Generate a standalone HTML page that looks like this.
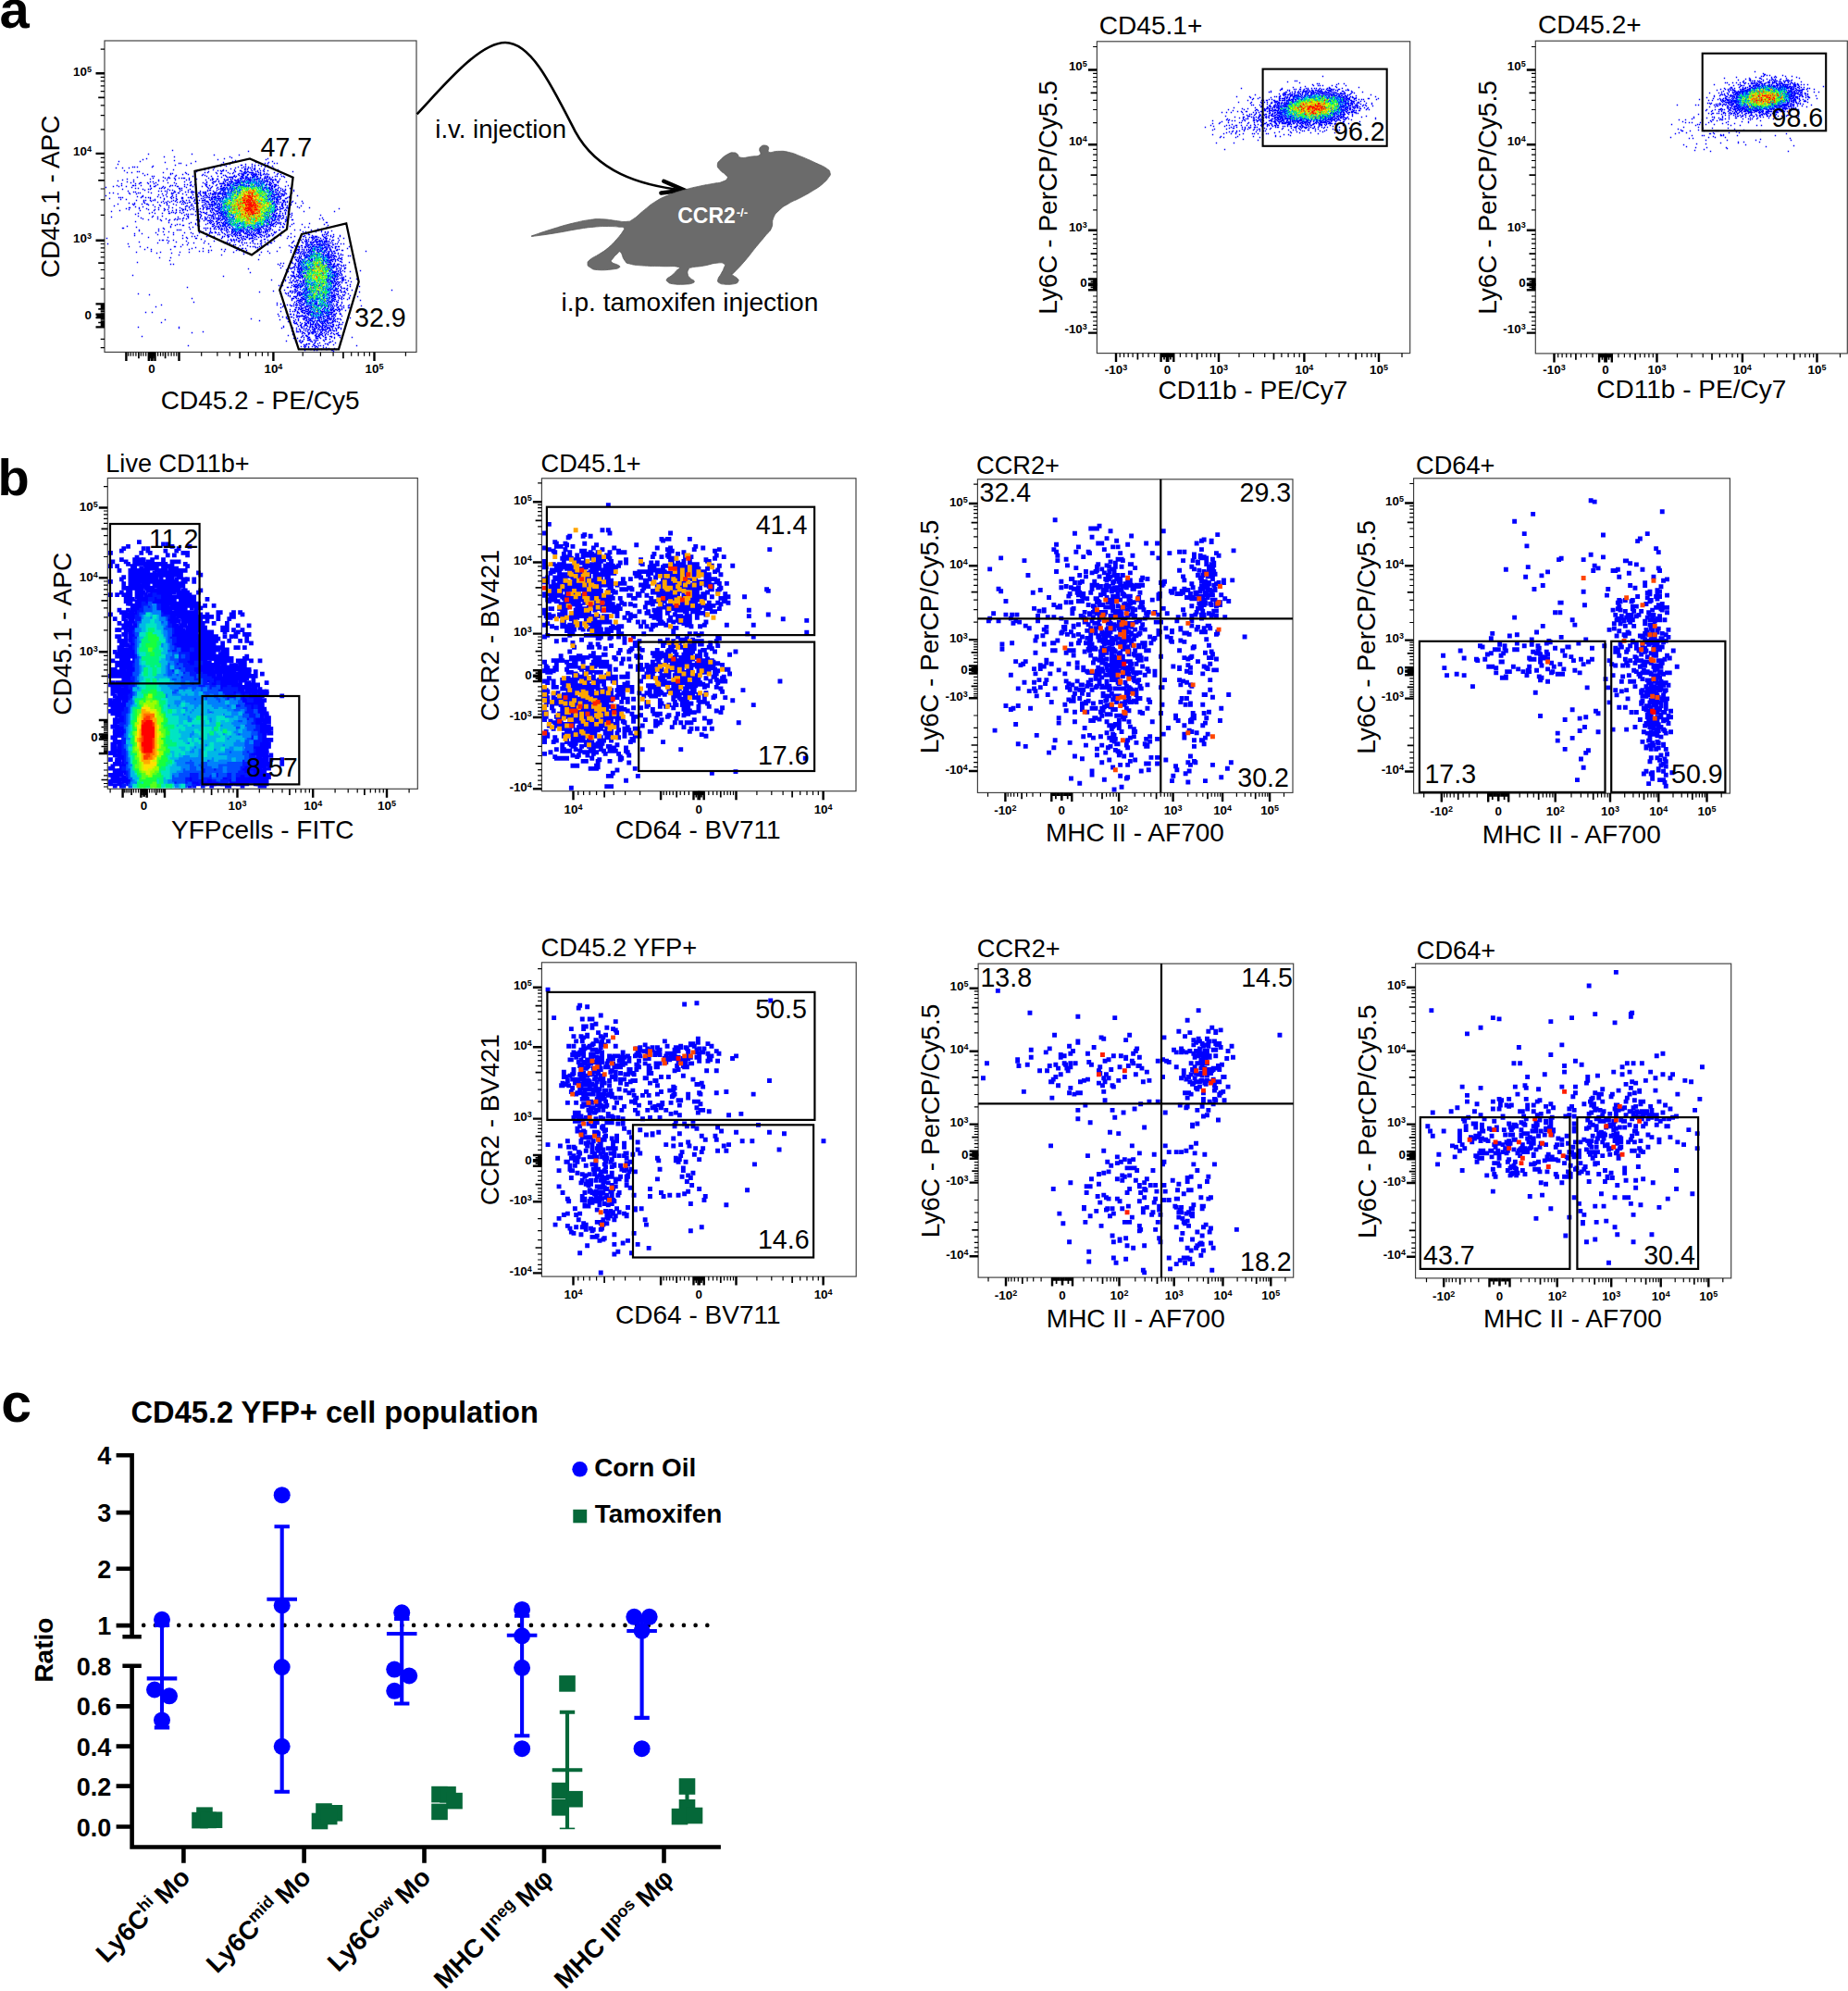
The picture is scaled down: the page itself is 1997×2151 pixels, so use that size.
<!DOCTYPE html>
<html lang="en"><head><meta charset="utf-8"><title>Figure</title>
<style>html,body{margin:0;padding:0;background:#fff;overflow:hidden}svg{display:block}text{font-family:"Liberation Sans",sans-serif}</style></head>
<body>
<svg width="1997" height="2151" viewBox="0 0 1997 2151" font-family="'Liberation Sans', sans-serif" shape-rendering="auto">
<text x="-0.5" y="30.4" font-size="58" font-weight="bold">a</text>
<rect x="113" y="44" width="337" height="336.4" fill="#fff" stroke="#3c3c3c" stroke-width="1.15"/>
<g transform="translate(113.5 44.5) scale(1)" fill="none" stroke-linecap="square" stroke-width="1.4">
<path d="M73 118h0m82 1h0m-108 3h0m47 0h0m24 1h0m27 0h0m-81 2h0m11 0h0m60 0h0m2 1h0m-92 1h0m84 0h0m47 0h0m-135 1h0m81 0h0m52 0h0m-99 1h0m66 0h0m-126 1h0m23 0h0m60 0h0m40 0h0m43 0h0m-116 1h0m63 0h0m35 0h0m14 0h0m-97 1h0m2 0h0m11 0h0m80 0h0m3 0h0m7 0h0m3 0h0m-172 1h0m112 0h0m2 0h0m7 0h0m17 0h0m7 0h0m10 0h0m-93 1h0m12 0h0m41 0h0m18 0h1m14 0h0m4 0h0m10 0h0m-124 1h0m73 0h0m6 0h0m21 0h0m7 0h0m3 0h0m7 0h0m12 0h0m-151 1h0m2 0h0m3 0h0m16 0h0m93 0h0m6 0h0m23 0h0m4 0h0m-165 1h0m7 0h0m7 0h0m92 0h0m23 0h0m7 0h0m9 0h0m5 0h0m20 0h0m-115 1h0m45 0h0m24 0h0m31 0h0m-93 1h0m34 0h0m9 0h0m11 0h0m12 0h0m11 0h0m11 0h0m10 0h0m15 0h0m-166 1h0m101 0h0m5 0h1m3 0h0m9 0h0m7 0h0m18 0h0m3 0h0m8 0h0m-141 1h0m2 0h0m62 0h0m13 0h0m29 0h0m22 0h0m40 0h0m-179 1h0m5 0h0m34 0h0m24 0h0m21 0h0m3 0h0m9 0h0m13 0h0m6 0h0m12 0h0m2 0h0m30 0h0m-142 1h0m30 0h0m2 0h0m15 0h0m33 0h0m4 0h1m9 0h0m10 0h0m4 0h0m14 0h0m12 0h0m12 0h0m-141 1h0m25 0h0m13 0h0m6 0h0m16 0h0m38 0h0m11 0h0m18 0h0m2 0h0m2 0h0m9 0h0m4 0h0m-147 1h0m34 0h0m28 0h0m3 0h0m20 0h0m12 0h0m22 0h0m7 0h0m-118 1h0m2 0h0m23 0h0m19 0h0m15 0h0m5 0h0m7 0h0m9 0h0m8 0h1m25 0h0m19 0h0m2 0h0m5 0h0m2 0h0m-158 1h0m28 0h0m6 0h0m57 0h0m52 0h0m3 0h0m13 0h0m-142 1h0m13 0h0m3 0h0m2 0h0m5 0h0m5 0h0m3 0h0m2 0h1m5 0h0m21 0h0m4 0h0m-92 1h0m25 0h0m27 0h0m15 0h0m8 0h0m17 0h1m4 0h1m11 0h0m51 0h0m5 0h0m-170 1h0m12 0h0m27 0h0m9 0h0m9 0h0m12 0h0m3 0h0m18 0h0m5 0h0m15 0h0m15 0h0m12 0h0m25 0h0m-167 1h0m44 0h0m5 0h0m57 0h0m3 0h0m21 0h0m44 0h0m-164 1h0m7 0h0m18 0h0m3 0h0m34 0h0m7 0h0m24 0h2m4 0h0m22 0h0m36 0h0m5 0h1m9 0h0m-168 1h0m10 0h1m7 0h0m9 0h0m13 0h0m7 0h0m17 0h0m14 0h0m4 0h0m6 0h0m12 0h0m13 0h0m-123 1h0m15 0h0m4 0h0m10 0h0m6 0h0m24 0h0m40 0h0m7 0h0m5 0h0m26 0h0m23 0h0m-121 1h0m29 0h0m3 0h0m4 0h0m4 0h1m12 0h0m73 0h0m2 0h0m-172 1h0m5 0h0m12 0h1m2 0h0m6 0h0m10 0h0m6 0h0m16 0h0m2 0h0m3 0h0m16 0h1m16 0h0m4 0h0m27 0h0m45 0h0m2 0h0m11 0h0m-189 1h0m6 0h0m8 0h0m26 0h0m4 0h1m9 0h0m7 0h0m8 0h1m7 0h0m9 0h0m10 0h0m11 0h0m9 0h0m70 0h0m-194 1h0m28 0h0m36 0h0m23 0h0m23 0h0m4 0h0m7 0h0m7 0h0m44 0h0m10 0h0m5 0h0m-155 1h0m3 0h0m14 0h0m9 0h0m2 0h0m3 0h0m16 0h1m2 0h0m31 0h0m12 0h0m2 0h0m2 0h0m60 0h0m10 0h0m-181 1h0m22 0h0m6 0h0m2 0h0m19 0h0m13 0h0m11 0h0m103 0h0m6 0h0m-158 1h0m27 0h0m3 0h0m10 0h0m7 0h0m21 0h0m2 0h0m8 0h0m59 0h0m24 0h0m-179 1h0m33 0h0m3 0h0m4 0h0m2 0h0m8 0h0m6 0h0m13 0h0m9 0h0m8 0h0m68 0h0m25 0h0m-173 1h0m2 0h0m14 0h0m28 0h1m11 0h0m3 0h0m3 0h0m2 0h0m3 0h0m5 0h0m3 0h0m-101 1h0m4 0h0m17 0h0m10 0h0m2 0h0m12 0h0m17 0h0m5 0h0m7 0h1m14 0h0m8 0h0m5 0h0m12 0h0m8 0h0m75 0h0m-188 1h0m13 0h0m7 0h0m28 0h0m10 0h1m11 0h0m19 0h0m5 0h0m8 0h0m8 0h0m72 0h0m-138 1h0m8 0h0m11 0h0m11 0h0m12 0h0m3 0h0m14 0h0m2 0h0m61 0h0m13 0h0m-192 1h0m40 0h0m22 0h0m10 0h0m40 0h0m95 0h0m-173 1h0m5 0h1m16 0h0m10 0h0m10 0h0m16 0h0m6 0h0m90 0h0m-174 1h0m2 0h0m2 0h0m20 0h0m5 0h0m3 0h0m2 0h0m11 0h0m11 0h0m3 0h0m9 0h1m6 0h0m2 0h1m3 0h0m12 0h0m2 0h0m7 0h0m80 0h0m2 0h0m2 0h0m-196 1h0m44 0h0m15 0h0m8 0h0m5 0h0m6 0h0m11 0h0m12 0h0m84 0h0m6 0h0m5 0h0m-184 1h0m6 0h0m31 0h0m10 0h0m14 0h0m-44 1h0m8 0h0m7 0h0m3 0h0m2 0h0m20 0h0m3 0h0m7 0h0m4 0h0m9 0h0m5 0h0m12 0h0m72 0h0m-136 1h0m18 0h0m4 0h0m10 0h0m3 0h0m11 0h0m14 0h0m73 0h0m20 0h0m10 0h0m-171 1h0m15 0h0m4 0h0m5 0h0m4 0h0m8 0h0m8 0h0m5 0h1m33 0h0m65 0h0m12 0h0m-176 1h0m6 0h0m11 0h0m21 0h0m3 0h0m20 0h0m2 0h0m9 0h0m3 0h0m105 0h0m8 0h0m-200 1h0m16 0h0m2 0h0m8 0h0m5 0h1m21 0h0m7 0h0m9 0h0m2 0h0m9 0h0m19 0h0m78 0h0m4 0h0m6 0h0m-170 1h0m16 0h0m5 0h0m7 0h0m8 0h0m10 0h0m16 0h0m17 0h0m91 0h0m-191 1h0m50 0h0m9 0h0m19 0h0m5 0h0m2 0h0m5 0h0m112 0h0m-179 1h0m8 0h0m13 0h0m33 0h0m12 0h1m6 0h0m3 0h0m80 0h0m19 0h0m-182 1h1m10 0h0m21 0h0m11 0h0m4 0h0m8 0h0m26 0h0m12 0h0m77 0h0m2 0h1m11 0h0m11 0h0m-198 1h0m14 0h0m8 0h0m19 0h0m19 0h0m4 0h0m7 0h0m9 0h0m3 0h0m4 0h0m3 0h0m2 0h1m70 0h0m12 0h0m55 0h0m-227 1h0m21 0h0m7 0h0m4 0h0m7 0h0m3 0h0m9 0h0m7 0h0m3 0h0m5 0h0m4 0h0m3 0h0m2 0h0m5 0h0m73 0h0m10 0h0m-173 1h0m22 0h0m15 0h0m11 0h0m9 0h0m4 0h0m4 0h0m3 0h0m5 0h0m-82 1h0m62 0h0m29 0h0m3 0h0m2 0h0m17 0h0m69 0h0m9 0h0m17 0h0m33 0h0m-197 1h0m21 0h0m2 0h0m3 0h0m4 0h0m4 0h0m21 0h1m3 0h0m7 0h0m81 0h0m-162 1h0m12 0h0m6 0h0m8 0h0m7 0h1m6 0h0m7 0h0m25 0h0m73 0h0m5 0h0m3 0h0m13 0h0m-169 1h0m55 0h0m2 0h0m3 0h0m2 0h0m7 0h1m7 0h0m90 0h0m-114 1h0m12 0h0m6 0h0m27 0h0m61 0h0m10 0h0m31 0h0m-197 1h0m16 0h0m10 0h0m27 0h1m35 0h0m2 0h0m66 0h0m-186 1h0m44 0h0m6 0h0m22 0h0m11 0h0m18 0h0m3 0h0m73 0h0m5 0h0m12 0h0m-162 1h0m46 0h0m5 0h0m10 0h0m9 0h0m4 0h0m4 0h0m72 0h0m3 0h1m42 0h0m-194 1h0m16 0h0m9 0h0m10 0h0m3 0h0m2 0h0m3 0h0m4 0h0m17 0h0m3 0h0m10 0h0m5 0h0m16 0h0m52 0h0m5 0h0m36 0h0m-185 1h0m13 0h0m10 0h0m5 0h0m3 0h0m21 0h0m3 0h0m93 0h0m2 0h0m5 0h1m33 0h0m-175 1h0m8 0h0m15 0h0m18 0h0m9 0h1m9 0h0m75 0h0m-163 1h0m152 0h0m10 0h0m-126 1h0m24 0h0m95 0h0m51 0h1m-149 1h0m7 0h0m13 0h0m10 0h0m62 0h0m4 0h0m2 0h0m4 0h0m11 0h0m17 0h0m-149 1h0m6 0h0m3 0h0m17 0h0m3 0h0m8 0h0m8 0h0m4 0h0m64 0h0m5 0h0m4 0h0m8 0h0m11 0h0m24 0h0m-161 1h0m8 0h1m15 0h0m25 0h0m116 0h0m-217 1h0m47 0h0m31 0h0m80 0h0m10 0h0m8 0h0m-166 1h0m37 0h0m20 0h0m4 0h0m24 0h0m3 0h1m66 0h0m3 0h0m24 0h0m4 0h0m20 0h0m-221 1h1m43 0h0m44 0h0m2 0h0m2 0h0m3 0h0m21 0h0m104 0h0m-181 1h0m6 0h0m28 0h0m26 0h0m2 0h0m45 0h0m65 0h0m4 0h0m-197 1h0m41 0h0m2 0h0m2 0h0m27 0h0m17 0h0m5 0h0m2 0h0m42 0h0m6 0h0m7 0h1m16 0h0m6 0h0m12 0h0m8 0h0m-194 1h0m21 0h0m45 0h0m11 0h0m24 0h0m7 0h0m89 0h0m11 0h0m-182 1h0m6 0h0m37 0h0m8 0h0m5 0h0m7 0h0m8 0h0m49 0h0m8 0h0m23 0h0m3 0h0m6 0h0m5 0h0m6 0h0m4 0h0m-183 1h0m19 0h0m12 0h0m7 0h0m9 0h0m13 0h1m3 0h1m3 0h0m4 0h0m56 0h1m7 0h0m50 0h0m-209 1h0m8 0h0m55 0h0m15 0h0m3 0h0m16 0h0m31 0h0m20 0h0m21 0h0m17 0h0m-161 1h0m7 0h0m10 0h0m48 0h0m2 0h0m6 0h0m3 0h0m6 0h0m15 0h0m13 0h0m10 0h0m5 0h0m38 0h1m14 0h0m4 0h0m8 0h0m-215 1h0m52 0h0m16 0h0m11 0h0m48 0h0m11 0h0m2 0h0m6 0h0m3 0h0m9 0h0m26 0h0m19 0h0m6 0h0m13 0h0m-160 1h0m3 0h0m13 0h0m8 0h0m9 0h0m11 0h0m12 0h0m14 0h0m4 0h0m9 0h0m21 0h0m7 0h0m9 0h1m13 0h1m7 0h0m8 0h0m3 0h0m7 0h0m-207 1h0m21 0h0m20 0h0m30 0h0m9 0h0m26 0h0m9 0h0m7 0h0m6 0h0m8 0h0m18 0h0m16 0h0m6 0h0m2 0h0m4 0h0m2 0h0m15 0h0m-244 1h0m82 0h0m5 0h0m9 0h1m27 0h0m19 0h0m5 0h0m6 0h0m2 0h1m38 0h0m42 0h0m13 0h0m6 0h0m-154 1h0m32 0h0m12 0h0m3 0h0m11 0h0m10 0h1m9 0h0m28 0h0m4 0h0m6 0h0m5 0h0m18 0h0m-184 1h0m3 0h1m4 0h0m7 0h0m50 0h0m13 0h0m23 0h0m16 0h0m33 0h0m3 0h0m6 0h0m28 0h1m6 0h0m-184 1h0m19 0h0m20 0h0m10 0h0m19 0h0m7 0h0m15 0h1m8 0h0m15 0h0m21 0h0m12 0h0m4 0h0m12 0h0m8 0h0m5 0h0m-208 1h0m40 0h0m55 0h0m8 0h0m29 0h0m4 0h0m30 0h0m10 0h0m5 0h0m12 0h0m22 0h0m-195 1h0m11 0h0m22 0h0m6 0h0m11 0h0m22 0h0m6 0h0m13 0h0m3 0h0m2 0h0m4 0h0m3 0h0m19 0h1m22 0h0m6 0h1m5 0h0m5 0h0m-216 1h0m22 0h0m87 0h0m22 0h0m28 0h0m3 0h0m3 0h1m6 0h0m74 0h0m2 0h0m4 0h0m3 0h0m-174 1h0m5 0h0m50 0h0m2 0h0m8 0h0m27 0h0m41 0h0m29 0h1m-108 1h0m7 0h0m8 0h0m15 0h0m30 0h0m6 0h0m2 0h0m5 0h1m-187 1h0m12 0h0m37 0h1m6 0h0m32 0h0m43 0h0m3 0h0m2 0h0m5 0h0m3 0h0m31 0h0m9 0h0m12 0h0m30 0h1m11 0h0m-218 1h0m52 0h0m42 0h0m4 0h0m19 0h0m2 0h0m24 0h0m13 0h1m36 0h0m10 0h0m-155 1h0m12 0h0m42 0h1m3 0h0m71 0h0m3 0h0m36 0h0m-219 1h0m7 0h0m21 0h0m20 0h0m35 0h0m4 0h0m13 0h0m22 0h0m43 0h0m43 0h0m2 0h0m-141 1h0m3 0h0m27 0h0m3 0h0m8 0h0m48 0h0m5 0h1m49 0h1m-207 1h0m52 0h0m4 0h0m23 0h0m35 0h1m11 0h0m10 0h0m96 0h0m-248 1h0m26 0h0m21 0h0m10 0h0m21 0h0m27 0h0m11 0h0m3 0h0m16 0h0m32 0h0m5 0h0m11 0h0m13 0h0m-174 1h0m16 0h0m106 0h0m31 0h0m40 0h0m3 0h0m-102 1h0m61 0h0m44 0h0m-175 1h0m46 0h0m41 0h0m52 0h0m22 0h0m3 0h0m11 0h0m2 0h0m-47 1h0m35 0h0m8 0h0m10 0h0m2 0h0m-59 1h0m44 0h0m-191 1h0m12 0h0m134 0h0m42 0h0m6 0h0m3 0h0m12 0h0m-48 1h0m6 0h0m26 0h0m3 0h0m-89 1h0m43 0h0m36 0h0m6 0h0m5 0h0m-186 1h0m132 0h0m5 0h0m45 0h0m-51 1h0m53 0h1m-220 1h0m167 0h0m54 0h0m8 0h0m-74 1h0m3 0h0m10 0h0m14 0h0m-146 1h0m3 0h0m113 0h0m18 0h0m36 0h0m10 0h0m2 0h0m-64 1h0m10 0h0m56 0h0m3 0h0m2 0h0m-68 1h0m60 0h0m4 0h0m2 0h0m-49 1h0m-19 1h0m10 0h0m2 0h1m2 0h0m7 0h0m38 0h0m3 0h0m7 0h0m-105 1h0m46 0h0m42 0h0m16 0h0m-63 1h0m80 1h0m-78 1h0m49 0h0m12 0h0m6 0h0m-108 1h0m98 1h0m-225 2h0m171 0h0m-73 1h0m74 0h0m2 0h0m56 0h0m-62 1h0m46 0h0m-43 1h0m4 0h0m60 0h0m-14 1h0m7 0h0m14 0h0m-92 1h0m15 0h0m0 1h0m19 0h0m42 0h1m6 0h0m-58 1h1m5 0h1m2 0h0m34 0h0m6 0h0m12 0h0m-75 1h0m8 0h0m2 0h1m54 0h0m4 0h1m-43 2h0m33 0h0m14 0h0m-77 1h0m4 0h0m17 0h0m2 0h0m2 0h0m49 0h0m-54 1h0m47 0h0m10 0h0m10 0h0m-186 1h0m108 0h1m8 0h0m49 0h0m-37 1h0m32 0h0m6 0h0m3 0h0m-48 1h0m50 0h0m-67 1h0m61 0h0m7 0h0m5 0h0m43 0h0m-128 1h0m19 0h0m2 0h0m13 0h0m31 0h0m-80 1h0m33 0h0m3 0h0m8 0h0m41 0h0m3 0h0m3 0h1m16 0h0m-85 1h0m5 0h0m3 0h0m4 0h0m58 0h0m-224 1h0m160 0h0m2 0h0m14 0h0m51 0h0m8 0h0m-223 1h0m163 0h0m46 0h0m2 0h0m-61 1h0m2 0h0m8 0h0m57 0h0m-65 1h0m6 0h0m31 0h0m15 0h0m21 0h0m-61 1h0m41 0h0m11 0h0m-170 1h0m109 0h1m19 0h0m32 0h0m9 0h0m-62 1h0m12 0h0m35 0h0m7 0h0m6 0h0m14 1h0m-180 2h0m109 0h0m46 0h0m5 0h0m-70 1h0m21 0h0m9 0h0m40 0h0m-66 1h0m14 0h0m43 0h0m3 0h1m-190 1h0m125 0h0m7 0h0m4 0h0m3 0h0m8 0h0m2 0h0m41 0h0m13 0h0m-71 1h1m7 0h1m5 0h0m13 0h0m11 0h0m27 0h0m5 0h0m14 0h0m-222 1h0m137 0h0m64 0h0m-66 1h0m19 0h0m3 0h0m46 0h0m5 0h1m-17 1h0m-47 1h0m12 0h0m40 0h1m-40 1h0m31 0h0m16 0h0m-70 1h0m10 0h0m3 0h0m2 0h0m3 0h0m-164 1h0m7 0h0m145 0h0m20 0h0m0 1h0m24 0h0m-53 1h0m13 0h0m19 0h0m30 0h0m5 0h1m-67 2h0m23 0h0m2 0h0m43 0h0m-64 1h0m4 0h0m3 0h0m2 0h1m16 0h0m7 0h0m52 0h0m-81 1h0m29 0h0m5 0h0m18 0h0m17 0h0m-107 1h0m39 0h0m17 0h0m4 0h0m24 0h1m9 0h0m2 0h0m-189 1h0m124 0h0m17 0h0m3 0h0m23 0h0m12 0h0m11 0h0m-88 1h0m37 0h0m5 0h0m12 0h0m-23 1h0m7 0h0m46 0h0m-190 1h0m143 0h0m7 0h0m22 0h0m20 0h0m4 0h0m-52 1h1m7 0h0m5 0h0m-6 1h0m41 0h0m3 0h0m-44 1h0m6 0h0m-25 1h0m19 0h0m3 0h0m18 0h0m-197 1h0m44 0h0m113 0h0m9 0h0m10 0h0m10 0h0m7 0h0m24 0h0m-173 1h0m111 0h0m12 0h0m4 0h0m11 0h0m13 0h0m21 0h0m3 0h0m-38 1h0m26 0h0m7 0h0m5 0h0m-48 1h0m25 0h0m12 0h0m6 0h0m-48 1h0m9 0h0m11 0h0m16 0h0m9 0h1m-142 1h0m101 0h2m2 0h0m2 0h0m17 0h0m11 0h0m-147 1h0m121 0h0m6 0h0m2 0h0m18 0h0m4 0h0m7 0h0m-49 1h1m16 0h0m5 0h0m7 0h0m7 0h0m8 0h0m4 0h0m-48 1h0m35 0h0m10 0h0m-50 1h0m16 0h0m14 0h0m4 0h0m6 0h0m14 0h2m-214 1h0m173 0h0m23 0h0m-4 1h0m6 0h0m7 0h0m3 0h0m6 0h0m13 0h0m-63 1h0m4 0h0m22 0h0m18 0h0m-33 1h0m23 0h0m18 0h0m-45 1h0m9 0h0m16 0h0m-40 1h0m10 0h1m6 0h1m8 0h0m15 0h0m9 0h0m-35 1h0m2 0h0m30 0h1m-37 1h0m20 0h0m15 0h0m7 0h0m5 0h0m-36 1h0m3 0h0m5 0h0m4 0h0m8 0h0m2 0h0m-25 1h0m2 0h0m24 0h0m6 0h0m-157 1h0m141 0h0m2 0h0m3 0h0m36 0h0m-60 1h0m3 0h0m5 0h0m4 0h0m4 0h0m25 0h0m-33 1h0m16 0h0m3 0h0m3 1h0m6 0h0m-26 1h1m7 0h0m4 0h0m5 0h1m10 0h0m-34 1h0m10 0h0m3 0h0m16 0h1m1 1h0" stroke="#0000ff"/>
<path d="M155 136h0m-3 1h0m3 0h0m4 0h0m-8 1h0m3 0h0m7 0h1m10 0h0m-20 1h0m9 0h0m-36 1h0m21 0h0m13 0h0m12 0h0m-45 1h0m22 0h0m3 0h1m13 0h0m-9 1h1m9 0h0m-28 1h0m9 0h0m12 0h0m9 0h0m4 0h0m-18 1h0m6 0h0m3 0h0m-33 1h0m15 0h0m9 0h0m-12 1h0m5 0h0m2 0h0m11 0h0m13 0h0m3 0h0m-44 1h0m2 0h1m6 0h0m7 0h0m4 0h0m5 0h0m4 0h0m7 0h0m5 0h0m2 0h1m-38 1h0m9 0h0m2 0h0m4 0h0m6 0h0m-30 1h0m7 0h0m2 0h0m6 0h0m10 0h0m7 0h0m19 0h0m-64 1h0m15 0h1m8 0h1m2 0h0m8 0h0m4 0h0m24 0h0m3 0h0m2 0h1m-9 1h0m5 0h0m-71 1h0m18 0h0m2 0h0m8 0h0m12 0h0m11 0h0m-18 1h1m10 0h1m24 0h0m3 0h0m5 0h0m-79 1h0m17 0h0m2 0h1m8 0h0m5 0h0m12 0h0m11 0h0m-55 1h0m12 0h0m11 0h0m7 0h0m36 0h0m-55 1h0m12 0h0m23 0h0m-45 1h0m16 0h0m58 0h0m-122 1h0m66 0h0m37 0h0m5 0h0m8 0h0m2 0h0m-68 1h0m9 0h0m4 0h0m16 0h0m37 0h0m3 0h0m6 0h0m-64 1h0m6 0h0m50 0h0m6 0h0m7 0h0m-78 1h0m12 0h0m7 0h0m4 0h0m49 0h1m3 0h0m5 0h0m-78 1h0m11 0h0m8 0h0m45 0h0m11 0h0m2 0h0m-98 1h0m12 0h1m9 0h0m11 0h0m7 0h0m42 0h0m10 0h1m-115 1h0m24 0h0m3 0h0m5 0h0m3 0h0m5 0h0m8 0h1m71 0h1m-86 1h0m3 0h0m2 0h0m8 0h1m67 0h2m-97 1h0m14 0h0m78 0h0m5 0h0m2 0h0m-90 1h0m3 0h0m2 0h0m18 0h0m52 0h0m9 0h0m3 0h0m2 0h0m-121 1h0m28 0h1m5 0h0m5 0h0m5 0h0m3 0h0m62 0h0m5 0h0m4 0h0m9 0h0m-87 1h1m2 0h0m15 0h0m54 0h0m5 0h0m-105 1h0m20 0h0m15 0h0m2 0h0m64 0h0m10 0h0m-98 1h0m11 0h0m5 0h0m2 0h1m69 0h0m2 0h0m-143 1h0m47 0h0m9 0h0m5 0h3m73 0h0m11 0h2m-152 1h0m21 0h0m13 0h0m33 0h0m2 0h0m5 0h0m77 0h1m3 0h0m-116 1h0m3 0h0m21 0h0m2 0h0m5 0h0m3 0h0m3 0h0m67 0h0m3 0h0m5 0h0m2 0h0m2 0h0m-100 1h0m21 0h1m4 0h0m59 0h0m10 0h0m-84 1h0m4 0h0m6 0h0m8 0h0m66 0h0m-86 1h0m2 0h0m8 0h1m2 0h0m72 0h0m4 0h0m4 0h0m-110 1h0m16 0h0m11 0h0m75 0h1m5 0h0m-106 1h0m20 0h0m12 0h0m69 0h0m-101 1h0m5 0h0m24 0h0m6 0h0m63 0h0m4 0h0m4 0h0m-7 1h2m-107 1h0m31 0h0m13 0h0m66 0h0m-81 1h0m2 0h0m3 0h0m66 0h0m9 0h0m2 0h0m-82 1h0m7 0h1m3 0h0m59 0h0m6 0h0m-86 1h0m11 0h0m8 0h0m72 0h0m-86 1h0m9 0h0m3 0h1m2 0h0m68 0h0m3 0h0m-78 1h0m2 0h0m7 0h0m2 0h0m47 0h0m20 0h0m-83 1h2m2 0h0m3 0h0m4 0h0m66 0h0m-85 1h0m13 0h0m59 0h0m9 0h0m3 0h0m2 0h0m-87 1h0m14 0h0m22 0h0m57 0h0m-93 1h0m12 0h0m-5 1h0m7 0h0m3 0h0m2 0h0m2 0h0m3 0h0m-13 1h0m69 0h0m5 0h0m-81 1h0m8 0h1m9 0h0m5 0h0m43 0h0m9 0h1m5 0h0m-86 1h0m12 0h0m3 0h0m3 0h0m9 0h0m51 0h0m-65 1h0m7 0h0m4 0h0m2 0h0m3 0h0m59 0h0m-76 1h0m4 0h0m9 0h0m55 0h0m-58 1h0m5 0h0m6 0h0m30 0h0m3 0h0m10 0h0m3 0h1m-64 1h0m9 0h0m17 0h0m30 0h0m2 0h0m3 0h0m-63 1h1m3 0h0m3 0h0m9 0h0m47 0h0m5 0h0m-53 1h0m3 0h0m20 0h0m22 0h0m2 0h0m15 0h0m-75 1h0m8 0h0m3 0h0m15 0h0m14 0h0m16 0h0m-60 1h0m9 0h0m3 0h1m12 0h1m34 0h0m4 0h1m-54 1h0m4 0h0m9 0h0m5 0h0m26 0h0m7 0h0m-45 1h0m19 0h0m4 0h1m12 0h0m8 0h0m3 0h0m-46 1h0m5 0h0m5 0h0m2 0h0m5 0h0m22 0h0m2 0h1m2 0h0m9 0h0m56 0h0m-128 1h0m19 0h0m5 0h0m30 0h0m4 0h0m2 0h0m65 0h0m-101 1h0m4 0h0m4 0h0m7 0h0m13 0h1m9 0h0m45 0h0m20 0h0m-105 1h0m26 0h0m7 0h1m5 0h0m63 0h0m-104 1h0m4 0h0m8 0h2m16 0h0m14 0h0m47 0h0m20 0h0m-115 1h0m4 0h1m7 0h0m8 0h0m3 0h0m20 0h0m3 0h0m50 0h0m-92 1h0m10 0h0m4 0h0m7 0h0m5 0h0m7 0h0m55 0h0m3 0h0m3 0h0m10 0h1m-94 1h0m4 0h0m9 0h0m3 0h0m66 0h0m7 0h0m5 0h0m2 0h0m-101 1h0m3 0h0m10 0h0m4 0h0m8 0h0m65 0h1m9 0h0m-106 1h0m3 0h0m3 0h1m2 0h0m4 0h0m3 0h0m20 0h0m-24 1h0m72 0h1m9 0h0m10 0h1m4 0h0m-97 1h0m3 0h0m75 0h0m2 0h0m4 0h0m8 0h0m-20 1h0m12 0h0m6 0h0m9 0h0m2 0h0m-28 1h0m20 0h0m4 0h0m-22 1h1m5 0h1m14 0h0m-4 1h0m5 0h1m-37 1h0m3 0h0m7 0h1m22 0h0m6 0h0m4 0h1m-40 1h0m3 0h0m3 0h1m13 0h0m3 0h0m10 0h0m3 0h0m3 1h0m-40 1h1m3 0h0m5 0h0m17 0h0m8 0h1m-35 1h0m6 0h0m35 0h1m-41 1h0m5 0h0m7 0h0m12 0h0m9 0h0m2 0h0m3 0h0m-41 1h0m2 0h0m3 0h0m3 0h0m4 0h0m4 0h0m6 0h0m13 0h0m3 0h0m-37 1h0m3 0h0m31 0h0m4 0h0m2 0h0m-42 1h0m7 0h0m13 0h0m19 0h0m7 0h0m-37 1h0m20 0h0m12 0h0m-31 1h0m13 0h0m12 0h0m5 0h2m-44 1h0m8 0h0m21 0h0m8 0h0m2 0h0m5 0h0m-40 1h0m3 0h0m20 0h0m9 0h0m-30 1h0m38 0h0m6 0h0m-48 1h1m37 0h0m3 0h0m-28 1h0m2 0h1m22 0h0m5 0h0m-38 1h0m4 0h0m8 0h0m26 0h0m-48 1h0m5 1h0m5 1h0m33 0h0m8 0h0m-46 1h0m4 0h0m-5 1h0m4 0h0m35 0h0m6 0h0m-46 1h0m8 0h0m-1 1h0m44 0h0m4 0h0m-47 1h0m43 0h0m-50 1h0m3 0h0m36 0h0m6 0h0m4 0h0m0 1h0m3 0h0m-55 1h0m2 0h0m4 0h0m3 0h0m41 0h0m3 0h0m-52 1h1m6 0h2m35 0h1m-44 1h0m10 0h1m37 0h0m-45 1h0m41 0h0m2 0h0m6 0h0m-53 1h1m37 0h0m7 0h0m8 0h0m-53 1h0m5 0h0m33 0h0m4 0h1m3 0h0m3 0h0m-47 1h0m4 0h0m2 0h0m45 0h0m2 0h0m-52 1h0m5 0h0m43 0h0m2 0h1m-9 1h0m2 0h0m7 0h0m-57 1h0m4 0h0m5 0h0m33 0h0m2 0h0m14 0h0m2 0h0m-57 1h0m4 0h1m3 0h0m33 0h0m-43 1h0m45 0h0m5 0h1m-44 1h0m45 0h0m-38 1h0m30 0h0m7 0h0m-48 1h0m2 0h0m9 0h0m7 0h0m32 0h0m-52 1h0m51 0h0m-49 1h0m2 0h1m38 0h0m3 0h0m-47 1h0m22 0h0m20 1h0m9 0h0m6 0h0m4 0h0m-57 1h1m15 0h0m17 0h0m6 0h0m5 0h0m-43 1h0m2 0h0m9 0h0m4 0h0m23 0h0m3 0h0m7 0h0m-54 1h0m5 0h0m2 0h0m52 0h0m-53 1h0m3 0h1m5 0h0m41 0h0m-48 1h0m6 0h0m31 0h0m7 1h0m-44 1h0m2 0h0m37 0h0m4 0h1m-42 1h0m19 0h0m16 0h0m3 0h0m6 0h0m4 0h0m-54 1h1m2 0h0m7 0h0m15 0h0m27 0h0m-50 1h0m37 0h0m13 0h0m-54 1h0m5 0h0m2 0h0m5 0h0m22 0h0m4 0h1m12 0h0m5 0h0m-41 1h0m17 0h0m-32 1h0m6 0h0m3 0h0m2 0h0m4 0h0m16 0h0m12 0h0m7 0h0m-45 1h0m3 0h0m2 0h0m30 0h0m6 0h0m-39 1h0m4 0h0m28 0h0m4 0h0m-38 2h0m-1 1h0m29 0h0m20 0h0m-51 1h0m44 0h0m2 0h0m4 0h0m-37 1h0m24 0h0m11 0h0m-46 1h1m3 0h0m11 0h0m26 0h0m5 0h0m-42 1h0m7 0h0m19 0h0m10 0h0m7 0h0m3 0h0m-51 1h1m3 0h0m9 0h0m28 0h0m3 0h1m4 0h0m2 0h0m-16 1h0m5 0h0m3 0h0m3 0h0m3 0h0m-42 1h0m5 0h0m18 0h1m6 0h0m6 0h0m5 0h0m-44 1h0m5 0h0m6 0h0m2 0h0m7 0h0m13 0h1m2 0h1m-38 1h0m2 0h0m5 0h0m24 0h0m11 0h0m4 0h0m-53 1h0m3 0h0m16 0h0m21 0h0m2 0h1m3 0h0m-43 1h0m3 0h0m6 0h0m15 0h0m12 0h0m8 0h0m-40 1h2m6 0h0m9 0h1m10 0h0m9 0h0m2 0h0m-40 1h1m2 0h0m5 0h0m13 0h0m10 0h0m7 0h0m-41 1h0m13 0h0m7 0h0m-9 1h1m5 0h0m20 0h0m10 0h0m-36 1h0m23 0h0m11 0h0m-10 1h0m2 0h0m5 0h0m-14 1h0m5 0h0m12 0h0m-42 1h0m34 0h0m2 0h0m3 0h0m-39 1h0m27 0h0m7 0h0m-33 1h0m16 0h0m7 0h0m16 0h0m7 0h0m-25 1h0m7 0h0m7 0h0m4 0h0m3 0h0m2 0h0m-43 1h0m13 0h0m2 0h0m4 0h0m3 0h0m4 0h0m11 0h1m-34 1h0m8 0h0m4 0h0m3 0h0m12 0h0m5 0h0m7 0h0m-39 1h0m2 0h0m20 0h0m6 0h0m2 0h0m3 0h0m3 0h0m-39 1h0m11 0h0m6 0h0m4 0h0m4 0h1m-25 1h0m4 0h0m4 0h1m10 0h0m5 0h0m2 0h0m2 0h0m7 0h0m-29 1h0m25 0h0m2 0h0m6 0h0m-31 1h0m7 0h0m2 0h0m11 0h0m-25 1h0m6 0h0m5 0h0m-12 1h0m3 0h0m19 0h0m9 0h0m6 0h0m-30 1h0m21 0h0m11 0h0m-35 1h0m18 0h0m-17 1h1m9 0h1m2 0h0m12 0h2m-33 1h0m3 0h0m5 0h1m18 0h0m-20 1h1m8 0h0m5 0h0m-12 1h1m17 0h0m4 0h0m-24 1h0m2 0h0m7 0h0m2 0h0m-20 1h0m13 0h0m5 0h0m-4 1h0m3 0h0m-15 1h0m20 0h0m-12 1h0m-2 1h0m7 0h0m-9 1h0m10 0h1m-10 1h0m12 0h0m-13 1h0m11 0h0m3 0h0m-3 2h0" stroke="#0000ff"/>
<path d="M154 139h0m4 0h0m-4 2h1m17 0h0m-14 1h2m8 0h0m-17 1h1m-3 1h0m9 0h0m3 0h1m4 0h0m2 0h0m3 0h0m-11 1h0m8 0h0m-7 1h1m13 0h0m-39 1h0m2 0h0m11 0h0m4 0h1m5 0h0m5 0h0m-14 1h0m2 0h0m3 0h0m18 0h0m5 0h0m-31 1h1m4 0h0m4 0h1m5 0h0m2 0h0m3 0h0m3 0h0m5 0h0m2 0h0m-44 1h0m24 0h1m4 0h0m13 0h0m-45 1h0m7 0h0m4 0h0m6 0h0m4 0h0m5 0h1m5 0h0m11 0h0m2 0h0m-41 1h2m13 0h0m20 0h0m6 0h1m2 0h0m-46 1h0m13 0h0m33 0h0m-52 1h0m7 0h0m2 0h0m4 0h0m4 0h0m-13 1h0m3 0h1m44 0h1m5 0h0m-58 1h0m3 0h1m3 0h0m9 0h0m7 0h1m6 0h0m13 0h0m9 0h1m5 0h0m-40 1h0m9 0h0m13 0h0m15 0h0m-33 1h0m26 0h0m-47 1h0m5 0h0m6 0h0m4 0h0m26 0h0m4 0h0m2 0h0m2 0h1m3 0h0m-53 1h0m3 0h0m2 0h0m43 0h0m6 0h0m-56 2h0m53 0h0m4 0h0m11 0h0m-73 1h0m8 0h0m2 0h0m3 0h0m10 0h0m33 0h0m5 0h0m-63 1h0m2 0h0m11 0h0m47 0h0m-61 1h1m2 0h0m7 0h0m2 0h1m5 0h0m8 0h0m44 0h1m-72 1h0m11 0h0m2 0h2m7 0h0m44 0h1m-73 1h0m21 0h0m44 0h0m8 0h0m-65 1h0m2 0h0m2 0h0m2 0h0m4 0h0m42 0h0m6 0h0m4 0h0m8 0h0m-70 1h1m7 0h0m-11 1h1m7 0h2m61 0h0m-59 1h0m51 0h0m-58 1h0m-3 1h1m3 0h0m5 0h1m48 0h0m10 0h0m2 0h0m-76 1h0m5 0h0m15 0h0m55 0h0m-77 1h0m74 0h0m-67 1h0m3 0h0m5 0h0m8 0h0m49 0h0m3 0h0m2 0h0m2 0h0m-74 1h0m7 0h0m5 0h0m5 0h0m61 0h0m-68 1h0m7 0h0m4 0h0m50 0h0m-71 1h0m2 0h0m70 0h0m-76 1h0m11 0h0m4 0h0m5 0h0m54 0h0m-73 1h1m5 0h0m5 0h0m-12 1h0m8 0h0m66 0h0m2 0h1m-66 1h0m60 0h0m2 0h1m-56 1h0m-4 1h0m3 0h0m56 0h0m-55 1h0m45 0h0m-52 1h0m6 0h0m5 0h0m51 0h0m-58 1h0m53 0h0m5 0h0m5 0h0m-73 1h1m7 0h0m50 0h0m8 0h0m3 0h0m3 0h0m-68 1h0m4 0h0m7 0h0m55 0h0m-64 1h0m2 0h0m2 0h0m3 0h0m7 0h0m44 0h0m8 0h0m-58 1h0m47 0h0m5 0h0m6 0h0m-78 1h0m13 0h0m4 0h0m4 0h0m4 0h2m48 0h0m2 0h0m-73 1h0m18 0h0m44 0h1m5 0h0m-60 1h0m57 0h0m-65 1h0m10 0h1m8 0h0m42 0h0m4 0h0m2 0h0m6 0h0m-64 1h0m6 0h0m2 0h1m15 0h0m21 0h0m13 0h0m-64 1h0m12 0h0m2 0h0m3 0h0m17 0h0m22 0h0m-43 1h1m12 0h0m38 0h1m-59 1h0m3 0h0m2 0h0m44 0h0m-36 1h0m3 0h0m17 0h0m6 0h0m4 0h0m4 0h0m-45 1h0m7 0h0m32 0h0m8 0h0m8 0h0m-47 1h0m5 0h1m4 0h0m4 0h0m16 0h0m2 0h0m8 0h0m5 0h0m-31 1h0m18 0h0m2 0h1m7 0h0m-37 1h0m3 0h1m5 0h0m12 0h0m8 0h0m7 0h0m-34 1h0m8 0h0m3 0h0m3 0h0m6 0h0m6 0h2m2 0h0m-19 1h0m4 0h0m7 0h0m7 0h0m-28 1h0m11 0h0m2 0h0m4 0h0m6 0h0m-23 1h0m2 0h0m5 0h0m8 0h1m4 0h0m2 0h0m-30 1h0m11 0h0m11 0h0m8 0h0m-8 1h0m6 0h0m67 0h0m12 0h0m-15 2h0m-7 1h0m11 0h0m8 0h0m-12 1h0m3 0h1m6 0h0m5 0h0m-6 1h2m-13 1h0m6 0h0m4 0h0m8 0h0m2 0h0m-20 1h0m2 0h1m12 0h0m-6 1h1m8 0h0m-16 1h0m6 0h2m2 0h1m2 0h0m-19 1h0m7 0h0m7 0h0m2 0h1m-11 1h0m2 0h0m2 0h0m3 0h0m10 0h0m-21 1h0m9 0h0m6 0h0m2 0h1m3 0h0m-6 1h0m5 0h0m3 0h0m-28 1h0m5 0h0m2 0h0m2 0h0m6 0h1m8 0h1m-22 1h0m4 0h0m12 0h0m5 0h0m5 0h0m-24 1h1m3 0h1m8 0h0m8 0h0m6 0h0m-27 1h0m16 0h0m3 0h0m-25 1h0m2 0h0m25 0h0m-26 1h0m8 0h0m4 0h0m3 0h0m2 0h0m10 0h0m-20 1h1m2 0h0m13 0h0m4 0h0m-30 1h0m24 0h0m2 0h0m2 0h0m9 0h0m-39 1h0m8 0h0m3 0h0m5 0h0m18 0h0m-34 1h0m6 0h0m21 0h0m6 0h0m2 0h0m-33 1h0m30 0h0m-28 1h0m9 0h0m14 0h0m2 0h0m7 0h0m3 0h0m-40 1h0m20 0h0m7 0h1m3 0h0m3 0h0m2 0h0m-37 1h1m3 0h0m10 0h0m17 0h0m2 0h0m-31 1h0m11 0h0m5 0h0m18 0h0m4 1h0m-39 1h0m15 0h0m2 0h0m14 0h0m7 0h1m-27 1h0m26 0h0m4 0h0m-41 1h0m3 0h1m3 0h1m30 0h1m-42 1h0m33 0h0m5 0h2m-32 1h1m20 0h0m5 0h0m6 0h0m-38 1h0m5 0h0m6 0h0m31 0h0m-39 1h1m-3 1h0m32 0h0m10 0h0m-42 1h0m33 0h0m6 0h1m-41 1h0m36 0h0m4 0h0m5 0h0m-44 1h0m7 0h0m24 0h0m3 0h0m4 0h0m-38 1h0m2 0h0m15 0h0m19 0h0m5 0h0m2 0h0m-2 1h0m3 0h0m-49 1h0m2 0h0m2 0h0m39 0h0m2 0h0m-36 1h0m35 0h0m-33 1h0m30 0h1m-8 1h0m3 0h0m10 0h0m4 0h0m-49 1h0m7 0h0m36 0h0m7 0h0m-9 1h0m-33 1h0m30 0h0m-28 1h1m24 0h0m8 0h0m-40 1h0m7 0h0m4 0h0m2 0h0m11 0h0m13 0h0m2 0h1m-43 1h0m6 0h0m29 0h0m-37 1h0m9 0h0m15 0h0m15 0h0m3 0h2m-44 1h0m7 0h1m3 0h0m36 0h0m-45 1h0m2 0h0m2 0h0m24 0h0m9 0h0m2 1h0m3 0h0m-8 1h0m10 0h0m-33 1h0m24 0h0m6 0h0m-25 1h0m8 0h0m10 0h0m9 0h2m-9 1h0m-38 1h0m5 0h0m2 0h0m7 0h0m2 0h0m6 0h0m19 0h0m2 0h0m-39 1h0m5 0h4m14 0h0m8 0h0m2 0h0m3 0h0m5 0h0m-37 1h0m35 0h0m-31 1h1m28 0h1m2 0h0m-4 1h1m2 0h0m-28 1h0m16 0h0m9 0h0m3 0h0m-33 1h0m13 0h0m2 0h1m16 0h0m-36 1h0m4 0h0m33 0h0m-39 1h0m18 0h0m19 0h1m-36 1h0m6 0h0m20 0h0m2 0h0m11 0h0m-32 1h0m5 0h0m5 0h0m24 0h0m-42 1h1m4 0h0m6 0h0m19 0h0m3 0h0m-31 1h0m2 0h0m6 0h0m7 0h0m11 0h0m-25 1h0m2 0h0m13 0h0m4 0h0m-21 1h0m7 0h0m5 0h0m7 0h0m7 0h0m2 0h0m7 0h0m-34 1h0m4 0h0m2 0h1m23 0h0m4 0h0m-32 1h0m2 0h0m22 0h0m13 0h0m-39 1h2m6 0h0m20 0h1m-30 1h0m12 0h0m2 0h0m10 0h0m5 0h0m4 0h0m-38 1h0m9 0h1m4 0h0m10 0h0m17 0h0m-34 1h0m8 0h1m18 0h0m7 0h0m-39 1h0m5 0h0m10 0h0m14 0h0m4 0h0m-16 1h1m12 0h0m7 0h0m-20 1h0m8 0h0m3 0h0m9 0h0m3 0h0m-26 1h0m3 0h0m-13 1h0m2 0h1m22 0h0m4 0h0m5 0h0m3 0h0m-32 1h0m2 0h0m14 0h0m3 0h0m4 0h0m-24 1h0m4 0h0m7 0h0m5 0h0m9 0h0m6 0h0m-38 1h0m13 0h0m2 0h0m3 0h0m9 0h0m8 0h1m2 0h0m-29 1h0m4 0h0m-5 1h0m5 0h1m4 0h0m2 0h3m6 0h0m2 0h0m8 0h0m-23 1h1m3 0h0m11 0h0m6 0h1m-31 1h0m3 0h1m2 0h0m7 0h0m16 0h0m-25 1h0m2 0h0m6 0h0m7 0h1m2 0h0m6 0h0m-28 1h1m5 0h1m2 0h0m3 0h0m7 0h0m11 0h0m-35 1h0m5 0h0m6 0h0m5 0h0m4 0h1m3 0h0m6 0h0m-22 1h0m8 0h0m11 0h1m6 0h0m-21 1h0m10 0h0m3 0h0m-8 1h0m13 0h0m-18 1h0m2 0h0m14 0h0m-15 1h0m2 0h0m6 0h0m3 0h0m7 0h0m-17 1h0m9 0h0m-11 1h0m9 0h0m-9 1h0m9 0h1m3 0h0m-16 1h0m3 0h0m4 1h0m3 0h0m2 0h1m-16 1h0m9 0h0m4 0h0m-1 1h0m-2 1h0m1 1h0m-3 2h0" stroke="#0000ff"/>
<path d="M150 142h0m11 1h0m-13 1h0m2 0h0m14 0h0m-15 1h1m9 0h0m4 0h0m-15 1h0m16 0h0m-27 1h0m23 0h0m-14 1h0m19 0h1m2 0h0m4 0h0m2 0h0m-19 1h0m10 0h0m14 0h0m-43 1h0m10 0h0m18 0h0m6 0h0m2 0h0m-30 1h0m3 0h0m4 0h0m18 0h0m7 0h0m-37 1h0m6 0h1m13 0h0m7 0h0m2 0h0m5 0h0m-34 1h0m5 0h0m4 0h0m10 0h1m5 0h0m6 0h0m4 0h0m-30 1h0m4 0h0m17 0h0m3 0h0m3 0h0m2 0h0m9 0h0m-42 1h0m8 0h0m4 0h0m9 0h0m15 0h0m3 0h0m-43 1h1m6 0h0m2 0h0m3 0h2m5 0h0m8 0h0m3 0h0m2 0h0m8 0h0m7 0h0m-45 1h0m2 0h0m14 0h0m3 0h0m5 0h0m8 0h0m2 0h0m10 0h0m3 0h0m-52 1h0m4 0h1m22 0h0m-23 1h0m2 0h0m16 0h0m17 0h0m-45 1h0m9 0h0m2 0h0m4 0h0m31 0h0m7 0h0m-51 1h2m16 0h0m3 0h0m23 0h0m5 0h0m8 0h0m-47 1h0m6 0h0m29 0h0m-48 1h0m17 0h0m32 0h0m9 0h0m2 0h1m-61 1h1m5 0h0m3 0h0m7 0h0m29 0h0m-44 1h0m3 0h0m53 0h0m4 0h1m-64 1h0m62 0h1m-63 1h0m13 0h0m42 0h0m3 0h0m-57 1h0m8 0h0m51 0h0m-62 1h0m8 0h0m3 0h0m52 0h0m4 0h0m-65 1h0m5 0h0m4 0h0m4 0h0m43 0h0m3 0h0m2 0h0m-65 1h0m5 0h0m58 0h0m5 0h0m3 0h0m-67 1h0m2 0h0m12 0h0m51 0h0m-63 1h0m6 1h0m5 0h0m48 0h0m-63 1h0m61 0h0m5 0h0m-71 1h0m7 0h0m-9 1h0m2 0h0m9 0h0m60 0h0m-71 2h0m8 0h1m4 0h1m10 0h0m47 0h1m-61 1h0m-1 1h1m10 0h0m-11 1h1m-1 1h0m4 1h0m5 0h0m43 0h0m3 0h0m5 0h0m-57 1h0m3 0h1m7 0h0m35 0h0m3 0h0m2 0h0m4 0h0m-56 1h1m3 0h2m54 0h0m-55 1h0m5 0h0m11 0h0m36 0h0m-56 1h0m10 0h0m10 0h0m36 0h0m2 0h0m-56 1h1m10 0h0m32 0h0m11 0h0m-55 1h0m4 0h0m4 0h0m3 0h0m38 0h1m5 0h0m-53 1h0m3 0h0m5 0h0m37 0h0m3 0h0m7 0h0m-53 1h0m9 0h0m40 0h0m4 0h0m-61 1h0m4 0h0m5 0h0m36 0h0m8 0h0m2 0h0m3 0h0m-46 1h0m-2 1h1m3 0h0m2 0h0m34 0h0m4 0h0m-47 1h0m6 0h0m40 0h0m8 0h0m-52 1h0m3 0h0m3 0h0m5 0h0m2 0h0m3 0h0m20 0h0m3 0h0m6 0h0m2 1h0m-46 1h0m29 0h0m4 0h0m6 0h0m-44 1h0m2 0h0m13 0h0m14 0h0m12 0h0m5 0h1m-32 1h0m6 0h0m7 0h0m14 0h0m-24 1h0m2 0h0m2 0h1m6 0h0m2 0h0m7 0h2m-24 1h0m6 0h0m4 0h0m4 0h1m7 0h0m2 0h0m-21 1h2m7 0h0m6 0h0m3 0h0m-18 1h1m13 0h0m2 0h0m-22 1h0m-3 1h0m3 0h0m2 0h0m2 0h1m6 0h0m4 0h0m2 0h0m6 0h0m2 0h0m-23 1h0m3 0h0m12 1h0m-17 1h0m15 0h0m2 0h0m74 5h0m-3 1h0m2 0h0m8 0h0m-13 1h0m12 0h1m-16 2h0m6 0h0m4 0h0m3 0h0m-17 1h0m4 0h0m6 0h0m10 0h0m-19 1h0m13 0h0m8 0h0m-22 1h0m6 0h0m4 0h0m-8 1h0m2 0h0m1 1h0m3 0h0m7 0h0m2 0h0m3 0h0m-13 1h1m2 0h0m-8 1h0m8 0h0m9 0h0m-25 1h0m10 0h0m7 0h0m2 0h0m5 0h0m-11 1h0m5 0h0m4 0h0m-14 1h0m2 0h0m2 0h0m6 0h0m6 0h0m-19 1h0m11 0h0m5 0h0m2 0h0m5 0h0m-25 1h0m8 0h0m5 0h0m7 0h0m3 0h0m-24 1h0m3 0h0m2 0h1m21 0h0m-25 1h0m2 0h0m4 0h0m11 0h2m-19 1h1m9 0h0m2 0h0m7 0h0m5 0h1m-19 1h1m-11 1h0m3 0h0m4 0h0m4 0h0m12 0h0m4 0h0m-29 1h0m3 0h0m10 0h0m3 0h0m4 0h0m3 0h0m7 0h0m-24 1h0m21 0h0m5 0h0m3 0h0m-34 1h1m3 0h0m19 0h0m7 0h1m-33 1h0m10 0h0m15 0h0m4 0h0m5 0h0m-30 1h0m22 0h0m6 0h1m2 0h0m-36 1h0m3 0h0m13 0h0m10 0h0m7 0h0m-18 1h0m6 0h0m11 0h0m5 0h1m-32 1h0m3 0h0m4 0h0m15 0h0m5 0h0m6 0h0m-40 1h1m4 0h0m25 0h0m5 0h0m-33 1h1m6 0h0m4 0h0m2 0h0m-13 1h0m5 0h0m5 0h0m19 0h0m2 0h0m-29 1h1m10 0h0m16 0h0m4 0h0m3 0h0m-37 1h0m4 0h0m6 0h1m7 0h0m21 0h0m-31 1h0m4 0h0m17 0h0m8 0h0m-11 1h0m16 0h0m-42 2h0m2 0h0m2 0h0m5 0h0m29 0h0m2 0h0m-37 1h2m28 0h0m-32 1h0m3 0h0m28 0h0m5 0h0m5 0h0m-38 1h0m6 0h0m25 0h0m4 0h0m-32 1h0m0 1h0m2 0h0m30 0h0m-33 1h0m2 0h0m14 0h0m9 0h1m4 0h0m-4 1h0m3 0h0m5 0h0m-35 1h1m9 0h0m21 0h1m-34 1h0m24 0h0m-27 1h0m16 0h1m6 0h0m17 0h0m-41 1h0m9 0h0m7 0h0m7 0h1m-21 1h0m8 0h0m8 0h0m9 0h0m11 0h0m-30 1h0m8 0h0m22 0h0m-39 1h0m7 0h0m2 0h0m14 0h0m-14 1h2m26 0h0m5 0h0m-37 1h0m3 0h0m25 0h0m8 0h0m-27 1h0m26 0h0m-32 1h0m2 0h0m3 0h0m4 0h0m20 0h0m-14 1h0m-23 1h0m2 0h0m3 0h0m23 0h0m5 0h0m-29 1h0m4 0h0m8 0h0m13 0h0m4 0h0m-30 1h0m5 0h0m4 0h0m4 0h0m11 0h1m6 0h0m2 0h0m-26 1h0m29 0h0m-34 1h0m9 0h0m10 0h0m10 0h0m7 0h0m-36 1h0m12 0h0m7 0h0m7 0h0m7 0h0m-34 1h0m4 0h0m13 0h0m8 0h0m8 0h0m-35 1h0m14 0h0m2 0h0m12 0h0m3 0h0m-25 1h0m8 0h1m2 0h0m2 0h0m15 0h0m2 0h0m-27 1h0m2 0h1m21 0h1m-26 1h0m4 0h0m5 0h2m12 0h0m-19 1h1m3 0h0m2 0h1m4 0h0m-19 1h0m17 0h0m6 0h0m5 0h0m2 0h1m-33 1h0m7 0h0m2 0h1m4 0h0m3 0h0m5 0h1m6 0h0m-18 1h0m11 0h0m4 0h0m6 0h0m-21 1h1m4 0h1m8 0h0m-15 1h0m22 0h0m-27 1h0m2 0h1m10 0h0m15 0h0m-31 1h0m12 0h0m7 0h0m4 0h0m-19 1h1m5 0h0m6 0h0m3 0h1m-13 1h0m3 0h1m9 0h1m4 0h0m5 0h0m-26 1h2m10 0h0m3 0h0m8 0h0m-19 1h0m5 0h0m4 0h0m4 0h0m-18 1h0m3 0h0m13 0h1m5 0h0m3 0h0m-19 1h0m8 0h0m2 0h0m7 0h0m2 0h0m-12 1h0m12 0h0m-11 1h0m2 0h1m9 0h0m-20 1h0m8 0h0m9 0h0m-20 1h0m14 0h0m5 0h0m4 0h0m4 0h0m-29 1h0m6 0h0m13 0h0m-18 1h1m14 0h1m3 0h0m-13 1h0m10 0h0m2 0h0m3 0h0m-23 1h0m8 0h0m5 0h0m-3 1h0m3 0h0m9 0h0m-22 1h0m22 0h0m5 1h0m-12 1h0m3 0h0m3 0h0m4 0h0m-16 1h0m2 0h0m12 0h0m-6 1h0m4 0h0m-12 1h0m-1 2h0m2 0h0m7 0h0m-7 1h0m2 1h0" stroke="#0000ff"/>
<path d="M152 142h0m0 4h1m4 2h0m6 1h0m-10 1h0m6 0h1m6 0h0m-13 1h1m7 0h0m7 0h2m-23 1h1m3 0h1m3 0h0m4 0h1m3 0h0m4 0h0m5 0h1m-34 1h0m10 0h1m14 0h0m7 0h0m-14 1h0m2 0h0m9 0h0m2 0h0m5 0h0m-31 1h0m3 0h2m2 0h0m11 0h0m2 0h0m2 0h0m3 0h0m-2 1h0m6 0h0m-34 1h0m11 0h1m8 0h0m3 0h0m2 0h0m-32 1h0m6 0h0m4 0h1m29 0h0m5 0h0m-37 1h0m26 0h0m-40 1h0m2 0h0m9 0h1m4 0h0m4 0h0m24 0h0m4 0h0m10 0h0m-54 1h0m4 0h0m5 0h1m6 0h0m24 0h0m2 0h0m-38 1h0m4 0h0m6 0h0m2 0h0m22 0h0m7 0h0m-36 1h0m6 0h0m41 0h0m-54 1h0m2 0h0m2 0h1m4 0h0m4 0h2m30 0h0m3 0h1m-55 1h0m56 0h0m-49 1h0m10 0h0m31 0h0m3 0h1m-45 1h0m-4 1h1m5 0h0m6 0h0m30 0h0m4 0h0m8 0h0m4 0h0m-52 1h0m7 0h0m44 0h0m-58 1h0m10 0h0m44 0h0m-63 1h0m6 0h0m7 0h0m42 0h3m3 0h0m3 0h0m-58 1h0m4 0h0m6 0h0m44 0h0m-49 1h0m12 0h0m32 0h0m5 0h1m-59 1h0m7 0h1m15 0h0m32 0h0m6 0h0m-55 1h2m8 0h0m-17 1h0m3 0h0m13 0h0m5 0h0m28 0h0m11 0h0m2 0h0m-48 1h0m45 0h0m4 0h0m-65 1h0m4 0h0m4 0h0m3 0h0m3 0h0m-4 1h2m3 0h0m3 0h0m42 0h0m-47 1h0m50 0h0m2 0h0m-56 1h0m49 0h0m2 0h0m-52 1h0m6 0h0m3 0h0m8 0h0m30 0h0m4 0h0m-52 1h0m4 0h1m2 0h0m2 0h1m42 0h0m-51 1h0m4 0h0m6 0h0m31 0h0m12 0h2m-50 1h0m2 0h0m43 0h0m-44 1h0m2 0h0m44 0h0m-44 1h0m3 0h0m4 0h0m33 0h0m6 0h0m-52 1h0m9 0h1m47 0h0m-55 1h0m3 0h0m8 0h0m29 0h0m2 0h0m6 0h0m-50 1h0m5 0h0m41 0h0m7 0h0m-50 1h0m7 0h0m20 0h0m17 0h0m5 0h0m-52 1h0m9 0h0m31 0h0m-35 1h0m5 0h0m32 0h0m3 0h1m-2 1h0m-37 1h0m14 0h0m-3 1h0m3 0h0m11 0h0m8 0h0m7 0h0m-41 1h0m7 0h0m13 0h0m11 0h1m-32 1h0m2 0h0m3 0h2m2 0h0m13 0h0m7 0h0m12 0h0m2 0h0m-49 1h0m6 0h0m2 0h0m9 0h0m20 0h0m-28 1h0m7 0h0m3 0h0m2 0h1m13 0h0m2 0h1m4 0h0m2 0h0m-25 1h0m3 0h0m12 0h0m5 0h0m-26 2h0m6 0h0m6 0h0m7 0h0m7 0h0m-27 1h1m4 0h0m7 0h0m2 0h0m6 0h0m-21 1h0m14 0h0m9 0h0m3 0h0m-10 1h1m77 11h0m2 0h0m1 3h0m-9 2h0m5 0h0m6 0h0m-11 1h0m4 0h0m2 1h0m0 1h0m-9 1h0m3 0h0m3 0h0m2 0h1m4 0h0m1 1h0m-1 1h0m-9 2h0m12 0h0m-22 1h0m2 0h0m12 0h0m8 0h0m-23 1h0m7 0h0m6 0h0m9 0h0m-17 1h0m7 0h0m10 0h0m-6 1h0m5 0h0m-22 1h0m5 0h0m6 0h0m8 0h1m-15 1h0m20 0h0m1 1h0m-28 1h0m4 0h0m6 0h0m2 0h0m-12 1h0m3 0h0m14 0h0m5 0h0m4 0h0m-31 1h0m2 0h0m2 0h0m3 0h0m9 0h0m9 0h0m2 0h0m-21 1h0m15 0h0m4 0h0m-19 1h0m16 0h0m5 0h0m7 0h0m-23 1h0m2 0h0m4 0h0m-9 1h0m0 1h2m3 0h0m3 0h1m16 0h0m4 0h0m-28 1h0m6 0h1m10 0h0m6 0h0m4 0h0m-36 1h0m9 0h1m26 0h0m-1 1h0m-20 1h0m6 0h0m16 0h0m-31 1h1m-5 1h0m22 0h0m17 0h0m-21 1h0m15 0h0m-28 1h0m3 0h0m3 0h0m13 0h1m6 0h1m3 0h0m-31 1h0m3 0h0m5 0h0m20 0h0m-26 1h0m19 0h0m9 0h0m-35 1h0m31 0h0m-22 1h1m20 0h0m7 0h0m-8 1h2m2 0h0m4 0h0m-26 1h0m25 0h0m-20 1h0m7 0h0m6 0h0m4 0h0m-24 1h0m7 0h0m3 0h0m11 0h0m7 0h0m-34 1h0m5 0h0m17 0h0m8 0h0m-23 1h0m20 0h0m-30 1h0m13 0h0m3 0h0m13 0h0m-8 1h0m6 0h0m2 0h0m2 0h0m-29 1h0m6 0h0m4 0h0m6 0h0m12 0h0m-20 1h0m5 0h1m7 0h0m3 0h0m3 0h0m3 0h0m-27 1h0m20 0h1m4 0h0m2 0h0m4 0h0m-31 1h0m9 0h1m3 0h0m2 0h0m6 0h0m7 0h0m-24 1h0m2 0h0m5 0h0m3 0h1m4 0h0m4 0h0m-24 1h0m5 0h1m11 0h0m8 0h0m5 0h0m-27 1h0m5 0h1m10 0h0m2 0h0m2 0h0m6 0h0m-18 1h0m5 0h0m-13 1h0m4 0h1m9 0h0m5 0h0m3 0h0m-20 1h0m4 0h0m2 0h0m-10 1h0m4 0h0m4 0h0m17 0h0m-24 1h3m5 0h1m2 0h0m2 0h0m8 0h0m-20 1h0m7 0h0m5 0h0m14 0h0m-20 1h1m4 0h0m2 0h0m3 0h0m9 0h0m4 0h0m-27 1h0m21 0h0m-22 1h0m10 0h0m15 0h0m-26 1h0m12 0h0m7 0h1m-13 1h0m12 0h0m9 0h0m-11 1h0m-16 1h0m23 0h0m2 0h0m-18 1h0m8 0h0m-7 1h0m-4 1h0m3 0h0m20 0h0m-18 1h0m3 0h0m8 0h0m-11 1h0m4 0h0m6 0h0m6 0h0m-21 1h0m7 0h0m2 0h0m10 0h0m-15 1h0m11 0h1m-11 1h0m4 0h0m-10 1h0m7 0h0m6 0h1m-6 1h1m12 0h0m-19 1h0m18 0h0m-9 2h0m-9 1h0m13 0h0m-11 1h0m12 0h0m-6 1h0m5 1h0m-12 1h0m9 0h0m3 0h0m-10 1h0m16 1h0m-5 2h0" stroke="#0044ff"/>
<path d="M162 147h0m4 2h0m-19 1h0m14 0h0m-6 1h0m11 0h0m-12 1h0m4 0h0m-18 1h0m7 0h0m5 0h1m7 0h1m2 0h0m3 0h0m4 0h0m-30 1h0m5 0h0m5 0h0m12 0h0m3 0h0m-29 1h0m7 0h0m24 0h0m3 0h0m-31 1h0m12 0h1m13 0h0m5 0h0m-23 1h0m7 0h0m3 0h0m4 0h0m-16 1h0m2 0h0m5 0h0m3 0h0m2 0h0m5 0h0m6 0h0m7 0h0m-42 1h0m3 0h0m3 0h0m6 0h0m13 0h0m17 0h0m-32 1h0m2 0h0m2 0h0m8 0h0m4 0h0m5 1h0m5 0h0m-36 1h0m8 0h0m4 0h0m4 0h0m9 0h0m19 0h0m-40 1h0m3 0h0m26 0h0m5 0h0m4 0h0m2 0h0m2 0h0m-44 1h0m31 0h1m5 0h0m2 0h0m-42 1h1m3 0h1m2 0h0m5 0h0m26 0h0m3 0h0m10 0h0m-48 1h0m9 0h0m19 0h0m5 0h0m-32 1h1m2 0h0m29 0h1m-29 1h0m33 0h0m-41 1h0m2 0h0m2 0h0m2 0h0m39 0h0m2 0h0m6 0h0m-53 1h1m3 0h0m3 0h0m2 0h0m32 0h0m3 0h0m3 0h0m-59 1h0m14 0h0m3 0h0m8 0h0m-18 1h0m4 0h1m44 0h1m3 0h0m-55 1h0m3 0h0m5 0h0m34 0h0m2 0h0m-32 1h0m2 0h0m2 0h0m36 0h0m3 0h0m-14 1h0m-36 1h0m-1 1h1m7 0h0m41 0h0m-45 1h0m6 0h0m39 0h0m2 0h0m3 0h1m-49 1h0m42 0h0m-48 1h0m5 0h1m2 0h0m28 0h0m12 0h0m3 0h0m-55 1h0m3 0h0m7 0h0m7 0h0m32 0h0m5 0h0m-54 1h0m3 0h0m10 0h0m28 0h0m16 0h1m-50 1h0m12 0h0m27 0h0m-39 1h0m-5 1h0m14 0h0m32 0h0m3 1h0m-41 1h0m3 0h0m5 0h0m28 0h1m3 0h0m-43 1h1m26 0h0m5 1h0m4 0h0m6 0h0m-2 1h0m7 0h0m-46 1h0m2 0h0m6 0h0m19 0h0m22 0h0m-49 1h0m4 0h0m23 0h0m13 0h1m2 0h0m6 0h0m-44 1h0m9 0h0m6 0h0m21 0h0m-38 1h0m5 0h0m15 0h0m14 0h0m-40 1h0m10 0h0m9 0h1m3 0h0m12 0h0m6 0h0m2 0h0m-41 1h0m14 0h0m16 0h2m7 0h0m-23 1h2m12 0h0m12 0h0m-28 1h0m2 0h0m4 0h0m6 0h0m5 0h0m7 0h0m-33 1h0m2 0h0m9 0h0m2 0h0m4 0h0m3 0h0m2 0h1m8 0h0m2 0h0m-30 1h0m13 0h1m3 0h1m2 0h0m3 1h0m2 0h0m-27 1h0m2 0h0m2 0h0m0 1h0m2 0h0m6 0h1m-10 1h0m2 0h0m17 0h0m61 16h0m11 2h0m-1 1h0m2 0h0m-9 1h0m4 0h0m-3 3h0m-4 1h0m0 2h0m2 0h0m4 1h0m2 0h0m4 1h0m-10 1h0m-5 1h1m9 1h1m7 0h0m-10 1h0m3 0h0m-12 1h0m8 0h0m13 0h0m-11 1h0m7 0h1m-17 1h0m4 0h0m15 0h0m3 0h0m-10 1h0m2 0h0m-21 1h0m10 0h1m9 0h0m-8 1h0m13 0h1m-17 1h0m4 0h0m6 0h0m8 0h0m4 0h0m-24 1h0m4 0h0m11 0h0m5 0h0m-12 1h0m6 0h0m6 0h0m5 0h1m-16 1h0m4 0h0m-16 1h0m19 0h0m2 0h0m-21 1h0m-5 1h0m3 0h0m8 0h0m2 0h0m-11 1h0m10 0h0m10 0h2m-24 1h0m30 0h0m-24 1h0m2 0h0m12 0h0m15 0h0m-24 1h0m17 0h0m10 0h0m-30 1h0m24 0h0m-25 1h0m7 0h0m16 0h0m-19 1h0m7 0h0m9 0h0m-17 1h1m14 0h0m6 0h0m-22 1h1m3 0h0m2 0h0m3 0h0m3 0h1m3 0h0m-17 1h0m16 0h0m-18 1h0m4 0h0m5 0h1m2 0h0m-10 1h0m3 0h0m2 0h0m2 0h0m6 0h0m2 0h1m2 0h0m-19 1h1m4 0h1m6 0h0m2 0h0m6 0h0m-28 1h0m5 0h0m7 0h0m4 0h0m2 0h0m14 0h1m-10 1h1m6 0h0m4 0h0m-28 1h0m3 0h0m24 0h0m-25 1h0m17 0h0m3 0h0m3 0h0m7 0h0m-26 1h1m6 0h0m7 0h0m3 0h0m5 0h0m-31 1h0m2 0h0m7 0h0m9 0h0m6 1h0m-11 1h1m12 0h0m-23 1h0m6 0h0m11 0h0m8 0h0m-17 1h0m9 0h0m4 0h0m-4 1h0m9 0h0m-29 1h0m6 0h0m3 0h0m9 0h0m8 0h0m-13 1h1m9 0h0m2 0h0m4 0h0m-22 1h0m5 0h0m-8 2h0m19 0h0m-17 1h2m3 0h0m2 0h0m4 0h0m9 0h0m-22 1h0m4 0h0m13 0h1m-14 1h0m12 0h1m-15 1h0m6 0h1m7 0h0m6 0h0m-8 1h1m5 0h0m-20 1h1m2 0h0m14 0h0m5 0h0m3 0h0m-21 1h2m2 0h0m10 0h0m3 0h1m-13 2h3m1 1h0m3 0h0m8 0h0m-19 1h0m2 0h0m8 0h0m-1 1h0m7 0h0m-11 1h0m13 1h0m-17 3h0m10 0h0m-5 1h0m-5 1h0m4 0h1m6 0h0m-6 1h0m0 1h0m1 1h0" stroke="#0092f5"/>
<path d="M160 149h0m-7 3h0m9 0h0m-4 1h0m-2 1h0m4 0h0m11 1h1m-35 1h0m12 1h0m9 0h0m5 0h0m12 0h0m-36 1h0m7 0h0m5 0h0m2 0h0m6 0h0m7 0h0m5 0h0m-8 1h0m-5 1h0m10 0h1m7 0h0m-33 1h0m9 0h0m14 0h0m11 0h0m5 0h0m-18 1h0m9 0h0m-31 1h0m9 0h0m16 0h0m13 0h0m-36 1h0m12 0h0m6 0h0m14 0h0m-35 1h0m16 0h0m7 0h0m7 0h0m-37 1h0m5 0h0m3 0h0m7 0h0m21 0h0m3 0h0m3 0h0m3 0h0m-36 1h0m29 0h0m-30 1h0m2 0h0m24 0h0m-31 1h0m11 0h0m23 0h1m-42 1h0m4 0h0m6 0h0m5 0h0m22 0h0m5 0h0m-41 1h0m4 0h0m3 0h0m23 0h0m4 0h0m-28 1h0m3 0h0m28 0h0m-39 1h0m2 0h1m7 0h0m2 0h0m27 0h0m2 0h0m2 0h0m4 0h1m-50 1h0m39 0h1m4 0h0m-39 1h0m7 0h0m5 0h0m28 0h0m6 0h0m-50 1h0m7 0h0m10 0h0m25 0h0m13 0h0m-55 1h0m44 0h0m-2 1h0m-39 1h0m3 0h0m38 0h0m2 0h0m-47 1h0m6 0h0m3 0h0m4 0h0m35 0h1m6 0h0m-53 1h0m3 0h0m7 0h0m4 0h0m37 0h0m2 0h0m-45 1h0m10 0h0m25 0h0m8 0h1m-50 1h0m7 0h0m5 0h0m36 0h1m2 0h0m-40 1h0m3 0h0m31 0h0m-31 1h0m5 0h0m19 0h0m9 0h1m-46 1h0m8 0h0m3 0h0m25 0h0m5 0h0m-45 1h0m13 0h0m19 0h0m-22 1h0m2 0h0m14 0h0m2 0h0m13 0h0m-36 1h0m14 0h0m-8 1h0m32 0h0m3 0h0m-36 1h0m5 0h0m15 0h0m8 0h0m5 0h0m-37 1h1m6 0h0m4 0h0m14 0h0m2 0h0m8 0h1m-30 1h0m2 0h0m3 0h0m4 0h0m8 0h0m4 0h0m-28 1h0m10 0h0m2 0h0m21 0h1m2 0h0m8 0h0m-40 1h0m4 0h0m3 0h0m8 0h0m5 0h2m5 0h0m2 0h0m3 0h0m-35 1h0m4 0h0m4 0h0m5 0h0m2 0h0m5 0h0m3 0h0m9 0h0m2 0h0m-25 1h0m3 0h0m13 0h0m4 0h0m-26 1h0m4 0h0m2 0h0m4 0h0m4 0h0m5 0h1m8 0h1m9 0h0m-35 1h0m9 0h0m2 0h0m2 0h0m14 0h0m-26 1h0m6 0h0m5 0h0m9 0h0m-20 1h0m2 0h0m2 0h0m6 0h0m8 0h0m3 0h0m-18 1h0m2 0h0m9 0h0m1 1h0m-15 2h0m84 18h0m-1 2h0m10 2h0m-9 2h1m3 0h0m-5 1h0m6 0h0m0 1h0m-5 1h1m4 0h1m3 0h0m-7 1h0m2 0h0m2 0h0m6 0h0m-15 1h1m2 0h0m9 0h0m3 1h0m2 0h0m-25 1h0m11 0h0m7 0h0m5 0h0m-22 1h0m12 0h0m5 0h0m-20 1h0m7 0h1m10 0h0m-13 1h0m7 0h0m3 0h0m-13 1h0m3 0h1m2 0h0m-4 1h0m3 0h0m11 0h0m-18 1h0m5 0h0m2 0h0m2 0h0m4 0h0m2 0h0m4 0h0m8 0h0m-24 1h0m-2 1h0m6 0h0m9 0h0m4 0h0m-19 1h0m9 0h1m-8 1h0m12 0h0m9 0h0m-21 1h0m5 0h0m6 0h0m13 0h0m2 0h0m-22 1h0m2 0h0m-1 1h0m15 0h0m8 0h0m-26 1h0m7 0h0m4 0h0m10 0h0m3 0h0m2 0h0m-24 1h0m3 0h1m3 0h0m4 0h0m6 0h0m2 0h1m-17 1h0m16 0h0m4 0h0m-22 1h0m6 0h0m2 0h0m8 0h0m8 0h0m-28 1h0m9 0h0m4 0h0m2 0h0m6 0h0m-16 1h1m8 0h1m11 0h0m-18 1h0m6 0h0m4 0h0m-11 1h0m7 0h0m13 0h0m-25 1h1m3 0h0m3 0h0m3 0h0m3 0h0m-9 1h0m4 0h0m-6 1h0m7 1h0m-6 1h0m5 0h1m10 0h0m2 0h1m-22 1h0m14 0h0m0 1h0m4 0h0m3 0h0m-17 1h0m20 0h0m-14 1h0m9 0h0m3 0h0m-14 1h0m5 0h0m-5 1h0m6 0h1m-15 1h1m7 0h0m8 0h0m-2 1h0m2 0h2m5 0h0m-16 1h0m15 0h0m0 1h0m-20 1h0m3 0h0m9 0h0m-18 1h0m4 0h0m8 0h0m3 1h0m2 0h0m-15 1h0m7 0h0m6 0h0m2 0h2m4 0h0m-10 1h0m12 0h1m-19 1h0m5 0h0m6 0h0m2 0h0m3 0h0m-12 1h0m6 0h0m-4 1h0m-8 1h0m11 0h1m-8 1h0m8 0h0m3 0h0m-3 2h0m6 1h0m-11 1h1m7 1h0m5 0h0m-11 2h0m2 0h0m-7 1h0m14 0h0m-13 1h0m14 0h0m3 0h0m-15 1h0m4 0h1m0 1h0m-8 1h0m16 1h0m-14 1h0m4 0h0m2 0h0m-5 1h0" stroke="#00e1d5"/>
<path d="M158 154h0m0 1h0m0 1h0m2 0h0m-14 1h0m23 0h0m-29 1h0m4 0h0m6 0h0m10 0h0m4 0h0m3 0h0m-23 1h0m3 0h0m8 0h0m4 0h1m2 0h0m3 0h0m-17 1h1m2 0h0m2 0h0m8 0h0m2 0h0m3 0h0m-13 1h1m13 0h1m7 0h0m-10 1h0m2 0h0m2 0h2m-27 1h0m2 0h0m3 0h0m13 0h3m3 0h1m-31 2h0m13 0h0m27 0h1m-39 1h0m6 0h0m2 0h0m19 0h0m2 0h0m6 0h0m-37 1h0m6 0h0m22 0h0m7 0h1m-35 1h0m8 0h0m20 0h0m11 0h0m-35 1h0m10 0h0m21 0h1m-38 1h0m5 0h0m32 0h0m-41 1h0m8 0h0m-11 1h0m8 0h0m4 0h0m21 0h0m2 0h1m7 0h0m-39 1h0m4 0h0m9 0h0m24 0h0m2 0h0m-26 1h0m26 0h0m6 0h0m-44 1h1m33 0h0m4 0h0m-44 1h0m5 0h0m14 0h0m24 0h0m5 0h0m-42 1h0m15 0h0m19 0h0m6 0h0m2 0h0m3 0h0m-39 1h0m9 0h0m29 0h0m3 0h0m-50 1h0m39 0h0m4 0h0m5 0h0m2 0h0m-54 1h0m11 0h0m6 0h0m13 0h0m12 0h2m-39 1h0m4 0h1m34 0h0m3 0h0m2 0h0m6 0h0m-50 1h0m7 0h0m34 0h0m-46 1h0m9 0h0m2 0h1m28 0h0m6 0h0m2 0h0m-30 1h0m3 0h0m16 0h0m4 0h1m4 0h0m8 0h0m-48 1h0m2 0h0m34 0h1m9 0h0m-45 1h0m2 0h0m2 0h0m3 0h1m3 0h0m26 0h0m-39 1h0m44 0h0m-18 1h0m2 0h0m5 0h0m2 0h0m5 0h0m3 0h0m-44 1h0m13 0h1m4 0h0m3 0h0m8 0h0m18 0h0m-45 1h0m15 0h0m8 0h1m3 0h0m4 0h0m-17 1h0m3 0h0m2 0h0m15 0h0m5 0h0m3 0h0m-32 1h1m5 0h0m6 0h0m2 0h0m8 0h0m6 0h0m-35 1h0m5 0h0m7 0h0m11 0h1m5 0h1m4 0h0m-32 1h0m2 0h0m4 0h0m16 0h0m-25 1h0m7 0h1m3 0h0m21 0h1m-29 1h0m19 0h0m2 0h0m10 0h0m-35 1h0m3 0h1m30 0h0m-33 1h0m14 0h0m10 0h0m-22 1h0m20 0h0m-8 1h0m9 0h0m-15 1h0m6 0h0m9 1h0m65 24h1m6 3h0m1 1h0m-6 1h0m-4 1h0m2 0h0m-3 2h0m8 0h0m2 0h0m-1 1h0m-2 1h0m3 0h0m0 1h0m-3 1h0m-7 1h0m12 0h0m5 0h0m-15 1h0m3 0h0m5 0h0m-11 1h0m4 0h0m3 0h1m0 1h0m4 0h0m-6 1h0m7 0h1m-9 1h0m4 1h0m2 0h0m3 0h0m5 0h0m-13 1h0m4 0h0m7 0h0m-16 1h1m2 0h0m7 0h1m2 0h0m-19 1h0m8 0h0m2 0h0m4 0h0m5 0h1m2 0h0m-12 1h0m3 0h0m10 0h0m-20 1h1m7 0h0m-2 1h1m3 0h0m3 0h0m2 0h0m-4 1h0m3 0h0m3 0h0m-21 1h0m23 0h1m-23 1h0m5 0h0m19 0h0m7 0h0m-32 1h0m5 0h1m3 0h0m10 0h1m2 0h1m-18 1h0m2 0h0m11 0h0m7 0h0m-14 1h0m4 0h0m2 0h0m3 0h0m-18 1h0m19 0h0m-10 1h0m2 0h0m2 0h0m5 0h0m4 0h0m-22 1h0m3 0h0m14 0h0m2 0h2m-8 1h0m14 0h0m-14 1h0m7 0h0m7 0h0m-16 1h0m6 0h0m5 0h0m-20 1h0m3 0h0m3 0h0m3 0h0m-2 1h0m3 0h1m3 0h1m-8 1h1m1 1h0m7 0h0m3 0h0m-10 1h0m-5 1h0m3 0h0m13 0h0m-15 1h1m14 0h0m-17 1h0m7 0h0m6 0h0m2 0h0m3 0h0m-11 1h0m10 0h0m-10 1h0m10 0h0m-14 1h1m4 0h0m-9 1h0m17 0h0m-11 1h0m8 0h0m-5 1h1m4 2h0m-16 2h0m14 0h0m2 2h0m-10 1h0m6 0h0m6 0h0m-3 1h0m4 1h0m-11 2h0m3 0h0m3 0h0m-1 1h0m1 4h0m-10 2h0" stroke="#00f965"/>
<path d="M148 153h0m-3 4h0m3 0h0m1 1h0m5 0h0m-6 1h0m2 0h1m5 0h0m5 0h0m8 0h0m-28 1h0m13 0h0m6 0h0m4 0h0m-2 1h0m-22 1h0m12 0h0m2 0h0m2 0h0m20 0h0m-38 1h0m12 0h0m22 0h0m-7 1h0m3 0h0m2 0h0m3 0h0m-33 1h0m6 0h0m3 0h0m5 0h0m7 0h2m3 0h2m-13 1h1m6 0h0m9 0h0m-25 1h0m21 0h0m-30 1h0m6 0h0m17 0h0m5 0h0m-18 1h0m19 0h1m3 0h0m-24 1h1m13 0h0m-20 1h0m7 0h1m16 0h0m6 0h0m2 0h1m-34 1h0m6 0h0m27 0h0m3 0h0m-31 1h0m2 0h0m2 0h0m2 0h0m2 0h0m7 0h0m7 0h0m15 0h0m-49 1h0m4 0h0m4 0h0m8 0h0m13 0h0m3 0h0m8 0h0m6 0h0m-48 1h0m3 0h0m9 0h0m3 0h0m10 0h0m13 0h0m6 0h1m-44 1h0m2 0h0m5 0h2m7 0h0m20 0h0m8 0h0m3 0h0m-42 1h0m4 0h0m5 0h0m4 0h0m22 0h0m-43 1h0m14 0h1m3 0h0m28 0h0m-36 1h3m2 0h0m6 0h0m24 0h0m6 0h0m-37 1h0m37 0h0m-38 1h0m5 0h0m5 0h0m18 0h1m-36 1h0m10 0h0m16 0h0m8 0h1m-28 1h1m9 1h0m22 0h0m4 0h0m-34 1h0m-3 1h0m5 0h0m2 0h0m4 0h0m2 0h0m18 0h0m5 0h0m-29 1h0m20 0h0m3 0h0m-27 1h1m10 0h0m8 0h0m7 0h0m3 0h0m2 0h0m-30 1h0m33 0h0m-32 1h1m9 0h0m7 0h0m5 0h2m-26 1h0m3 0h0m4 0h0m6 0h0m-5 1h1m11 0h0m2 0h0m-21 1h1m11 0h0m3 0h0m6 0h0m4 0h0m-26 1h0m5 0h0m7 0h0m5 0h0m-12 1h0m8 0h1m-6 1h3m8 0h0m-10 1h0m10 0h0m7 0h0m7 0h0m-7 1h1m-14 1h0m-8 2h0m13 1h0m67 33h0m0 1h0m3 0h0m-11 1h0m10 0h0m5 0h0m-20 2h0m14 0h0m3 0h0m-4 1h0m-1 1h0m8 0h0m-16 2h0m9 0h0m4 0h0m5 0h0m-7 1h0m5 0h0m-15 1h0m8 0h0m9 0h0m-15 1h0m4 0h0m11 1h0m-18 1h0m2 0h0m11 0h0m9 0h0m-27 1h0m8 0h0m11 0h1m4 0h0m2 0h0m-17 1h0m3 0h0m2 0h0m2 0h0m7 0h0m-18 1h0m2 0h0m4 1h0m9 0h0m-14 1h0m4 0h0m2 0h0m2 0h0m2 0h0m4 0h0m-15 1h0m3 0h0m9 0h0m2 0h0m2 0h0m4 0h0m-9 1h0m-12 1h0m14 0h0m11 0h0m-15 1h0m6 0h0m4 0h0m-7 1h0m4 0h0m-11 1h0m8 0h0m5 0h0m-18 1h0m2 1h0m11 0h0m-6 1h0m9 1h0m-5 1h0m-8 1h0m6 0h0m7 0h0m5 0h0m-10 1h0m3 0h0m-12 1h1m-2 1h0m2 0h0m10 2h0m6 1h0m-6 1h0m4 0h0m2 1h0m-10 1h0m5 0h0m2 0h0m-2 1h0m-13 1h0m2 0h0m3 0h0m-2 1h0m-2 1h0m16 2h0m1 1h0m2 5h0m-11 4h0" stroke="#45ff26"/>
<path d="M160 155h0m-8 4h0m2 0h0m-2 1h0m7 1h0m2 0h0m-19 1h0m6 0h0m3 0h0m2 0h0m7 0h0m6 0h0m-19 1h0m12 0h0m11 0h0m-21 1h0m4 0h0m10 0h0m-18 1h0m15 0h0m9 0h0m3 0h0m2 0h0m-33 1h0m6 0h0m6 0h0m7 0h0m5 0h0m7 0h0m-31 1h1m5 0h0m23 0h1m-26 1h0m5 0h0m8 0h0m3 0h0m3 0h0m-20 1h0m2 0h0m18 0h0m4 0h1m-14 1h0m11 0h0m3 0h1m5 0h0m-32 1h1m9 0h0m6 0h0m3 0h0m4 0h0m5 0h0m-27 1h0m2 0h0m24 0h1m-31 1h0m5 0h0m4 0h0m16 0h0m-31 1h0m25 0h0m4 0h0m5 0h0m6 0h1m-34 1h0m5 0h0m14 0h0m3 0h0m7 0h0m-33 1h0m28 0h0m6 0h0m-39 1h0m6 0h0m3 0h0m6 0h1m18 0h2m-32 1h0m13 0h0m12 0h0m5 0h1m4 0h0m2 0h0m4 0h0m-35 1h0m22 0h0m4 0h1m-28 1h0m6 0h1m5 0h0m-6 1h0m19 0h0m2 0h0m3 0h0m2 0h0m-32 1h1m8 0h0m4 0h0m16 0h0m5 0h0m3 0h0m-42 1h0m10 0h0m18 0h0m6 0h1m2 0h0m2 0h0m3 0h0m-44 1h0m3 0h0m3 0h1m2 0h0m5 0h0m-10 1h1m7 0h0m3 0h0m13 0h0m3 0h1m-17 1h0m8 0h0m7 0h0m2 0h0m2 0h0m-25 1h0m9 0h0m2 0h0m4 0h0m11 0h0m-34 1h0m7 0h0m5 0h0m3 0h0m14 0h0m3 0h0m-20 1h0m5 0h0m2 0h0m5 0h0m5 0h0m-20 1h0m6 0h1m3 0h0m6 0h0m3 0h0m3 0h0m5 0h0m-26 1h0m2 0h0m8 0h0m7 0h0m3 0h1m3 0h1m-27 1h0m4 0h0m2 0h0m20 0h0m-6 1h0m9 0h0m-23 1h0m3 0h0m13 0h1m3 0h0m-17 1h0m9 0h0m-19 1h0m14 1h0m2 0h0m3 0h0m-8 2h0m76 30h0m-1 3h0m5 3h0m-8 3h0m2 0h0m0 1h0m6 0h0m-14 2h0m14 0h0m-6 1h0m7 0h0m5 0h0m-6 1h0m3 0h0m2 0h0m-17 1h0m15 0h0m-7 1h0m5 0h0m0 1h0m2 0h0m6 0h0m-13 1h0m2 0h0m-2 1h0m11 0h0m-8 1h0m5 0h0m-6 1h1m-10 1h0m16 0h0m-17 1h1m6 0h0m3 0h0m0 1h0m2 0h0m-9 1h0m5 0h0m8 0h0m-19 1h0m21 0h0m-15 1h0m2 0h1m7 0h0m2 0h0m-15 1h0m4 0h0m3 1h0m1 1h0m3 1h0m3 0h0m-1 1h0m3 0h0m2 0h0m-8 2h0m-2 4h0m5 0h0m-9 1h0m5 0h0m7 0h0m-8 1h0m2 0h0m3 0h0m-10 2h0m4 0h0m8 0h0m-10 2h0m0 2h0m0 2h0m0 1h0m8 0h0m-9 9h0" stroke="#a3fd00"/>
<path d="M163 158h0m-6 1h0m0 1h0m5 0h0m-13 1h1m8 0h0m5 0h0m-13 1h0m7 0h0m2 0h0m4 0h0m-8 1h0m-13 1h0m6 0h0m3 0h0m3 0h0m7 0h0m3 0h0m-16 1h0m4 0h1m2 0h0m-5 1h0m4 0h0m4 0h0m-18 1h0m8 0h1m9 0h0m4 0h0m-16 1h0m6 0h2m9 0h0m3 0h0m8 0h0m-35 1h0m6 0h0m5 0h0m4 0h0m5 0h1m3 0h0m2 0h0m-21 1h0m17 0h0m3 0h1m3 0h0m-29 1h0m10 0h0m19 0h1m-35 1h0m14 0h0m4 0h0m6 0h0m-23 1h0m16 0h0m12 0h0m-25 1h0m4 0h1m2 0h0m4 0h0m20 0h0m-35 1h0m6 0h0m10 0h0m4 0h0m10 0h0m13 0h0m-34 1h0m7 0h1m22 0h0m3 0h0m3 0h0m-40 1h0m3 0h0m9 0h0m13 0h1m8 0h1m2 0h0m-31 1h0m2 0h0m4 0h1m2 0h0m15 0h0m7 0h0m-31 1h0m2 0h0m4 0h0m9 0h0m16 0h0m-38 1h0m13 0h0m16 0h0m6 0h1m-11 1h0m2 0h0m2 0h0m-21 1h0m7 0h0m18 0h0m-27 1h0m5 0h2m5 0h0m4 0h0m2 0h0m-27 1h0m4 0h0m13 0h0m10 0h0m6 0h0m4 0h0m-24 1h0m3 0h0m6 0h0m-19 1h0m12 0h0m4 0h0m6 0h0m10 0h0m-25 1h0m5 0h1m2 0h0m9 0h1m2 0h1m2 0h0m-23 1h0m4 0h0m7 0h0m2 0h0m7 0h0m-16 1h0m8 0h0m11 0h0m-25 1h0m9 0h0m7 0h0m11 0h0m-29 1h0m8 0h0m3 0h0m5 0h0m7 0h0m3 1h0m-20 1h0m4 0h0m13 0h0m-17 1h0m9 0h0m3 0h0m-4 1h0m8 0h0m-7 1h0m3 1h0m71 42h0m-4 1h0m4 0h0m-5 4h0m3 0h0m2 2h0m-5 2h0m2 0h1m5 0h0m-5 1h0m-2 3h0m-9 1h0m19 1h0m-11 1h0m8 0h0m4 1h0m-10 1h0m2 0h0m0 3h0m8 3h0m-1 1h0m-5 4h0m-4 5h0m11 6h0m-9 13h0" stroke="#f4ed00"/>
<path d="M156 161h1m4 1h1m-10 1h0m6 0h0m2 0h0m-10 1h0m8 0h0m2 0h0m-10 1h0m8 0h0m7 0h0m-13 1h0m12 0h0m2 0h0m-21 1h0m5 0h1m2 0h0m6 0h0m2 0h0m2 0h0m2 0h0m-14 2h1m10 0h0m-14 1h0m2 0h0m4 0h0m2 0h1m6 0h0m-21 1h0m10 0h0m5 0h0m3 0h0m7 0h0m-26 1h0m2 0h0m4 0h0m8 0h0m6 0h0m-7 1h0m2 0h0m-4 1h0m5 0h0m8 0h0m-22 1h0m5 0h0m11 0h0m-17 1h0m7 0h0m10 0h0m5 0h0m2 0h0m-23 1h0m3 0h0m8 0h0m16 0h0m-32 1h0m25 0h0m5 0h0m4 0h0m-24 1h0m2 0h0m2 0h2m3 0h0m4 0h0m4 0h1m4 0h0m-24 1h0m3 0h0m10 0h0m5 0h0m2 0h0m2 0h1m-33 1h0m8 0h0m5 0h1m10 0h1m-16 1h0m3 0h1m3 0h0m15 0h0m-20 1h1m17 0h1m-22 1h0m3 0h0m3 0h0m5 0h1m4 0h0m3 0h0m-23 1h1m14 0h0m6 0h0m-13 1h0m8 0h0m2 0h0m9 0h0m-11 1h0m-8 1h0m3 0h2m10 0h0m-20 1h0m12 0h0m3 0h0m2 0h0m2 0h0m-21 1h0m6 0h1m16 0h0m-4 1h0m-6 1h0m3 0h0m-4 1h0m2 0h0m-2 1h1m8 0h0m2 0h0m-2 1h0m-5 1h0m-4 1h0m2 0h0m77 41h0m-3 2h0m3 6h0m-6 1h0m5 1h0m3 0h0m1 1h0m-10 4h0m7 0h0m-4 3h1m-5 10h0m8 0h0" stroke="#ffa600"/>
<path d="M155 162h0m-2 1h0m3 0h1m4 0h0m-4 1h0m-1 1h0m-5 1h0m1 1h0m3 0h0m5 0h0m4 0h0m-8 1h1m-2 1h0m-6 1h0m2 0h2m-7 1h0m4 0h1m3 0h0m2 0h0m7 0h0m-14 1h0m11 0h0m2 0h0m7 0h0m-26 1h0m17 0h2m2 0h0m-18 1h0m16 0h0m-15 1h0m4 0h1m4 0h0m9 0h0m2 0h0m9 0h0m-32 1h0m2 0h0m7 0h0m7 0h1m2 0h0m5 0h0m-24 1h0m9 0h0m6 0h0m-19 1h0m4 0h0m4 0h0m7 0h1m6 0h0m2 0h0m-9 1h0m8 0h0m4 0h0m-23 1h0m6 0h0m6 0h0m4 0h2m-22 1h0m14 0h0m4 0h1m3 0h0m2 0h0m-25 1h0m18 0h0m2 0h0m2 0h0m4 0h0m-13 1h0m9 0h0m2 0h0m4 0h0m-14 1h1m3 0h1m8 0h0m-14 1h0m2 0h0m2 0h0m3 0h0m5 0h0m3 0h0m-12 1h0m7 0h0m-14 1h1m2 2h0m15 0h1m-14 1h0m1 1h0m9 0h0m-8 1h0m9 0h0m-7 1h0m6 1h0m66 49h0m2 1h0m-7 3h0m12 4h0m-8 3h0m1 1h0" stroke="#ff5300"/>
<path d="M160 161h0m-5 3h0m4 0h0m0 1h0m0 1h0m-5 1h0m2 0h1m-6 1h0m4 0h0m4 0h0m3 0h0m-13 1h0m7 0h2m0 1h1m-4 1h0m3 0h0m-8 1h1m2 0h1m2 0h1m2 0h0m-6 1h0m2 0h0m2 0h0m-7 1h1m2 0h3m2 0h0m2 0h0m-11 1h0m8 0h1m3 0h1m-10 1h0m2 0h4m-6 1h0m3 0h3m2 0h3m-10 1h0m4 0h3m5 0h0m-19 1h0m10 0h0m2 0h1m3 0h0m-10 1h0m2 0h1m2 0h0m6 0h0m-18 1h0m7 0h1m2 0h2m-6 1h0m4 0h1m2 0h0m4 0h2m-11 1h2m2 0h2m0 1h0m2 0h0m-3 1h0m2 0h0m-8 1h0m7 0h0m2 0h0m2 0h0m2 0h0m-10 1h0m2 0h0m2 0h1m-4 2h0" stroke="#ff0000"/>
</g>
<polygon points="210.5,184.8 270,171.5 316.6,191.6 310,247.6 272,275.4 215,249.5" fill="none" stroke="#000" stroke-width="2.3" stroke-linejoin="miter"/>
<polygon points="326,253 374.2,241.3 387.7,304.4 366,377.4 322.8,377.4 302.2,313.3" fill="none" stroke="#000" stroke-width="2.3" stroke-linejoin="miter"/>
<path d="M164.1 380.4v8.5" stroke="#000" stroke-width="2.6" fill="none"/>
<path d="M164.2 380.4v3.6M164.4 380.4v3.6M164 380.4v3.6" stroke="#000" stroke-width="1.3" fill="none"/>
<path d="M164.3 380.4v6.8M165.8 380.4v6.8M178.6 380.4v6.8M259.2 380.4v6.8M370.9 380.4v6.8M163.9 380.4v6.8M162.4 380.4v6.8M149.9 380.4v6.8" stroke="#000" stroke-width="1.7" fill="none"/>
<path d="M164.5 380.4v9.5M167.5 380.4v9.5M193.5 380.4v9.5M295.4 380.4v9.5M404.5 380.4v9.5M163.8 380.4v9.5M160.8 380.4v9.5M136.4 380.4v9.5" stroke="#000" stroke-width="2.4" fill="none"/>
<path d="M164.8 380.4v4.3M165.2 380.4v4.3M165.5 380.4v4.3M166.2 380.4v4.3M166.5 380.4v4.3M166.9 380.4v4.3M167.2 380.4v4.3M170.6 380.4v4.3M173.5 380.4v4.3M176.1 380.4v4.3M181.9 380.4v4.3M185.1 380.4v4.3M188 380.4v4.3M190.8 380.4v4.3M217.7 380.4v4.3M234.9 380.4v4.3M248.3 380.4v4.3M268.4 380.4v4.3M276.4 380.4v4.3M283.4 380.4v4.3M289.7 380.4v4.3M327.2 380.4v4.3M346.4 380.4v4.3M360.1 380.4v4.3M379.7 380.4v4.3M387.2 380.4v4.3M393.6 380.4v4.3M399.4 380.4v4.3M438.4 380.4v4.3M163.4 380.4v4.3M163.1 380.4v4.3M162.7 380.4v4.3M162.1 380.4v4.3M161.7 380.4v4.3M161.4 380.4v4.3M161.1 380.4v4.3M157.7 380.4v4.3M154.9 380.4v4.3M152.3 380.4v4.3M146.9 380.4v4.3M144 380.4v4.3M141.3 380.4v4.3M138.8 380.4v4.3" stroke="#000" stroke-width="1.2" fill="none"/>
<text x="164.1" y="402.8" font-size="13.4" font-weight="bold" text-anchor="middle">0</text>
<text x="295.4" y="402.8" font-size="13.4" font-weight="bold" text-anchor="middle">10<tspan font-size="9" dy="-4">4</tspan></text>
<text x="404.5" y="402.8" font-size="13.4" font-weight="bold" text-anchor="middle">10<tspan font-size="9" dy="-4">5</tspan></text>
<path d="M113 341.3h-3.6M113 341.1h-3.6M113 340.9h-3.6M113 340.8h-3.6M113 340.4h-3.6M113 340.2h-3.6M113 340h-3.6M113 339.9h-3.6M113 341.7h-3.6M113 341.8h-3.6M113 342h-3.6M113 342.2h-3.6M113 342.5h-3.6M113 342.7h-3.6M113 342.8h-3.6M113 343h-3.6" stroke="#000" stroke-width="1.3" fill="none"/>
<path d="M113 340.6h-6.8M113 333.8h-6.8M113 284.1h-6.8M113 194.8h-6.8M113 105.4h-6.8M113 342.3h-6.8M113 348.5h-6.8" stroke="#000" stroke-width="1.7" fill="none"/>
<path d="M113 339.7h-9.5M113 328.4h-9.5M113 259.7h-9.5M113 165.9h-9.5M113 79.3h-9.5M113 343.1h-9.5M113 353.4h-9.5" stroke="#000" stroke-width="2.4" fill="none"/>
<path d="M113 338.1h-4.3M113 336.5h-4.3M113 335.1h-4.3M113 332.6h-4.3M113 331.5h-4.3M113 330.4h-4.3M113 329.4h-4.3M113 312.1h-4.3M113 300.5h-4.3M113 291.5h-4.3M113 277.9h-4.3M113 272.5h-4.3M113 267.8h-4.3M113 263.5h-4.3M113 232.3h-4.3M113 215.9h-4.3M113 204h-4.3M113 187.2h-4.3M113 180.8h-4.3M113 175.2h-4.3M113 170.3h-4.3M113 139.9h-4.3M113 124.7h-4.3M113 113.8h-4.3M113 98.6h-4.3M113 92.8h-4.3M113 87.7h-4.3M113 83.3h-4.3M113 53.1h-4.3M113 344.6h-4.3M113 346h-4.3M113 347.3h-4.3M113 349.6h-4.3M113 350.6h-4.3M113 351.6h-4.3M113 352.5h-4.3M113 366.4h-4.3M113 375.6h-4.3" stroke="#000" stroke-width="1.2" fill="none"/>
<path d="M113 341.5h-8.5" stroke="#000" stroke-width="2.6" fill="none"/>
<text x="99" y="345.3" font-size="13.4" font-weight="bold" text-anchor="end">0</text>
<text x="99" y="261.9" font-size="13.4" font-weight="bold" text-anchor="end">10<tspan font-size="9" dy="-4">3</tspan></text>
<text x="99" y="168.1" font-size="13.4" font-weight="bold" text-anchor="end">10<tspan font-size="9" dy="-4">4</tspan></text>
<text x="99" y="81.5" font-size="13.4" font-weight="bold" text-anchor="end">10<tspan font-size="9" dy="-4">5</tspan></text>
<text x="281.5" y="168.6" font-size="28.6">47.7</text>
<text x="383.1" y="353.1" font-size="28.6">32.9</text>
<text x="281.1" y="442.2" font-size="28" text-anchor="middle">CD45.2 - PE/Cy5</text>
<text x="63.6" y="212.4" font-size="28" text-anchor="middle" transform="rotate(-90 63.6 212.4)">CD45.1 - APC</text>
<path d="M450.6 123.3C480 92 518 46 546 46C574 46 596 92 621.8 142.4C645 185 690 200 738 205.4" fill="none" stroke="#000" stroke-width="2.6"/>
<path d="M717.3 195.8L739.6 205.4L714.4 208.4" fill="none" stroke="#000" stroke-width="4.5" stroke-linecap="round" stroke-linejoin="miter"/>
<text x="470.3" y="148.5" font-size="27.5">i.v. injection</text>
<text x="606.4" y="336" font-size="28.1">i.p. tamoxifen injection</text>
<path d="M576.6 254.4C576.7 254.2 571.2 256 577.1 254C583.1 251.9 587.9 250.1 599 246.8C610 243.4 608.1 243.8 618.4 241.3C628.8 238.8 629.1 238.6 637.9 237.4C646.8 236.2 644.3 236.6 651.6 236.8C658.8 237.1 658.4 237.7 665.2 238.4C672 239.1 671.7 239.9 676.9 239.4C682.1 238.8 679.5 239.8 684.7 236.4C689.9 233.1 690.1 231.6 696.4 226.7C702.6 221.8 701.3 222.1 708.1 217.9C714.8 213.8 713.4 214.5 721.7 211.1C730 207.7 730.4 207.9 739.2 205.3C748.1 202.7 746.5 203.2 754.8 201.4C763.1 199.5 763.6 199.7 770.4 198.4C777.2 197.1 776 198.1 780.1 196.5C784.3 194.9 784.9 194.7 786 192.6C787 190.5 786.1 191 784 188.7C782 186.4 780.5 186.7 778.2 183.8C775.9 181 775 181.1 775.3 178C775.5 174.9 776.1 175.3 779.2 172.1C782.3 169 783.3 168.2 787 166.3C790.6 164.4 790.2 164.9 792.8 164.9C795.4 164.9 794.6 164.9 796.7 166.3C798.8 167.7 796.7 169.4 800.6 170.2C804.5 171 805.9 170 811.3 169.2C816.8 168.4 818.6 169.4 821.1 167.3C823.5 165.2 820.1 163.9 820.7 161.4C821.2 158.9 821.3 159.1 823 157.9C824.7 156.8 824.9 156.8 826.9 157.1C828.9 157.5 829.3 157.2 830.4 159.1C831.6 161 828.5 163.2 831.2 164.4C833.9 165.5 834.9 163.4 840.5 163.4C846.1 163.4 845.5 162.8 852.2 164.4C859 165.9 858.1 166.1 865.9 169.2C873.7 172.3 874.2 172.7 881.4 176C888.7 179.4 889 179 893.1 181.9C897.3 184.7 896.4 184.2 897 186.8C897.7 189.4 897.6 188.5 895.5 191.6C893.4 194.7 893.5 194.8 889.2 198.4C885 202.1 885.7 201.4 879.5 205.3C873.3 209.2 873.1 209.2 865.9 213.1C858.6 217 858.5 216.2 852.2 219.9C846 223.5 846.9 222.5 842.5 226.7C838.1 230.9 838 230.3 835.7 235.5C833.3 240.7 836.1 241 833.7 246.2C831.4 251.4 831.3 249.5 826.9 254.9C822.5 260.4 822.9 259.6 817.2 266.6C811.4 273.6 811.7 274 805.5 281.2C799.2 288.5 797.7 289.9 793.8 293.9C789.9 297.9 790.1 294.4 790.9 296.2C791.6 298.1 794.9 298.6 796.7 300.7C798.5 302.8 798.5 302.5 797.7 304C796.9 305.6 797.4 305.7 793.8 306.6C790.1 307.4 788.5 307.4 784 307.2C779.6 306.9 779.4 307 777.2 305.6C775 304.1 775.3 304.3 775.9 301.7C776.4 299.1 777.5 299 779.2 295.9C780.8 292.7 781.2 292.9 782.1 290C783 287.2 784.6 286.7 782.5 285.1C780.4 283.6 780.1 283.6 774.3 284.2C768.5 284.7 767.9 285.8 760.7 287.1C753.4 288.4 751.4 288 747 289C742.6 290.1 745.1 289.2 744.1 291C743.1 292.8 742.6 293.3 743.1 295.9C743.6 298.5 744.2 298.8 746.1 300.7C747.9 302.7 749.4 301.9 749.9 303.3C750.5 304.7 750.9 304.9 748 306C745.1 307 744.7 306.9 739.2 307.2C733.8 307.4 732.2 307.4 727.5 306.8C722.9 306.1 723.5 306.1 721.7 304.6C719.9 303.2 719.7 303.1 720.7 301.3C721.8 299.5 723 300 725.6 297.8C728.2 295.6 728.5 295.4 730.5 292.9C732.4 290.4 736.9 289.9 733 288.5C729.1 287 725.6 288 715.9 287.7C706.1 287.3 705.7 287.8 696.4 287.1C687 286.4 686.5 286.7 680.8 285.1C675.1 283.6 677.6 284.6 674.9 281.2C672.2 277.9 672.8 274.3 670.7 272.5C668.5 270.7 669 272.6 666.8 274.4C664.5 276.2 663.8 277 662.3 279.3C660.7 281.6 659.4 281.3 660.9 283.2C662.5 285.1 665.9 284.9 668.1 286.5C670.3 288.1 670.9 287.8 669.1 289C667.3 290.2 667.5 290.3 661.3 291C655.1 291.7 652 292.1 645.7 291.6C639.5 291 640.8 290.8 637.9 289C635.1 287.3 635 287.5 635 285.1C635 282.8 634.6 283.1 637.9 280.3C641.3 277.4 642.5 277.8 647.7 274.4C652.9 271 652.5 271.8 657.4 267.6C662.3 263.4 662 263.5 666.2 258.8C670.3 254.2 670.9 253.4 673 250.1C675.1 246.7 675 247.5 674 246.2C672.9 244.9 673.5 245.6 669.1 245.2C664.7 244.8 664.7 244.6 657.4 244.6C650.1 244.6 650.7 244.4 641.8 245.2C633 246 635.7 245.7 624.3 247.5C612.9 249.4 611.5 250 599 252C586.4 254 583.1 254.4 577.1 255.1C571.2 255.9 576.7 255 576.6 254.7C576.4 254.5 576.4 254.6 576.6 254.4Z" fill="#6b6b6b" stroke="#5a5a5a" stroke-width="0.8"/>
<text x="732.2" y="241.3" font-size="23" font-weight="bold" fill="#fff">CCR2<tspan font-size="13.3" dy="-7.8" dx="0.8">-/-</tspan></text>
<rect x="1185.4" y="44.8" width="338.3" height="336.8" fill="#fff" stroke="#3c3c3c" stroke-width="1.15"/>
<g transform="translate(1185.5 45.5) scale(1)" fill="none" stroke-linecap="square" stroke-width="1.4">
<path d="M244 37h0m-30 5h0m2 0h0m-10 1h0m13 1h0m19 1h0m2 0h0m21 0h0m6 0h0m-34 1h0m26 0h0m-25 1h0m5 0h0m2 0h0m3 0h0m10 0h0m15 0h0m-44 1h0m33 0h0m-46 1h0m8 0h0m31 0h0m8 0h0m24 0h0m-127 1h0m44 0h0m26 0h0m2 0h0m4 0h0m9 0h0m11 0h0m13 0h0m-66 1h1m13 0h0m2 0h0m4 0h1m4 0h0m16 0h0m8 0h0m8 0h0m5 0h1m9 0h0m-73 1h0m8 0h0m2 0h0m19 0h0m2 0h0m3 0h1m3 0h0m13 0h0m9 0h0m2 0h0m9 0h0m2 0h1m-84 1h0m20 0h0m10 0h0m6 0h0m3 0h0m7 0h0m6 0h0m11 0h0m14 0h1m9 0h0m-89 1h0m2 0h0m16 0h1m6 0h0m3 0h0m8 0h0m4 0h0m3 0h0m11 0h0m8 0h0m5 0h0m14 0h0m9 0h0m11 0h0m-84 1h0m6 0h0m10 0h0m16 0h0m20 0h0m2 0h0m2 0h0m9 0h0m7 0h0m3 0h0m-81 1h0m6 0h1m4 0h0m3 0h0m11 0h0m12 0h0m12 0h0m7 0h0m12 0h0m2 0h0m7 0h0m-103 1h0m35 0h0m3 0h1m4 0h0m2 0h0m31 0h0m8 0h0m18 0h0m23 0h0m-98 1h0m4 0h0m19 0h0m22 0h0m13 0h0m8 0h0m5 0h0m11 0h0m-129 1h0m14 0h0m27 0h0m2 0h0m3 0h1m6 0h0m8 0h0m5 0h0m40 0h0m4 0h0m15 0h0m25 0h0m-135 1h0m10 0h0m12 0h0m9 0h0m34 0h0m22 0h0m14 0h0m13 0h0m-111 1h0m5 0h0m23 0h1m4 0h1m5 0h0m10 0h0m31 0h0m10 0h0m20 0h1m13 0h1m10 0h0m-136 1h0m18 0h0m3 0h0m22 0h0m38 0h0m5 0h0m7 0h0m5 0h0m4 0h0m2 0h0m6 0h0m5 0h0m3 0h0m2 0h0m14 0h0m-139 1h0m15 0h0m2 0h0m3 0h1m7 0h1m8 0h2m9 0h0m53 0h0m7 0h0m4 0h0m-83 1h0m75 0h1m17 0h0m4 0h0m-136 1h0m14 0h0m10 0h0m4 0h0m3 0h0m27 0h1m52 0h0m13 0h0m5 0h1m-117 1h0m12 0h0m10 0h1m10 0h0m8 0h0m54 0h0m15 0h0m5 0h0m10 0h0m6 0h0m-118 1h0m5 0h0m9 0h0m70 0h0m2 0h0m3 0h0m13 0h0m4 0h0m12 0h0m-130 1h0m2 0h0m7 0h0m11 0h0m76 0h0m5 0h0m13 0h0m7 0h0m2 0h0m-112 1h0m8 0h0m14 0h0m60 0h0m6 0h0m16 0h0m5 0h0m4 0h0m7 0h0m-121 1h1m6 0h0m3 0h0m4 0h1m13 0h0m59 0h0m2 0h0m10 0h0m5 0h0m3 0h0m-136 1h0m23 0h0m13 0h0m8 0h0m4 0h0m70 0h0m8 0h0m7 0h0m8 0h0m4 0h0m-136 1h0m6 0h0m18 0h0m2 0h0m70 0h0m21 0h0m10 0h1m7 0h0m-150 1h0m17 0h0m13 0h1m6 0h0m2 0h1m8 0h0m13 0h0m67 0h0m4 0h0m17 0h0m3 0h0m-147 1h0m24 0h0m3 0h0m7 0h0m8 0h0m6 0h0m11 0h0m65 0h0m7 0h0m2 0h0m3 0h1m-132 1h0m4 0h0m5 0h1m15 0h1m82 0h0m9 0h0m7 0h0m-141 1h0m5 0h0m5 0h0m12 0h0m12 0h0m3 0h0m3 0h0m4 0h0m14 0h0m4 0h0m2 0h0m4 0h0m70 0h0m3 0h0m3 0h1m-108 1h0m15 0h0m5 0h0m3 0h0m85 0h0m2 0h0m-124 1h0m7 0h0m2 0h0m4 0h0m5 0h0m4 0h0m2 0h0m7 0h0m83 0h0m4 0h0m-114 1h0m8 0h0m7 0h0m4 0h0m7 0h1m3 0h0m74 0h0m10 0h0m-137 1h0m24 0h2m10 0h1m7 0h0m3 0h0m18 0h0m3 0h0m55 0h0m14 0h0m15 0h0m-142 1h0m9 0h1m8 0h0m2 0h0m3 0h0m3 0h0m3 0h0m4 0h1m9 0h0m29 0h0m43 0h0m2 0h0m5 0h0m15 0h0m-132 1h0m4 0h0m5 0h0m7 0h0m5 0h0m5 0h0m6 0h0m78 0h0m4 0h2m31 0h0m-160 1h0m17 0h0m3 0h0m2 0h0m6 0h0m20 0h0m3 0h0m6 0h0m2 0h0m69 0h0m3 0h0m29 0h0m-161 1h0m3 0h0m16 0h0m11 0h0m2 0h0m3 0h0m51 0h0m9 0h0m20 0h0m7 0h0m13 0h0m-150 1h0m17 0h0m4 0h0m3 0h0m8 0h0m3 0h0m9 0h1m3 0h1m3 0h0m3 0h0m6 0h3m6 0h0m28 0h0m11 0h0m23 0h0m-122 1h0m38 0h0m18 0h1m4 0h0m15 0h0m3 0h0m12 0h0m11 0h0m29 0h0m18 0h0m-151 1h0m9 0h0m12 0h0m2 0h0m8 0h0m6 0h0m8 0h1m4 0h0m17 0h0m3 0h1m24 0h0m11 0h0m9 0h0m18 0h0m-141 1h0m7 0h0m31 0h0m18 0h1m5 0h1m15 0h0m6 0h0m4 0h0m3 0h0m11 0h0m3 0h0m7 0h0m14 0h0m2 0h1m3 0h1m14 0h0m6 0h0m-132 1h0m24 0h0m4 0h0m4 0h0m2 0h0m4 0h1m4 0h0m5 0h0m22 0h0m9 0h0m17 0h0m4 0h0m11 0h0m-134 1h0m17 0h0m3 0h0m7 0h1m5 0h0m6 0h0m4 0h0m5 0h0m6 0h0m2 0h0m5 0h0m2 0h0m3 0h0m3 0h1m2 0h1m10 0h0m11 0h0m15 0h0m8 0h0m2 0h0m5 0h0m5 0h0m14 0h0m-140 1h0m12 0h0m10 0h0m30 0h0m6 0h0m6 0h0m3 0h0m8 0h0m2 0h0m3 0h0m3 0h1m5 0h1m4 0h0m3 0h0m12 0h0m5 0h0m15 0h0m-138 1h0m28 0h0m6 0h0m6 0h0m3 0h0m4 0h0m2 0h0m4 0h1m2 0h0m20 0h0m2 0h1m18 0h0m8 0h0m5 0h0m8 0h0m4 0h0m4 0h0m3 0h0m3 0h0m13 0h0m-119 1h0m4 0h1m12 0h0m5 0h0m16 0h0m7 0h0m13 0h0m9 0h0m5 0h0m3 0h0m3 0h0m5 0h0m7 0h1m11 0h0m28 0h0m-146 1h0m13 0h0m17 0h0m3 0h0m3 0h0m7 0h0m5 0h1m7 0h0m4 0h0m13 0h0m19 0h0m17 0h0m3 0h0m16 0h0m-130 1h0m34 0h0m10 0h0m4 0h0m34 0h0m5 0h0m3 0h0m5 0h0m8 0h1m19 0h0m9 0h0m3 0h0m2 0h0m7 0h0m-122 1h0m4 0h0m3 0h0m5 0h0m17 0h0m4 0h0m2 0h0m40 0h0m2 0h0m12 0h0m5 0h0m5 0h0m-103 1h0m3 0h0m5 0h0m21 0h0m25 0h0m12 0h0m7 0h0m28 0h0m-104 1h0m10 0h0m42 0h0m18 0h0m9 0h0m12 0h0m26 0h0m-120 1h0m8 0h0m5 0h0m8 0h0m10 0h0m2 0h0m4 0h0m9 0h0m2 0h0m54 0h0m-114 1h0m29 0h0m25 0h0m23 0h0m5 0h0m-14 1h0m16 0h0m-75 1h0m18 0h0m17 0h0m24 0h0m5 0h0m-65 1h0m4 0h0m13 0h0m26 0h0m-18 2h0m16 1h0m-45 3h0m19 0h0m-10 7h0" stroke="#0000ff"/>
<path d="M235 50h0m2 0h0m12 0h0m2 0h0m-23 1h0m15 0h0m2 0h0m8 0h1m-31 1h0m14 0h0m2 0h0m3 0h0m8 0h3m2 0h0m-41 1h0m6 0h0m3 0h0m3 0h0m4 0h0m3 0h0m5 0h1m3 0h1m4 0h0m6 0h0m7 0h0m-43 1h0m6 0h0m2 0h0m3 0h0m3 0h2m17 0h0m5 0h0m2 0h0m-55 1h0m12 0h0m4 0h0m4 0h0m4 0h0m15 0h0m4 0h0m2 0h0m2 0h1m8 0h0m5 0h1m-63 1h0m12 0h0m7 0h0m40 0h1m3 0h0m2 0h0m2 0h0m-67 1h3m3 0h0m13 0h0m25 0h0m5 0h0m4 0h0m5 0h0m3 0h0m9 0h0m-62 1h1m4 0h0m11 0h0m6 0h1m36 0h0m3 0h0m-65 1h0m21 0h0m3 0h0m44 0h0m-71 1h0m2 0h1m27 0h0m31 0h2m4 0h0m3 0h0m3 0h1m-77 1h1m4 0h0m58 0h0m8 0h0m2 0h0m5 0h0m-81 1h0m10 0h1m55 0h0m6 0h0m4 0h0m-76 1h1m10 0h0m59 0h0m13 0h0m-85 1h0m20 0h0m48 0h0m6 0h0m7 0h0m-87 1h0m4 0h0m3 0h1m6 0h0m56 0h0m9 0h0m-73 1h2m9 0h0m65 0h0m4 0h0m3 0h0m5 0h0m-86 1h0m7 0h0m6 0h0m51 0h0m10 0h1m-80 1h0m12 0h0m65 0h0m7 0h0m3 0h1m-93 1h0m4 0h0m5 0h2m5 0h0m2 0h0m60 0h0m2 0h0m7 0h0m6 0h1m-93 1h0m7 0h0m75 0h0m7 0h0m2 0h0m-94 1h0m5 0h0m4 0h0m13 0h0m70 0h0m2 0h0m3 0h0m-98 1h0m2 0h1m17 0h0m69 0h0m5 0h0m-92 1h0m16 0h0m63 0h1m7 0h0m3 0h0m-94 1h0m4 0h2m3 0h0m9 0h0m77 0h0m-93 1h0m6 0h0m5 0h0m19 0h0m50 0h0m2 0h0m9 0h0m2 0h0m-90 1h0m5 0h0m3 0h0m3 0h0m65 0h0m9 0h0m3 0h0m3 0h0m-92 1h0m4 0h0m8 0h0m5 0h0m13 0h0m-33 1h0m7 0h0m10 0h0m3 0h0m56 0h0m9 0h0m-92 1h0m10 0h0m10 0h0m5 0h0m25 0h0m26 0h0m11 0h0m-74 1h2m7 0h0m4 0h0m42 0h0m12 0h1m9 0h0m-81 1h0m8 0h0m41 0h0m12 0h0m3 0h0m5 0h1m5 0h0m7 0h0m-93 1h0m9 0h0m9 0h1m2 0h0m6 0h0m4 0h0m-28 1h0m2 0h0m11 0h0m6 0h0m5 0h0m45 0h0m4 0h0m2 0h0m2 0h0m3 0h0m4 0h0m-85 1h0m2 0h0m10 0h0m5 0h1m2 0h0m5 0h0m12 0h0m3 0h0m12 0h0m19 0h0m3 0h1m6 0h0m3 0h1m6 0h1m-76 1h0m8 0h0m9 0h0m9 0h0m23 0h0m7 0h0m5 0h1m5 0h0m4 0h0m-86 1h0m12 0h0m4 0h0m4 0h1m7 0h0m2 0h0m5 0h0m4 0h0m2 0h0m4 0h0m3 0h0m2 0h0m11 0h0m11 0h2m2 0h0m5 0h0m9 0h0m-75 1h0m5 0h0m4 0h0m5 0h0m3 0h0m3 0h0m2 0h0m6 0h0m5 0h0m5 0h0m13 0h4m4 0h1m-59 1h1m3 0h0m3 0h2m5 0h0m5 0h0m8 0h0m5 0h0m9 0h1m6 0h0m11 0h0m-45 1h1m2 0h0m11 0h0m6 0h1m2 0h0m3 0h1m9 0h0m5 0h0m-27 1h1m6 0h0m3 0h0m12 0h0m-24 1h0m3 0h0m7 0h0m-16 1h0m2 0h0m5 0h0m4 0h2m5 0h0m-6 1h0m4 0h0" stroke="#0000ff"/>
<path d="M225 53h0m27 0h0m-18 1h0m12 0h0m-29 1h0m11 0h0m4 0h0m2 0h0m3 0h0m2 0h0m5 0h0m4 0h0m3 0h0m-26 1h0m2 0h0m4 0h0m2 0h0m6 0h0m5 0h0m8 0h0m4 0h0m7 0h0m-52 1h0m7 0h0m4 0h0m26 0h0m3 0h0m2 0h0m3 0h0m-45 1h0m2 0h0m31 0h0m9 0h0m9 0h0m3 0h0m-56 1h0m4 0h1m4 0h1m6 0h0m14 0h0m9 0h0m3 0h0m11 0h0m4 0h0m3 0h1m-62 1h0m4 0h1m8 0h0m2 0h0m7 0h0m-18 1h0m4 0h1m23 0h1m29 0h0m2 0h0m-69 1h0m7 0h0m5 0h0m6 0h0m38 0h0m8 0h0m-64 1h0m2 0h2m5 0h0m3 0h0m45 0h0m6 0h0m3 0h0m5 0h0m-81 1h1m20 0h0m3 0h0m23 0h0m10 0h0m2 0h0m20 0h0m3 0h0m2 0h1m-86 1h0m2 0h0m6 0h0m61 0h0m14 0h0m-75 1h0m2 0h0m9 0h0m57 0h1m3 0h0m2 0h0m-79 1h0m4 0h0m7 0h1m2 0h0m60 0h0m7 0h0m-81 1h1m18 0h0m58 0h0m2 0h0m-81 1h0m8 0h0m71 0h1m-69 1h0m2 0h0m57 0h0m15 0h0m-83 1h0m2 0h0m3 0h0m69 0h2m-82 1h0m11 0h0m7 0h1m53 0h1m2 0h0m4 0h1m-77 1h1m5 0h1m55 0h0m5 0h0m8 0h0m2 0h0m-76 1h1m2 0h0m7 0h0m50 0h0m3 0h0m12 0h0m-82 1h0m15 0h0m2 0h0m56 0h0m11 0h0m-74 1h0m60 0h0m2 0h0m3 0h0m5 0h0m4 0h0m-74 1h1m2 0h0m6 0h0m47 0h0m15 0h0m4 0h0m-77 1h0m4 0h1m7 0h0m3 0h0m47 0h1m6 0h0m3 0h1m-74 1h0m2 0h0m2 0h0m6 0h0m4 0h0m5 0h0m32 0h0m6 0h0m11 0h0m6 0h0m-70 1h0m2 0h0m6 0h0m4 0h0m55 0h0m-70 1h1m4 0h0m4 0h0m10 0h0m6 0h0m18 0h0m19 0h0m7 0h0m2 0h0m-69 1h0m3 0h0m4 0h0m6 0h0m27 0h0m14 0h0m7 0h1m5 0h0m-68 1h0m8 0h0m2 0h1m15 0h0m2 0h1m4 0h0m4 0h0m4 0h0m23 0h0m7 0h0m-69 1h0m3 0h0m2 0h0m4 0h0m14 0h0m7 0h0m18 0h0m4 0h0m4 0h0m3 0h0m-55 1h0m4 0h1m5 0h1m2 0h0m3 0h0m2 0h1m11 0h0m13 0h0m3 0h0m-48 1h0m3 0h0m7 0h0m8 0h0m17 0h0m9 0h0m2 0h2m-54 1h0m12 0h0m2 0h0m11 0h0m3 0h0m3 0h0m5 0h0m7 0h1m-33 1h0m4 0h0m11 0h0m4 0h0m17 0h0m8 0h0m2 0h0m-44 1h0m35 0h0m-15 1h0" stroke="#0000ff"/>
<path d="M241 53h0m-5 1h0m6 0h0m2 0h0m-6 1h0m4 0h1m-15 1h0m4 0h0m11 0h0m-17 1h0m6 0h0m8 0h0m9 0h0m-34 1h1m2 0h0m6 0h0m4 0h2m5 0h0m5 0h0m11 0h0m3 0h0m3 0h1m3 0h0m-45 1h0m4 0h0m14 0h0m2 0h0m2 0h0m5 0h1m6 0h0m5 0h0m8 0h0m4 0h0m-38 1h0m7 0h0m7 0h0m6 0h0m2 0h0m18 0h0m-25 1h0m6 0h0m2 0h0m5 0h0m9 0h0m2 0h0m-56 1h0m2 0h0m43 0h0m-48 1h0m12 0h0m30 0h1m-47 1h0m6 0h1m41 0h0m7 0h0m4 0h0m-59 1h0m2 0h0m55 0h1m3 0h0m-62 1h1m65 0h0m-68 1h1m2 0h0m3 0h0m51 0h0m16 0h0m-73 1h0m59 0h0m5 0h0m-74 1h0m2 0h0m5 0h0m3 0h0m2 0h0m60 0h0m4 0h0m-72 1h0m6 0h1m56 0h0m3 0h0m3 0h0m6 0h0m-72 1h0m63 0h0m6 0h0m5 0h0m-77 1h1m5 0h0m69 0h0m-75 1h0m5 0h0m3 0h0m56 0h1m2 0h1m-72 1h0m7 0h0m2 0h0m4 0h0m6 0h0m13 0h0m41 0h1m-62 1h0m4 0h0m-8 1h0m7 0h0m46 0h0m11 0h0m3 0h0m-63 1h0m9 0h0m40 0h0m2 0h1m2 0h0m5 0h0m-17 1h0m3 0h0m6 0h0m9 0h0m-53 1h0m7 0h0m31 0h0m8 0h0m-57 1h0m10 0h0m16 0h0m15 0h0m6 0h0m3 0h0m2 0h0m7 0h2m-65 1h1m3 0h0m9 0h1m2 0h0m24 0h0m3 0h0m2 0h1m2 0h0m3 0h0m5 0h0m-54 1h0m2 0h0m4 0h0m2 0h2m3 0h0m2 0h0m5 0h0m6 0h0m7 0h0m10 0h0m2 0h0m4 0h0m6 0h1m7 0h0m-57 1h0m4 0h1m4 0h0m7 0h0m2 0h0m4 0h0m11 0h0m4 0h0m3 0h1m2 0h0m6 0h0m2 0h0m-57 1h0m11 0h0m2 0h0m8 0h0m2 0h0m8 0h0m3 0h0m5 0h1m3 0h0m11 0h0m-53 1h0m14 0h0m3 0h0m5 0h0m6 0h1m2 0h0m8 0h0m2 0h0m2 0h0m-19 1h1m7 0h0m10 0h1m-34 1h0m9 0h0m5 0h0m4 0h0m15 0h1m-20 1h0m18 1h0" stroke="#0000ff"/>
<path d="M237 56h0m3 0h0m15 0h0m-38 1h0m8 0h0m3 0h0m3 0h0m4 0h2m4 0h0m16 0h0m-40 1h0m25 0h0m4 0h1m12 0h0m-37 1h0m2 0h0m11 0h0m25 0h0m-45 1h2m7 0h0m8 0h0m9 0h0m13 0h0m4 0h2m2 0h1m-50 1h0m9 0h0m2 0h0m10 0h1m18 0h1m6 0h0m-43 1h1m2 0h0m2 0h0m3 0h0m16 0h0m23 0h1m-41 1h0m12 0h1m18 0h1m7 0h0m-57 1h1m3 0h0m18 0h0m3 0h0m35 0h0m-53 1h0m3 0h1m32 0h1m15 0h0m4 0h0m2 0h0m-17 1h1m7 0h0m4 0h0m-60 2h0m9 0h0m-1 1h0m49 0h0m-65 1h1m8 0h0m53 0h0m7 0h0m2 0h0m-22 1h1m2 0h0m3 0h0m10 0h1m-47 1h0m35 0h0m5 1h0m-59 1h0m4 0h0m5 0h0m9 0h0m41 0h0m4 0h0m3 0h0m3 0h0m-70 1h1m4 0h0m3 0h0m7 0h0m34 0h0m8 0h0m11 0h0m-64 1h1m52 0h0m6 0h0m-50 1h0m47 0h0m2 0h0m-49 1h0m4 0h0m15 0h0m3 0h0m5 0h0m23 0h0m5 0h0m-66 1h0m5 0h0m10 0h1m17 0h0m8 0h1m14 0h0m-49 1h0m2 0h0m27 0h0m10 0h1m-48 1h0m3 0h0m19 0h0m13 0h0m10 0h0m5 0h0m5 0h0m-38 1h1m4 0h0m13 0h0m2 0h0m7 0h0m9 0h1m7 0h0m-52 1h0m3 0h1m5 0h1m8 0h0m14 0h0m3 0h0m6 0h0m-33 1h0m29 0h0m-42 1h0m13 0h0m7 0h0m15 0h0m6 0h0m-35 1h0m20 0h0" stroke="#0044ff"/>
<path d="M227 58h0m23 0h0m-19 1h2m13 0h0m-32 1h0m4 0h0m7 0h0m9 0h1m4 0h0m7 0h2m9 0h0m4 0h0m-42 1h0m7 0h0m5 0h0m11 0h0m6 0h0m13 0h0m-37 1h0m2 0h0m3 0h0m6 0h2m23 0h0m2 0h0m-43 1h0m9 0h0m14 0h0m3 0h0m5 0h0m9 0h0m3 0h0m-44 1h0m7 0h0m2 0h0m21 0h0m8 0h0m5 0h1m9 0h0m-56 1h0m28 0h0m4 0h0m-39 1h1m4 0h0m28 0h0m22 0h0m4 0h0m-5 1h0m2 0h0m-64 1h0m9 0h1m55 0h0m-55 1h1m5 0h1m6 0h0m34 0h0m13 0h0m-59 1h0m16 0h0m26 0h0m4 0h0m-59 1h0m4 0h0m11 0h0m48 0h0m-1 1h0m-49 1h0m-7 1h0m9 0h0m6 0h0m29 0h0m2 0h0m13 0h0m-57 1h0m3 0h0m41 0h0m7 0h0m4 0h1m-57 1h1m2 0h0m4 0h0m5 0h0m7 0h0m11 0h0m27 0h0m-61 1h0m5 0h0m17 0h1m6 0h0m15 0h0m2 0h0m7 0h0m7 0h0m-59 1h0m2 0h0m12 0h0m6 0h0m2 0h0m20 0h0m4 0h0m13 0h0m-51 1h0m7 0h0m20 0h0m8 0h0m6 0h0m5 0h0m-45 1h0m5 0h0m4 0h0m8 0h1m2 0h0m3 0h0m2 0h0m15 0h0m-44 1h0m4 0h0m4 0h0m3 0h0m4 0h0m3 0h0m5 0h0m20 0h1m-34 1h0m4 0h1m3 0h1m2 0h1m16 0h0m3 0h0m-36 1h0m3 0h0m16 0h0m7 0h0m-26 1h0m11 0h0m11 0h0m12 0h0m-22 1h0m11 0h0m4 0h0" stroke="#0092f5"/>
<path d="M238 57h0m-5 1h1m4 0h0m3 0h0m-13 1h0m9 0h0m3 0h0m5 0h0m2 0h0m-21 1h2m10 0h0m-11 1h0m5 0h0m7 0h0m7 0h0m5 0h0m4 0h0m-36 1h0m4 0h0m4 0h0m12 0h1m11 0h1m3 0h0m3 0h0m-19 1h0m2 0h0m2 0h0m10 0h0m-33 1h0m10 0h0m15 0h0m2 0h0m10 0h0m-43 1h0m6 0h0m24 0h0m9 0h1m6 0h0m-50 1h0m4 0h1m10 0h0m3 0h0m25 0h0m3 0h0m-42 1h0m7 0h0m30 0h0m2 0h0m4 0h0m-50 1h0m11 0h0m32 0h0m4 0h0m-35 1h0m3 0h0m10 0h0m12 0h0m12 0h0m-39 1h1m40 0h0m-55 1h0m40 0h0m6 0h0m7 0h2m2 0h0m-59 1h0m4 0h1m40 0h0m5 0h0m4 0h0m2 0h0m-57 1h0m6 0h0m13 0h0m34 0h0m5 0h0m-26 1h0m27 0h0m3 0h0m-52 1h1m4 0h0m3 0h0m31 0h0m7 0h0m-46 1h0m4 0h0m2 0h0m2 0h0m21 0h0m4 0h0m6 0h0m-41 1h1m16 0h0m4 0h0m13 0h0m-35 1h0m4 0h0m2 0h0m2 0h0m3 0h1m2 0h0m2 0h0m4 0h0m11 0h0m5 0h0m8 0h0m3 0h0m-48 1h0m18 0h0m9 0h0m10 0h0m3 0h2m-35 1h2m2 0h0m2 0h0m2 0h0m4 0h0m7 0h0m11 0h0m10 0h0m-47 1h0m18 0h0m2 0h0m5 0h0m7 0h0m-11 1h0m5 0h0m7 0h0m-21 1h0m9 0h0m2 0h0m5 0h1m5 0h0m3 0h0m-13 1h0" stroke="#00e1d5"/>
<path d="M236 58h0m1 2h0m3 0h0m12 0h0m3 0h1m-31 1h0m5 0h0m35 0h0m-35 1h0m2 0h0m6 0h0m5 0h1m2 0h0m7 0h0m3 0h0m-33 1h0m2 0h0m4 0h0m4 0h0m2 0h0m5 0h0m7 0h1m9 0h0m8 0h0m-49 1h0m3 0h0m2 0h1m2 0h0m25 0h0m10 0h0m-41 1h0m4 0h0m4 0h0m5 0h0m21 0h0m4 0h0m2 0h0m-40 1h2m27 0h0m2 0h0m3 0h0m7 0h1m-47 1h0m2 0h1m2 0h0m23 0h0m3 0h0m10 0h1m-47 1h0m3 0h0m8 0h1m6 0h0m9 0h0m8 0h0m10 0h0m3 0h0m3 0h1m-53 1h0m38 0h1m4 0h1m7 0h0m3 0h0m-52 1h1m38 0h0m7 0h0m6 0h0m-56 1h0m3 0h0m3 0h0m7 0h0m2 0h0m-11 1h0m2 0h1m9 0h0m38 0h0m-52 1h0m2 0h1m16 0h0m19 0h0m5 0h0m-38 1h0m2 0h0m6 0h0m35 0h0m3 0h0m-51 1h0m17 0h0m15 0h0m4 0h0m10 0h0m-40 1h0m2 0h0m4 0h0m6 0h0m3 0h0m12 0h0m15 0h0m-44 1h0m4 0h0m12 0h0m11 0h0m12 0h0m-42 1h0m9 0h0m3 0h0m13 0h0m3 0h0m6 0h0m11 0h0m-40 1h0m6 0h0m6 0h0m6 0h0m8 0h0m-17 1h1m16 0h1m2 0h0m6 0h1m-9 1h0m-30 1h0m34 0h0m-30 1h0m19 0h0" stroke="#00f965"/>
<path d="M245 58h0m-4 1h1m14 0h0m-12 1h0m-11 1h0m3 0h0m7 0h0m2 0h0m-17 1h0m6 0h0m14 0h0m-30 1h0m2 0h0m6 0h1m3 0h0m4 0h0m4 0h0m6 0h0m5 0h0m9 0h0m-35 1h0m6 0h0m7 0h1m2 0h0m4 0h1m10 0h1m3 0h0m-49 1h1m9 0h0m6 0h0m3 0h0m5 0h1m12 0h0m2 0h0m7 0h0m2 0h0m-41 1h1m13 0h0m5 0h0m2 0h0m11 0h0m3 0h0m-40 1h0m15 0h0m21 0h0m5 0h0m4 0h0m-44 1h0m4 0h0m41 0h0m-49 1h1m4 0h0m5 0h0m7 0h0m27 0h0m7 0h0m-47 1h1m2 0h0m5 0h0m27 0h0m2 0h2m-42 1h0m10 0h0m12 0h0m6 0h0m7 0h0m8 0h0m2 0h1m-56 1h0m14 0h0m2 0h0m20 0h0m13 0h0m8 0h0m2 0h0m-43 1h0m29 0h0m18 0h0m-44 1h0m8 0h0m4 0h0m8 0h0m13 0h1m-39 1h0m3 0h0m3 0h0m19 0h0m4 0h0m2 0h1m6 0h0m4 0h0m-46 1h0m13 0h0m8 0h0m4 0h0m8 0h0m3 0h0m-27 1h0m3 0h1m21 0h0m5 0h0m-14 1h0m6 0h0m5 0h0m2 0h0m-27 1h3m4 0h0m3 0h0m4 0h0m20 0h0m-30 1h0m-7 1h0m6 0h0m4 0h0m5 0h0m3 0h0m10 0h0m-31 1h0m9 0h0m14 0h1" stroke="#45ff26"/>
<path d="M245 60h0m-8 1h0m-4 1h0m9 0h0m-11 1h1m22 0h0m-21 1h0m2 0h0m6 0h1m-21 1h0m3 0h0m3 0h0m8 0h0m2 0h0m5 0h0m-19 1h0m4 0h0m11 0h0m6 0h0m-25 1h0m3 0h0m9 0h0m7 0h0m11 0h0m-36 1h0m4 0h0m4 0h0m9 0h2m2 0h0m3 0h1m9 0h2m2 0h1m3 0h0m-43 1h0m3 0h0m6 0h0m3 0h0m2 0h0m3 0h0m4 0h0m2 0h0m19 0h0m-46 1h0m37 0h0m9 0h0m-44 1h0m2 0h0m11 0h0m2 0h0m2 0h0m-13 1h0m2 0h0m2 0h0m4 0h0m3 0h0m24 0h0m-33 1h0m4 0h0m3 0h1m7 0h0m3 0h0m4 0h0m3 0h0m8 0h0m6 0h0m-40 1h0m2 0h0m4 0h0m26 0h0m-20 1h0m3 0h0m10 0h0m12 0h0m-32 1h0m6 0h0m11 0h0m11 0h0m-8 1h1m3 0h0m2 0h0m3 0h0m-21 1h0m22 0h0m-22 1h0m8 0h0m2 0h0m-20 1h0m12 0h0m3 0h0m-4 1h0m11 1h0" stroke="#a3fd00"/>
<path d="M231 62h0m19 0h0m-24 2h0m8 0h0m12 0h0m-17 1h0m7 0h0m2 0h2m-16 1h0m5 0h0m2 0h3m2 0h0m7 0h0m2 0h0m5 0h0m-22 1h2m5 0h0m2 0h0m5 0h0m6 0h0m2 0h0m8 0h0m2 0h0m-35 1h0m2 0h2m11 0h0m5 0h1m2 1h1m6 0h0m-33 1h2m12 0h1m4 0h0m15 0h0m-40 1h0m23 0h1m5 0h0m6 0h0m-41 1h0m10 0h0m6 0h0m6 0h0m-19 1h0m4 0h0m8 0h0m4 0h0m19 0h0m3 0h1m-43 1h0m13 0h0m3 0h0m2 0h2m10 0h0m5 0h2m3 0h0m-32 1h0m5 0h0m4 0h0m9 0h2m4 0h0m6 0h0m-26 1h0m2 0h0m4 0h0m2 0h0m9 0h0m8 0h0m-34 1h0m5 0h0m2 0h0m9 0h0m4 0h0m7 0h0m-27 1h0m27 0h0m-10 1h0m1 3h0m4 0h0" stroke="#f4ed00"/>
<path d="M247 62h0m-15 2h0m-9 1h0m22 0h0m-24 1h1m20 0h0m-22 1h0m5 0h0m2 0h0m5 0h2m9 0h0m3 0h0m-24 1h1m10 0h0m6 0h0m3 0h0m2 0h0m-16 1h0m6 0h0m6 0h0m2 0h1m-29 1h0m12 0h0m2 0h0m7 0h0m4 0h0m-25 1h1m6 0h0m11 0h0m4 0h0m5 0h0m5 0h0m13 0h0m-35 1h0m3 0h0m3 0h1m3 0h0m5 0h0m2 0h1m2 0h0m6 0h0m4 0h0m-42 1h0m2 0h0m8 0h0m5 0h0m5 0h1m9 0h0m4 0h1m-16 1h0m2 0h0m4 0h0m3 0h0m2 0h0m-22 1h0m3 0h0m5 0h0m20 0h0m-17 1h0m5 0h0m8 0h0m3 0h0m-27 1h0m6 0h0m9 0h0m2 0h0m-11 1h0m4 0h1m4 0h0m6 0h0m-25 1h0m22 1h0" stroke="#ffa600"/>
<path d="M238 64h0m-8 1h0m2 0h0m-6 1h0m13 0h0m7 0h0m-10 1h0m4 0h0m5 0h0m-21 1h0m17 0h0m-14 1h0m3 0h0m-11 1h0m6 0h0m6 0h0m9 0h0m2 0h0m-20 1h0m2 0h0m4 0h2m8 0h0m0 1h0m9 0h0m-29 1h0m12 0h0m5 0h1m7 0h0m-20 1h0m11 0h0m7 0h0m2 0h0m-22 1h0m4 0h0m7 0h0m2 0h0m-2 1h0m-1 1h0m2 0h0" stroke="#ff5300"/>
<path d="M246 63h0m-6 3h0m-17 1h0m16 0h0m-3 1h0m-16 1h0m11 0h0m5 0h3m2 0h0m-20 1h0m8 0h1m2 0h2m4 0h0m5 0h1m2 0h0m-29 1h0m16 0h2m7 0h0m-19 1h0m5 0h1m4 0h0m3 0h1m3 0h0m3 0h0m2 0h0m-24 1h0m7 0h0m9 0h0m2 0h1m-5 1h0m-6 1h0m4 0h0m0 1h0m8 0h0m-7 1h0m2 0h0m-11 1h0" stroke="#ff0000"/>
</g>
<rect x="1364.6" y="74.6" width="134.1" height="83.2" fill="none" stroke="#000" stroke-width="2.1"/>
<path d="M1261.7 381.6v3.6M1261.8 381.6v3.6M1261.9 381.6v3.6M1262.1 381.6v3.6M1262.2 381.6v3.6M1261.5 381.6v3.6M1261.4 381.6v3.6M1261.3 381.6v3.6M1261.1 381.6v3.6M1261 381.6v3.6" stroke="#000" stroke-width="1.3" fill="none"/>
<path d="M1262 381.6v6.8M1265 381.6v6.8M1293.6 381.6v6.8M1376.5 381.6v6.8M1465.2 381.6v6.8M1261.2 381.6v6.8M1258 381.6v6.8M1229.4 381.6v6.8" stroke="#000" stroke-width="1.7" fill="none"/>
<path d="M1262.3 381.6v9.5M1268.3 381.6v9.5M1317 381.6v9.5M1409.4 381.6v9.5M1490 381.6v9.5M1260.9 381.6v9.5M1254.6 381.6v9.5M1206 381.6v9.5" stroke="#000" stroke-width="2.4" fill="none"/>
<path d="M1263 381.6v4.3M1263.7 381.6v4.3M1264.4 381.6v4.3M1265.7 381.6v4.3M1266.4 381.6v4.3M1267 381.6v4.3M1267.7 381.6v4.3M1275.4 381.6v4.3M1281.9 381.6v4.3M1287.9 381.6v4.3M1298.8 381.6v4.3M1303.8 381.6v4.3M1308.4 381.6v4.3M1312.8 381.6v4.3M1339 381.6v4.3M1354.6 381.6v4.3M1366.7 381.6v4.3M1384.9 381.6v4.3M1392.1 381.6v4.3M1398.5 381.6v4.3M1404.2 381.6v4.3M1432.9 381.6v4.3M1447.1 381.6v4.3M1457.2 381.6v4.3M1471.7 381.6v4.3M1477.2 381.6v4.3M1482 381.6v4.3M1486.2 381.6v4.3M1515 381.6v4.3M1260.1 381.6v4.3M1259.4 381.6v4.3M1258.7 381.6v4.3M1257.3 381.6v4.3M1256.6 381.6v4.3M1255.9 381.6v4.3M1255.3 381.6v4.3M1247.5 381.6v4.3M1241 381.6v4.3M1235 381.6v4.3M1224.1 381.6v4.3M1219.2 381.6v4.3M1214.6 381.6v4.3M1210.2 381.6v4.3" stroke="#000" stroke-width="1.2" fill="none"/>
<path d="M1261.6 381.6v8.5" stroke="#000" stroke-width="2.6" fill="none"/>
<text x="1206" y="404" font-size="13.4" font-weight="bold" text-anchor="middle">-10<tspan font-size="9" dy="-4">3</tspan></text>
<text x="1261.6" y="404" font-size="13.4" font-weight="bold" text-anchor="middle">0</text>
<text x="1317" y="404" font-size="13.4" font-weight="bold" text-anchor="middle">10<tspan font-size="9" dy="-4">3</tspan></text>
<text x="1409.4" y="404" font-size="13.4" font-weight="bold" text-anchor="middle">10<tspan font-size="9" dy="-4">4</tspan></text>
<text x="1490" y="404" font-size="13.4" font-weight="bold" text-anchor="middle">10<tspan font-size="9" dy="-4">5</tspan></text>
<path d="M1185.4 307.3h-3.6M1185.4 307.2h-3.6M1185.4 307h-3.6M1185.4 306.9h-3.6M1185.4 307.5h-3.6M1185.4 307.6h-3.6M1185.4 307.8h-3.6M1185.4 307.9h-3.6" stroke="#000" stroke-width="1.3" fill="none"/>
<path d="M1185.4 307.1h-6.8M1185.4 304.4h-6.8M1185.4 274.2h-6.8M1185.4 189.1h-6.8M1185.4 100.4h-6.8M1185.4 307.7h-6.8M1185.4 310.4h-6.8M1185.4 337.3h-6.8" stroke="#000" stroke-width="1.7" fill="none"/>
<path d="M1185.4 306.8h-9.5M1185.4 301.5h-9.5M1185.4 248.8h-9.5M1185.4 156.2h-9.5M1185.4 75.5h-9.5M1185.4 308h-9.5M1185.4 313.3h-9.5M1185.4 359.6h-9.5" stroke="#000" stroke-width="2.4" fill="none"/>
<path d="M1185.4 306.2h-4.3M1185.4 305.6h-4.3M1185.4 305h-4.3M1185.4 303.8h-4.3M1185.4 303.2h-4.3M1185.4 302.6h-4.3M1185.4 302.1h-4.3M1185.4 293.8h-4.3M1185.4 286.8h-4.3M1185.4 280.2h-4.3M1185.4 268.5h-4.3M1185.4 263.1h-4.3M1185.4 258.1h-4.3M1185.4 253.3h-4.3M1185.4 226.8h-4.3M1185.4 211.1h-4.3M1185.4 199h-4.3M1185.4 180.8h-4.3M1185.4 173.5h-4.3M1185.4 167.1h-4.3M1185.4 161.4h-4.3M1185.4 132.7h-4.3M1185.4 118.5h-4.3M1185.4 108.3h-4.3M1185.4 93.9h-4.3M1185.4 88.3h-4.3M1185.4 83.5h-4.3M1185.4 79.3h-4.3M1185.4 50.5h-4.3M1185.4 308.6h-4.3M1185.4 309.2h-4.3M1185.4 309.8h-4.3M1185.4 311h-4.3M1185.4 311.6h-4.3M1185.4 312.2h-4.3M1185.4 312.7h-4.3M1185.4 320h-4.3M1185.4 326.2h-4.3M1185.4 332h-4.3M1185.4 342.3h-4.3M1185.4 347h-4.3M1185.4 351.4h-4.3M1185.4 355.6h-4.3" stroke="#000" stroke-width="1.2" fill="none"/>
<path d="M1185.4 307.4h-8.5" stroke="#000" stroke-width="2.6" fill="none"/>
<text x="1174.8" y="360.4" font-size="13.4" font-weight="bold" text-anchor="end">-10<tspan font-size="9" dy="-4">3</tspan></text>
<text x="1174.8" y="309.8" font-size="13.4" font-weight="bold" text-anchor="end">0</text>
<text x="1174.8" y="249.6" font-size="13.4" font-weight="bold" text-anchor="end">10<tspan font-size="9" dy="-4">3</tspan></text>
<text x="1174.8" y="157" font-size="13.4" font-weight="bold" text-anchor="end">10<tspan font-size="9" dy="-4">4</tspan></text>
<text x="1174.8" y="76.3" font-size="13.4" font-weight="bold" text-anchor="end">10<tspan font-size="9" dy="-4">5</tspan></text>
<text x="1187.7" y="36.8" font-size="28.1">CD45.1+</text>
<text x="1441" y="152.4" font-size="28.6">96.2</text>
<text x="1353.9" y="430.6" font-size="28" text-anchor="middle">CD11b - PE/Cy7</text>
<text x="1142.3" y="213.5" font-size="28" text-anchor="middle" transform="rotate(-90 1142.3 213.5)">Ly6C - PerCP/Cy5.5</text>
<rect x="1659.3" y="44.2" width="337" height="337.7" fill="#fff" stroke="#3c3c3c" stroke-width="1.15"/>
<g transform="translate(1659.5 44.5) scale(1)" fill="none" stroke-linecap="square" stroke-width="1.4">
<path d="M237 33h0m9 2h0m1 1h1m-1 1h0m3 0h0m3 0h0m14 0h0m-23 1h0m2 0h0m13 0h0m11 0h0m7 0h0m-60 1h0m21 0h0m17 0h0m3 0h0m2 0h0m22 0h0m-78 1h0m27 0h0m11 0h1m12 0h0m16 0h0m14 0h0m-58 1h0m5 0h0m12 0h0m6 0h0m9 0h0m6 0h0m-46 1h0m12 0h1m14 0h0m7 0h0m4 0h0m7 0h0m7 0h2m4 0h0m-52 1h0m7 0h0m2 0h0m3 0h0m3 0h0m2 0h0m4 0h0m7 0h0m7 0h1m7 0h0m2 0h0m2 0h0m2 0h0m2 0h0m-52 1h0m19 0h1m8 0h0m7 0h0m4 0h1m9 0h0m14 0h0m-82 1h0m2 0h0m6 0h0m4 0h0m4 0h0m4 0h0m2 0h0m6 0h1m2 0h1m2 0h0m4 0h0m13 0h0m4 0h0m6 0h0m3 0h0m7 0h1m3 0h0m-54 1h0m4 0h0m4 0h1m5 0h0m8 0h0m12 0h0m3 0h0m12 0h0m3 0h0m5 0h0m-90 1h0m16 0h0m10 0h0m2 0h0m41 0h0m9 0h1m8 0h1m3 0h0m3 0h0m3 0h0m4 0h0m-80 1h0m8 0h1m2 0h0m6 0h1m48 0h0m-59 1h0m10 0h0m20 0h0m5 0h0m25 0h0m4 0h0m26 0h0m-100 1h1m8 0h0m4 0h0m3 0h0m15 0h0m16 0h0m21 0h0m4 0h1m3 0h0m3 0h0m-86 1h0m6 0h0m2 0h0m3 0h0m9 0h0m2 0h0m9 0h0m4 0h0m7 0h0m25 0h0m5 0h0m9 0h0m9 0h0m2 0h0m-96 1h0m5 0h0m3 0h0m2 0h0m13 0h1m58 0h0m6 0h2m3 0h0m8 0h0m-105 1h0m12 0h0m5 0h0m2 0h0m47 0h0m7 0h0m2 0h0m14 0h1m2 0h0m-85 1h0m6 0h0m6 0h0m6 0h0m6 0h0m48 0h0m13 0h0m6 0h0m-93 1h0m8 0h0m4 0h0m16 0h0m51 0h0m21 0h0m5 0h0m-118 1h0m10 0h0m9 0h0m11 0h0m2 0h0m4 0h0m59 0h0m8 0h0m-90 1h0m3 0h0m4 0h0m20 0h0m63 0h1m2 0h0m-94 1h0m2 0h0m2 0h0m4 0h0m3 0h0m68 0h0m6 0h0m2 0h1m6 0h0m-101 1h0m6 0h0m6 0h0m81 0h0m2 0h0m4 0h0m11 0h0m-110 1h0m14 0h0m78 0h0m3 0h1m5 0h1m-110 1h0m98 0h0m9 0h0m3 0h1m-104 1h0m7 0h0m105 0h0m-127 1h0m20 0h0m3 0h0m2 0h0m79 0h0m4 0h0m4 0h0m5 0h0m-107 1h0m4 0h0m9 0h0m2 0h1m2 0h0m9 0h0m53 0h0m19 0h0m5 0h0m-90 1h0m3 0h0m8 0h0m52 0h0m5 0h0m7 0h0m9 0h0m5 0h2m-90 1h0m4 0h1m8 0h0m42 0h0m16 0h0m5 0h0m3 0h1m12 0h0m-108 1h0m2 0h0m2 0h0m9 0h0m14 0h0m3 0h0m66 0h0m2 0h0m2 0h0m-97 1h0m6 0h0m2 0h0m2 0h1m6 0h0m7 0h0m54 0h1m15 0h0m3 0h0m3 0h0m-136 1h0m20 0h0m3 0h0m17 0h0m2 0h0m4 0h0m3 0h0m58 0h0m2 0h0m2 0h0m12 0h0m3 0h0m19 0h0m-102 1h1m5 0h0m5 0h0m18 0h0m34 0h1m13 0h0m2 0h0m3 0h1m4 0h0m5 0h0m-100 1h0m6 0h0m14 0h0m4 0h0m21 0h0m3 0h0m3 0h0m37 0h0m17 0h0m-78 1h0m22 0h1m15 0h0m3 0h0m13 0h0m10 0h0m2 0h0m-81 1h1m14 0h1m9 0h0m32 0h0m12 0h3m2 0h0m4 0h0m-93 1h0m9 0h0m4 0h2m2 0h0m2 0h0m5 0h1m4 0h2m8 0h0m3 0h0m5 0h0m5 0h0m5 0h0m25 0h0m3 0h0m5 0h1m3 0h0m5 0h0m-100 1h0m7 0h0m10 0h0m8 0h0m2 0h0m26 0h0m4 0h0m5 0h0m13 0h0m9 0h0m-78 1h0m8 0h0m3 0h0m12 0h0m13 0h1m12 0h0m7 0h0m19 0h1m3 0h0m3 0h0m3 0h0m-72 1h1m11 0h0m8 0h0m11 0h0m7 0h2m2 0h0m16 0h1m12 0h0m-87 1h0m4 0h1m4 0h0m2 0h0m5 0h0m2 0h0m4 0h0m2 0h1m3 0h0m4 0h0m4 0h0m5 0h0m14 0h0m4 0h0m2 0h0m4 0h0m5 0h0m-81 1h0m14 0h0m11 0h0m10 0h0m5 0h0m10 0h0m12 0h0m9 0h0m2 0h0m5 0h0m3 0h0m3 0h0m-55 1h0m4 0h0m5 0h0m7 0h0m3 0h0m3 0h0m5 0h2m5 0h0m3 0h1m2 0h0m5 0h0m4 0h0m5 0h0m13 0h1m-71 1h0m14 0h0m2 0h1m4 0h1m7 0h0m5 0h0m3 0h0m3 0h0m8 0h1m2 0h0m9 0h0m4 0h0m2 0h0m3 0h0m13 0h0m-113 1h0m20 0h0m2 0h0m9 0h0m7 0h0m13 0h0m5 0h0m8 0h0m8 0h0m3 0h0m-75 1h0m14 0h0m8 0h0m5 0h0m4 0h0m14 0h1m15 0h0m8 0h0m12 0h0m-83 1h0m31 0h0m5 0h0m4 0h0m15 0h0m6 0h0m4 0h0m5 0h0m18 0h0m-102 1h0m7 0h0m18 0h0m11 0h1m7 0h0m2 0h1m30 0h0m-43 1h0m7 0h0m47 0h0m-84 1h0m31 0h0m18 0h0m15 0h0m7 0h0m-68 1h0m4 0h0m3 0h0m9 0h0m9 0h0m19 0h0m24 0h0m-28 1h0m13 0h0m-68 1h0m28 0h0m2 0h0m7 0h0m9 0h0m15 0h0m-35 1h0m38 0h0m10 0h0m18 0h0m5 0h0m-84 2h0m16 0h0m5 1h0m10 0h0m17 0h0m-54 1h0m61 0h0m-58 1h0m19 0h0m49 0h0m-67 1h1m8 0h0m15 0h0m13 0h0m2 0h0m46 0h0m-26 1h0m-62 1h0m8 0h0m29 0h0m17 0h0m11 0h0m-69 1h0m37 0h1m4 0h0m78 0h0m-71 1h0m3 0h0m-34 1h0m11 0h0m2 0h0m18 0h1m2 0h0m15 0h0m41 0h0m-67 1h0m-46 1h0m41 0h0m7 0h0m11 0h0m-39 1h0m4 0h0m105 0h0m-32 1h0m-59 1h0m23 0h0m31 0h0m38 0h0m-57 2h0m6 0h0m17 0h0m-42 1h0m19 0h0m-45 1h0m10 0h0m-24 1h0m67 0h0m52 1h0m-116 1h0m86 0h0m-76 1h0m12 0h0m21 0h0m1 1h0m-25 1h0m-10 1h0m17 1h0m84 0h0" stroke="#0000ff"/>
<path d="M256 41h0m-1 1h0m4 0h0m-23 1h0m22 0h0m-17 1h0m10 0h0m5 0h0m2 0h0m7 0h0m4 0h0m-27 1h0m7 0h0m2 0h0m6 0h1m15 0h0m-40 1h0m4 0h0m8 0h0m16 0h0m3 0h0m16 0h0m-42 1h1m3 0h0m5 0h0m6 0h0m8 0h0m3 0h0m3 0h1m7 0h0m4 0h0m4 0h0m-48 1h1m2 0h0m29 0h1m2 0h0m2 0h0m7 0h0m5 0h0m-52 1h0m3 0h0m6 0h0m7 0h0m13 0h0m3 0h0m4 0h0m3 0h1m2 0h0m2 0h0m2 0h0m2 0h0m-51 1h0m4 0h1m6 0h0m4 0h0m13 0h0m9 0h0m4 0h0m4 0h0m3 0h0m-46 1h1m6 0h0m19 0h0m20 0h0m4 0h0m-68 1h0m8 0h0m4 0h0m37 0h0m7 0h0m8 0h2m-68 1h0m3 0h0m8 0h0m4 0h1m9 0h0m41 0h0m4 0h0m2 0h1m3 0h0m-71 1h0m43 0h0m9 0h0m9 0h0m2 0h1m2 0h0m3 0h0m-68 1h0m2 0h0m7 0h0m10 0h0m36 0h0m3 0h0m9 0h0m2 0h1m-74 1h1m2 0h0m5 0h0m51 0h0m6 0h0m3 0h1m5 0h1m-71 1h0m10 0h0m38 0h0m15 0h1m3 0h0m2 0h0m-72 1h0m2 0h0m3 0h0m56 0h2m3 0h0m-70 1h2m8 0h0m57 0h2m-73 1h0m7 0h1m4 0h0m11 0h0m41 0h0m6 0h1m2 0h0m2 0h2m-78 1h0m4 0h0m4 0h0m55 0h0m6 0h0m4 0h1m2 0h1m-79 1h0m2 0h1m6 0h0m15 0h0m48 0h0m2 0h0m6 0h0m2 0h0m-78 1h1m66 0h0m6 0h0m-73 1h0m2 0h0m61 0h0m6 0h0m2 0h3m-78 1h0m69 0h0m5 0h0m2 0h0m2 0h0m-76 1h0m3 0h2m7 0h0m46 0h0m-55 1h0m11 0h0m34 0h0m19 0h0m4 0h0m-73 1h1m5 0h0m8 0h1m9 0h0m29 0h0m6 0h0m9 0h0m2 0h0m4 0h0m2 0h0m-74 1h0m5 0h0m9 0h1m49 0h0m2 0h1m6 0h0m-70 1h0m7 0h1m12 0h0m3 0h0m38 0h2m5 0h0m-62 1h0m4 0h0m3 0h0m5 0h0m23 0h0m17 0h0m7 0h1m-67 1h1m2 0h1m7 0h0m26 0h0m5 0h0m18 0h0m3 0h0m7 0h0m-69 1h0m3 0h0m10 0h2m17 0h0m8 0h0m10 0h0m3 0h0m6 0h1m8 0h0m-57 1h0m4 0h0m8 0h0m8 0h0m16 0h0m4 0h0m4 0h0m-47 1h0m4 0h0m6 0h0m12 0h0m7 0h0m16 0h0m3 0h1m-57 1h0m9 0h0m4 0h1m3 0h0m6 0h0m6 0h0m5 0h0m7 0h6m2 0h0m3 0h1m-51 1h0m10 0h0m10 0h0m2 0h0m4 0h0m15 0h0m6 0h1m2 0h0m-46 1h0m4 0h0m9 0h0m6 0h0m17 0h0m6 0h0m-38 1h0m15 0h0m11 0h1" stroke="#0000ff"/>
<path d="M252 45h1m-14 1h0m5 0h0m3 0h0m9 0h0m9 0h2m-26 1h0m4 0h0m10 0h0m14 0h1m3 0h0m-36 1h0m2 0h1m10 0h0m3 0h0m2 0h0m2 0h0m3 0h2m19 0h0m-45 1h0m10 0h0m6 0h0m2 0h0m3 0h1m11 0h1m5 0h0m-29 1h0m18 0h0m3 0h0m2 0h0m2 0h0m5 0h0m-49 1h0m7 0h0m3 0h0m4 0h0m22 0h0m4 0h0m2 0h0m3 0h0m3 0h0m4 0h0m-33 1h0m14 0h0m5 0h0m-41 1h0m4 0h0m30 0h0m15 0h0m2 0h0m-56 1h0m3 0h1m2 0h0m3 0h0m3 0h0m32 0h0m13 0h0m-61 1h0m3 0h0m2 0h1m3 0h0m10 0h0m24 0h0m15 0h0m4 0h0m2 0h0m-62 1h0m11 0h0m46 0h0m3 0h0m3 0h0m-64 1h0m3 0h0m5 0h0m2 0h0m43 0h0m4 0h0m6 0h0m4 0h0m-68 1h0m9 0h0m-11 1h0m61 0h0m2 0h0m4 0h0m-69 1h0m4 0h0m9 0h0m2 0h0m49 0h0m-60 1h0m2 0h0m4 0h0m7 0h0m47 0h0m-61 1h0m62 0h0m2 0h0m2 0h0m-74 1h0m4 0h0m3 0h0m58 0h0m5 0h0m-68 1h0m4 0h0m4 0h0m5 0h0m6 0h0m38 0h0m3 0h0m6 0h0m-65 1h0m2 0h0m2 0h1m2 0h2m36 0h0m11 0h0m-53 1h0m13 0h0m49 0h0m5 0h0m-70 1h0m2 0h0m3 0h0m12 0h0m30 0h0m17 0h0m-61 1h0m21 0h0m26 0h0m10 0h0m3 0h0m3 0h0m-64 1h2m4 0h0m49 0h0m2 0h0m2 0h0m-58 1h0m8 0h0m42 0h0m2 0h0m2 0h0m2 0h0m-53 1h2m5 0h0m2 0h0m5 0h0m12 0h0m20 0h0m3 0h1m-41 1h0m8 0h0m32 0h0m4 0h0m3 0h0m-58 1h0m5 0h1m5 0h0m4 0h0m2 0h0m7 0h0m2 0h0m3 0h0m4 0h0m7 0h0m-33 1h1m7 0h1m11 0h0m4 0h0m5 0h0m5 0h0m3 0h0m-39 1h0m4 0h1m4 0h0m3 0h0m2 0h0m4 0h0m15 0h0m7 0h0m2 0h0m3 0h0m-47 1h0m17 0h0m5 0h0m7 0h0m-28 1h0m14 0h0m2 0h0m16 0h1m-20 1h0m20 1h0" stroke="#0000ff"/>
<path d="M241 48h0m4 0h0m3 0h0m4 0h0m6 0h0m6 0h1m-27 1h0m2 0h0m2 0h0m3 0h0m14 0h0m7 0h0m-29 1h0m12 0h0m4 0h0m8 0h0m4 0h0m7 0h1m-37 1h0m11 0h0m7 0h0m6 0h0m4 0h1m8 0h0m-44 1h3m4 0h0m12 0h0m3 0h1m4 0h0m7 0h0m3 0h0m4 0h0m6 0h0m-47 1h0m2 0h1m2 0h0m5 0h0m13 0h0m5 0h0m6 0h0m3 0h0m-42 1h0m5 0h0m4 0h0m19 0h0m22 0h0m-51 1h0m2 0h0m3 0h0m4 0h0m8 0h0m29 0h0m5 0h0m2 0h0m-53 1h0m44 0h0m3 0h0m3 0h0m-55 1h0m3 0h0m2 0h0m53 0h1m-59 1h0m2 0h0m52 0h0m2 0h0m-57 1h0m44 0h0m7 0h0m-51 1h0m5 0h0m19 0h0m30 0h1m2 0h0m-56 1h0m2 0h0m2 0h0m41 0h0m2 0h0m5 0h0m3 0h0m-56 1h0m5 0h0m-4 1h0m9 0h0m42 0h0m10 0h0m-68 1h0m4 0h0m2 0h0m2 0h0m10 0h1m41 0h0m-56 1h0m4 0h0m55 0h0m-63 1h0m5 0h0m3 0h1m34 0h0m12 0h0m2 0h0m4 0h0m-47 1h0m7 0h0m31 0h0m-49 1h0m6 0h0m9 0h0m41 0h0m-52 1h0m4 0h0m4 0h0m3 0h0m4 0h0m23 0h2m3 0h0m2 0h0m4 0h0m-50 1h0m2 0h0m15 0h0m6 0h0m3 0h0m11 0h0m4 0h0m7 0h0m-45 1h0m8 0h0m2 0h0m5 0h0m2 0h0m6 0h1m7 0h0m5 0h0m2 0h2m3 0h0m6 0h0m-50 1h1m3 0h0m2 0h0m2 0h0m2 0h1m5 0h0m4 0h0m3 0h0m20 0h0m-45 1h0m9 0h0m5 0h1m2 0h0m9 0h0m4 0h0m3 0h0m4 0h2m-30 1h0m9 0h0m6 0h0m2 0h0m8 0h1m-24 1h1m6 0h0m4 0h1m12 0h0m-23 1h1m2 0h0m12 0h0" stroke="#0000ff"/>
<path d="M252 47h0m-8 1h0m2 0h1m4 0h0m-8 1h0m10 0h0m12 0h0m2 0h0m-29 1h0m10 0h0m3 0h0m4 0h0m4 0h0m4 0h0m-21 1h2m11 0h0m7 0h0m-20 1h0m8 0h0m8 0h0m9 0h1m-38 1h0m7 0h0m16 0h0m12 0h0m11 0h0m-50 1h0m4 0h0m2 0h0m4 0h0m19 0h1m13 0h0m2 0h0m-49 1h0m5 0h0m12 0h0m5 0h0m3 0h0m17 0h0m-37 1h0m5 0h0m-3 1h1m37 0h0m4 0h1m3 0h0m-48 1h0m2 0h2m11 0h0m29 0h0m2 0h0m-55 1h0m6 0h0m9 0h0m4 0h0m28 0h0m6 0h0m2 0h0m2 0h0m-56 1h0m11 0h0m4 0h0m30 0h0m-45 1h0m10 0h0m17 0h0m-30 1h0m44 0h0m9 0h0m2 0h0m3 0h0m-57 1h0m-4 1h0m5 0h0m2 0h0m4 0h1m15 0h0m16 0h0m16 0h0m-51 1h0m6 0h0m28 0h0m-37 1h0m3 0h0m3 0h0m5 0h0m38 0h0m3 0h0m-53 1h0m4 0h0m31 0h0m3 0h0m7 0h0m2 0h1m-39 1h0m22 0h0m4 0h0m3 0h0m-31 1h1m30 0h0m-34 1h0m6 0h0m2 0h1m3 0h0m2 0h0m4 0h0m3 0h0m9 0h2m14 0h0m-48 1h0m21 0h0m13 0h1m-33 1h0m26 0h0m10 0h0m3 0h1m2 0h0m-25 1h0m11 0h0m-19 1h0m3 0h1m11 0h0m5 0h0m-17 1h0m10 0h0" stroke="#0044ff"/>
<path d="M255 49h0m-14 1h0m6 0h0m21 0h0m-19 1h1m6 0h0m-21 1h0m2 0h0m12 0h0m4 0h0m6 0h0m2 0h0m3 0h0m-29 1h0m7 0h1m2 0h1m4 0h1m13 0h0m-26 1h1m3 0h0m11 0h0m4 0h1m2 0h0m4 0h0m2 0h0m-31 1h0m10 0h0m9 0h0m11 0h0m-40 1h0m4 0h0m2 0h0m2 0h0m8 0h0m23 0h0m5 0h0m6 0h0m-50 1h0m38 0h0m7 0h0m4 0h0m-49 1h0m3 0h0m31 0h0m7 0h0m4 0h0m-49 1h0m2 0h0m2 0h2m29 0h0m8 0h0m2 0h0m3 0h1m-49 1h0m6 0h0m35 0h0m11 0h0m-47 1h0m4 0h0m32 0h0m2 0h0m5 0h0m-48 1h0m4 0h0m48 0h0m-50 1h0m5 0h0m-6 1h0m9 0h1m34 0h0m-40 1h0m4 0h0m33 0h0m3 0h0m-44 1h1m7 0h0m7 0h0m7 0h0m18 0h0m7 0h0m-39 1h1m4 0h0m13 0h0m9 0h0m4 0h0m5 0h0m-45 1h0m2 0h0m2 0h0m6 0h0m3 0h0m13 0h0m16 0h2m-44 1h0m7 0h0m-5 1h0m15 0h0m10 0h0m8 0h0m5 0h0m-27 1h0m13 0h1m4 0h0m5 0h0m-12 1h0m3 0h0m2 0h0m2 0h0m3 0h0m-19 1h0m8 0h0" stroke="#0092f5"/>
<path d="M247 49h0m-4 1h0m7 0h0m-5 1h0m6 0h0m7 0h0m8 0h0m4 0h0m-31 1h0m18 0h0m-24 1h0m11 0h0m4 0h1m12 0h0m6 0h1m2 0h0m-33 1h0m13 0h0m12 0h0m8 0h0m-27 1h0m18 0h0m2 0h0m-37 1h0m19 0h0m13 0h0m5 0h0m5 0h0m-34 1h0m6 0h0m9 0h0m11 0h0m4 0h0m-43 1h0m5 0h0m7 0h0m32 0h0m2 0h1m-38 1h0m38 1h0m-45 1h0m4 0h0m13 0h0m16 0h0m11 0h0m4 0h0m-48 1h0m6 0h0m7 0h0m19 0h0m13 0h0m2 0h0m2 0h0m-53 1h0m22 0h0m18 0h0m4 0h1m2 0h0m7 0h0m-47 1h0m2 0h0m0 1h0m3 0h0m3 0h0m3 0h0m19 0h0m11 0h0m3 0h0m3 0h0m-46 1h0m16 0h0m5 0h0m13 0h0m-41 1h0m2 0h1m5 0h0m6 0h0m2 0h0m2 0h0m22 0h0m-36 1h0m8 0h0m22 0h0m7 0h0m-34 1h0m5 0h0m13 0h0m4 0h0m2 0h0m2 0h0m-16 1h0m4 0h0m8 0h0m6 0h0m2 0h0m-11 1h0m-15 1h0m2 0h0m7 0h0m11 0h0m-22 1h0m12 0h0m4 0h0" stroke="#00e1d5"/>
<path d="M250 49h0m6 1h0m-16 1h0m8 0h0m4 0h0m-18 1h0m9 0h0m11 1h1m5 0h0m-26 1h0m10 0h1m4 0h0m16 0h0m2 0h0m-30 1h0m4 0h0m15 0h1m3 0h0m2 0h0m4 0h0m-31 1h0m13 0h0m6 0h1m5 0h1m4 0h0m-34 1h0m16 0h1m4 0h0m10 0h0m6 0h0m-46 1h0m18 0h0m3 0h0m11 0h0m3 0h0m12 0h0m-47 1h0m6 0h1m5 0h0m26 0h0m12 0h0m-52 1h0m3 0h0m5 0h0m29 0h0m6 0h0m2 0h0m4 0h0m-37 1h1m9 0h0m19 0h0m-37 1h0m4 0h0m4 0h0m13 0h0m4 0h0m2 0h1m9 0h1m-42 1h1m4 0h1m16 0h0m-19 1h0m11 0h1m10 0h0m12 0h0m4 0h0m-38 1h0m2 0h0m15 0h0m7 0h0m3 0h1m6 0h1m4 0h0m-34 1h0m5 0h0m31 0h0m-20 1h0m6 0h1m3 0h0m4 0h1m-24 1h0m3 0h0m19 0h1m-35 1h0m12 0h1m2 0h0m2 0h0m3 0h1m1 1h0m0 1h0m5 0h0m-16 1h0m9 0h0m-12 3h0" stroke="#00f965"/>
<path d="M253 51h0m-15 2h0m21 0h0m-19 1h0m3 0h0m4 0h1m3 0h0m-20 1h0m18 0h0m2 0h1m3 0h0m4 0h0m11 0h1m-35 1h2m2 0h0m2 0h0m7 0h1m7 0h0m-25 1h0m3 0h0m6 0h0m2 0h0m12 0h0m-23 1h0m4 0h0m3 0h0m13 0h0m8 0h1m2 0h1m-28 1h0m7 0h0m14 0h0m-32 1h0m7 0h1m15 0h0m7 0h0m5 0h0m-36 1h0m21 0h0m-15 1h0m8 0h0m25 0h1m-34 1h0m6 0h0m3 0h0m7 0h0m8 0h0m4 0h0m2 0h0m2 0h0m5 0h0m-30 1h0m11 0h1m5 0h0m6 0h0m3 0h1m5 0h0m-40 1h0m6 0h0m9 0h0m8 0h0m8 0h1m7 0h0m-42 1h0m6 0h0m3 0h0m5 0h1m14 0h0m5 0h0m-13 1h0m-11 1h0m3 0h0m10 0h0m-12 1h0m2 0h0m7 0h0m6 0h0m2 0h0m-18 1h0m8 0h0m2 0h0m4 0h0m-12 1h0" stroke="#45ff26"/>
<path d="M245 52h0m2 0h0m-7 1h0m7 0h0m9 0h0m-21 1h0m19 0h0m7 0h0m-28 1h0m1 1h0m5 0h0m7 0h1m5 0h0m10 0h0m-29 1h0m6 0h0m7 0h0m11 0h1m-20 1h0m3 0h0m3 0h1m5 0h0m-11 1h0m24 0h0m4 0h0m-32 1h1m3 0h1m9 0h0m5 0h0m7 0h0m-27 1h0m4 0h0m20 0h0m2 0h0m-19 1h0m6 0h1m2 0h0m9 0h0m7 0h1m-38 1h0m9 0h0m5 0h0m6 0h0m2 0h0m4 0h0m6 0h0m7 0h0m-25 1h0m12 0h0m7 0h0m-38 1h0m8 0h0m7 0h0m3 0h0m-11 1h0m7 0h0m-14 1h0m9 0h0m4 0h0m3 0h2m3 0h0m-15 1h0m7 0h0m3 0h0m3 0h0m3 0h0m4 0h0m3 0h0m7 0h0m-26 1h0m7 0h0m6 0h1m-1 1h0" stroke="#a3fd00"/>
<path d="M244 52h0m9 3h0m-10 1h0m8 0h0m8 0h0m-23 1h0m8 0h0m6 0h1m8 0h0m-24 1h0m11 0h2m7 0h0m-24 1h1m6 0h0m6 0h0m9 0h0m2 0h0m-18 1h0m6 0h0m2 0h2m4 0h2m6 0h0m-24 1h0m12 0h1m11 0h0m-33 1h0m5 0h0m3 0h0m6 0h0m6 0h0m7 0h0m-29 1h0m8 0h1m17 0h0m15 0h0m-19 1h1m3 0h0m2 0h1m6 0h0m-18 1h0m12 0h0m-19 1h0m12 0h1m2 0h1m-21 1h0m14 0h0m6 0h0m-7 1h0m9 0h0m-21 1h0m12 0h0m8 0h0m-19 2h0" stroke="#f4ed00"/>
<path d="M254 52h1m-17 3h0m10 0h0m2 0h0m-6 1h0m9 0h0m3 0h0m-19 1h1m15 0h1m12 0h0m-32 1h0m3 0h0m16 0h0m5 0h0m4 0h0m-22 1h0m2 0h0m8 0h0m9 0h0m-28 1h0m7 0h0m18 0h0m2 0h0m8 0h1m-36 1h0m5 0h0m7 0h0m6 0h0m2 0h0m3 0h1m-22 1h0m10 0h1m12 0h1m-22 1h0m5 0h0m7 0h0m10 0h0m-24 1h0m3 0h0m-3 1h0m15 0h0m11 0h0m-17 1h0m3 0h0m7 0h0m7 0h0m-13 1h0m-5 1h0m3 0h1m-13 3h0" stroke="#ffa600"/>
<path d="M241 54h0m5 0h0m-4 1h0m4 0h0m-4 2h0m3 0h0m11 0h0m-7 1h0m2 0h0m5 0h0m-10 1h0m3 0h0m2 0h1m6 0h0m-16 1h0m-3 1h0m27 0h0m-31 1h0m2 0h0m2 0h0m3 0h0m12 0h0m11 0h0m-31 1h0m3 0h0m8 0h0m7 0h0m-14 1h0m3 0h1m9 0h0m-15 1h0m2 0h0m5 0h0m6 0h0m-13 1h0m3 0h0m14 0h0m3 0h0m2 0h0m-19 1h0" stroke="#ff5300"/>
<path d="M261 57h0m-26 2h0m6 0h0m4 0h0m2 0h1m6 0h0m8 0h0m-12 1h0m-6 1h0m6 0h0m2 0h1m4 0h0m1 1h0m-14 1h0m4 0h0m5 0h0m3 0h0m-17 1h0m5 0h0m14 0h0m-12 1h0m5 1h0" stroke="#ff0000"/>
</g>
<rect x="1839.7" y="57.7" width="133.5" height="83.6" fill="none" stroke="#000" stroke-width="2.1"/>
<path d="M1735.2 381.9v3.6M1735.3 381.9v3.6M1735.4 381.9v3.6M1735.6 381.9v3.6M1735.7 381.9v3.6M1735 381.9v3.6M1734.9 381.9v3.6M1734.8 381.9v3.6M1734.6 381.9v3.6M1734.5 381.9v3.6" stroke="#000" stroke-width="1.3" fill="none"/>
<path d="M1735.5 381.9v6.8M1738.5 381.9v6.8M1767.1 381.9v6.8M1850 381.9v6.8M1938.7 381.9v6.8M1734.7 381.9v6.8M1731.5 381.9v6.8M1702.9 381.9v6.8" stroke="#000" stroke-width="1.7" fill="none"/>
<path d="M1735.8 381.9v9.5M1741.8 381.9v9.5M1790.5 381.9v9.5M1882.9 381.9v9.5M1963.5 381.9v9.5M1734.4 381.9v9.5M1728.1 381.9v9.5M1679.5 381.9v9.5" stroke="#000" stroke-width="2.4" fill="none"/>
<path d="M1736.5 381.9v4.3M1737.2 381.9v4.3M1737.9 381.9v4.3M1739.2 381.9v4.3M1739.9 381.9v4.3M1740.5 381.9v4.3M1741.2 381.9v4.3M1748.9 381.9v4.3M1755.4 381.9v4.3M1761.4 381.9v4.3M1772.3 381.9v4.3M1777.3 381.9v4.3M1781.9 381.9v4.3M1786.3 381.9v4.3M1812.5 381.9v4.3M1828.1 381.9v4.3M1840.2 381.9v4.3M1858.4 381.9v4.3M1865.6 381.9v4.3M1872 381.9v4.3M1877.7 381.9v4.3M1906.4 381.9v4.3M1920.6 381.9v4.3M1930.7 381.9v4.3M1945.2 381.9v4.3M1950.7 381.9v4.3M1955.5 381.9v4.3M1959.7 381.9v4.3M1988.5 381.9v4.3M1733.6 381.9v4.3M1732.9 381.9v4.3M1732.2 381.9v4.3M1730.8 381.9v4.3M1730.1 381.9v4.3M1729.4 381.9v4.3M1728.8 381.9v4.3M1721 381.9v4.3M1714.5 381.9v4.3M1708.5 381.9v4.3M1697.6 381.9v4.3M1692.7 381.9v4.3M1688.1 381.9v4.3M1683.7 381.9v4.3" stroke="#000" stroke-width="1.2" fill="none"/>
<path d="M1735.1 381.9v8.5" stroke="#000" stroke-width="2.6" fill="none"/>
<text x="1679.5" y="404.3" font-size="13.4" font-weight="bold" text-anchor="middle">-10<tspan font-size="9" dy="-4">3</tspan></text>
<text x="1735.1" y="404.3" font-size="13.4" font-weight="bold" text-anchor="middle">0</text>
<text x="1790.5" y="404.3" font-size="13.4" font-weight="bold" text-anchor="middle">10<tspan font-size="9" dy="-4">3</tspan></text>
<text x="1882.9" y="404.3" font-size="13.4" font-weight="bold" text-anchor="middle">10<tspan font-size="9" dy="-4">4</tspan></text>
<text x="1963.5" y="404.3" font-size="13.4" font-weight="bold" text-anchor="middle">10<tspan font-size="9" dy="-4">5</tspan></text>
<path d="M1659.3 307.3h-3.6M1659.3 307.2h-3.6M1659.3 307h-3.6M1659.3 306.9h-3.6M1659.3 307.5h-3.6M1659.3 307.6h-3.6M1659.3 307.8h-3.6M1659.3 307.9h-3.6" stroke="#000" stroke-width="1.3" fill="none"/>
<path d="M1659.3 307.1h-6.8M1659.3 304.4h-6.8M1659.3 274.2h-6.8M1659.3 189.1h-6.8M1659.3 100.4h-6.8M1659.3 307.7h-6.8M1659.3 310.4h-6.8M1659.3 337.3h-6.8" stroke="#000" stroke-width="1.7" fill="none"/>
<path d="M1659.3 306.8h-9.5M1659.3 301.5h-9.5M1659.3 248.8h-9.5M1659.3 156.2h-9.5M1659.3 75.5h-9.5M1659.3 308h-9.5M1659.3 313.3h-9.5M1659.3 359.6h-9.5" stroke="#000" stroke-width="2.4" fill="none"/>
<path d="M1659.3 306.2h-4.3M1659.3 305.6h-4.3M1659.3 305h-4.3M1659.3 303.8h-4.3M1659.3 303.2h-4.3M1659.3 302.6h-4.3M1659.3 302.1h-4.3M1659.3 293.8h-4.3M1659.3 286.8h-4.3M1659.3 280.2h-4.3M1659.3 268.5h-4.3M1659.3 263.1h-4.3M1659.3 258.1h-4.3M1659.3 253.3h-4.3M1659.3 226.8h-4.3M1659.3 211.1h-4.3M1659.3 199h-4.3M1659.3 180.8h-4.3M1659.3 173.5h-4.3M1659.3 167.1h-4.3M1659.3 161.4h-4.3M1659.3 132.7h-4.3M1659.3 118.5h-4.3M1659.3 108.3h-4.3M1659.3 93.9h-4.3M1659.3 88.3h-4.3M1659.3 83.5h-4.3M1659.3 79.3h-4.3M1659.3 50.5h-4.3M1659.3 308.6h-4.3M1659.3 309.2h-4.3M1659.3 309.8h-4.3M1659.3 311h-4.3M1659.3 311.6h-4.3M1659.3 312.2h-4.3M1659.3 312.7h-4.3M1659.3 320h-4.3M1659.3 326.2h-4.3M1659.3 332h-4.3M1659.3 342.3h-4.3M1659.3 347h-4.3M1659.3 351.4h-4.3M1659.3 355.6h-4.3" stroke="#000" stroke-width="1.2" fill="none"/>
<path d="M1659.3 307.4h-8.5" stroke="#000" stroke-width="2.6" fill="none"/>
<text x="1648.7" y="360.4" font-size="13.4" font-weight="bold" text-anchor="end">-10<tspan font-size="9" dy="-4">3</tspan></text>
<text x="1648.7" y="309.8" font-size="13.4" font-weight="bold" text-anchor="end">0</text>
<text x="1648.7" y="249.6" font-size="13.4" font-weight="bold" text-anchor="end">10<tspan font-size="9" dy="-4">3</tspan></text>
<text x="1648.7" y="157" font-size="13.4" font-weight="bold" text-anchor="end">10<tspan font-size="9" dy="-4">4</tspan></text>
<text x="1648.7" y="76.3" font-size="13.4" font-weight="bold" text-anchor="end">10<tspan font-size="9" dy="-4">5</tspan></text>
<text x="1662" y="35.8" font-size="28.1">CD45.2+</text>
<text x="1914.6" y="137.1" font-size="28.6">98.6</text>
<text x="1827.8" y="430" font-size="28" text-anchor="middle">CD11b - PE/Cy7</text>
<text x="1616.8" y="213.5" font-size="28" text-anchor="middle" transform="rotate(-90 1616.8 213.5)">Ly6C - PerCP/Cy5.5</text>
<text x="-2.5" y="535" font-size="56" font-weight="bold">b</text>
<rect x="116.3" y="516.5" width="335" height="335.8" fill="#fff" stroke="#3c3c3c" stroke-width="1.15"/>
<g transform="translate(119.5 521.4) scale(2.375)" fill="none" stroke-linecap="square" stroke-width="2">
<path d="M26 28h0m2 1h0m8 0h0m-30 1h0m11 0h0m14 0h0m-26 1h0m12 0h0m8 0h0m5 0h0m-30 1h0m14 0h0m4 0h0m15 0h0m2 0h0m-9 1h0m9 0h0m-23 1h0m9 0h0m-16 1h0m8 0h1m10 0h0m-23 1h0m6 0h0m6 0h0m4 0h1m6 0h0m4 0h0m2 0h1m-23 1h0m3 0h0m2 0h1m2 0h1m3 0h0m2 0h0m3 0h0m-25 1h0m3 0h0m7 0h0m6 0h0m2 0h3m3 0h2m2 0h0m7 0h0m-25 1h1m5 0h0m2 0h1m2 0h0m6 0h0m2 0h1m-26 1h0m5 0h0m3 0h2m3 0h0m5 0h0m2 0h0m3 0h0m2 0h0m2 0h1m2 0h0m-23 1h1m4 0h1m7 0h1m2 0h0m4 0h0m9 0h0m-31 1h0m3 0h2m2 0h1m2 0h1m2 0h1m2 0h2m2 0h0m2 0h1m9 0h0m-35 1h0m3 0h0m2 0h0m2 0h0m2 0h4m2 0h0m10 0h1m-27 1h0m5 0h0m2 0h4m2 0h3m5 0h2m5 0h1m4 0h0m-38 1h0m9 0h0m2 0h1m2 0h0m2 0h0m2 0h0m2 0h0m2 0h1m2 0h0m2 0h1m2 0h0m4 0h0m4 0h0m-32 1h0m3 0h4m4 0h0m4 0h1m2 0h1m4 0h0m2 0h1m-22 1h0m2 0h0m9 0h0m4 0h2m2 0h0m4 0h0m-27 1h0m2 0h0m2 0h0m2 0h0m2 0h0m8 0h0m2 0h1m2 0h0m4 0h0m-23 1h0m4 0h2m11 0h0m2 0h0m2 0h0m5 0h0m7 0h0m-32 1h0m3 0h0m12 0h1m6 0h2m2 0h0m5 0h0m-40 1h0m3 0h0m3 0h0m2 0h0m4 0h0m13 0h2m4 0h1m4 0h0m-29 1h0m2 0h0m3 0h0m12 0h0m4 0h3m3 0h0m2 0h2m-30 1h1m17 0h3m4 0h0m3 0h1m7 0h0m-37 1h2m19 0h1m3 0h6m-30 1h0m18 0h0m3 0h2m3 0h2m4 0h0m-29 1h0m17 0h1m2 0h1m4 0h0m2 0h1m4 0h0m-13 1h2m2 0h0m7 0h0m-37 1h0m4 0h0m3 0h0m19 0h0m2 0h0m2 0h0m5 0h0m-34 1h2m22 0h0m2 0h1m2 0h2m2 0h0m11 0h1m6 0h0m3 0h0m-59 1h0m30 0h2m3 0h3m3 0h0m8 0h0m6 0h0m5 0h0m-54 1h0m25 0h0m2 0h0m2 0h3m2 0h1m2 0h1m2 0h0m10 0h0m-50 1h0m28 0h0m2 0h2m2 0h0m9 0h0m5 0h0m-47 1h0m26 0h2m2 0h4m3 0h0m-40 1h0m3 0h1m25 0h0m5 0h1m3 0h0m5 0h0m6 0h0m-47 1h0m30 0h3m2 0h0m12 0h0m5 0h0m5 0h0m-57 1h1m29 0h0m2 0h0m4 0h1m8 0h0m-47 1h0m4 0h0m29 0h2m2 0h2m8 0h0m2 0h0m7 0h0m-53 1h0m31 0h0m4 0h0m2 0h2m6 0h0m6 0h0m-51 1h0m30 0h0m4 0h4m12 0h0m4 0h0m2 0h0m-60 1h1m3 0h0m31 0h0m8 0h0m2 0h0m7 0h0m2 0h0m-53 1h0m38 0h0m2 0h0m3 0h0m2 0h0m13 0h0m-58 1h0m2 0h1m35 0h4m2 0h0m6 0h0m5 0h0m3 0h0m-57 1h2m35 0h3m2 0h0m4 0h0m13 0h0m-59 1h0m2 0h0m35 0h0m9 0h0m-9 1h0m3 0h4m8 0h1m3 0h0m-56 1h0m43 0h0m3 0h2m-51 1h0m5 0h1m37 0h2m-44 1h1m2 0h1m38 0h0m5 0h1m2 0h0m-50 1h0m2 0h2m39 0h2m14 0h0m-57 1h0m45 0h5m6 0h1m-61 1h0m5 0h1m41 0h0m3 0h4m3 0h0m2 0h0m4 0h0m4 0h0m-65 1h0m2 0h0m43 0h0m2 0h1m10 0h0m-58 1h1m2 0h2m43 0h1m7 0h0m2 0h0m-54 1h0m41 0h0m4 0h0m3 0h2m2 0h1m-59 1h1m4 0h0m48 0h0m2 0h2m-57 1h1m2 0h2m53 0h0m2 0h0m2 0h0m3 0h0m-62 1h2m49 0h1m3 0h3m7 0h0m-69 1h2m2 0h3m51 0h0m2 0h1m2 0h0m2 0h1m-60 1h0m52 0h0m-52 1h1m52 0h0m6 0h0m-62 1h0m2 0h2m64 0h0m-71 1h0m2 0h2m60 0h1m2 0h0m-66 1h3m56 0h0m5 0h0m-64 1h0m2 0h2m60 0h0m3 0h0m-66 1h0m2 0h1m63 0h2m-69 1h0m3 0h0m64 0h0m2 0h1m-67 1h0m65 0h0m9 0h0m-75 1h2m-5 1h0m3 0h1m-2 1h2m-4 1h0m2 0h0m2 0h0m-1 1h0m-2 1h0m2 0h0m-3 1h1m2 0h0m-2 1h2m0 1h0m-1 2h0m0 1h0m0 2h0m0 3h0m0 1h0m-1 1h0m1 1h0m-1 2h0m0 2h1m-1 1h1m-2 1h0m2 1h1m-3 2h0m78 0h0m-75 1h0m-1 1h2m74 0h0m-77 1h0m69 0h0m-70 1h0m2 1h1m0 1h0m-3 1h2m67 0h0m3 0h0m-70 1h1m67 0h2m-71 1h0m2 0h1m2 0h0m-6 1h1m2 0h1m65 0h0m2 0h0m-4 1h0m3 0h1m-3 1h0m2 0h0" stroke="#0000ff"/>
<path d="M13 27h0m11 1h0m-16 1h0m7 1h0m14 3h0m-14 2h0m4 0h0m-5 1h0m20 1h0m-20 2h0m7 1h0m4 0h0m5 0h0m-17 1h0m7 0h0m-2 1h0m6 0h0m-1 1h0m3 0h0m4 1h0m5 0h0m-25 1h0m5 0h0m6 0h0m-5 1h0m4 0h0m-6 1h0m10 0h0m-8 1h0m3 0h0m1 1h0m6 0h0m7 0h0m-28 1h0m9 0h0m8 0h1m3 0h0m-13 1h0m12 1h0m7 0h0m-22 1h0m3 0h0m11 0h1m-13 1h1m13 0h0m-17 1h0m3 0h0m-2 1h0m16 0h0m21 0h0m-18 1h0m8 0h0m-27 1h0m23 0h0m-24 1h1m17 0h0m3 0h0m9 0h0m-32 1h0m3 0h0m29 0h0m5 0h0m-37 1h0m2 0h0m2 0h0m-9 1h0m8 0h0m20 0h0m3 0h0m2 0h0m-26 1h1m24 1h0m-27 1h0m2 0h0m24 0h0m-24 1h0m26 0h0m-32 1h0m6 0h0m26 0h1m4 0h0m16 0h0m-22 1h1m2 0h0m2 0h0m4 0h0m-37 1h0m32 0h1m-4 1h0m2 0h0m2 0h1m12 0h0m-20 1h0m2 0h0m4 0h1m2 0h0m-4 1h1m3 0h0m0 1h0m-4 1h0m4 0h0m2 0h0m3 0h0m-42 1h0m35 0h0m4 0h0m-37 1h2m36 0h0m5 0h0m-45 1h0m38 0h1m-2 1h0m3 0h0m2 0h0m-6 1h0m2 0h0m3 0h0m-39 1h0m37 0h0m3 0h0m-41 1h0m3 0h0m42 0h0m-42 1h1m40 0h0m-2 1h0m8 0h0m2 0h0m-8 1h0m4 0h0m-48 1h0m3 0h0m37 0h0m5 0h2m3 0h0m6 0h0m2 0h0m-9 1h0m2 0h0m-49 1h0m45 0h0m6 0h0m-50 1h0m49 0h0m-1 1h1m4 0h1m-54 1h0m46 1h0m5 0h0m-52 1h0m49 0h0m6 0h1m3 1h0m-60 1h0m54 0h0m4 0h0m2 0h0m-3 1h0m4 0h0m4 0h0m-5 1h0m-64 1h0m3 0h0m58 1h0m5 0h0m0 1h0m2 0h0m-3 1h0m2 0h0m-2 1h0m2 0h0m0 1h0m-1 1h0m2 0h0m1 2h0m-2 2h0m3 0h0m-69 1h1m-1 1h0m-1 4h0m1 2h0m-1 1h0m0 2h1m69 1h0m-70 1h0m70 0h0m-1 3h0m-2 1h0m-66 2h0m70 0h0m-3 1h0m2 1h0m-67 1h0m63 0h0m-2 1h2m4 0h0m-68 1h0m61 0h0m3 0h0m2 0h0m-68 1h0m65 0h0m2 0h1m-2 1h0m3 0h0m-65 1h0m60 1h0m-3 1h2m3 0h0m2 0h0m-70 1h0m4 0h1m61 0h0m-64 1h0" stroke="#0000ff"/>
<path d="M11 35h0m6 12h0m0 1h0m6 0h0m-5 1h1m2 0h2m-8 1h0m4 0h0m10 0h0m-15 1h0m5 0h0m2 0h2m-10 1h1m7 1h1m-8 1h1m9 0h0m-10 1h0m8 0h0m-11 2h0m2 0h0m14 1h0m-15 1h0m-1 1h0m14 0h0m4 0h0m0 1h0m0 2h2m-2 1h0m3 1h0m-22 1h0m18 0h1m1 1h1m2 0h0m-3 1h3m3 0h0m-27 1h0m22 0h0m3 0h2m-5 1h0m3 0h0m-25 1h0m27 0h0m4 0h0m-6 1h0m6 0h0m-7 1h0m5 0h0m-30 1h0m25 0h1m6 0h0m-35 1h0m4 0h0m29 0h0m3 0h0m-32 1h0m30 0h1m2 0h1m-33 1h0m-2 1h1m34 0h0m-34 1h1m27 0h0m-29 1h0m39 0h0m-3 2h1m14 0h0m-50 1h0m34 0h1m4 0h0m-39 1h0m32 0h0m2 0h1m6 0h0m-2 1h0m-40 1h1m39 0h0m2 0h0m2 0h0m-44 1h0m36 0h0m2 0h0m3 0h0m4 0h0m-3 1h0m5 0h1m-49 1h0m2 0h0m41 0h0m3 0h0m2 0h0m-45 1h0m45 0h0m6 0h0m-60 1h0m7 0h0m40 0h0m2 0h0m12 0h1m-58 1h0m3 0h0m-1 1h1m48 0h2m3 0h2m-56 1h1m50 0h0m4 1h0m2 0h1m-60 1h0m55 0h0m5 0h0m-5 1h0m6 0h1m-61 1h0m-4 1h0m4 0h0m60 0h1m-4 1h0m5 0h0m-63 1h1m0 1h0m61 0h0m-62 1h0m61 0h0m-60 1h0m64 0h0m-2 1h2m-66 1h0m67 0h0m-2 2h2m-70 3h0m3 0h0m66 0h0m2 0h0m-69 1h1m0 1h0m64 0h0m4 0h0m-69 1h1m68 0h1m-68 1h0m64 2h0m2 0h0m2 0h0m-2 1h0m-67 1h1m65 0h0m-66 1h0m65 1h1m-67 1h0m67 0h0m-65 2h0m63 0h0m5 0h0m-69 1h0m66 0h1m0 1h0m-67 1h0m65 0h0m-3 1h0m2 0h0m2 0h1m-65 1h0m-1 1h0m65 0h0m-64 1h0m61 0h0m-63 1h1m-1 1h1m59 0h1m-3 1h0m7 0h0m-62 1h1m44 0h0m12 0h0m-58 1h1m39 0h0m15 0h1m5 0h0m-10 1h0m2 0h3m-2 1h0" stroke="#0000ff"/>
<path d="M18 48h0m-1 1h0m3 1h0m-4 1h0m0 1h1m4 0h0m-7 1h0m2 1h1m8 0h0m-4 1h0m3 0h0m-11 1h0m3 0h0m8 0h1m-1 1h1m2 0h0m-2 1h1m1 2h0m0 2h1m-17 2h0m17 0h0m-17 1h0m17 0h0m2 0h0m-19 1h0m20 0h0m-21 1h0m19 0h0m-20 1h0m1 1h0m19 0h0m4 0h0m-23 1h1m17 0h0m5 0h0m3 0h0m-26 1h0m21 0h0m6 0h0m-28 1h1m20 0h0m2 0h0m3 0h0m-4 1h0m4 0h0m2 0h0m-1 1h0m2 0h0m-28 1h0m20 0h1m2 0h1m-23 1h0m22 0h0m5 0h0m3 0h0m-32 1h0m23 0h0m5 0h3m-29 1h0m26 0h0m2 0h1m-29 1h0m25 0h0m2 0h1m-3 1h0m2 0h1m2 0h1m3 0h0m-34 1h0m26 0h0m2 0h4m-32 1h0m25 0h0m7 0h0m-7 1h1m4 0h1m4 0h0m-36 1h0m31 1h0m2 0h0m3 0h0m-36 1h0m36 0h1m4 0h0m-8 1h0m-34 1h0m36 0h0m2 0h0m5 0h1m-42 1h0m35 0h0m5 0h1m2 0h0m-6 1h0m2 0h1m3 0h0m2 0h1m-11 1h0m6 0h0m4 0h1m-6 1h2m5 0h1m0 1h0m-50 1h0m50 0h0m-52 1h0m44 0h0m2 0h0m-47 1h1m52 0h0m4 1h0m2 0h0m-58 1h1m56 0h0m1 1h0m-58 1h0m57 0h0m-57 1h0m55 0h0m4 0h0m-60 2h0m63 0h0m-64 1h0m62 0h1m-2 1h0m-61 1h1m63 0h0m-64 1h1m62 0h0m-63 1h1m56 0h0m6 0h0m2 1h2m-69 2h0m65 0h0m-63 1h0m64 0h2m2 0h0m-3 1h1m-4 1h3m-66 1h0m2 0h0m61 0h0m2 0h0m0 1h1m0 1h0m2 0h0m-68 1h0m3 0h0m62 0h1m-1 2h0m2 0h0m-67 1h1m66 0h0m-67 1h0m67 0h0m-67 1h1m64 0h1m-5 1h0m-59 2h0m61 0h3m-64 1h0m61 0h1m-60 1h0m57 0h0m1 1h1m2 0h0m-8 1h0m3 0h0m-4 1h1m5 1h0m-23 1h0m11 0h0m7 0h0m-24 1h0m18 0h0m2 0h0m2 0h0m6 0h0m2 0h1m-11 1h0m5 0h1m-55 1h0m24 0h0m6 0h0m19 0h3m-52 1h0m36 0h0m4 0h0m4 0h0m3 0h0m3 0h0m-5 1h1" stroke="#0000ff"/>
<path d="M18 51h0m0 1h2m-5 1h2m3 0h0m3 0h0m-5 1h1m2 0h1m-2 1h0m3 0h0m2 0h0m-11 1h0m0 1h0m4 0h0m3 0h0m2 0h0m-10 1h0m9 0h2m-10 1h1m2 0h0m6 0h0m2 0h0m-13 1h1m11 0h0m2 0h0m-13 1h0m10 0h1m2 1h0m0 1h1m0 1h0m-15 1h0m18 1h0m-19 1h0m15 0h0m-14 1h0m14 0h0m3 0h0m-1 1h0m2 0h0m2 0h0m-20 1h0m17 0h1m2 0h0m-5 1h0m3 0h0m-2 1h0m3 0h0m2 0h0m-23 1h0m20 0h0m4 0h0m-24 1h1m18 0h1m2 0h0m0 1h0m3 0h1m-8 1h0m4 0h0m2 0h0m2 0h0m-25 1h0m19 0h0m3 0h3m5 0h0m-31 1h0m21 0h0m5 0h0m-4 1h0m2 0h1m-24 1h0m19 0h1m2 0h0m4 0h0m3 0h0m-5 1h1m2 0h0m-28 1h0m17 0h0m3 0h0m2 0h0m5 0h1m2 0h0m-2 1h0m2 0h0m5 0h0m-34 1h0m21 0h0m3 0h1m2 0h2m2 0h0m3 0h0m-36 1h1m22 0h0m4 0h2m2 0h0m2 0h0m-31 1h1m27 0h6m-35 1h0m23 0h0m6 0h0m3 0h0m-32 1h0m20 0h0m6 0h3m7 0h0m3 0h0m-15 1h0m4 0h0m6 0h0m3 0h0m-38 1h0m30 0h0m4 0h0m2 0h0m4 0h0m3 0h0m-42 1h0m43 0h0m2 0h0m-46 1h0m2 0h0m23 0h0m3 0h0m9 0h1m2 0h1m5 0h0m-45 1h0m30 0h0m11 0h2m-3 1h1m2 0h0m2 0h0m-46 1h0m45 0h1m4 0h1m-52 1h1m37 0h0m3 0h0m7 0h1m5 0h1m-16 1h0m2 0h0m12 0h0m-52 1h0m47 0h0m4 0h0m-53 1h0m45 0h1m7 0h2m-54 1h0m50 0h0m4 0h0m3 0h1m-3 1h2m-58 1h0m54 0h0m3 0h1m2 1h0m-59 1h0m56 0h0m5 0h0m-62 1h0m55 0h0m2 0h1m-2 1h0m3 1h1m-4 1h0m3 0h0m-61 1h2m59 0h2m-62 1h0m59 0h0m2 0h0m2 0h1m-65 1h1m57 0h0m1 1h1m-59 1h0m-1 1h0m2 0h0m57 1h0m2 0h0m-1 1h0m3 0h0m-62 1h0m58 0h0m3 0h0m-62 1h0m60 0h3m-61 1h0m56 0h0m5 0h1m-64 1h0m60 0h1m2 0h0m-2 1h0m-60 1h0m60 0h3m-62 1h0m47 0h0m11 0h3m-62 1h0m58 0h0m3 0h0m-62 1h1m58 0h0m4 0h0m-61 1h0m42 0h0m16 0h1m-12 1h0m2 0h0m-50 1h0m54 0h1m3 0h0m-57 1h0m54 0h0m2 0h0m2 0h0m-20 1h0m10 0h0m5 0h0m2 0h0m-55 1h0m30 0h0m8 0h0m2 0h1m14 0h0m2 0h0m2 0h0m-59 1h0m31 0h0m5 0h0m3 0h0m7 0h0m4 0h0m2 0h0m2 0h0m2 0h0m-17 1h0m4 0h1m4 0h0m2 0h0m2 0h1m-52 1h0m28 0h0m3 0h0m3 0h0m7 0h0m3 0h1m7 0h1m-52 1h0m28 0h0m3 0h1m4 0h1m4 0h1m2 0h2m4 0h0m-50 1h0m20 0h0m7 0h1m5 0h2m4 0h1m6 0h1m-21 1h0m2 0h0m2 0h1m3 0h0m3 0h1m3 0h0m-45 1h0m31 0h0m10 0h0" stroke="#0000ff"/>
<path d="M20 51h0m2 1h0m-4 1h1m-4 2h0m2 1h0m5 0h0m-7 1h0m2 0h0m5 0h0m-8 1h1m6 0h0m-8 1h0m3 1h0m7 0h0m-11 1h0m2 0h0m3 0h0m8 0h1m-13 1h1m-2 1h2m10 0h0m-10 1h0m10 0h0m2 0h0m-13 1h0m12 0h2m0 1h0m1 1h0m-17 1h0m16 0h1m-1 2h0m-16 1h1m14 0h0m2 0h1m-18 1h0m15 0h0m3 0h0m-1 1h0m-1 1h0m-16 1h0m16 0h0m2 0h0m0 1h0m8 0h0m-11 1h3m3 1h0m2 0h1m-23 1h0m17 0h0m2 0h0m-19 1h0m15 0h0m5 0h0m3 0h0m-7 1h1m2 0h3m-5 1h0m4 0h0m6 0h0m2 0h0m-30 1h0m19 0h1m2 0h2m4 0h0m-13 1h0m5 0h0m2 0h1m3 0h0m-9 1h1m5 0h1m-6 1h0m4 0h4m-25 1h1m13 0h0m3 0h1m6 0h0m2 0h0m3 0h0m-30 1h0m15 0h0m6 0h0m9 0h2m-33 1h0m2 0h0m20 0h1m3 0h0m3 0h0m2 0h0m2 0h0m2 0h0m-34 1h0m16 0h0m3 0h0m3 0h0m3 0h0m4 0h0m2 0h0m4 0h0m-33 1h0m16 0h0m4 0h1m4 0h0m2 0h0m2 0h1m6 0h0m-39 1h0m17 0h0m5 0h0m3 0h0m3 0h2m3 0h2m-36 1h0m2 0h0m22 0h0m2 0h1m5 0h2m2 0h3m6 0h0m-17 1h0m7 0h1m4 0h0m3 0h0m2 0h0m2 0h1m-47 1h0m31 0h1m3 0h0m2 0h0m2 0h1m2 0h0m-42 1h0m22 0h0m2 0h0m10 0h1m2 0h0m4 0h0m2 0h0m2 0h0m3 0h0m-49 1h0m2 0h0m24 0h0m13 0h0m4 0h0m3 0h2m2 0h0m3 0h0m-18 1h0m6 0h0m3 0h0m2 0h0m2 0h0m2 0h0m-50 1h0m24 0h0m6 0h0m10 0h1m7 0h2m4 0h1m-25 1h0m13 0h0m3 0h0m-21 1h0m4 0h0m3 0h0m16 0h2m-51 1h0m34 0h0m13 0h0m2 0h1m4 0h1m3 0h0m-59 1h2m51 0h0m2 0h1m-19 1h0m15 0h0m2 0h2m2 0h0m-59 1h0m2 0h0m53 0h0m2 0h0m-56 1h0m50 0h0m7 0h2m-4 1h0m2 0h1m-58 1h0m51 0h0m7 0h0m-6 1h0m5 0h1m-60 1h0m2 0h1m50 0h0m2 0h0m3 0h0m-55 1h0m42 0h0m6 0h0m10 0h1m-60 1h0m0 1h0m51 0h0m3 0h0m4 0h0m2 0h0m-3 1h0m1 1h0m3 0h0m-62 1h0m58 0h0m3 0h0m-60 1h0m55 0h1m2 0h1m2 0h0m-62 1h0m55 0h0m2 0h0m-57 1h0m55 0h0m4 0h0m2 0h0m-61 1h0m53 0h0m5 0h0m-58 1h1m56 0h0m-56 1h1m30 0h0m23 0h2m2 0h0m-59 1h0m50 0h0m3 0h1m2 0h0m-55 1h0m26 0h0m21 0h0m3 0h0m4 0h0m2 0h0m-56 1h0m32 0h1m13 0h0m4 0h0m4 0h0m2 0h0m2 0h0m-5 1h1m2 0h1m-57 1h1m39 0h0m2 0h0m6 0h0m2 0h3m2 0h0m3 0h1m-34 1h0m2 0h0m3 0h0m7 0h0m8 0h0m6 0h0m4 0h0m-22 1h2m9 0h0m2 0h0m3 0h0m2 0h0m2 0h0m4 0h0m-58 1h0m27 0h0m5 0h0m3 0h2m3 0h4m3 0h1m-46 1h1m22 0h0m9 0h0m2 0h1m7 0h0m3 0h0m2 0h1m2 0h1m-26 1h1m2 0h1m2 0h1m8 0h1m2 0h0m3 0h0m4 0h0m2 0h0m4 0h0m-56 1h1m20 0h0m2 0h1m4 0h4m8 0h1m9 0h0m4 0h0m-33 1h0m3 0h0m2 0h1m3 0h0m2 0h0m3 0h1m2 0h0m2 0h0m6 0h0m-22 1h0m2 0h1m3 0h1m4 0h0m4 0h0m-19 1h0m2 0h1m3 0h0m7 0h0m9 0h1m2 0h0m-44 1h0m21 0h0m4 0h0m17 0h0m-45 1h0m32 0h0m4 0h0" stroke="#0017ff"/>
<path d="M18 55h0m-2 2h0m3 0h0m-3 1h3m-3 1h0m3 0h0m-5 1h0m5 0h0m-4 2h0m6 0h0m4 0h0m-2 1h0m-10 1h0m4 0h0m6 0h0m-10 2h0m11 0h1m-1 1h0m3 0h0m-14 1h1m-2 1h1m13 0h1m-14 1h0m12 0h1m-14 2h0m13 0h0m2 0h0m-15 1h0m14 0h1m-15 1h0m16 1h0m-16 1h0m15 0h0m4 0h0m-19 1h0m12 0h0m5 1h1m-17 1h0m13 0h2m5 0h0m-20 1h0m15 0h0m-16 1h1m14 0h0m3 0h0m-18 1h0m14 0h0m-14 1h1m13 0h0m2 0h1m3 0h0m-20 1h1m14 0h0m2 0h1m-18 1h1m13 0h1m6 0h0m-20 1h0m13 0h1m-16 1h0m14 0h0m2 0h1m3 0h0m4 0h0m-23 1h1m9 0h0m2 0h0m3 0h1m6 0h1m5 0h0m-26 1h0m14 0h0m2 0h0m7 0h0m-25 1h1m12 0h0m3 0h1m3 0h0m2 0h1m2 0h0m4 0h0m-29 1h0m14 0h0m10 0h0m3 0h0m2 0h0m-29 1h0m13 0h0m3 0h0m5 0h0m3 0h0m-24 1h0m12 0h0m4 0h1m2 0h1m2 0h0m3 0h2m5 0h0m5 0h0m-37 1h0m17 0h0m2 0h0m2 0h2m3 0h1m2 0h0m6 0h1m-37 1h0m17 0h2m3 0h0m4 0h1m5 0h1m2 0h0m2 0h0m-37 1h0m14 0h0m3 0h0m11 0h0m3 0h1m5 0h0m-18 1h0m2 0h1m5 0h0m3 0h0m2 0h2m6 0h0m7 0h0m-46 1h0m22 0h0m4 0h1m4 0h0m3 0h3m2 0h1m-42 1h0m17 0h0m2 0h0m3 0h0m3 0h1m2 0h0m2 0h0m3 0h0m3 0h0m2 0h0m8 0h0m-47 1h1m32 0h0m2 0h0m2 0h0m3 0h2m5 0h0m3 0h0m-51 1h2m19 0h1m14 0h0m4 0h1m2 0h0m2 0h1m2 0h0m4 0h0m-51 1h0m27 0h0m3 0h0m5 0h0m2 0h2m2 0h0m2 0h0m2 0h0m-25 1h0m18 0h0m10 0h0m2 0h0m2 0h0m-52 1h1m35 0h1m3 0h0m5 0h3m9 0h0m-57 1h0m17 0h0m8 0h0m7 0h0m17 0h0m2 0h0m-52 1h0m25 0h0m19 0h0m6 0h4m5 0h0m-59 1h0m44 0h1m7 0h0m-52 1h0m30 0h0m6 0h2m8 0h0m2 0h1m2 0h1m4 0h0m-56 1h0m46 0h0m4 0h0m2 0h0m2 0h1m-56 2h0m31 0h0m15 0h0m4 0h2m3 0h0m2 0h1m-19 1h0m11 0h2m3 0h1m-29 1h0m4 0h0m24 0h2m-11 1h0m3 0h0m2 0h1m6 0h1m-59 1h0m48 0h0m3 0h2m2 0h0m-54 1h0m24 0h0m4 0h0m26 0h1m-23 1h0m2 0h0m19 0h0m-19 1h0m13 0h0m3 0h1m3 0h0m-23 1h0m10 0h0m3 0h0m4 0h2m2 0h0m2 0h0m2 0h0m-57 1h0m31 0h1m3 0h1m15 0h0m5 0h0m-9 1h0m4 0h0m4 0h0m2 0h0m-31 1h1m6 0h0m2 0h0m2 0h0m4 0h0m2 0h0m4 0h1m5 0h0m4 0h0m-56 1h0m28 0h0m2 0h1m2 0h0m5 0h0m6 0h0m6 0h0m3 0h0m-53 1h0m28 0h0m2 0h0m2 0h2m3 0h0m5 0h0m2 0h0m6 0h0m4 0h0m-54 1h0m24 0h0m2 0h1m7 0h2m7 0h0m3 0h0m2 0h0m3 0h0m-51 1h0m28 0h0m3 0h0m2 0h0m3 0h1m2 0h0m3 0h1m7 0h0m4 0h0m-27 1h4m2 0h5m-16 1h1m2 0h0m2 0h1m2 0h0m2 0h3m3 0h0m3 0h2m2 0h0m2 0h2m2 0h0m-51 1h0m26 0h0m2 0h3m4 0h0m2 0h1m3 0h1m2 0h0m2 0h1m2 0h0m-49 1h1m23 0h0m2 0h0m5 0h0m5 0h0m7 0h0m5 0h2m-30 1h0m5 0h3m2 0h1m2 0h0m3 0h0m2 0h0m3 0h0m2 0h0m3 0h0m3 0h0m-48 1h0m22 0h1m3 0h0m9 0h1m2 0h0m3 0h0m2 0h0m4 0h0m-28 1h0m5 0h0m2 0h0m6 0h1m2 0h0m8 0h0m-43 1h1m18 0h0m2 0h1m10 0h0m6 0h0m3 0h0m6 0h0m-46 1h0m18 0h3m2 0h0m16 0h0m7 0h0m-46 1h1m15 0h1m6 0h0m-21 1h0m19 0h1m4 0h0m-27 1h0m25 0h0" stroke="#004cff"/>
<path d="M20 56h0m0 2h0m1 1h1m-2 1h2m-7 1h0m3 0h1m3 0h0m-4 1h0m4 0h2m-8 1h0m4 0h0m2 0h0m-6 1h0m9 0h0m-10 1h0m8 0h1m-10 1h1m-3 1h2m9 0h0m1 1h1m-1 1h1m-1 1h0m-11 1h0m12 0h0m-12 1h1m-1 1h0m11 0h1m-12 1h0m10 0h1m2 0h0m-13 1h0m10 0h3m-2 1h0m-11 2h0m11 0h3m-13 1h0m2 0h0m9 0h0m-11 1h0m9 0h3m-11 1h0m11 0h0m-3 1h0m5 0h0m-14 1h0m11 0h0m-11 1h2m7 0h0m2 0h0m-11 1h0m7 0h0m2 0h1m-8 1h0m9 0h0m6 0h0m-17 1h0m10 0h0m8 0h0m-11 1h0m4 0h0m4 0h0m-16 1h0m10 0h1m3 0h0m4 0h0m-16 1h0m16 0h0m-17 1h0m4 0h0m7 0h0m2 0h0m3 0h0m5 0h0m-13 1h0m7 0h2m-17 1h0m9 0h0m3 0h1m3 0h0m-17 1h0m12 0h0m2 0h1m8 0h0m4 0h0m3 0h0m-31 1h0m14 0h0m8 0h0m5 0h1m-28 1h0m14 0h1m4 0h0m4 0h0m3 0h0m2 0h0m10 0h0m-38 1h0m13 0h1m2 0h1m2 0h0m3 0h0m2 0h1m2 0h1m2 0h0m4 0h0m4 0h0m-24 1h0m3 0h0m3 0h1m2 0h0m2 0h0m3 0h2m3 0h0m13 0h0m-47 1h0m19 0h1m3 0h0m3 0h0m4 0h1m5 0h0m4 0h0m4 0h0m-44 1h0m15 0h0m2 0h3m3 0h4m2 0h1m4 0h0m3 0h0m6 0h0m3 0h0m-46 1h0m15 0h1m4 0h1m4 0h1m2 0h1m2 0h0m3 0h0m2 0h0m3 0h0m2 0h0m3 0h0m-45 1h0m16 0h1m3 0h1m2 0h2m5 0h0m9 0h0m2 0h0m-24 1h0m6 0h2m2 0h2m2 0h1m2 0h1m3 0h1m3 0h3m-27 1h0m2 0h0m4 0h2m2 0h0m2 0h0m2 0h0m5 0h0m4 0h0m2 0h0m7 0h0m-29 1h2m3 0h1m3 0h0m2 0h2m3 0h2m3 0h0m3 0h2m-48 1h0m18 0h0m2 0h0m2 0h0m3 0h2m2 0h0m3 0h1m11 0h3m-47 1h0m24 0h0m2 0h2m8 0h1m4 0h0m4 0h2m2 0h1m-50 1h0m19 0h0m3 0h0m3 0h3m3 0h0m2 0h1m4 0h0m4 0h1m9 0h0m-52 1h0m22 0h0m2 0h0m2 0h2m5 0h0m3 0h1m7 0h0m2 0h2m4 0h0m-52 1h0m20 0h0m2 0h0m4 0h0m3 0h0m2 0h1m5 0h1m4 0h1m3 0h2m2 0h0m-28 1h0m2 0h0m3 0h1m4 0h0m2 0h0m5 0h1m2 0h0m-43 1h2m21 0h0m4 0h1m2 0h0m12 0h0m3 0h0m7 0h1m-53 1h0m24 0h0m5 0h0m7 0h0m2 0h1m3 0h0m4 0h0m2 0h1m3 0h0m-52 1h1m21 0h0m3 0h0m3 0h2m2 0h0m11 0h1m5 0h0m3 0h3m-55 1h0m22 0h0m3 0h0m3 0h2m2 0h0m8 0h0m4 0h0m2 0h0m3 0h0m4 0h0m2 0h0m-54 1h0m22 0h0m2 0h0m4 0h0m3 0h2m5 0h1m2 0h0m3 0h0m2 0h1m4 0h1m5 0h0m-58 1h1m20 0h0m6 0h0m2 0h1m3 0h0m4 0h0m8 0h1m3 0h2m-31 1h0m3 0h0m2 0h0m2 0h2m3 0h0m6 0h0m3 0h2m2 0h0m3 0h1m3 0h0m4 0h0m-56 1h0m24 0h0m2 0h2m7 0h2m3 0h0m3 0h0m2 0h0m6 0h0m-51 1h0m24 0h0m14 0h0m2 0h0m2 0h0m5 0h2m3 0h0m-52 1h0m24 0h0m2 0h0m3 0h5m5 0h1m2 0h0m2 0h1m2 0h1m4 0h0m-51 1h0m21 0h0m6 0h0m5 0h0m5 0h1m5 0h1m3 0h1m2 0h0m-25 1h0m3 0h0m3 0h0m2 0h0m8 0h1m2 0h0m4 0h0m-28 1h0m5 0h1m9 0h0m3 0h0m2 0h0m2 0h0m2 0h0m2 0h1m3 0h0m-50 1h0m22 0h0m2 0h0m4 0h1m3 0h0m5 0h3m9 0h0m2 0h0m-31 1h6m3 0h0m2 0h0m2 0h0m4 0h0m7 0h1m3 0h0m2 0h0m-50 1h0m20 0h4m7 0h0m8 0h0m2 0h2m-43 1h1m29 0h0m6 0h0m2 0h1m-39 1h1m19 0h4m2 0h0m12 0h1m-20 1h0m7 0h0m5 0h0m12 0h0m-22 1h0m2 0h0m20 0h0m-42 1h0m18 0h2m0 1h0m17 0h0m-35 1h0m12 0h1m-14 1h0m16 0h0m-15 1h0m13 0h0m-15 1h0m16 0h0m2 0h0m2 1h1" stroke="#0081fc"/>
<path d="M18 60h0m-2 1h0m5 0h0m-5 1h1m3 0h0m-5 1h0m2 0h1m3 0h0m-6 1h0m3 0h4m-8 1h0m2 0h0m2 0h0m3 0h1m-6 1h0m5 0h2m-8 1h1m5 0h1m-7 1h2m6 0h0m-8 1h0m7 0h1m-9 1h1m6 0h0m-7 1h1m7 0h0m2 0h0m-7 2h0m8 1h0m-11 1h1m-2 1h0m12 0h0m-12 1h0m2 0h0m6 0h0m2 0h0m2 0h0m-10 1h0m8 0h0m7 1h0m-10 1h0m-6 1h0m8 0h2m-10 1h0m8 0h0m2 0h1m-10 1h2m3 0h0m3 0h1m-3 1h0m3 0h0m4 0h0m-13 1h0m7 0h0m-7 1h0m5 0h0m3 0h1m6 0h0m-13 1h0m4 0h2m-9 1h2m3 0h1m3 0h0m-8 1h0m5 0h2m3 0h0m-11 1h0m2 0h0m2 0h1m2 0h1m-6 1h0m4 0h0m2 0h0m2 0h0m4 0h0m-15 1h0m2 0h1m7 0h1m-9 1h0m6 0h1m3 0h0m-14 1h0m3 0h0m7 0h0m2 0h1m2 0h0m-13 1h1m8 0h3m2 0h0m5 0h0m3 0h1m-22 1h0m8 0h0m2 0h0m9 0h0m3 0h1m4 0h0m-26 1h0m6 0h0m6 0h0m-16 1h0m13 0h0m4 0h0m2 0h1m-8 1h0m3 0h0m2 0h0m-5 1h0m4 0h0m6 0h0m10 0h0m10 0h0m-41 1h0m13 0h0m3 0h0m7 0h0m-24 1h0m13 0h0m4 0h1m3 0h0m5 0h0m4 0h0m2 0h0m2 0h0m11 0h0m-46 1h0m14 0h0m2 0h0m2 0h0m2 0h2m4 0h0m4 0h0m6 0h0m4 0h0m-25 1h1m5 0h1m7 0h0m2 0h0m2 0h0m5 0h0m2 0h0m2 0h0m-42 1h0m18 0h1m6 0h0m3 0h0m12 0h0m3 0h1m5 0h0m-34 1h0m3 0h0m2 0h0m2 0h0m5 0h0m2 0h1m3 0h7m-21 1h0m2 0h1m2 0h0m4 0h1m3 0h0m2 0h0m3 0h1m9 0h0m-47 1h0m14 0h0m3 0h0m2 0h0m3 0h1m8 0h0m7 0h2m5 0h0m-23 1h0m9 0h0m2 0h0m4 0h1m2 0h2m-24 1h0m2 0h0m2 0h2m5 0h0m3 0h3m3 0h0m5 0h1m-45 1h0m21 0h0m4 0h1m4 0h1m2 0h0m2 0h3m5 0h0m2 0h1m5 0h0m-28 1h0m2 0h0m3 0h0m2 0h2m6 0h0m4 0h1m2 0h2m-47 1h0m2 0h0m20 0h0m2 0h0m2 0h1m4 0h3m5 0h0m5 0h0m2 0h0m4 0h0m-28 1h1m2 0h1m9 0h1m2 0h2m6 0h0m-45 1h0m18 0h0m4 0h0m2 0h1m4 0h0m2 0h0m2 0h4m2 0h1m3 0h0m3 0h0m-46 1h0m18 0h0m6 0h1m3 0h1m5 0h2m3 0h0m3 0h0m5 0h2m-48 1h0m19 0h4m9 0h1m2 0h2m4 0h0m3 0h1m4 0h0m-52 1h1m25 0h0m4 0h1m4 0h2m2 0h1m4 0h0m2 0h0m-45 1h1m28 0h0m2 0h2m5 0h0m3 0h0m4 0h1m-46 1h1m17 0h0m2 0h2m2 0h1m2 0h1m3 0h1m4 0h0m2 0h0m2 0h0m4 0h0m-24 1h0m2 0h0m2 0h0m3 0h0m7 0h0m2 0h0m4 0h0m8 0h0m2 0h0m-32 1h2m3 0h0m3 0h0m4 0h0m4 0h0m2 0h0m4 0h0m2 0h0m-42 1h0m18 0h2m2 0h1m3 0h0m10 0h0m2 0h1m-39 1h0m19 0h0m3 0h1m5 0h0m2 0h0m7 0h0m2 0h0m-38 1h0m17 0h3m15 0h0m5 0h0m2 0h0m-25 1h1m15 0h0m5 0h0m8 0h0m-28 2h1m-3 1h2m-18 1h0m15 0h0m2 0h0m2 0h2m-21 1h1m14 0h0m2 0h0m2 0h0m-18 1h0m13 0h1m2 0h0m-17 1h2m12 0h0m-13 1h0m2 0h0m14 0h0m-15 1h1m8 0h1m2 0h1m-4 1h0m1 1h0m2 0h1m7 1h0" stroke="#00b8e7"/>
<path d="M17 60h0m3 1h0m-1 2h0m-2 2h0m2 0h1m-3 1h3m-3 1h0m3 0h0m-1 1h3m-8 1h0m2 0h0m3 0h2m-5 1h1m2 0h0m3 0h1m-4 1h0m4 0h0m-2 1h3m-9 1h0m-1 1h0m2 0h0m2 0h0m3 0h1m-6 1h0m2 0h0m4 0h0m-7 1h0m5 0h0m2 0h1m-9 1h0m2 0h0m2 0h0m-4 1h0m2 0h0m2 0h0m2 0h0m-5 1h0m2 0h1m3 0h3m-8 1h0m6 0h0m-6 1h2m2 0h0m-5 1h1m2 0h2m-2 1h0m3 0h0m-4 1h3m2 0h0m-5 1h2m-2 1h2m2 0h1m-7 1h0m3 0h1m-2 1h1m-2 1h3m4 1h1m2 0h0m-11 1h0m2 0h0m2 0h0m2 0h0m-7 1h0m4 0h0m3 0h0m-5 1h3m-4 1h1m2 0h0m2 0h0m2 0h0m-5 1h0m4 0h0m-8 1h0m2 0h0m4 0h0m-6 1h1m8 0h0m-9 1h2m8 0h0m-1 1h0m2 0h1m-13 1h0m13 0h0m-2 1h1m9 0h0m-8 1h0m-13 1h1m12 0h0m-14 1h0m13 0h0m5 0h0m4 0h0m-8 1h0m2 0h0m-17 1h1m15 0h0m-16 1h0m15 0h3m2 0h0m13 0h0m6 0h0m2 0h0m-40 1h0m15 0h0m4 0h0m9 0h0m14 0h0m-27 1h4m4 0h0m4 0h2m4 0h0m5 0h0m-39 1h0m15 0h2m9 0h0m-26 1h0m17 0h0m2 0h0m3 0h0m-5 1h3m3 0h0m9 0h3m4 0h0m-39 1h0m15 0h5m9 0h0m6 0h0m4 0h0m-22 1h2m12 0h2m7 0h0m4 0h0m-45 1h0m17 0h1m2 0h0m2 0h0m11 0h0m-17 1h0m2 0h0m2 0h1m13 0h0m8 0h0m-26 1h3m8 0h0m3 0h0m10 0h2m-22 1h1m2 0h0m9 0h0m-11 1h1m2 0h0m4 0h0m9 0h0m-20 1h0m2 0h0m7 0h0m-26 1h1m16 0h2m2 0h0m5 0h0m9 0h0m2 0h0m5 0h0m-41 1h0m15 0h0m6 0h0m-1 1h0m3 0h0m10 0h0m-33 1h1m15 0h1m3 0h0m13 0h0m-18 1h1m-16 1h1m15 0h0m-16 1h0m16 0h0m2 0h0m-5 1h0m3 0h1m-16 1h0m14 0h0m1 1h0m-4 1h2m2 0h0m-14 1h0m11 0h0m3 0h0m-3 1h0m2 0h0m-5 1h1m5 0h0m-9 1h0m-4 1h2m7 0h0m-8 1h2m5 0h0m2 0h0m-12 1h0m12 0h1m4 0h0m5 0h0" stroke="#00e5c3"/>
<path d="M18 67h1m-1 1h0m-1 1h0m-1 2h1m3 0h0m-5 1h4m-3 1h0m2 0h0m2 0h2m-7 1h0m4 0h0m-2 1h0m3 0h1m-7 1h0m2 0h1m2 0h0m2 0h0m-4 1h0m2 0h1m2 0h0m-5 1h0m4 0h1m-3 1h1m-5 1h0m2 0h2m2 0h0m-2 1h0m2 0h0m-4 1h0m4 0h0m-2 1h0m3 0h0m-6 2h0m4 0h0m-4 2h0m4 0h0m-3 3h0m3 0h0m-3 2h0m2 0h1m0 1h0m-3 1h0m2 0h0m-4 1h1m2 0h0m-2 1h1m4 0h0m2 0h0m-3 1h0m3 0h1m-8 1h0m4 0h2m-10 1h2m7 0h0m-8 1h0m9 0h0m2 0h0m-11 1h0m9 0h0m-9 1h1m9 0h0m-12 1h0m3 0h0m7 0h0m2 0h0m0 1h0m4 0h0m-16 1h0m12 0h1m-12 1h0m-1 1h0m13 0h0m16 0h0m-28 1h0m-2 1h0m15 0h0m-1 1h0m25 0h0m-38 1h0m13 0h2m2 0h0m-4 1h0m2 0h0m22 0h0m-36 1h0m40 0h0m-42 1h0m13 0h2m21 0h0m-21 1h0m-2 1h0m3 0h0m-16 1h0m13 0h0m-13 1h0m14 0h3m-16 1h0m14 0h4m-5 1h0m-14 3h1m13 0h2m-1 1h0m-14 1h0m13 0h0m-1 1h1m-2 1h0m2 0h1m2 0h0m-16 1h1m10 0h0m3 0h0m-2 1h1m-13 1h0m11 0h2m-12 1h0m8 0h0m-6 1h0m2 0h0m5 0h1m-9 1h1m7 0h0m-7 1h0m4 0h0m4 0h1m0 1h0m-5 1h2m3 0h0m-10 1h0m0 1h0m3 0h2m8 0h1" stroke="#00f577"/>
<path d="M18 69h0m2 1h0m-2 1h0m3 0h0m-1 1h0m-1 1h0m-2 1h0m3 0h0m-1 1h0m0 3h0m0 17h1m-2 1h0m2 0h0m-4 1h1m2 0h0m-1 1h0m-3 1h2m2 0h1m-5 1h1m3 0h0m-5 1h0m6 0h1m-1 1h0m2 0h0m-10 2h0m10 0h0m-10 1h0m10 1h0m2 0h0m-12 1h0m10 1h0m3 0h0m-14 1h1m11 0h1m-13 1h0m11 0h1m-12 2h1m13 0h0m1 2h0m-14 1h0m-1 1h0m13 0h0m0 1h0m-13 1h0m13 1h0m-13 1h0m14 0h0m-3 1h1m2 0h0m-1 1h0m2 0h0m-14 1h0m0 1h0m11 0h1m-1 1h0m-11 1h0m10 0h0m3 0h0m-14 1h1m11 0h0m-10 1h0m8 0h0m3 0h0m-11 1h0m7 0h2m-10 1h1m0 1h0m0 1h0m2 0h0m4 1h1m2 0h0m-6 1h1m2 0h0m-5 1h2m2 0h2m-4 1h1m0 1h2m-5 1h1m6 0h1" stroke="#18ff3b"/>
<path d="M18 76h0m-1 22h0m1 1h0m-4 1h0m4 0h0m3 0h0m-6 1h0m2 0h1m-3 1h0m6 0h0m-5 1h0m4 0h0m2 0h0m-9 1h1m7 0h0m-8 1h1m8 0h0m-9 1h0m10 0h0m0 1h0m-2 2h0m-9 2h0m11 0h0m-1 1h1m-1 1h2m-13 1h0m13 1h0m-12 3h0m10 0h0m-10 1h0m11 0h0m-11 1h0m11 0h0m-12 1h0m13 0h0m-13 1h2m8 0h2m-1 1h0m-1 1h0m-9 1h2m7 0h1m-9 1h0m8 0h0m-8 1h1m7 0h0m-9 2h0m2 0h0m6 1h0m-6 1h0m2 0h0m5 0h0m-3 1h2m-5 1h2m-2 1h0m5 3h0m-1 1h1" stroke="#59ff1c"/>
<path d="M18 97h0m-1 3h0m3 0h0m-4 1h0m3 0h0m-2 1h2m-1 1h1m-3 1h0m5 1h0m0 1h0m-8 1h1m7 0h1m-1 1h0m2 0h0m-10 1h0m9 0h0m-10 1h1m8 0h0m1 1h0m-10 3h0m10 1h1m-1 1h0m-1 1h1m1 1h0m-1 1h0m0 1h0m-10 1h1m8 0h0m-8 2h0m7 0h0m3 0h0m-10 1h0m9 0h0m-2 3h0m-6 1h0m1 1h1m-2 1h0m5 0h0m2 0h0m-6 1h0m2 0h2m-1 2h0" stroke="#9afe00"/>
<path d="M16 102h0m1 2h3m-4 1h0m4 0h0m-6 1h0m6 0h0m0 1h0m-7 1h0m1 1h0m0 2h0m6 1h1m-8 1h0m8 0h0m0 1h1m-10 2h0m9 0h0m-9 1h0m9 1h0m0 1h0m-8 1h0m1 3h0m0 1h0m0 2h0m5 0h1m-5 1h0m4 0h0m-4 1h0m4 0h0m0 1h0m-4 1h0m2 0h1m-1 2h0" stroke="#d2f400"/>
<path d="M15 103h0m2 0h0m-2 2h0m3 0h1m-1 1h0m1 1h0m-5 1h0m6 1h0m-6 1h0m-1 1h0m8 0h0m-8 1h1m-1 2h0m7 0h0m-7 1h0m8 0h0m-8 1h0m7 1h0m-7 1h0m0 1h0m1 1h0m7 0h0m-1 1h0m-6 1h0m7 1h0m-6 2h0m5 0h0m-2 1h0m0 1h0m-2 1h2m2 0h0m-3 1h1m-2 1h0" stroke="#ffe100"/>
<path d="M15 104h0m2 1h0m-2 1h0m0 1h0m3 0h0m-3 1h0m4 0h1m-1 1h0m1 1h0m-1 1h1m-6 2h0m6 0h0m-6 1h0m0 1h0m6 0h0m-6 1h0m6 0h0m-7 1h0m1 1h0m6 0h0m-6 1h0m6 0h0m0 1h0m-6 1h0m6 1h0m-5 1h0m0 1h0m4 0h1m-3 1h0m2 0h0m-4 1h2m-1 1h1" stroke="#ffaa00"/>
<path d="M16 106h1m2 0h0m-3 1h0m2 1h0m-4 9h0m1 4h0m4 0h0m0 1h0m-3 1h3m-3 1h0m2 0h0m0 1h0" stroke="#ff7200"/>
<path d="M17 107h0m-1 1h1m-2 1h1m-1 1h0m3 0h1m-3 1h0m-1 1h0m4 2h0m-4 1h0m0 1h0m4 0h0m-4 1h0m3 0h1m-4 1h0m4 0h0m0 1h0m-4 1h0m4 0h0m-3 1h0m-1 1h0m2 2h0m-1 1h0" stroke="#ff3900"/>
<path d="M17 109h1m-2 1h1m-2 1h0m2 0h1m-2 1h3m-4 1h4m-4 1h3m-2 1h3m-3 1h2m-2 1h1m-1 1h2m-3 1h3m-2 1h2m-1 1h1m-2 1h2" stroke="#ff0000"/>
</g>
<rect x="119" y="566" width="96.6" height="172.4" fill="none" stroke="#000" stroke-width="2.2"/>
<rect x="218.6" y="752" width="104.7" height="95.4" fill="none" stroke="#000" stroke-width="2.2"/>
<path d="M155.9 852.3v3.6M156.2 852.3v3.6M156.6 852.3v3.6M156.9 852.3v3.6M157.5 852.3v3.6M157.8 852.3v3.6M158.1 852.3v3.6M158.4 852.3v3.6M155.3 852.3v3.6M154.9 852.3v3.6M154.6 852.3v3.6M154.3 852.3v3.6M153.7 852.3v3.6M153.4 852.3v3.6M153 852.3v3.6M152.7 852.3v3.6" stroke="#000" stroke-width="1.3" fill="none"/>
<path d="M157.2 852.3v6.8M168.7 852.3v6.8M228.6 852.3v6.8M313 852.3v6.8M393.9 852.3v6.8M154 852.3v6.8M142.1 852.3v6.8" stroke="#000" stroke-width="1.7" fill="none"/>
<path d="M158.7 852.3v9.5M178 852.3v9.5M256.5 852.3v9.5M338.2 852.3v9.5M418 852.3v9.5M152.4 852.3v9.5M132.6 852.3v9.5" stroke="#000" stroke-width="2.4" fill="none"/>
<path d="M161.5 852.3v4.3M164.1 852.3v4.3M166.5 852.3v4.3M170.8 852.3v4.3M172.7 852.3v4.3M174.6 852.3v4.3M176.3 852.3v4.3M196.7 852.3v4.3M209.9 852.3v4.3M220.2 852.3v4.3M235.7 852.3v4.3M241.8 852.3v4.3M247.3 852.3v4.3M252.1 852.3v4.3M280.3 852.3v4.3M294.7 852.3v4.3M305 852.3v4.3M319.6 852.3v4.3M325.2 852.3v4.3M330.1 852.3v4.3M334.4 852.3v4.3M362.1 852.3v4.3M376.2 852.3v4.3M386.2 852.3v4.3M400.3 852.3v4.3M405.6 852.3v4.3M410.2 852.3v4.3M414.3 852.3v4.3M442.1 852.3v4.3M149.6 852.3v4.3M146.9 852.3v4.3M144.4 852.3v4.3M140 852.3v4.3M138 852.3v4.3M136.1 852.3v4.3M134.3 852.3v4.3M119.1 852.3v4.3" stroke="#000" stroke-width="1.2" fill="none"/>
<path d="M155.6 852.3v8.5" stroke="#000" stroke-width="2.6" fill="none"/>
<text x="155.6" y="875" font-size="13.4" font-weight="bold" text-anchor="middle">0</text>
<text x="256.5" y="875" font-size="13.4" font-weight="bold" text-anchor="middle">10<tspan font-size="9" dy="-4">3</tspan></text>
<text x="338.2" y="875" font-size="13.4" font-weight="bold" text-anchor="middle">10<tspan font-size="9" dy="-4">4</tspan></text>
<text x="418" y="875" font-size="13.4" font-weight="bold" text-anchor="middle">10<tspan font-size="9" dy="-4">5</tspan></text>
<path d="M116.3 795.7h-3.6M116.3 795.5h-3.6M116.3 795.2h-3.6M116.3 795h-3.6M116.3 794.5h-3.6M116.3 794.2h-3.6M116.3 794h-3.6M116.3 793.8h-3.6M116.3 796.3h-3.6M116.3 796.5h-3.6M116.3 796.8h-3.6M116.3 797h-3.6M116.3 797.5h-3.6M116.3 797.8h-3.6M116.3 798h-3.6M116.3 798.2h-3.6" stroke="#000" stroke-width="1.3" fill="none"/>
<path d="M116.3 794.7h-6.8M116.3 785.5h-6.8M116.3 730.5h-6.8M116.3 648.9h-6.8M116.3 571.3h-6.8M116.3 797.3h-6.8M116.3 806.5h-6.8M116.3 842.5h-6.8" stroke="#000" stroke-width="1.7" fill="none"/>
<path d="M116.3 793.5h-9.5M116.3 778h-9.5M116.3 704.3h-9.5M116.3 624.2h-9.5M116.3 548.5h-9.5M116.3 798.5h-9.5M116.3 814h-9.5" stroke="#000" stroke-width="2.4" fill="none"/>
<path d="M116.3 791.3h-4.3M116.3 789.2h-4.3M116.3 787.3h-4.3M116.3 783.8h-4.3M116.3 782.2h-4.3M116.3 780.7h-4.3M116.3 779.3h-4.3M116.3 760.5h-4.3M116.3 748h-4.3M116.3 738.4h-4.3M116.3 723.8h-4.3M116.3 718.1h-4.3M116.3 713h-4.3M116.3 708.4h-4.3M116.3 680.9h-4.3M116.3 666.9h-4.3M116.3 656.8h-4.3M116.3 642.4h-4.3M116.3 636.9h-4.3M116.3 632.2h-4.3M116.3 628h-4.3M116.3 601.5h-4.3M116.3 588.2h-4.3M116.3 578.7h-4.3M116.3 565.3h-4.3M116.3 560.3h-4.3M116.3 555.9h-4.3M116.3 552h-4.3M116.3 525.6h-4.3M116.3 800.7h-4.3M116.3 802.8h-4.3M116.3 804.7h-4.3M116.3 808.2h-4.3M116.3 809.8h-4.3M116.3 811.3h-4.3M116.3 812.7h-4.3M116.3 824.5h-4.3M116.3 832h-4.3M116.3 837.8h-4.3M116.3 846.5h-4.3M116.3 850h-4.3" stroke="#000" stroke-width="1.2" fill="none"/>
<path d="M116.3 796h-8.5" stroke="#000" stroke-width="2.6" fill="none"/>
<text x="105.7" y="801.2" font-size="13.4" font-weight="bold" text-anchor="end">0</text>
<text x="105.7" y="707.9" font-size="13.4" font-weight="bold" text-anchor="end">10<tspan font-size="9" dy="-4">3</tspan></text>
<text x="105.7" y="627.8" font-size="13.4" font-weight="bold" text-anchor="end">10<tspan font-size="9" dy="-4">4</tspan></text>
<text x="105.7" y="552.1" font-size="13.4" font-weight="bold" text-anchor="end">10<tspan font-size="9" dy="-4">5</tspan></text>
<text x="114.3" y="510" font-size="27.1">Live CD11b+</text>
<text x="160.9" y="591.8" font-size="28.6">11.2</text>
<text x="266.1" y="839.3" font-size="28.6">8.57</text>
<text x="283.8" y="905.5" font-size="28" text-anchor="middle">YFPcells - FITC</text>
<text x="77.1" y="684.8" font-size="28" text-anchor="middle" transform="rotate(-90 77.1 684.8)">CD45.1 - APC</text>
<rect x="585.4" y="516.8" width="339.6" height="337.9" fill="#fff" stroke="#3c3c3c" stroke-width="1.15"/>
<path d="M654.9 545.6h4.9M590.9 566.4h4.9M648.5 572.8h4.9M654.9 572.8h4.9M586.1 576h4.9M656.5 576h4.9M722.1 576h4.9M629.3 577.6h4.9M613.3 579.2h4.9M627.7 579.2h4.9M635.7 579.2h4.9M611.7 580.8h4.9M712.5 582.4h4.9M718.9 582.4h4.9M720.5 582.4h4.9M742.9 582.4h4.9M714.1 584h4.9M597.3 585.6h4.9M598.9 587.2h4.9M608.5 587.2h4.9M629.3 587.2h4.9M610.1 588.8h4.9M642.1 588.8h4.9M685.3 588.8h4.9M598.9 590.4h4.9M603.7 590.4h4.9M616.5 590.4h4.9M749.3 590.4h4.9M586.1 592h4.9M638.9 592h4.9M661.3 592h4.9M707.8 592h4.9M722.1 592h4.9M757.3 592h4.9M590.9 593.6h4.9M608.5 593.6h4.9M648.5 593.6h4.9M718.9 593.6h4.9M747.8 593.6h4.9M774.9 593.6h4.9M829.3 593.6h4.9M595.7 595.2h4.9M626.1 595.2h4.9M629.3 595.2h4.9M666.1 595.2h4.9M723.8 595.2h4.9M770.1 595.2h4.9M597.3 596.8h4.9M613.3 596.8h4.9M635.7 596.8h4.9M643.7 596.8h4.9M656.5 596.8h4.9M666.1 596.8h4.9M669.3 596.8h4.9M670.9 596.8h4.9M672.5 596.8h4.9M736.5 596.8h4.9M606.9 598.4h4.9M632.5 598.4h4.9M637.3 598.4h4.9M645.3 598.4h4.9M704.5 598.4h4.9M720.5 598.4h4.9M730.1 598.4h4.9M613.3 600h4.9M621.3 600h4.9M627.7 600h4.9M632.5 600h4.9M634.1 600h4.9M637.3 600h4.9M640.5 600h4.9M653.3 600h4.9M718.9 600h4.9M771.8 600h4.9M611.7 601.6h4.9M627.7 601.6h4.9M654.9 601.6h4.9M702.9 601.6h4.9M712.5 601.6h4.9M720.5 601.6h4.9M738.1 601.6h4.9M744.5 601.6h4.9M779.8 601.6h4.9M605.3 603.2h4.9M610.1 603.2h4.9M614.9 603.2h4.9M621.3 603.2h4.9M637.3 603.2h4.9M643.7 603.2h4.9M648.5 603.2h4.9M656.5 603.2h4.9M722.1 603.2h4.9M725.3 603.2h4.9M770.1 603.2h4.9M619.7 604.8h4.9M622.9 604.8h4.9M648.5 604.8h4.9M650.1 604.8h4.9M674.1 604.8h4.9M690.1 604.8h4.9M722.1 604.8h4.9M742.9 604.8h4.9M760.5 604.8h4.9M586.1 606.4h4.9M630.9 606.4h4.9M646.9 606.4h4.9M658.1 606.4h4.9M723.8 606.4h4.9M736.5 606.4h4.9M762.1 606.4h4.9M763.8 606.4h4.9M586.1 608h4.9M606.9 608h4.9M621.3 608h4.9M622.9 608h4.9M627.7 608h4.9M642.1 608h4.9M667.8 608h4.9M674.1 608h4.9M690.1 608h4.9M701.3 608h4.9M707.8 608h4.9M730.1 608h4.9M742.9 608h4.9M595.7 609.6h4.9M602.1 609.6h4.9M619.7 609.6h4.9M632.5 609.6h4.9M637.3 609.6h4.9M640.5 609.6h4.9M645.3 609.6h4.9M654.9 609.6h4.9M691.8 609.6h4.9M707.8 609.6h4.9M730.1 609.6h4.9M734.9 609.6h4.9M736.5 609.6h4.9M746.1 609.6h4.9M750.9 609.6h4.9M598.9 611.2h4.9M602.1 611.2h4.9M603.7 611.2h4.9M610.1 611.2h4.9M614.9 611.2h4.9M629.3 611.2h4.9M632.5 611.2h4.9M634.1 611.2h4.9M638.9 611.2h4.9M643.7 611.2h4.9M651.7 611.2h4.9M658.1 611.2h4.9M659.8 611.2h4.9M666.1 611.2h4.9M701.3 611.2h4.9M702.9 611.2h4.9M715.8 611.2h4.9M718.9 611.2h4.9M726.9 611.2h4.9M728.5 611.2h4.9M730.1 611.2h4.9M734.9 611.2h4.9M749.3 611.2h4.9M750.9 611.2h4.9M766.9 611.2h4.9M774.9 611.2h4.9M789.3 611.2h4.9M586.1 612.8h4.9M587.7 612.8h4.9M605.3 612.8h4.9M608.5 612.8h4.9M630.9 612.8h4.9M637.3 612.8h4.9M643.7 612.8h4.9M653.3 612.8h4.9M656.5 612.8h4.9M662.9 612.8h4.9M699.8 612.8h4.9M704.5 612.8h4.9M714.1 612.8h4.9M730.1 612.8h4.9M736.5 612.8h4.9M738.1 612.8h4.9M739.8 612.8h4.9M750.9 612.8h4.9M598.9 614.4h4.9M602.1 614.4h4.9M603.7 614.4h4.9M610.1 614.4h4.9M614.9 614.4h4.9M616.5 614.4h4.9M621.3 614.4h4.9M626.1 614.4h4.9M629.3 614.4h4.9M643.7 614.4h4.9M645.3 614.4h4.9M651.7 614.4h4.9M653.3 614.4h4.9M659.8 614.4h4.9M704.5 614.4h4.9M738.1 614.4h4.9M744.5 614.4h4.9M746.1 614.4h4.9M750.9 614.4h4.9M752.5 614.4h4.9M762.1 614.4h4.9M594.1 616h4.9M595.7 616h4.9M597.3 616h4.9M602.1 616h4.9M616.5 616h4.9M618.1 616h4.9M619.7 616h4.9M622.9 616h4.9M624.5 616h4.9M637.3 616h4.9M640.5 616h4.9M648.5 616h4.9M656.5 616h4.9M699.8 616h4.9M701.3 616h4.9M706.1 616h4.9M709.3 616h4.9M712.5 616h4.9M731.8 616h4.9M739.8 616h4.9M744.5 616h4.9M749.3 616h4.9M752.5 616h4.9M773.3 616h4.9M595.7 617.6h4.9M613.3 617.6h4.9M618.1 617.6h4.9M619.7 617.6h4.9M627.7 617.6h4.9M635.7 617.6h4.9M640.5 617.6h4.9M642.1 617.6h4.9M688.5 617.6h4.9M693.3 617.6h4.9M694.9 617.6h4.9M715.8 617.6h4.9M728.5 617.6h4.9M731.8 617.6h4.9M744.5 617.6h4.9M754.1 617.6h4.9M758.9 617.6h4.9M770.1 617.6h4.9M592.5 619.2h4.9M602.1 619.2h4.9M616.5 619.2h4.9M618.1 619.2h4.9M619.7 619.2h4.9M622.9 619.2h4.9M624.5 619.2h4.9M630.9 619.2h4.9M640.5 619.2h4.9M648.5 619.2h4.9M653.3 619.2h4.9M658.1 619.2h4.9M661.3 619.2h4.9M683.8 619.2h4.9M685.3 619.2h4.9M701.3 619.2h4.9M717.3 619.2h4.9M718.9 619.2h4.9M720.5 619.2h4.9M723.8 619.2h4.9M726.9 619.2h4.9M728.5 619.2h4.9M738.1 619.2h4.9M741.3 619.2h4.9M744.5 619.2h4.9M749.3 619.2h4.9M606.9 620.8h4.9M608.5 620.8h4.9M618.1 620.8h4.9M627.7 620.8h4.9M634.1 620.8h4.9M643.7 620.8h4.9M650.1 620.8h4.9M654.9 620.8h4.9M688.5 620.8h4.9M698.1 620.8h4.9M707.8 620.8h4.9M710.9 620.8h4.9M715.8 620.8h4.9M718.9 620.8h4.9M720.5 620.8h4.9M731.8 620.8h4.9M739.8 620.8h4.9M757.3 620.8h4.9M763.8 620.8h4.9M776.5 620.8h4.9M603.7 622.4h4.9M606.9 622.4h4.9M611.7 622.4h4.9M621.3 622.4h4.9M624.5 622.4h4.9M630.9 622.4h4.9M640.5 622.4h4.9M642.1 622.4h4.9M653.3 622.4h4.9M654.9 622.4h4.9M685.3 622.4h4.9M686.9 622.4h4.9M714.1 622.4h4.9M722.1 622.4h4.9M723.8 622.4h4.9M728.5 622.4h4.9M731.8 622.4h4.9M733.3 622.4h4.9M747.8 622.4h4.9M760.5 622.4h4.9M589.3 624h4.9M597.3 624h4.9M598.9 624h4.9M603.7 624h4.9M605.3 624h4.9M616.5 624h4.9M619.7 624h4.9M621.3 624h4.9M626.1 624h4.9M627.7 624h4.9M634.1 624h4.9M646.9 624h4.9M690.1 624h4.9M706.1 624h4.9M725.3 624h4.9M730.1 624h4.9M731.8 624h4.9M739.8 624h4.9M746.1 624h4.9M763.8 624h4.9M586.1 625.6h4.9M597.3 625.6h4.9M605.3 625.6h4.9M606.9 625.6h4.9M608.5 625.6h4.9M618.1 625.6h4.9M622.9 625.6h4.9M629.3 625.6h4.9M653.3 625.6h4.9M654.9 625.6h4.9M670.9 625.6h4.9M678.9 625.6h4.9M699.8 625.6h4.9M715.8 625.6h4.9M723.8 625.6h4.9M726.9 625.6h4.9M731.8 625.6h4.9M733.3 625.6h4.9M736.5 625.6h4.9M744.5 625.6h4.9M749.3 625.6h4.9M768.5 625.6h4.9M770.1 625.6h4.9M605.3 627.2h4.9M606.9 627.2h4.9M618.1 627.2h4.9M632.5 627.2h4.9M635.7 627.2h4.9M637.3 627.2h4.9M638.9 627.2h4.9M643.7 627.2h4.9M646.9 627.2h4.9M658.1 627.2h4.9M694.9 627.2h4.9M714.1 627.2h4.9M715.8 627.2h4.9M720.5 627.2h4.9M722.1 627.2h4.9M725.3 627.2h4.9M730.1 627.2h4.9M736.5 627.2h4.9M747.8 627.2h4.9M760.5 627.2h4.9M773.3 627.2h4.9M586.1 628.8h4.9M589.3 628.8h4.9M595.7 628.8h4.9M602.1 628.8h4.9M606.9 628.8h4.9M610.1 628.8h4.9M619.7 628.8h4.9M626.1 628.8h4.9M629.3 628.8h4.9M630.9 628.8h4.9M635.7 628.8h4.9M637.3 628.8h4.9M642.1 628.8h4.9M648.5 628.8h4.9M653.3 628.8h4.9M696.5 628.8h4.9M718.9 628.8h4.9M730.1 628.8h4.9M731.8 628.8h4.9M736.5 628.8h4.9M754.1 628.8h4.9M758.9 628.8h4.9M762.1 628.8h4.9M763.8 628.8h4.9M771.8 628.8h4.9M608.5 630.4h4.9M611.7 630.4h4.9M616.5 630.4h4.9M622.9 630.4h4.9M632.5 630.4h4.9M634.1 630.4h4.9M635.7 630.4h4.9M643.7 630.4h4.9M648.5 630.4h4.9M659.8 630.4h4.9M667.8 630.4h4.9M672.5 630.4h4.9M694.9 630.4h4.9M712.5 630.4h4.9M714.1 630.4h4.9M715.8 630.4h4.9M733.3 630.4h4.9M739.8 630.4h4.9M747.8 630.4h4.9M749.3 630.4h4.9M752.5 630.4h4.9M754.1 630.4h4.9M758.9 630.4h4.9M774.9 630.4h4.9M782.9 630.4h4.9M597.3 632h4.9M611.7 632h4.9M616.5 632h4.9M619.7 632h4.9M621.3 632h4.9M622.9 632h4.9M626.1 632h4.9M627.7 632h4.9M643.7 632h4.9M645.3 632h4.9M648.5 632h4.9M651.7 632h4.9M654.9 632h4.9M658.1 632h4.9M664.5 632h4.9M690.1 632h4.9M709.3 632h4.9M712.5 632h4.9M714.1 632h4.9M715.8 632h4.9M717.3 632h4.9M720.5 632h4.9M723.8 632h4.9M726.9 632h4.9M728.5 632h4.9M730.1 632h4.9M741.3 632h4.9M742.9 632h4.9M746.1 632h4.9M750.9 632h4.9M760.5 632h4.9M762.1 632h4.9M766.9 632h4.9M592.5 633.6h4.9M600.5 633.6h4.9M602.1 633.6h4.9M610.1 633.6h4.9M611.7 633.6h4.9M632.5 633.6h4.9M634.1 633.6h4.9M635.7 633.6h4.9M656.5 633.6h4.9M696.5 633.6h4.9M698.1 633.6h4.9M707.8 633.6h4.9M717.3 633.6h4.9M723.8 633.6h4.9M725.3 633.6h4.9M741.3 633.6h4.9M744.5 633.6h4.9M749.3 633.6h4.9M752.5 633.6h4.9M763.8 633.6h4.9M598.9 635.2h4.9M619.7 635.2h4.9M626.1 635.2h4.9M627.7 635.2h4.9M632.5 635.2h4.9M634.1 635.2h4.9M643.7 635.2h4.9M677.3 635.2h4.9M678.9 635.2h4.9M693.3 635.2h4.9M707.8 635.2h4.9M710.9 635.2h4.9M712.5 635.2h4.9M715.8 635.2h4.9M723.8 635.2h4.9M731.8 635.2h4.9M734.9 635.2h4.9M736.5 635.2h4.9M739.8 635.2h4.9M741.3 635.2h4.9M742.9 635.2h4.9M744.5 635.2h4.9M749.3 635.2h4.9M750.9 635.2h4.9M754.1 635.2h4.9M776.5 635.2h4.9M592.5 636.8h4.9M594.1 636.8h4.9M602.1 636.8h4.9M608.5 636.8h4.9M614.9 636.8h4.9M619.7 636.8h4.9M624.5 636.8h4.9M626.1 636.8h4.9M630.9 636.8h4.9M635.7 636.8h4.9M642.1 636.8h4.9M645.3 636.8h4.9M658.1 636.8h4.9M669.3 636.8h4.9M674.1 636.8h4.9M680.5 636.8h4.9M710.9 636.8h4.9M714.1 636.8h4.9M717.3 636.8h4.9M722.1 636.8h4.9M725.3 636.8h4.9M730.1 636.8h4.9M736.5 636.8h4.9M744.5 636.8h4.9M750.9 636.8h4.9M765.3 636.8h4.9M766.9 636.8h4.9M774.9 636.8h4.9M826.1 636.8h4.9M595.7 638.4h4.9M603.7 638.4h4.9M610.1 638.4h4.9M622.9 638.4h4.9M637.3 638.4h4.9M645.3 638.4h4.9M646.9 638.4h4.9M654.9 638.4h4.9M659.8 638.4h4.9M691.8 638.4h4.9M702.9 638.4h4.9M709.3 638.4h4.9M720.5 638.4h4.9M726.9 638.4h4.9M728.5 638.4h4.9M730.1 638.4h4.9M731.8 638.4h4.9M734.9 638.4h4.9M744.5 638.4h4.9M747.8 638.4h4.9M750.9 638.4h4.9M773.3 638.4h4.9M827.8 638.4h4.9M600.5 640h4.9M603.7 640h4.9M611.7 640h4.9M618.1 640h4.9M619.7 640h4.9M621.3 640h4.9M629.3 640h4.9M634.1 640h4.9M637.3 640h4.9M642.1 640h4.9M646.9 640h4.9M661.3 640h4.9M662.9 640h4.9M702.9 640h4.9M706.1 640h4.9M709.3 640h4.9M715.8 640h4.9M720.5 640h4.9M730.1 640h4.9M746.1 640h4.9M750.9 640h4.9M762.1 640h4.9M773.3 640h4.9M586.1 641.6h4.9M587.7 641.6h4.9M592.5 641.6h4.9M595.7 641.6h4.9M597.3 641.6h4.9M610.1 641.6h4.9M613.3 641.6h4.9M616.5 641.6h4.9M618.1 641.6h4.9M630.9 641.6h4.9M634.1 641.6h4.9M635.7 641.6h4.9M637.3 641.6h4.9M642.1 641.6h4.9M645.3 641.6h4.9M686.9 641.6h4.9M710.9 641.6h4.9M712.5 641.6h4.9M715.8 641.6h4.9M720.5 641.6h4.9M722.1 641.6h4.9M723.8 641.6h4.9M726.9 641.6h4.9M728.5 641.6h4.9M730.1 641.6h4.9M736.5 641.6h4.9M746.1 641.6h4.9M747.8 641.6h4.9M749.3 641.6h4.9M757.3 641.6h4.9M781.3 641.6h4.9M586.1 643.2h4.9M592.5 643.2h4.9M597.3 643.2h4.9M602.1 643.2h4.9M611.7 643.2h4.9M618.1 643.2h4.9M619.7 643.2h4.9M624.5 643.2h4.9M635.7 643.2h4.9M637.3 643.2h4.9M638.9 643.2h4.9M640.5 643.2h4.9M643.7 643.2h4.9M654.9 643.2h4.9M677.3 643.2h4.9M678.9 643.2h4.9M688.5 643.2h4.9M696.5 643.2h4.9M709.3 643.2h4.9M725.3 643.2h4.9M746.1 643.2h4.9M750.9 643.2h4.9M758.9 643.2h4.9M597.3 644.8h4.9M605.3 644.8h4.9M606.9 644.8h4.9M616.5 644.8h4.9M626.1 644.8h4.9M627.7 644.8h4.9M634.1 644.8h4.9M642.1 644.8h4.9M650.1 644.8h4.9M658.1 644.8h4.9M715.8 644.8h4.9M718.9 644.8h4.9M723.8 644.8h4.9M728.5 644.8h4.9M730.1 644.8h4.9M741.3 644.8h4.9M742.9 644.8h4.9M746.1 644.8h4.9M750.9 644.8h4.9M752.5 644.8h4.9M755.8 644.8h4.9M766.9 644.8h4.9M784.5 644.8h4.9M802.1 644.8h4.9M595.7 646.4h4.9M606.9 646.4h4.9M611.7 646.4h4.9M630.9 646.4h4.9M638.9 646.4h4.9M646.9 646.4h4.9M653.3 646.4h4.9M659.8 646.4h4.9M667.8 646.4h4.9M682.1 646.4h4.9M683.8 646.4h4.9M701.3 646.4h4.9M710.9 646.4h4.9M718.9 646.4h4.9M720.5 646.4h4.9M725.3 646.4h4.9M726.9 646.4h4.9M728.5 646.4h4.9M734.9 646.4h4.9M758.9 646.4h4.9M776.5 646.4h4.9M781.3 646.4h4.9M589.3 648h4.9M590.9 648h4.9M595.7 648h4.9M611.7 648h4.9M621.3 648h4.9M624.5 648h4.9M629.3 648h4.9M634.1 648h4.9M643.7 648h4.9M648.5 648h4.9M650.1 648h4.9M654.9 648h4.9M712.5 648h4.9M714.1 648h4.9M722.1 648h4.9M723.8 648h4.9M725.3 648h4.9M738.1 648h4.9M750.9 648h4.9M752.5 648h4.9M590.9 649.6h4.9M598.9 649.6h4.9M600.5 649.6h4.9M608.5 649.6h4.9M616.5 649.6h4.9M618.1 649.6h4.9M619.7 649.6h4.9M621.3 649.6h4.9M622.9 649.6h4.9M632.5 649.6h4.9M635.7 649.6h4.9M637.3 649.6h4.9M640.5 649.6h4.9M645.3 649.6h4.9M653.3 649.6h4.9M656.5 649.6h4.9M702.9 649.6h4.9M707.8 649.6h4.9M710.9 649.6h4.9M712.5 649.6h4.9M715.8 649.6h4.9M725.3 649.6h4.9M728.5 649.6h4.9M736.5 649.6h4.9M741.3 649.6h4.9M744.5 649.6h4.9M746.1 649.6h4.9M779.8 649.6h4.9M614.9 651.2h4.9M616.5 651.2h4.9M629.3 651.2h4.9M669.3 651.2h4.9M696.5 651.2h4.9M698.1 651.2h4.9M702.9 651.2h4.9M712.5 651.2h4.9M763.8 651.2h4.9M773.3 651.2h4.9M784.5 651.2h4.9M603.7 652.8h4.9M606.9 652.8h4.9M611.7 652.8h4.9M618.1 652.8h4.9M621.3 652.8h4.9M638.9 652.8h4.9M640.5 652.8h4.9M643.7 652.8h4.9M656.5 652.8h4.9M659.8 652.8h4.9M672.5 652.8h4.9M678.9 652.8h4.9M702.9 652.8h4.9M712.5 652.8h4.9M722.1 652.8h4.9M726.9 652.8h4.9M731.8 652.8h4.9M733.3 652.8h4.9M736.5 652.8h4.9M741.3 652.8h4.9M742.9 652.8h4.9M746.1 652.8h4.9M749.3 652.8h4.9M776.5 652.8h4.9M603.7 654.4h4.9M606.9 654.4h4.9M608.5 654.4h4.9M624.5 654.4h4.9M637.3 654.4h4.9M646.9 654.4h4.9M648.5 654.4h4.9M651.7 654.4h4.9M654.9 654.4h4.9M656.5 654.4h4.9M666.1 654.4h4.9M683.8 654.4h4.9M718.9 654.4h4.9M723.8 654.4h4.9M726.9 654.4h4.9M747.8 654.4h4.9M754.1 654.4h4.9M755.8 654.4h4.9M757.3 654.4h4.9M758.9 654.4h4.9M768.5 654.4h4.9M605.3 656h4.9M610.1 656h4.9M621.3 656h4.9M634.1 656h4.9M640.5 656h4.9M642.1 656h4.9M650.1 656h4.9M658.1 656h4.9M661.3 656h4.9M694.9 656h4.9M712.5 656h4.9M714.1 656h4.9M722.1 656h4.9M730.1 656h4.9M733.3 656h4.9M734.9 656h4.9M736.5 656h4.9M741.3 656h4.9M746.1 656h4.9M754.1 656h4.9M763.8 656h4.9M592.5 657.6h4.9M594.1 657.6h4.9M602.1 657.6h4.9M626.1 657.6h4.9M627.7 657.6h4.9M630.9 657.6h4.9M640.5 657.6h4.9M643.7 657.6h4.9M651.7 657.6h4.9M666.1 657.6h4.9M667.8 657.6h4.9M709.3 657.6h4.9M710.9 657.6h4.9M725.3 657.6h4.9M726.9 657.6h4.9M744.5 657.6h4.9M747.8 657.6h4.9M752.5 657.6h4.9M760.5 657.6h4.9M765.3 657.6h4.9M774.9 657.6h4.9M586.1 659.2h4.9M619.7 659.2h4.9M621.3 659.2h4.9M624.5 659.2h4.9M629.3 659.2h4.9M640.5 659.2h4.9M648.5 659.2h4.9M651.7 659.2h4.9M656.5 659.2h4.9M661.3 659.2h4.9M664.5 659.2h4.9M704.5 659.2h4.9M710.9 659.2h4.9M718.9 659.2h4.9M720.5 659.2h4.9M728.5 659.2h4.9M733.3 659.2h4.9M749.3 659.2h4.9M806.9 659.2h4.9M586.1 660.8h4.9M606.9 660.8h4.9M608.5 660.8h4.9M622.9 660.8h4.9M624.5 660.8h4.9M634.1 660.8h4.9M661.3 660.8h4.9M662.9 660.8h4.9M688.5 660.8h4.9M698.1 660.8h4.9M718.9 660.8h4.9M738.1 660.8h4.9M739.8 660.8h4.9M746.1 660.8h4.9M766.9 660.8h4.9M770.1 660.8h4.9M586.1 662.4h4.9M605.3 662.4h4.9M618.1 662.4h4.9M619.7 662.4h4.9M621.3 662.4h4.9M629.3 662.4h4.9M675.8 662.4h4.9M696.5 662.4h4.9M706.1 662.4h4.9M707.8 662.4h4.9M709.3 662.4h4.9M710.9 662.4h4.9M718.9 662.4h4.9M739.8 662.4h4.9M750.9 662.4h4.9M755.8 662.4h4.9M757.3 662.4h4.9M589.3 664h4.9M590.9 664h4.9M602.1 664h4.9M614.9 664h4.9M619.7 664h4.9M622.9 664h4.9M626.1 664h4.9M629.3 664h4.9M634.1 664h4.9M664.5 664h4.9M678.9 664h4.9M709.3 664h4.9M726.9 664h4.9M760.5 664h4.9M827.8 664h4.9M587.7 665.6h4.9M590.9 665.6h4.9M595.7 665.6h4.9M602.1 665.6h4.9M603.7 665.6h4.9M608.5 665.6h4.9M626.1 665.6h4.9M630.9 665.6h4.9M637.3 665.6h4.9M643.7 665.6h4.9M650.1 665.6h4.9M654.9 665.6h4.9M664.5 665.6h4.9M683.8 665.6h4.9M701.3 665.6h4.9M702.9 665.6h4.9M730.1 665.6h4.9M733.3 665.6h4.9M742.9 665.6h4.9M806.9 665.6h4.9M589.3 667.2h4.9M592.5 667.2h4.9M608.5 667.2h4.9M621.3 667.2h4.9M634.1 667.2h4.9M635.7 667.2h4.9M640.5 667.2h4.9M672.5 667.2h4.9M678.9 667.2h4.9M704.5 667.2h4.9M710.9 667.2h4.9M722.1 667.2h4.9M730.1 667.2h4.9M738.1 667.2h4.9M741.3 667.2h4.9M750.9 667.2h4.9M614.9 668.8h4.9M616.5 668.8h4.9M638.9 668.8h4.9M648.5 668.8h4.9M650.1 668.8h4.9M709.3 668.8h4.9M843.8 668.8h4.9M606.9 670.4h4.9M630.9 670.4h4.9M635.7 670.4h4.9M638.9 670.4h4.9M653.3 670.4h4.9M677.3 670.4h4.9M710.9 670.4h4.9M720.5 670.4h4.9M730.1 670.4h4.9M738.1 670.4h4.9M742.9 670.4h4.9M869.3 670.4h4.9M605.3 672h4.9M618.1 672h4.9M630.9 672h4.9M634.1 672h4.9M637.3 672h4.9M642.1 672h4.9M645.3 672h4.9M650.1 672h4.9M651.7 672h4.9M656.5 672h4.9M686.9 672h4.9M693.3 672h4.9M712.5 672h4.9M725.3 672h4.9M731.8 672h4.9M734.9 672h4.9M736.5 672h4.9M760.5 672h4.9M589.3 673.6h4.9M606.9 673.6h4.9M619.7 673.6h4.9M624.5 673.6h4.9M630.9 673.6h4.9M634.1 673.6h4.9M638.9 673.6h4.9M710.9 673.6h4.9M714.1 673.6h4.9M736.5 673.6h4.9M742.9 673.6h4.9M586.1 675.2h4.9M613.3 675.2h4.9M618.1 675.2h4.9M630.9 675.2h4.9M702.9 675.2h4.9M706.1 675.2h4.9M717.3 675.2h4.9M739.8 675.2h4.9M758.9 675.2h4.9M782.9 675.2h4.9M811.8 675.2h4.9M594.1 676.8h4.9M605.3 676.8h4.9M608.5 676.8h4.9M624.5 676.8h4.9M642.1 676.8h4.9M645.3 676.8h4.9M659.8 676.8h4.9M666.1 676.8h4.9M669.3 676.8h4.9M690.1 676.8h4.9M696.5 676.8h4.9M702.9 676.8h4.9M744.5 676.8h4.9M754.1 676.8h4.9M598.9 678.4h4.9M611.7 678.4h4.9M624.5 678.4h4.9M637.3 678.4h4.9M642.1 678.4h4.9M658.1 678.4h4.9M662.9 678.4h4.9M725.3 678.4h4.9M728.5 678.4h4.9M610.1 680h4.9M613.3 680h4.9M618.1 680h4.9M627.7 680h4.9M634.1 680h4.9M640.5 680h4.9M646.9 680h4.9M653.3 680h4.9M666.1 680h4.9M701.3 680h4.9M610.1 681.6h4.9M611.7 681.6h4.9M642.1 681.6h4.9M658.1 681.6h4.9M725.3 681.6h4.9M646.9 683.2h4.9M653.3 683.2h4.9M654.9 683.2h4.9M666.1 683.2h4.9M725.3 683.2h4.9M869.3 683.2h4.9M616.5 684.8h4.9M638.9 684.8h4.9M643.7 684.8h4.9M651.7 684.8h4.9M669.3 684.8h4.9M693.3 684.8h4.9M742.9 684.8h4.9M749.3 684.8h4.9M755.8 684.8h4.9M805.3 684.8h4.9M589.3 686.4h4.9M613.3 686.4h4.9M630.9 686.4h4.9M635.7 686.4h4.9M638.9 686.4h4.9M752.5 686.4h4.9M586.1 688h4.9M643.7 688h4.9M646.9 688h4.9M658.1 688h4.9M666.1 688h4.9M682.1 688h4.9M730.1 688h4.9M773.3 688h4.9M811.8 688h4.9M643.7 689.6h4.9M645.3 689.6h4.9M656.5 689.6h4.9M672.5 689.6h4.9M739.8 689.6h4.9M774.9 689.6h4.9M606.9 691.2h4.9M608.5 691.2h4.9M626.1 691.2h4.9M718.9 691.2h4.9M733.3 691.2h4.9M738.1 691.2h4.9M746.1 691.2h4.9M598.9 692.8h4.9M688.5 692.8h4.9M710.9 692.8h4.9M725.3 692.8h4.9M734.9 692.8h4.9M750.9 692.8h4.9M755.8 692.8h4.9M771.8 692.8h4.9M616.5 694.4h4.9M672.5 694.4h4.9M683.8 694.4h4.9M715.8 694.4h4.9M742.9 694.4h4.9M747.8 694.4h4.9M765.3 694.4h4.9M635.7 696h4.9M643.7 696h4.9M714.1 696h4.9M722.1 696h4.9M747.8 696h4.9M754.1 696h4.9M755.8 696h4.9M765.3 696h4.9M658.1 697.6h4.9M683.8 697.6h4.9M685.3 697.6h4.9M714.1 697.6h4.9M723.8 697.6h4.9M725.3 697.6h4.9M726.9 697.6h4.9M731.8 697.6h4.9M773.3 697.6h4.9M618.1 699.2h4.9M634.1 699.2h4.9M637.3 699.2h4.9M645.3 699.2h4.9M722.1 699.2h4.9M733.3 699.2h4.9M738.1 699.2h4.9M741.3 699.2h4.9M744.5 699.2h4.9M763.8 699.2h4.9M765.3 699.2h4.9M651.7 700.8h4.9M680.5 700.8h4.9M688.5 700.8h4.9M738.1 700.8h4.9M747.8 700.8h4.9M766.9 700.8h4.9M667.8 702.4h4.9M678.9 702.4h4.9M691.8 702.4h4.9M707.8 702.4h4.9M720.5 702.4h4.9M722.1 702.4h4.9M723.8 702.4h4.9M739.8 702.4h4.9M757.3 702.4h4.9M758.9 702.4h4.9M613.3 704h4.9M677.3 704h4.9M707.8 704h4.9M718.9 704h4.9M726.9 704h4.9M738.1 704h4.9M741.3 704h4.9M744.5 704h4.9M746.1 704h4.9M754.1 704h4.9M770.1 704h4.9M792.5 704h4.9M638.9 705.6h4.9M666.1 705.6h4.9M702.9 705.6h4.9M707.8 705.6h4.9M712.5 705.6h4.9M738.1 705.6h4.9M650.1 707.2h4.9M651.7 707.2h4.9M706.1 707.2h4.9M717.3 707.2h4.9M720.5 707.2h4.9M728.5 707.2h4.9M736.5 707.2h4.9M744.5 707.2h4.9M760.5 707.2h4.9M786.1 707.2h4.9M603.7 708.8h4.9M622.9 708.8h4.9M624.5 708.8h4.9M635.7 708.8h4.9M685.3 708.8h4.9M688.5 708.8h4.9M704.5 708.8h4.9M712.5 708.8h4.9M738.1 708.8h4.9M741.3 708.8h4.9M750.9 708.8h4.9M754.1 708.8h4.9M614.9 710.4h4.9M619.7 710.4h4.9M626.1 710.4h4.9M629.3 710.4h4.9M632.5 710.4h4.9M640.5 710.4h4.9M642.1 710.4h4.9M645.3 710.4h4.9M661.3 710.4h4.9M686.9 710.4h4.9M690.1 710.4h4.9M710.9 710.4h4.9M717.3 710.4h4.9M718.9 710.4h4.9M725.3 710.4h4.9M726.9 710.4h4.9M733.3 710.4h4.9M741.3 710.4h4.9M744.5 710.4h4.9M749.3 710.4h4.9M614.9 712h4.9M618.1 712h4.9M621.3 712h4.9M622.9 712h4.9M645.3 712h4.9M662.9 712h4.9M670.9 712h4.9M677.3 712h4.9M707.8 712h4.9M717.3 712h4.9M720.5 712h4.9M741.3 712h4.9M746.1 712h4.9M762.1 712h4.9M595.7 713.6h4.9M600.5 713.6h4.9M605.3 713.6h4.9M618.1 713.6h4.9M642.1 713.6h4.9M720.5 713.6h4.9M725.3 713.6h4.9M726.9 713.6h4.9M728.5 713.6h4.9M731.8 713.6h4.9M736.5 713.6h4.9M741.3 713.6h4.9M742.9 713.6h4.9M754.1 713.6h4.9M758.9 713.6h4.9M760.5 713.6h4.9M766.9 713.6h4.9M586.1 715.2h4.9M610.1 715.2h4.9M627.7 715.2h4.9M638.9 715.2h4.9M650.1 715.2h4.9M653.3 715.2h4.9M702.9 715.2h4.9M709.3 715.2h4.9M726.9 715.2h4.9M731.8 715.2h4.9M739.8 715.2h4.9M755.8 715.2h4.9M768.5 715.2h4.9M598.9 716.8h4.9M619.7 716.8h4.9M638.9 716.8h4.9M642.1 716.8h4.9M645.3 716.8h4.9M646.9 716.8h4.9M669.3 716.8h4.9M717.3 716.8h4.9M723.8 716.8h4.9M728.5 716.8h4.9M741.3 716.8h4.9M750.9 716.8h4.9M754.1 716.8h4.9M760.5 716.8h4.9M763.8 716.8h4.9M765.3 716.8h4.9M773.3 716.8h4.9M598.9 718.4h4.9M611.7 718.4h4.9M616.5 718.4h4.9M637.3 718.4h4.9M643.7 718.4h4.9M646.9 718.4h4.9M690.1 718.4h4.9M696.5 718.4h4.9M704.5 718.4h4.9M706.1 718.4h4.9M710.9 718.4h4.9M726.9 718.4h4.9M734.9 718.4h4.9M738.1 718.4h4.9M746.1 718.4h4.9M778.1 718.4h4.9M587.7 720h4.9M613.3 720h4.9M616.5 720h4.9M619.7 720h4.9M637.3 720h4.9M640.5 720h4.9M646.9 720h4.9M651.7 720h4.9M653.3 720h4.9M656.5 720h4.9M678.9 720h4.9M686.9 720h4.9M696.5 720h4.9M699.8 720h4.9M720.5 720h4.9M725.3 720h4.9M726.9 720h4.9M730.1 720h4.9M733.3 720h4.9M744.5 720h4.9M750.9 720h4.9M757.3 720h4.9M760.5 720h4.9M765.3 720h4.9M766.9 720h4.9M768.5 720h4.9M589.3 721.6h4.9M597.3 721.6h4.9M624.5 721.6h4.9M627.7 721.6h4.9M632.5 721.6h4.9M635.7 721.6h4.9M730.1 721.6h4.9M741.3 721.6h4.9M752.5 721.6h4.9M757.3 721.6h4.9M760.5 721.6h4.9M766.9 721.6h4.9M768.5 721.6h4.9M597.3 723.2h4.9M598.9 723.2h4.9M610.1 723.2h4.9M626.1 723.2h4.9M632.5 723.2h4.9M656.5 723.2h4.9M662.9 723.2h4.9M686.9 723.2h4.9M691.8 723.2h4.9M698.1 723.2h4.9M702.9 723.2h4.9M712.5 723.2h4.9M723.8 723.2h4.9M728.5 723.2h4.9M734.9 723.2h4.9M741.3 723.2h4.9M742.9 723.2h4.9M744.5 723.2h4.9M752.5 723.2h4.9M770.1 723.2h4.9M782.9 723.2h4.9M784.5 723.2h4.9M586.1 724.8h4.9M590.9 724.8h4.9M595.7 724.8h4.9M635.7 724.8h4.9M637.3 724.8h4.9M656.5 724.8h4.9M704.5 724.8h4.9M710.9 724.8h4.9M720.5 724.8h4.9M728.5 724.8h4.9M730.1 724.8h4.9M741.3 724.8h4.9M742.9 724.8h4.9M762.1 724.8h4.9M773.3 724.8h4.9M589.3 726.4h4.9M592.5 726.4h4.9M611.7 726.4h4.9M614.9 726.4h4.9M635.7 726.4h4.9M642.1 726.4h4.9M645.3 726.4h4.9M646.9 726.4h4.9M656.5 726.4h4.9M698.1 726.4h4.9M702.9 726.4h4.9M717.3 726.4h4.9M718.9 726.4h4.9M720.5 726.4h4.9M728.5 726.4h4.9M731.8 726.4h4.9M738.1 726.4h4.9M757.3 726.4h4.9M760.5 726.4h4.9M763.8 726.4h4.9M770.1 726.4h4.9M619.7 728h4.9M629.3 728h4.9M675.8 728h4.9M696.5 728h4.9M720.5 728h4.9M730.1 728h4.9M731.8 728h4.9M733.3 728h4.9M738.1 728h4.9M752.5 728h4.9M771.8 728h4.9M786.1 728h4.9M618.1 729.6h4.9M621.3 729.6h4.9M630.9 729.6h4.9M653.3 729.6h4.9M702.9 729.6h4.9M712.5 729.6h4.9M715.8 729.6h4.9M717.3 729.6h4.9M718.9 729.6h4.9M726.9 729.6h4.9M731.8 729.6h4.9M734.9 729.6h4.9M738.1 729.6h4.9M741.3 729.6h4.9M749.3 729.6h4.9M750.9 729.6h4.9M626.1 731.2h4.9M629.3 731.2h4.9M630.9 731.2h4.9M638.9 731.2h4.9M656.5 731.2h4.9M658.1 731.2h4.9M662.9 731.2h4.9M669.3 731.2h4.9M670.9 731.2h4.9M672.5 731.2h4.9M675.8 731.2h4.9M693.3 731.2h4.9M702.9 731.2h4.9M714.1 731.2h4.9M720.5 731.2h4.9M733.3 731.2h4.9M739.8 731.2h4.9M741.3 731.2h4.9M746.1 731.2h4.9M749.3 731.2h4.9M768.5 731.2h4.9M770.1 731.2h4.9M779.8 731.2h4.9M590.9 732.8h4.9M611.7 732.8h4.9M619.7 732.8h4.9M621.3 732.8h4.9M627.7 732.8h4.9M632.5 732.8h4.9M637.3 732.8h4.9M646.9 732.8h4.9M650.1 732.8h4.9M654.9 732.8h4.9M662.9 732.8h4.9M709.3 732.8h4.9M726.9 732.8h4.9M731.8 732.8h4.9M738.1 732.8h4.9M744.5 732.8h4.9M747.8 732.8h4.9M749.3 732.8h4.9M760.5 732.8h4.9M778.1 732.8h4.9M605.3 734.4h4.9M610.1 734.4h4.9M613.3 734.4h4.9M614.9 734.4h4.9M634.1 734.4h4.9M645.3 734.4h4.9M728.5 734.4h4.9M736.5 734.4h4.9M739.8 734.4h4.9M747.8 734.4h4.9M750.9 734.4h4.9M752.5 734.4h4.9M771.8 734.4h4.9M779.8 734.4h4.9M586.1 736h4.9M595.7 736h4.9M610.1 736h4.9M616.5 736h4.9M619.7 736h4.9M627.7 736h4.9M630.9 736h4.9M640.5 736h4.9M646.9 736h4.9M650.1 736h4.9M659.8 736h4.9M690.1 736h4.9M710.9 736h4.9M714.1 736h4.9M715.8 736h4.9M726.9 736h4.9M734.9 736h4.9M741.3 736h4.9M747.8 736h4.9M749.3 736h4.9M765.3 736h4.9M774.9 736h4.9M776.5 736h4.9M781.3 736h4.9M840.5 736h4.9M589.3 737.6h4.9M605.3 737.6h4.9M613.3 737.6h4.9M626.1 737.6h4.9M640.5 737.6h4.9M662.9 737.6h4.9M675.8 737.6h4.9M718.9 737.6h4.9M723.8 737.6h4.9M736.5 737.6h4.9M738.1 737.6h4.9M750.9 737.6h4.9M752.5 737.6h4.9M754.1 737.6h4.9M773.3 737.6h4.9M595.7 739.2h4.9M610.1 739.2h4.9M627.7 739.2h4.9M630.9 739.2h4.9M632.5 739.2h4.9M643.7 739.2h4.9M650.1 739.2h4.9M672.5 739.2h4.9M675.8 739.2h4.9M712.5 739.2h4.9M714.1 739.2h4.9M717.3 739.2h4.9M725.3 739.2h4.9M726.9 739.2h4.9M730.1 739.2h4.9M733.3 739.2h4.9M739.8 739.2h4.9M741.3 739.2h4.9M746.1 739.2h4.9M754.1 739.2h4.9M757.3 739.2h4.9M606.9 740.8h4.9M616.5 740.8h4.9M619.7 740.8h4.9M624.5 740.8h4.9M626.1 740.8h4.9M634.1 740.8h4.9M640.5 740.8h4.9M698.1 740.8h4.9M701.3 740.8h4.9M704.5 740.8h4.9M718.9 740.8h4.9M728.5 740.8h4.9M733.3 740.8h4.9M742.9 740.8h4.9M744.5 740.8h4.9M749.3 740.8h4.9M762.1 740.8h4.9M595.7 742.4h4.9M598.9 742.4h4.9M619.7 742.4h4.9M621.3 742.4h4.9M637.3 742.4h4.9M638.9 742.4h4.9M642.1 742.4h4.9M666.1 742.4h4.9M670.9 742.4h4.9M678.9 742.4h4.9M680.5 742.4h4.9M701.3 742.4h4.9M706.1 742.4h4.9M709.3 742.4h4.9M725.3 742.4h4.9M739.8 742.4h4.9M741.3 742.4h4.9M747.8 742.4h4.9M758.9 742.4h4.9M771.8 742.4h4.9M605.3 744h4.9M606.9 744h4.9M618.1 744h4.9M622.9 744h4.9M624.5 744h4.9M630.9 744h4.9M634.1 744h4.9M637.3 744h4.9M643.7 744h4.9M651.7 744h4.9M670.9 744h4.9M674.1 744h4.9M725.3 744h4.9M728.5 744h4.9M730.1 744h4.9M731.8 744h4.9M738.1 744h4.9M739.8 744h4.9M746.1 744h4.9M776.5 744h4.9M586.1 745.6h4.9M587.7 745.6h4.9M611.7 745.6h4.9M614.9 745.6h4.9M626.1 745.6h4.9M629.3 745.6h4.9M632.5 745.6h4.9M645.3 745.6h4.9M648.5 745.6h4.9M656.5 745.6h4.9M658.1 745.6h4.9M664.5 745.6h4.9M680.5 745.6h4.9M699.8 745.6h4.9M706.1 745.6h4.9M720.5 745.6h4.9M722.1 745.6h4.9M800.5 745.6h4.9M586.1 747.2h4.9M589.3 747.2h4.9M622.9 747.2h4.9M626.1 747.2h4.9M632.5 747.2h4.9M637.3 747.2h4.9M643.7 747.2h4.9M645.3 747.2h4.9M650.1 747.2h4.9M669.3 747.2h4.9M680.5 747.2h4.9M707.8 747.2h4.9M710.9 747.2h4.9M720.5 747.2h4.9M726.9 747.2h4.9M738.1 747.2h4.9M747.8 747.2h4.9M778.1 747.2h4.9M586.1 748.8h4.9M600.5 748.8h4.9M611.7 748.8h4.9M616.5 748.8h4.9M618.1 748.8h4.9M619.7 748.8h4.9M632.5 748.8h4.9M634.1 748.8h4.9M638.9 748.8h4.9M651.7 748.8h4.9M656.5 748.8h4.9M658.1 748.8h4.9M669.3 748.8h4.9M670.9 748.8h4.9M688.5 748.8h4.9M696.5 748.8h4.9M706.1 748.8h4.9M710.9 748.8h4.9M712.5 748.8h4.9M730.1 748.8h4.9M736.5 748.8h4.9M739.8 748.8h4.9M742.9 748.8h4.9M746.1 748.8h4.9M760.5 748.8h4.9M595.7 750.4h4.9M606.9 750.4h4.9M608.5 750.4h4.9M616.5 750.4h4.9M619.7 750.4h4.9M637.3 750.4h4.9M642.1 750.4h4.9M645.3 750.4h4.9M646.9 750.4h4.9M648.5 750.4h4.9M650.1 750.4h4.9M653.3 750.4h4.9M666.1 750.4h4.9M699.8 750.4h4.9M707.8 750.4h4.9M709.3 750.4h4.9M715.8 750.4h4.9M728.5 750.4h4.9M731.8 750.4h4.9M744.5 750.4h4.9M752.5 750.4h4.9M586.1 752h4.9M587.7 752h4.9M611.7 752h4.9M618.1 752h4.9M619.7 752h4.9M626.1 752h4.9M629.3 752h4.9M632.5 752h4.9M634.1 752h4.9M642.1 752h4.9M650.1 752h4.9M651.7 752h4.9M656.5 752h4.9M664.5 752h4.9M693.3 752h4.9M701.3 752h4.9M706.1 752h4.9M725.3 752h4.9M730.1 752h4.9M731.8 752h4.9M752.5 752h4.9M758.9 752h4.9M770.1 752h4.9M589.3 753.6h4.9M595.7 753.6h4.9M602.1 753.6h4.9M605.3 753.6h4.9M611.7 753.6h4.9M619.7 753.6h4.9M630.9 753.6h4.9M640.5 753.6h4.9M643.7 753.6h4.9M646.9 753.6h4.9M654.9 753.6h4.9M661.3 753.6h4.9M662.9 753.6h4.9M664.5 753.6h4.9M670.9 753.6h4.9M731.8 753.6h4.9M738.1 753.6h4.9M739.8 753.6h4.9M741.3 753.6h4.9M747.8 753.6h4.9M749.3 753.6h4.9M750.9 753.6h4.9M768.5 753.6h4.9M781.3 753.6h4.9M600.5 755.2h4.9M602.1 755.2h4.9M605.3 755.2h4.9M606.9 755.2h4.9M616.5 755.2h4.9M624.5 755.2h4.9M629.3 755.2h4.9M642.1 755.2h4.9M645.3 755.2h4.9M648.5 755.2h4.9M650.1 755.2h4.9M653.3 755.2h4.9M656.5 755.2h4.9M658.1 755.2h4.9M675.8 755.2h4.9M682.1 755.2h4.9M725.3 755.2h4.9M733.3 755.2h4.9M739.8 755.2h4.9M752.5 755.2h4.9M758.9 755.2h4.9M598.9 756.8h4.9M605.3 756.8h4.9M616.5 756.8h4.9M626.1 756.8h4.9M630.9 756.8h4.9M632.5 756.8h4.9M637.3 756.8h4.9M650.1 756.8h4.9M651.7 756.8h4.9M653.3 756.8h4.9M658.1 756.8h4.9M710.9 756.8h4.9M739.8 756.8h4.9M752.5 756.8h4.9M789.3 756.8h4.9M589.3 758.4h4.9M592.5 758.4h4.9M600.5 758.4h4.9M602.1 758.4h4.9M608.5 758.4h4.9M611.7 758.4h4.9M616.5 758.4h4.9M619.7 758.4h4.9M624.5 758.4h4.9M638.9 758.4h4.9M640.5 758.4h4.9M645.3 758.4h4.9M669.3 758.4h4.9M675.8 758.4h4.9M696.5 758.4h4.9M710.9 758.4h4.9M726.9 758.4h4.9M738.1 758.4h4.9M739.8 758.4h4.9M754.1 758.4h4.9M757.3 758.4h4.9M594.1 760h4.9M598.9 760h4.9M618.1 760h4.9M627.7 760h4.9M629.3 760h4.9M635.7 760h4.9M637.3 760h4.9M638.9 760h4.9M645.3 760h4.9M646.9 760h4.9M650.1 760h4.9M651.7 760h4.9M712.5 760h4.9M726.9 760h4.9M734.9 760h4.9M739.8 760h4.9M744.5 760h4.9M762.1 760h4.9M587.7 761.6h4.9M603.7 761.6h4.9M606.9 761.6h4.9M610.1 761.6h4.9M613.3 761.6h4.9M614.9 761.6h4.9M621.3 761.6h4.9M630.9 761.6h4.9M632.5 761.6h4.9M638.9 761.6h4.9M642.1 761.6h4.9M648.5 761.6h4.9M651.7 761.6h4.9M653.3 761.6h4.9M698.1 761.6h4.9M720.5 761.6h4.9M728.5 761.6h4.9M734.9 761.6h4.9M739.8 761.6h4.9M811.8 761.6h4.9M611.7 763.2h4.9M618.1 763.2h4.9M629.3 763.2h4.9M632.5 763.2h4.9M643.7 763.2h4.9M648.5 763.2h4.9M658.1 763.2h4.9M664.5 763.2h4.9M696.5 763.2h4.9M710.9 763.2h4.9M717.3 763.2h4.9M741.3 763.2h4.9M752.5 763.2h4.9M763.8 763.2h4.9M594.1 764.8h4.9M605.3 764.8h4.9M610.1 764.8h4.9M613.3 764.8h4.9M624.5 764.8h4.9M629.3 764.8h4.9M632.5 764.8h4.9M635.7 764.8h4.9M637.3 764.8h4.9M638.9 764.8h4.9M653.3 764.8h4.9M667.8 764.8h4.9M669.3 764.8h4.9M682.1 764.8h4.9M690.1 764.8h4.9M725.3 764.8h4.9M739.8 764.8h4.9M778.1 764.8h4.9M608.5 766.4h4.9M616.5 766.4h4.9M619.7 766.4h4.9M621.3 766.4h4.9M626.1 766.4h4.9M627.7 766.4h4.9M629.3 766.4h4.9M630.9 766.4h4.9M638.9 766.4h4.9M648.5 766.4h4.9M651.7 766.4h4.9M653.3 766.4h4.9M661.3 766.4h4.9M664.5 766.4h4.9M669.3 766.4h4.9M670.9 766.4h4.9M672.5 766.4h4.9M702.9 766.4h4.9M736.5 766.4h4.9M738.1 766.4h4.9M595.7 768h4.9M605.3 768h4.9M611.7 768h4.9M613.3 768h4.9M616.5 768h4.9M624.5 768h4.9M629.3 768h4.9M630.9 768h4.9M640.5 768h4.9M643.7 768h4.9M648.5 768h4.9M650.1 768h4.9M659.8 768h4.9M675.8 768h4.9M702.9 768h4.9M742.9 768h4.9M752.5 768h4.9M771.8 768h4.9M586.1 769.6h4.9M587.7 769.6h4.9M605.3 769.6h4.9M608.5 769.6h4.9M616.5 769.6h4.9M622.9 769.6h4.9M630.9 769.6h4.9M634.1 769.6h4.9M654.9 769.6h4.9M658.1 769.6h4.9M666.1 769.6h4.9M738.1 769.6h4.9M742.9 769.6h4.9M747.8 769.6h4.9M776.5 769.6h4.9M602.1 771.2h4.9M603.7 771.2h4.9M606.9 771.2h4.9M634.1 771.2h4.9M635.7 771.2h4.9M637.3 771.2h4.9M642.1 771.2h4.9M645.3 771.2h4.9M656.5 771.2h4.9M662.9 771.2h4.9M680.5 771.2h4.9M704.5 771.2h4.9M709.3 771.2h4.9M710.9 771.2h4.9M730.1 771.2h4.9M741.3 771.2h4.9M586.1 772.8h4.9M605.3 772.8h4.9M626.1 772.8h4.9M629.3 772.8h4.9M630.9 772.8h4.9M635.7 772.8h4.9M637.3 772.8h4.9M640.5 772.8h4.9M650.1 772.8h4.9M654.9 772.8h4.9M656.5 772.8h4.9M669.3 772.8h4.9M690.1 772.8h4.9M707.8 772.8h4.9M720.5 772.8h4.9M736.5 772.8h4.9M586.1 774.4h4.9M587.7 774.4h4.9M598.9 774.4h4.9M606.9 774.4h4.9M611.7 774.4h4.9M614.9 774.4h4.9M618.1 774.4h4.9M621.3 774.4h4.9M626.1 774.4h4.9M638.9 774.4h4.9M640.5 774.4h4.9M650.1 774.4h4.9M654.9 774.4h4.9M661.3 774.4h4.9M666.1 774.4h4.9M669.3 774.4h4.9M685.3 774.4h4.9M718.9 774.4h4.9M602.1 776h4.9M614.9 776h4.9M618.1 776h4.9M621.3 776h4.9M622.9 776h4.9M640.5 776h4.9M642.1 776h4.9M643.7 776h4.9M645.3 776h4.9M658.1 776h4.9M666.1 776h4.9M682.1 776h4.9M728.5 776h4.9M758.9 776h4.9M586.1 777.6h4.9M603.7 777.6h4.9M616.5 777.6h4.9M622.9 777.6h4.9M626.1 777.6h4.9M627.7 777.6h4.9M632.5 777.6h4.9M638.9 777.6h4.9M642.1 777.6h4.9M646.9 777.6h4.9M654.9 777.6h4.9M658.1 777.6h4.9M694.9 777.6h4.9M712.5 777.6h4.9M747.8 777.6h4.9M592.5 779.2h4.9M600.5 779.2h4.9M613.3 779.2h4.9M614.9 779.2h4.9M619.7 779.2h4.9M626.1 779.2h4.9M629.3 779.2h4.9M634.1 779.2h4.9M635.7 779.2h4.9M643.7 779.2h4.9M648.5 779.2h4.9M650.1 779.2h4.9M664.5 779.2h4.9M670.9 779.2h4.9M682.1 779.2h4.9M706.1 779.2h4.9M763.8 779.2h4.9M765.3 779.2h4.9M597.3 780.8h4.9M603.7 780.8h4.9M613.3 780.8h4.9M614.9 780.8h4.9M624.5 780.8h4.9M632.5 780.8h4.9M634.1 780.8h4.9M635.7 780.8h4.9M640.5 780.8h4.9M643.7 780.8h4.9M650.1 780.8h4.9M672.5 780.8h4.9M710.9 780.8h4.9M726.9 780.8h4.9M733.3 780.8h4.9M739.8 780.8h4.9M744.5 780.8h4.9M763.8 780.8h4.9M795.8 780.8h4.9M605.3 782.4h4.9M610.1 782.4h4.9M616.5 782.4h4.9M624.5 782.4h4.9M626.1 782.4h4.9M627.7 782.4h4.9M629.3 782.4h4.9M637.3 782.4h4.9M643.7 782.4h4.9M645.3 782.4h4.9M646.9 782.4h4.9M651.7 782.4h4.9M654.9 782.4h4.9M658.1 782.4h4.9M659.8 782.4h4.9M662.9 782.4h4.9M707.8 782.4h4.9M590.9 784h4.9M598.9 784h4.9M605.3 784h4.9M616.5 784h4.9M624.5 784h4.9M626.1 784h4.9M630.9 784h4.9M632.5 784h4.9M634.1 784h4.9M642.1 784h4.9M643.7 784h4.9M651.7 784h4.9M664.5 784h4.9M691.8 784h4.9M706.1 784h4.9M603.7 785.6h4.9M606.9 785.6h4.9M610.1 785.6h4.9M622.9 785.6h4.9M627.7 785.6h4.9M634.1 785.6h4.9M638.9 785.6h4.9M653.3 785.6h4.9M675.8 785.6h4.9M723.8 785.6h4.9M736.5 785.6h4.9M595.7 787.2h4.9M606.9 787.2h4.9M608.5 787.2h4.9M610.1 787.2h4.9M622.9 787.2h4.9M624.5 787.2h4.9M630.9 787.2h4.9M634.1 787.2h4.9M645.3 787.2h4.9M646.9 787.2h4.9M672.5 787.2h4.9M683.8 787.2h4.9M686.9 787.2h4.9M744.5 787.2h4.9M750.9 787.2h4.9M758.9 787.2h4.9M766.9 787.2h4.9M610.1 788.8h4.9M613.3 788.8h4.9M619.7 788.8h4.9M622.9 788.8h4.9M627.7 788.8h4.9M634.1 788.8h4.9M635.7 788.8h4.9M640.5 788.8h4.9M643.7 788.8h4.9M658.1 788.8h4.9M666.1 788.8h4.9M677.3 788.8h4.9M587.7 790.4h4.9M611.7 790.4h4.9M619.7 790.4h4.9M621.3 790.4h4.9M624.5 790.4h4.9M627.7 790.4h4.9M630.9 790.4h4.9M632.5 790.4h4.9M635.7 790.4h4.9M640.5 790.4h4.9M651.7 790.4h4.9M672.5 790.4h4.9M699.8 790.4h4.9M701.3 790.4h4.9M742.9 790.4h4.9M614.9 792h4.9M616.5 792h4.9M622.9 792h4.9M624.5 792h4.9M630.9 792h4.9M635.7 792h4.9M637.3 792h4.9M651.7 792h4.9M653.3 792h4.9M664.5 792h4.9M678.9 792h4.9M686.9 792h4.9M688.5 792h4.9M589.3 793.6h4.9M606.9 793.6h4.9M611.7 793.6h4.9M621.3 793.6h4.9M632.5 793.6h4.9M658.1 793.6h4.9M755.8 793.6h4.9M589.3 795.2h4.9M606.9 795.2h4.9M626.1 795.2h4.9M630.9 795.2h4.9M635.7 795.2h4.9M640.5 795.2h4.9M653.3 795.2h4.9M654.9 795.2h4.9M672.5 795.2h4.9M683.8 795.2h4.9M688.5 795.2h4.9M760.5 795.2h4.9M586.1 796.8h4.9M597.3 796.8h4.9M610.1 796.8h4.9M616.5 796.8h4.9M618.1 796.8h4.9M621.3 796.8h4.9M646.9 796.8h4.9M654.9 796.8h4.9M666.1 796.8h4.9M586.1 798.4h4.9M621.3 798.4h4.9M624.5 798.4h4.9M634.1 798.4h4.9M680.5 798.4h4.9M598.9 800h4.9M624.5 800h4.9M626.1 800h4.9M627.7 800h4.9M645.3 800h4.9M646.9 800h4.9M650.1 800h4.9M658.1 800h4.9M682.1 800h4.9M586.1 801.6h4.9M595.7 801.6h4.9M610.1 801.6h4.9M616.5 801.6h4.9M630.9 801.6h4.9M637.3 801.6h4.9M648.5 801.6h4.9M678.9 801.6h4.9M714.1 801.6h4.9M613.3 803.2h4.9M616.5 803.2h4.9M619.7 803.2h4.9M630.9 803.2h4.9M634.1 803.2h4.9M637.3 803.2h4.9M643.7 803.2h4.9M648.5 803.2h4.9M605.3 804.8h4.9M614.9 804.8h4.9M630.9 804.8h4.9M632.5 804.8h4.9M637.3 804.8h4.9M640.5 804.8h4.9M645.3 804.8h4.9M664.5 804.8h4.9M616.5 806.4h4.9M618.1 806.4h4.9M626.1 806.4h4.9M634.1 806.4h4.9M643.7 806.4h4.9M645.3 806.4h4.9M646.9 806.4h4.9M654.9 806.4h4.9M656.5 806.4h4.9M637.3 808h4.9M638.9 808h4.9M661.3 808h4.9M674.1 808h4.9M598.9 809.6h4.9M605.3 809.6h4.9M606.9 809.6h4.9M619.7 809.6h4.9M635.7 809.6h4.9M646.9 809.6h4.9M656.5 809.6h4.9M691.8 809.6h4.9M733.3 809.6h4.9M605.3 811.2h4.9M608.5 811.2h4.9M610.1 811.2h4.9M613.3 811.2h4.9M624.5 811.2h4.9M637.3 811.2h4.9M650.1 811.2h4.9M656.5 811.2h4.9M658.1 811.2h4.9M662.9 811.2h4.9M674.1 811.2h4.9M592.5 812.8h4.9M629.3 812.8h4.9M630.9 812.8h4.9M642.1 812.8h4.9M675.8 812.8h4.9M586.1 814.4h4.9M632.5 814.4h4.9M638.9 814.4h4.9M651.7 814.4h4.9M666.1 814.4h4.9M616.5 816h4.9M622.9 816h4.9M632.5 816h4.9M677.3 816h4.9M597.3 817.6h4.9M621.3 817.6h4.9M667.8 817.6h4.9M598.9 819.2h4.9M603.7 819.2h4.9M606.9 819.2h4.9M610.1 819.2h4.9M637.3 819.2h4.9M669.3 819.2h4.9M867.8 819.2h4.9M645.3 820.8h4.9M667.8 820.8h4.9M627.7 822.4h4.9M630.9 822.4h4.9M643.7 822.4h4.9M656.5 822.4h4.9M677.3 824h4.9M643.7 825.6h4.9M616.5 827.2h4.9M621.3 827.2h4.9M642.1 827.2h4.9M642.1 828.8h4.9M643.7 828.8h4.9M635.7 830.4h4.9M640.5 830.4h4.9M642.1 830.4h4.9M683.8 830.4h4.9M664.5 832h4.9M792.5 833.6h4.9M659.8 835.2h4.9M766.9 835.2h4.9M654.9 838.4h4.9M658.1 838.4h4.9M686.9 838.4h4.9M674.1 843.2h4.9M653.3 849.6h4.9M658.1 849.6h4.9M614.9 851.2h4.9" stroke="#0000ff" stroke-width="4.9" fill="none"/>
<path d="M619.7 572.8h4.9M645.3 596.8h4.9M739.8 600h4.9M741.3 600h4.9M597.3 601.6h4.9M650.1 601.6h4.9M728.5 603.2h4.9M614.9 604.8h4.9M638.9 604.8h4.9M632.5 606.4h4.9M690.1 606.4h4.9M618.1 608h4.9M592.5 609.6h4.9M722.1 609.6h4.9M763.8 609.6h4.9M621.3 611.2h4.9M619.7 612.8h4.9M742.9 612.8h4.9M766.9 612.8h4.9M621.3 616h4.9M734.9 616h4.9M742.9 616h4.9M629.3 617.6h4.9M662.9 617.6h4.9M726.9 617.6h4.9M752.5 617.6h4.9M613.3 619.2h4.9M614.9 620.8h4.9M632.5 620.8h4.9M734.9 620.8h4.9M742.9 620.8h4.9M755.8 620.8h4.9M619.7 622.4h4.9M627.7 622.4h4.9M710.9 622.4h4.9M717.3 622.4h4.9M718.9 622.4h4.9M742.9 622.4h4.9M752.5 622.4h4.9M734.9 624h4.9M645.3 625.6h4.9M725.3 625.6h4.9M734.9 625.6h4.9M747.8 625.6h4.9M586.1 627.2h4.9M608.5 627.2h4.9M622.9 627.2h4.9M627.7 627.2h4.9M634.1 627.2h4.9M726.9 627.2h4.9M613.3 628.8h4.9M650.1 628.8h4.9M704.5 628.8h4.9M715.8 628.8h4.9M741.3 628.8h4.9M613.3 630.4h4.9M662.9 630.4h4.9M702.9 630.4h4.9M731.8 630.4h4.9M755.8 630.4h4.9M629.3 632h4.9M635.7 632h4.9M637.3 632h4.9M738.1 632h4.9M747.8 632h4.9M605.3 633.6h4.9M640.5 633.6h4.9M642.1 633.6h4.9M709.3 633.6h4.9M715.8 633.6h4.9M730.1 633.6h4.9M717.3 635.2h4.9M718.9 635.2h4.9M722.1 635.2h4.9M634.1 636.8h4.9M707.8 636.8h4.9M718.9 636.8h4.9M731.8 636.8h4.9M590.9 638.4h4.9M602.1 638.4h4.9M618.1 638.4h4.9M736.5 638.4h4.9M653.3 640h4.9M654.9 640h4.9M726.9 640h4.9M739.8 640h4.9M742.9 640h4.9M614.9 641.6h4.9M621.3 641.6h4.9M622.9 641.6h4.9M773.3 641.6h4.9M650.1 643.2h4.9M742.9 643.2h4.9M619.7 644.8h4.9M629.3 644.8h4.9M632.5 646.4h4.9M642.1 646.4h4.9M731.8 646.4h4.9M738.1 646.4h4.9M741.3 646.4h4.9M630.9 648h4.9M709.3 648h4.9M728.5 648h4.9M643.7 649.6h4.9M722.1 649.6h4.9M730.1 649.6h4.9M755.8 649.6h4.9M632.5 651.2h4.9M637.3 651.2h4.9M726.9 651.2h4.9M730.1 651.2h4.9M739.8 651.2h4.9M757.3 651.2h4.9M710.9 652.8h4.9M611.7 654.4h4.9M746.1 654.4h4.9M602.1 656h4.9M643.7 656h4.9M635.7 657.6h4.9M650.1 657.6h4.9M720.5 657.6h4.9M630.9 659.2h4.9M632.5 659.2h4.9M614.9 662.4h4.9M642.1 664h4.9M762.1 664h4.9M658.1 665.6h4.9M610.1 667.2h4.9M648.5 667.2h4.9M768.5 667.2h4.9M598.9 668.8h4.9M605.3 668.8h4.9M635.7 668.8h4.9M605.3 670.4h4.9M634.1 670.4h4.9M733.3 670.4h4.9M619.7 672h4.9M662.9 672h4.9M621.3 673.6h4.9M629.3 673.6h4.9M621.3 675.2h4.9M630.9 676.8h4.9M722.1 676.8h4.9M637.3 681.6h4.9M742.9 692.8h4.9M720.5 694.4h4.9M728.5 694.4h4.9M616.5 697.6h4.9M738.1 697.6h4.9M730.1 699.2h4.9M722.1 708.8h4.9M746.1 710.4h4.9M765.3 715.2h4.9M715.8 718.4h4.9M627.7 720h4.9M710.9 720h4.9M718.9 720h4.9M739.8 720h4.9M637.3 721.6h4.9M723.8 721.6h4.9M707.8 723.2h4.9M731.8 723.2h4.9M778.1 723.2h4.9M717.3 724.8h4.9M731.8 724.8h4.9M755.8 724.8h4.9M746.1 726.4h4.9M630.9 728h4.9M654.9 728h4.9M736.5 728h4.9M746.1 728h4.9M763.8 728h4.9M619.7 729.6h4.9M754.1 729.6h4.9M646.9 731.2h4.9M650.1 731.2h4.9M698.1 731.2h4.9M606.9 732.8h4.9M634.1 732.8h4.9M706.1 732.8h4.9M728.5 732.8h4.9M730.1 732.8h4.9M725.3 734.4h4.9M742.9 734.4h4.9M626.1 736h4.9M629.3 737.6h4.9M638.9 737.6h4.9M661.3 737.6h4.9M707.8 737.6h4.9M709.3 739.2h4.9M611.7 740.8h4.9M586.1 742.4h4.9M718.9 742.4h4.9M733.3 742.4h4.9M656.5 744h4.9M690.1 744h4.9M613.3 745.6h4.9M675.8 745.6h4.9M627.7 747.2h4.9M648.5 747.2h4.9M595.7 748.8h4.9M621.3 748.8h4.9M627.7 748.8h4.9M630.9 748.8h4.9M642.1 748.8h4.9M654.9 748.8h4.9M722.1 748.8h4.9M754.1 748.8h4.9M586.1 750.4h4.9M626.1 750.4h4.9M760.5 750.4h4.9M602.1 752h4.9M627.7 752h4.9M632.5 753.6h4.9M742.9 753.6h4.9M635.7 755.2h4.9M691.8 755.2h4.9M586.1 756.8h4.9M618.1 756.8h4.9M638.9 756.8h4.9M640.5 756.8h4.9M594.1 758.4h4.9M603.7 758.4h4.9M698.1 758.4h4.9M608.5 760h4.9M614.9 760h4.9M624.5 760h4.9M616.5 761.6h4.9M645.3 761.6h4.9M586.1 763.2h4.9M630.9 763.2h4.9M638.9 763.2h4.9M640.5 763.2h4.9M645.3 763.2h4.9M661.3 763.2h4.9M718.9 763.2h4.9M586.1 764.8h4.9M622.9 764.8h4.9M642.1 764.8h4.9M610.1 766.4h4.9M642.1 766.4h4.9M645.3 766.4h4.9M650.1 766.4h4.9M610.1 769.6h4.9M611.7 769.6h4.9M645.3 769.6h4.9M587.7 771.2h4.9M626.1 771.2h4.9M653.3 771.2h4.9M661.3 771.2h4.9M669.3 771.2h4.9M600.5 772.8h4.9M619.7 772.8h4.9M642.1 772.8h4.9M646.9 772.8h4.9M643.7 774.4h4.9M670.9 774.4h4.9M606.9 776h4.9M626.1 776h4.9M634.1 776h4.9M635.7 776h4.9M613.3 777.6h4.9M614.9 777.6h4.9M637.3 777.6h4.9M627.7 779.2h4.9M646.9 779.2h4.9M590.9 782.4h4.9M630.9 782.4h4.9M642.1 782.4h4.9M653.3 782.4h4.9M610.1 784h4.9M658.1 784h4.9M594.1 785.6h4.9M661.3 785.6h4.9M602.1 787.2h4.9M656.5 787.2h4.9M626.1 790.4h4.9M627.7 792h4.9M685.3 792h4.9M619.7 793.6h4.9M610.1 795.2h4.9M611.7 795.2h4.9M632.5 795.2h4.9M645.3 795.2h4.9M608.5 796.8h4.9M637.3 796.8h4.9M659.8 796.8h4.9M662.9 796.8h4.9M608.5 798.4h4.9M634.1 804.8h4.9" stroke="#ffa500" stroke-width="4.9" fill="none"/>
<path d="M741.3 603.2h4.9M722.1 614.4h4.9M726.9 614.4h4.9M626.1 616h4.9M741.3 620.8h4.9M626.1 625.6h4.9M738.1 625.6h4.9M765.3 633.6h4.9M586.1 635.2h4.9M611.7 641.6h4.9M629.3 641.6h4.9M741.3 641.6h4.9M714.1 646.4h4.9M610.1 648h4.9M734.9 648h4.9M648.5 651.2h4.9M635.7 652.8h4.9M728.5 654.4h4.9M613.3 656h4.9M650.1 659.2h4.9M678.9 691.2h4.9M725.3 712h4.9M752.5 713.6h4.9M730.1 736h4.9M608.5 753.6h4.9M659.8 755.2h4.9M643.7 758.4h4.9M640.5 760h4.9M624.5 763.2h4.9M659.8 763.2h4.9M614.9 768h4.9M619.7 768h4.9M661.3 769.6h4.9M632.5 771.2h4.9M602.1 779.2h4.9M654.9 780.8h4.9M614.9 784h4.9M586.1 792h4.9M635.7 796.8h4.9" stroke="#ff2200" stroke-width="4.9" fill="none"/>
<rect x="590.9" y="547.7" width="289.2" height="138.4" fill="none" stroke="#000" stroke-width="2.2"/>
<rect x="690.2" y="693.6" width="189.9" height="139.4" fill="none" stroke="#000" stroke-width="2.2"/>
<path d="M755.3 854.7v3.6M755.4 854.7v3.6M755.6 854.7v3.6M755.7 854.7v3.6M755.1 854.7v3.6M755 854.7v3.6M754.8 854.7v3.6M754.7 854.7v3.6" stroke="#000" stroke-width="1.3" fill="none"/>
<path d="M755.5 854.7v6.8M758 854.7v6.8M778.8 854.7v6.8M856.1 854.7v6.8M754.9 854.7v6.8M752.3 854.7v6.8M731.2 854.7v6.8M653.1 854.7v6.8" stroke="#000" stroke-width="1.7" fill="none"/>
<path d="M755.8 854.7v9.5M760.7 854.7v9.5M795.5 854.7v9.5M889.6 854.7v9.5M754.6 854.7v9.5M749.5 854.7v9.5M714.1 854.7v9.5M619.5 854.7v9.5" stroke="#000" stroke-width="2.4" fill="none"/>
<path d="M756.4 854.7v4.3M756.9 854.7v4.3M757.5 854.7v4.3M758.6 854.7v4.3M759.1 854.7v4.3M759.7 854.7v4.3M760.2 854.7v4.3M765.8 854.7v4.3M770.5 854.7v4.3M774.8 854.7v4.3M782.5 854.7v4.3M786.1 854.7v4.3M789.4 854.7v4.3M792.5 854.7v4.3M817.9 854.7v4.3M833.8 854.7v4.3M846.1 854.7v4.3M864.7 854.7v4.3M872 854.7v4.3M878.5 854.7v4.3M884.3 854.7v4.3M754 854.7v4.3M753.4 854.7v4.3M752.9 854.7v4.3M751.7 854.7v4.3M751.2 854.7v4.3M750.6 854.7v4.3M750.1 854.7v4.3M744.4 854.7v4.3M739.6 854.7v4.3M735.2 854.7v4.3M727.3 854.7v4.3M723.7 854.7v4.3M720.3 854.7v4.3M717.1 854.7v4.3M691.6 854.7v4.3M675.6 854.7v4.3M663.3 854.7v4.3M644.6 854.7v4.3M637.2 854.7v4.3M630.6 854.7v4.3M624.8 854.7v4.3" stroke="#000" stroke-width="1.2" fill="none"/>
<path d="M755.2 854.7v8.5" stroke="#000" stroke-width="2.6" fill="none"/>
<text x="619.5" y="878.7" font-size="13.4" font-weight="bold" text-anchor="middle">10<tspan font-size="9" dy="-4">4</tspan></text>
<text x="755.2" y="878.7" font-size="13.4" font-weight="bold" text-anchor="middle">0</text>
<text x="889.6" y="878.7" font-size="13.4" font-weight="bold" text-anchor="middle">10<tspan font-size="9" dy="-4">4</tspan></text>
<path d="M585.4 730.1h-3.6M585.4 730h-3.6M585.4 729.8h-3.6M585.4 729.7h-3.6M585.4 730.3h-3.6M585.4 730.4h-3.6M585.4 730.6h-3.6M585.4 730.7h-3.6" stroke="#000" stroke-width="1.3" fill="none"/>
<path d="M585.4 729.9h-6.8M585.4 727.2h-6.8M585.4 703.7h-6.8M585.4 634.9h-6.8M585.4 562.3h-6.8M585.4 730.5h-6.8M585.4 733.2h-6.8M585.4 756.3h-6.8M585.4 824.8h-6.8" stroke="#000" stroke-width="1.7" fill="none"/>
<path d="M585.4 729.6h-9.5M585.4 724.3h-9.5M585.4 684.6h-9.5M585.4 607.5h-9.5M585.4 542.2h-9.5M585.4 730.8h-9.5M585.4 736.1h-9.5M585.4 775h-9.5M585.4 852.2h-9.5" stroke="#000" stroke-width="2.4" fill="none"/>
<path d="M585.4 729h-4.3M585.4 728.4h-4.3M585.4 727.8h-4.3M585.4 726.6h-4.3M585.4 726h-4.3M585.4 725.4h-4.3M585.4 724.9h-4.3M585.4 718.5h-4.3M585.4 713.2h-4.3M585.4 708.3h-4.3M585.4 699.4h-4.3M585.4 695.4h-4.3M585.4 691.6h-4.3M585.4 688h-4.3M585.4 666.3h-4.3M585.4 653.3h-4.3M585.4 643.2h-4.3M585.4 627.9h-4.3M585.4 621.9h-4.3M585.4 616.6h-4.3M585.4 611.8h-4.3M585.4 588.5h-4.3M585.4 577h-4.3M585.4 568.8h-4.3M585.4 557.1h-4.3M585.4 552.6h-4.3M585.4 548.7h-4.3M585.4 545.3h-4.3M585.4 521.9h-4.3M585.4 731.4h-4.3M585.4 732h-4.3M585.4 732.6h-4.3M585.4 733.8h-4.3M585.4 734.4h-4.3M585.4 735h-4.3M585.4 735.5h-4.3M585.4 741.8h-4.3M585.4 747h-4.3M585.4 751.8h-4.3M585.4 760.5h-4.3M585.4 764.4h-4.3M585.4 768.1h-4.3M585.4 771.7h-4.3M585.4 793.4h-4.3M585.4 806.4h-4.3M585.4 816.5h-4.3M585.4 831.7h-4.3M585.4 837.8h-4.3M585.4 843.1h-4.3M585.4 847.9h-4.3" stroke="#000" stroke-width="1.2" fill="none"/>
<path d="M585.4 730.2h-8.5" stroke="#000" stroke-width="2.6" fill="none"/>
<text x="574.8" y="544.7" font-size="13.4" font-weight="bold" text-anchor="end">10<tspan font-size="9" dy="-4">5</tspan></text>
<text x="574.8" y="610" font-size="13.4" font-weight="bold" text-anchor="end">10<tspan font-size="9" dy="-4">4</tspan></text>
<text x="574.8" y="687.1" font-size="13.4" font-weight="bold" text-anchor="end">10<tspan font-size="9" dy="-4">3</tspan></text>
<text x="574.8" y="734.3" font-size="13.4" font-weight="bold" text-anchor="end">0</text>
<text x="574.8" y="777.5" font-size="13.4" font-weight="bold" text-anchor="end">-10<tspan font-size="9" dy="-4">3</tspan></text>
<text x="574.8" y="854.7" font-size="13.4" font-weight="bold" text-anchor="end">-10<tspan font-size="9" dy="-4">4</tspan></text>
<text x="584.6" y="510" font-size="27.2">CD45.1+</text>
<text x="816.7" y="576.6" font-size="28.6">41.4</text>
<text x="818.9" y="825.5" font-size="28.6">17.6</text>
<text x="754.3" y="905.6" font-size="28" text-anchor="middle">CD64 - BV711</text>
<text x="538.6" y="686.6" font-size="28" text-anchor="middle" transform="rotate(-90 538.6 686.6)">CCR2 - BV421</text>
<rect x="1056.4" y="517.8" width="340.6" height="338.6" fill="#fff" stroke="#3c3c3c" stroke-width="1.15"/>
<path d="M1137.7 561.7h4.9M1185.6 568.3h4.9M1176.3 571h4.9M1180.3 571h4.9M1183 571h4.9M1197.6 573.7h4.9M1254.8 573.7h4.9M1159 576.3h4.9M1313.3 577.6h4.9M1220.2 579h4.9M1177.6 580.3h4.9M1193.6 581.6h4.9M1298.7 583h4.9M1204.2 584.3h4.9M1296 584.3h4.9M1306.7 584.3h4.9M1306.7 585.6h4.9M1184.3 587h4.9M1188.3 587h4.9M1236.2 587h4.9M1248.1 587h4.9M1290.7 587h4.9M1139.1 588.3h4.9M1216.2 588.3h4.9M1163 590.9h4.9M1200.2 590.9h4.9M1205.6 590.9h4.9M1136.4 593.6h4.9M1190.9 593.6h4.9M1296 593.6h4.9M1330.6 594.9h4.9M1139.1 596.3h4.9M1160.4 596.3h4.9M1173.7 596.3h4.9M1272.1 596.3h4.9M1277.4 596.3h4.9M1175 597.6h4.9M1208.2 597.6h4.9M1242.8 597.6h4.9M1261.4 597.6h4.9M1312 597.6h4.9M1288 598.9h4.9M1140.4 600.3h4.9M1194.9 600.3h4.9M1221.5 600.3h4.9M1294.7 600.3h4.9M1314.6 600.3h4.9M1168.3 601.6h4.9M1288 601.6h4.9M1294.7 601.6h4.9M1298.7 601.6h4.9M1079.2 602.9h4.9M1249.5 602.9h4.9M1296 602.9h4.9M1297.3 602.9h4.9M1301.3 602.9h4.9M1149.7 604.2h4.9M1205.6 604.2h4.9M1209.6 604.2h4.9M1308 604.2h4.9M1104.5 605.6h4.9M1140.4 605.6h4.9M1210.9 605.6h4.9M1276.1 605.6h4.9M1286.7 605.6h4.9M1197.6 606.9h4.9M1292 606.9h4.9M1301.3 606.9h4.9M1202.9 608.2h4.9M1292 608.2h4.9M1301.3 608.2h4.9M1309.3 608.2h4.9M1184.3 609.6h4.9M1218.9 609.6h4.9M1220.2 609.6h4.9M1301.3 609.6h4.9M1306.7 609.6h4.9M1151 610.9h4.9M1193.6 610.9h4.9M1308 610.9h4.9M1309.3 610.9h4.9M1183 612.2h4.9M1196.3 612.2h4.9M1202.9 612.2h4.9M1209.6 612.2h4.9M1285.4 612.2h4.9M1304 612.2h4.9M1160.4 613.6h4.9M1224.2 613.6h4.9M1067.2 614.9h4.9M1188.3 614.9h4.9M1198.9 614.9h4.9M1288 614.9h4.9M1306.7 614.9h4.9M1308 614.9h4.9M1183 616.2h4.9M1201.6 616.2h4.9M1272.1 616.2h4.9M1293.4 616.2h4.9M1304 616.2h4.9M1308 616.2h4.9M1139.1 617.5h4.9M1171 617.5h4.9M1181.6 617.5h4.9M1196.3 617.5h4.9M1298.7 617.5h4.9M1306.7 617.5h4.9M1309.3 617.5h4.9M1177.6 618.9h4.9M1190.9 618.9h4.9M1218.9 618.9h4.9M1302.7 618.9h4.9M1201.6 620.2h4.9M1310.6 620.2h4.9M1108.5 621.5h4.9M1164.3 621.5h4.9M1194.9 621.5h4.9M1201.6 621.5h4.9M1205.6 621.5h4.9M1210.9 621.5h4.9M1292 621.5h4.9M1297.3 621.5h4.9M1305.3 621.5h4.9M1308 621.5h4.9M1171 622.9h4.9M1185.6 622.9h4.9M1197.6 622.9h4.9M1276.1 622.9h4.9M1302.7 622.9h4.9M1306.7 622.9h4.9M1308 622.9h4.9M1232.2 624.2h4.9M1294.7 624.2h4.9M1296 624.2h4.9M1308 624.2h4.9M1155 625.5h4.9M1156.4 625.5h4.9M1192.3 625.5h4.9M1196.3 625.5h4.9M1204.2 625.5h4.9M1208.2 625.5h4.9M1237.5 625.5h4.9M1296 625.5h4.9M1308 625.5h4.9M1193.6 626.9h4.9M1218.9 626.9h4.9M1230.8 626.9h4.9M1277.4 626.9h4.9M1320 626.9h4.9M1329.3 626.9h4.9M1144.4 628.2h4.9M1167 628.2h4.9M1180.3 628.2h4.9M1201.6 628.2h4.9M1206.9 628.2h4.9M1216.2 628.2h4.9M1218.9 628.2h4.9M1256.1 628.2h4.9M1296 628.2h4.9M1297.3 628.2h4.9M1300 628.2h4.9M1159 629.5h4.9M1164.3 629.5h4.9M1200.2 629.5h4.9M1208.2 629.5h4.9M1252.1 629.5h4.9M1298.7 629.5h4.9M1304 629.5h4.9M1314.6 629.5h4.9M1320 629.5h4.9M1213.5 630.8h4.9M1254.8 630.8h4.9M1285.4 630.8h4.9M1298.7 630.8h4.9M1304 630.8h4.9M1312 630.8h4.9M1313.3 630.8h4.9M1314.6 630.8h4.9M1177.6 632.2h4.9M1179 632.2h4.9M1183 632.2h4.9M1193.6 632.2h4.9M1208.2 632.2h4.9M1217.5 632.2h4.9M1220.2 632.2h4.9M1225.5 632.2h4.9M1229.5 632.2h4.9M1232.2 632.2h4.9M1253.5 632.2h4.9M1302.7 632.2h4.9M1309.3 632.2h4.9M1149.7 633.5h4.9M1184.3 633.5h4.9M1187 633.5h4.9M1192.3 633.5h4.9M1196.3 633.5h4.9M1210.9 633.5h4.9M1224.2 633.5h4.9M1228.2 633.5h4.9M1296 633.5h4.9M1144.4 634.8h4.9M1155 634.8h4.9M1163 634.8h4.9M1184.3 634.8h4.9M1201.6 634.8h4.9M1204.2 634.8h4.9M1214.9 634.8h4.9M1286.7 634.8h4.9M1300 634.8h4.9M1076.6 636.2h4.9M1157.7 636.2h4.9M1160.4 636.2h4.9M1177.6 636.2h4.9M1198.9 636.2h4.9M1205.6 636.2h4.9M1221.5 636.2h4.9M1222.9 636.2h4.9M1266.8 636.2h4.9M1277.4 636.2h4.9M1294.7 636.2h4.9M1296 636.2h4.9M1297.3 636.2h4.9M1302.7 636.2h4.9M1310.6 636.2h4.9M1121.8 637.5h4.9M1163 637.5h4.9M1189.6 637.5h4.9M1192.3 637.5h4.9M1193.6 637.5h4.9M1202.9 637.5h4.9M1208.2 637.5h4.9M1209.6 637.5h4.9M1280 637.5h4.9M1281.4 637.5h4.9M1294.7 637.5h4.9M1302.7 637.5h4.9M1305.3 637.5h4.9M1310.6 637.5h4.9M1079.2 638.8h4.9M1198.9 638.8h4.9M1262.8 638.8h4.9M1274.7 638.8h4.9M1294.7 638.8h4.9M1306.7 638.8h4.9M1113.8 640.2h4.9M1161.7 640.2h4.9M1164.3 640.2h4.9M1176.3 640.2h4.9M1229.5 640.2h4.9M1264.1 640.2h4.9M1276.1 640.2h4.9M1289.4 640.2h4.9M1290.7 640.2h4.9M1300 640.2h4.9M1301.3 640.2h4.9M1306.7 640.2h4.9M1153.7 641.5h4.9M1168.3 641.5h4.9M1189.6 641.5h4.9M1190.9 641.5h4.9M1205.6 641.5h4.9M1210.9 641.5h4.9M1250.8 641.5h4.9M1269.4 641.5h4.9M1273.4 641.5h4.9M1284 641.5h4.9M1289.4 641.5h4.9M1163 642.8h4.9M1187 642.8h4.9M1212.2 642.8h4.9M1249.5 642.8h4.9M1300 642.8h4.9M1301.3 642.8h4.9M1304 642.8h4.9M1306.7 642.8h4.9M1308 642.8h4.9M1317.3 642.8h4.9M1152.4 644.1h4.9M1167 644.1h4.9M1200.2 644.1h4.9M1204.2 644.1h4.9M1212.2 644.1h4.9M1214.9 644.1h4.9M1218.9 644.1h4.9M1250.8 644.1h4.9M1293.4 644.1h4.9M1297.3 644.1h4.9M1302.7 644.1h4.9M1131.1 645.5h4.9M1168.3 645.5h4.9M1193.6 645.5h4.9M1205.6 645.5h4.9M1228.2 645.5h4.9M1280 645.5h4.9M1284 645.5h4.9M1286.7 645.5h4.9M1296 645.5h4.9M1302.7 645.5h4.9M1172.3 646.8h4.9M1181.6 646.8h4.9M1183 646.8h4.9M1249.5 646.8h4.9M1285.4 646.8h4.9M1288 646.8h4.9M1290.7 646.8h4.9M1321.3 646.8h4.9M1183 648.1h4.9M1197.6 648.1h4.9M1200.2 648.1h4.9M1202.9 648.1h4.9M1208.2 648.1h4.9M1217.5 648.1h4.9M1226.9 648.1h4.9M1228.2 648.1h4.9M1242.8 648.1h4.9M1297.3 648.1h4.9M1298.7 648.1h4.9M1308 648.1h4.9M1310.6 648.1h4.9M1084.5 649.5h4.9M1163 649.5h4.9M1167 649.5h4.9M1184.3 649.5h4.9M1198.9 649.5h4.9M1202.9 649.5h4.9M1218.9 649.5h4.9M1296 649.5h4.9M1325.3 649.5h4.9M1149.7 650.8h4.9M1155 650.8h4.9M1183 650.8h4.9M1185.6 650.8h4.9M1194.9 650.8h4.9M1198.9 650.8h4.9M1222.9 650.8h4.9M1230.8 650.8h4.9M1232.2 650.8h4.9M1298.7 650.8h4.9M1300 650.8h4.9M1312 650.8h4.9M1316 650.8h4.9M1185.6 652.1h4.9M1198.9 652.1h4.9M1213.5 652.1h4.9M1218.9 652.1h4.9M1230.8 652.1h4.9M1293.4 652.1h4.9M1300 652.1h4.9M1305.3 652.1h4.9M1314.6 652.1h4.9M1136.4 653.5h4.9M1173.7 653.5h4.9M1185.6 653.5h4.9M1189.6 653.5h4.9M1212.2 653.5h4.9M1216.2 653.5h4.9M1297.3 653.5h4.9M1298.7 653.5h4.9M1306.7 653.5h4.9M1313.3 653.5h4.9M1316 653.5h4.9M1143.1 654.8h4.9M1179 654.8h4.9M1200.2 654.8h4.9M1205.6 654.8h4.9M1212.2 654.8h4.9M1285.4 654.8h4.9M1294.7 654.8h4.9M1312 654.8h4.9M1140.4 656.1h4.9M1143.1 656.1h4.9M1180.3 656.1h4.9M1192.3 656.1h4.9M1193.6 656.1h4.9M1197.6 656.1h4.9M1200.2 656.1h4.9M1209.6 656.1h4.9M1217.5 656.1h4.9M1229.5 656.1h4.9M1232.2 656.1h4.9M1115.1 657.4h4.9M1157.7 657.4h4.9M1212.2 657.4h4.9M1221.5 657.4h4.9M1254.8 657.4h4.9M1292 657.4h4.9M1296 657.4h4.9M1125.8 658.8h4.9M1156.4 658.8h4.9M1180.3 658.8h4.9M1216.2 658.8h4.9M1224.2 658.8h4.9M1233.5 658.8h4.9M1276.1 658.8h4.9M1120.5 660.1h4.9M1125.8 660.1h4.9M1200.2 660.1h4.9M1204.2 660.1h4.9M1206.9 660.1h4.9M1208.2 660.1h4.9M1297.3 660.1h4.9M1309.3 660.1h4.9M1312 660.1h4.9M1169.7 661.4h4.9M1179 661.4h4.9M1187 661.4h4.9M1188.3 661.4h4.9M1192.3 661.4h4.9M1221.5 661.4h4.9M1238.8 661.4h4.9M1245.5 661.4h4.9M1290.7 661.4h4.9M1071.2 662.8h4.9M1156.4 662.8h4.9M1175 662.8h4.9M1183 662.8h4.9M1205.6 662.8h4.9M1209.6 662.8h4.9M1236.2 662.8h4.9M1258.8 662.8h4.9M1304 662.8h4.9M1084.5 664.1h4.9M1091.2 664.1h4.9M1096.5 664.1h4.9M1175 664.1h4.9M1190.9 664.1h4.9M1202.9 664.1h4.9M1220.2 664.1h4.9M1249.5 664.1h4.9M1277.4 664.1h4.9M1289.4 664.1h4.9M1296 664.1h4.9M1298.7 664.1h4.9M1308 664.1h4.9M1119.1 665.4h4.9M1165.7 665.4h4.9M1185.6 665.4h4.9M1197.6 665.4h4.9M1198.9 665.4h4.9M1201.6 665.4h4.9M1204.2 665.4h4.9M1206.9 665.4h4.9M1216.2 665.4h4.9M1224.2 665.4h4.9M1237.5 665.4h4.9M1285.4 665.4h4.9M1298.7 665.4h4.9M1306.7 665.4h4.9M1312 665.4h4.9M1129.8 666.8h4.9M1136.4 666.8h4.9M1168.3 666.8h4.9M1179 666.8h4.9M1189.6 666.8h4.9M1200.2 666.8h4.9M1209.6 666.8h4.9M1222.9 666.8h4.9M1270.7 666.8h4.9M1321.3 666.8h4.9M1067.2 668.1h4.9M1089.9 668.1h4.9M1144.4 668.1h4.9M1169.7 668.1h4.9M1210.9 668.1h4.9M1213.5 668.1h4.9M1234.8 668.1h4.9M1285.4 668.1h4.9M1296 668.1h4.9M1185.6 669.4h4.9M1196.3 669.4h4.9M1210.9 669.4h4.9M1229.5 669.4h4.9M1065.9 670.8h4.9M1076.6 670.8h4.9M1095.2 670.8h4.9M1119.1 670.8h4.9M1177.6 670.8h4.9M1228.2 670.8h4.9M1269.4 670.8h4.9M1285.4 670.8h4.9M1099.2 672.1h4.9M1149.7 672.1h4.9M1169.7 672.1h4.9M1171 672.1h4.9M1196.3 672.1h4.9M1206.9 672.1h4.9M1225.5 672.1h4.9M1246.8 672.1h4.9M1248.1 672.1h4.9M1252.1 672.1h4.9M1092.5 673.4h4.9M1180.3 673.4h4.9M1184.3 673.4h4.9M1194.9 673.4h4.9M1197.6 673.4h4.9M1212.2 673.4h4.9M1217.5 673.4h4.9M1221.5 673.4h4.9M1163 674.7h4.9M1173.7 674.7h4.9M1201.6 674.7h4.9M1210.9 674.7h4.9M1214.9 674.7h4.9M1218.9 674.7h4.9M1232.2 674.7h4.9M1105.8 676.1h4.9M1157.7 676.1h4.9M1185.6 676.1h4.9M1200.2 676.1h4.9M1202.9 676.1h4.9M1205.6 676.1h4.9M1206.9 676.1h4.9M1213.5 676.1h4.9M1216.2 676.1h4.9M1285.4 676.1h4.9M1302.7 676.1h4.9M1304 676.1h4.9M1128.4 677.4h4.9M1147 677.4h4.9M1148.4 677.4h4.9M1157.7 677.4h4.9M1185.6 677.4h4.9M1197.6 677.4h4.9M1200.2 677.4h4.9M1206.9 677.4h4.9M1210.9 677.4h4.9M1214.9 677.4h4.9M1220.2 677.4h4.9M1292 677.4h4.9M1109.8 678.7h4.9M1176.3 678.7h4.9M1181.6 678.7h4.9M1194.9 678.7h4.9M1206.9 678.7h4.9M1230.8 678.7h4.9M1257.4 678.7h4.9M1273.4 678.7h4.9M1298.7 678.7h4.9M1305.3 678.7h4.9M1125.8 680.1h4.9M1148.4 680.1h4.9M1193.6 680.1h4.9M1200.2 680.1h4.9M1201.6 680.1h4.9M1212.2 680.1h4.9M1213.5 680.1h4.9M1224.2 680.1h4.9M1234.8 680.1h4.9M1273.4 680.1h4.9M1290.7 680.1h4.9M1172.3 681.4h4.9M1180.3 681.4h4.9M1208.2 681.4h4.9M1214.9 681.4h4.9M1249.5 681.4h4.9M1264.1 681.4h4.9M1128.4 682.7h4.9M1145.7 682.7h4.9M1155 682.7h4.9M1181.6 682.7h4.9M1188.3 682.7h4.9M1193.6 682.7h4.9M1197.6 682.7h4.9M1208.2 682.7h4.9M1209.6 682.7h4.9M1214.9 682.7h4.9M1217.5 682.7h4.9M1250.8 682.7h4.9M1264.1 682.7h4.9M1296 682.7h4.9M1300 682.7h4.9M1313.3 682.7h4.9M1144.4 684h4.9M1176.3 684h4.9M1181.6 684h4.9M1189.6 684h4.9M1220.2 684h4.9M1229.5 684h4.9M1277.4 684h4.9M1280 684h4.9M1313.3 684h4.9M1151 685.4h4.9M1163 685.4h4.9M1189.6 685.4h4.9M1220.2 685.4h4.9M1228.2 685.4h4.9M1249.5 685.4h4.9M1282.7 685.4h4.9M1312 685.4h4.9M1124.4 686.7h4.9M1157.7 686.7h4.9M1184.3 686.7h4.9M1192.3 686.7h4.9M1193.6 686.7h4.9M1196.3 686.7h4.9M1213.5 686.7h4.9M1224.2 686.7h4.9M1225.5 686.7h4.9M1117.8 688h4.9M1167 688h4.9M1176.3 688h4.9M1184.3 688h4.9M1185.6 688h4.9M1190.9 688h4.9M1204.2 688h4.9M1217.5 688h4.9M1240.2 688h4.9M1258.8 688h4.9M1342.6 688h4.9M1172.3 689.4h4.9M1176.3 689.4h4.9M1192.3 689.4h4.9M1198.9 689.4h4.9M1205.6 689.4h4.9M1212.2 689.4h4.9M1245.5 689.4h4.9M1262.8 689.4h4.9M1176.3 690.7h4.9M1188.3 690.7h4.9M1192.3 690.7h4.9M1198.9 690.7h4.9M1202.9 690.7h4.9M1209.6 690.7h4.9M1210.9 690.7h4.9M1216.2 690.7h4.9M1217.5 690.7h4.9M1222.9 690.7h4.9M1244.1 690.7h4.9M1301.3 690.7h4.9M1116.5 692h4.9M1140.4 692h4.9M1164.3 692h4.9M1185.6 692h4.9M1189.6 692h4.9M1209.6 692h4.9M1216.2 692h4.9M1218.9 692h4.9M1262.8 692h4.9M1273.4 692h4.9M1175 693.4h4.9M1189.6 693.4h4.9M1196.3 693.4h4.9M1213.5 693.4h4.9M1264.1 693.4h4.9M1277.4 693.4h4.9M1091.2 694.7h4.9M1135.1 694.7h4.9M1136.4 694.7h4.9M1163 694.7h4.9M1171 694.7h4.9M1192.3 694.7h4.9M1194.9 694.7h4.9M1200.2 694.7h4.9M1205.6 694.7h4.9M1208.2 694.7h4.9M1210.9 694.7h4.9M1220.2 694.7h4.9M1232.2 694.7h4.9M1234.8 694.7h4.9M1241.5 694.7h4.9M1080.5 696h4.9M1125.8 696h4.9M1155 696h4.9M1175 696h4.9M1177.6 696h4.9M1190.9 696h4.9M1198.9 696h4.9M1212.2 696h4.9M1221.5 697.3h4.9M1228.2 697.3h4.9M1234.8 697.3h4.9M1304 697.3h4.9M1175 698.7h4.9M1216.2 698.7h4.9M1228.2 698.7h4.9M1233.5 698.7h4.9M1288 698.7h4.9M1180.3 700h4.9M1188.3 700h4.9M1196.3 700h4.9M1212.2 700h4.9M1286.7 700h4.9M1080.5 701.3h4.9M1173.7 701.3h4.9M1177.6 701.3h4.9M1180.3 701.3h4.9M1181.6 701.3h4.9M1190.9 701.3h4.9M1194.9 701.3h4.9M1198.9 701.3h4.9M1200.2 701.3h4.9M1210.9 701.3h4.9M1213.5 701.3h4.9M1214.9 701.3h4.9M1135.1 702.7h4.9M1137.7 702.7h4.9M1152.4 702.7h4.9M1153.7 702.7h4.9M1157.7 702.7h4.9M1175 702.7h4.9M1198.9 702.7h4.9M1201.6 702.7h4.9M1217.5 702.7h4.9M1224.2 702.7h4.9M1236.2 702.7h4.9M1238.8 702.7h4.9M1272.1 702.7h4.9M1169.7 704h4.9M1187 704h4.9M1192.3 704h4.9M1198.9 704h4.9M1202.9 704h4.9M1306.7 704h4.9M1116.5 705.3h4.9M1149.7 705.3h4.9M1188.3 705.3h4.9M1189.6 705.3h4.9M1193.6 705.3h4.9M1208.2 705.3h4.9M1300 705.3h4.9M1206.9 706.7h4.9M1217.5 706.7h4.9M1222.9 706.7h4.9M1308 706.7h4.9M1157.7 708h4.9M1176.3 708h4.9M1189.6 708h4.9M1198.9 708h4.9M1224.2 708h4.9M1226.9 708h4.9M1229.5 708h4.9M1187 709.3h4.9M1201.6 709.3h4.9M1208.2 709.3h4.9M1210.9 709.3h4.9M1252.1 709.3h4.9M1285.4 709.3h4.9M1198.9 710.6h4.9M1200.2 710.6h4.9M1202.9 710.6h4.9M1208.2 710.6h4.9M1226.9 710.6h4.9M1230.8 710.6h4.9M1277.4 710.6h4.9M1284 710.6h4.9M1304 710.6h4.9M1306.7 710.6h4.9M1180.3 712h4.9M1181.6 712h4.9M1193.6 712h4.9M1200.2 712h4.9M1202.9 712h4.9M1204.2 712h4.9M1208.2 712h4.9M1236.2 712h4.9M1281.4 712h4.9M1312 712h4.9M1128.4 713.3h4.9M1185.6 713.3h4.9M1187 713.3h4.9M1189.6 713.3h4.9M1200.2 713.3h4.9M1201.6 713.3h4.9M1210.9 713.3h4.9M1228.2 713.3h4.9M1230.8 713.3h4.9M1095.2 714.6h4.9M1105.8 714.6h4.9M1198.9 714.6h4.9M1202.9 714.6h4.9M1204.2 714.6h4.9M1206.9 714.6h4.9M1214.9 714.6h4.9M1218.9 714.6h4.9M1292 714.6h4.9M1128.4 716h4.9M1161.7 716h4.9M1179 716h4.9M1188.3 716h4.9M1201.6 716h4.9M1208.2 716h4.9M1209.6 716h4.9M1212.2 716h4.9M1103.2 717.3h4.9M1133.8 717.3h4.9M1152.4 717.3h4.9M1192.3 717.3h4.9M1198.9 717.3h4.9M1202.9 717.3h4.9M1205.6 717.3h4.9M1206.9 717.3h4.9M1220.2 717.3h4.9M1225.5 717.3h4.9M1305.3 717.3h4.9M1100.5 718.6h4.9M1121.8 718.6h4.9M1196.3 718.6h4.9M1197.6 718.6h4.9M1198.9 718.6h4.9M1208.2 718.6h4.9M1218.9 718.6h4.9M1281.4 718.6h4.9M1125.8 720h4.9M1202.9 720h4.9M1206.9 720h4.9M1212.2 720h4.9M1218.9 720h4.9M1232.2 720h4.9M1265.4 720h4.9M1298.7 720h4.9M1161.7 721.3h4.9M1168.3 721.3h4.9M1184.3 721.3h4.9M1193.6 721.3h4.9M1198.9 721.3h4.9M1204.2 721.3h4.9M1210.9 721.3h4.9M1213.5 721.3h4.9M1214.9 721.3h4.9M1272.1 721.3h4.9M1284 721.3h4.9M1301.3 721.3h4.9M1115.1 722.6h4.9M1121.8 722.6h4.9M1188.3 722.6h4.9M1218.9 722.6h4.9M1220.2 722.6h4.9M1221.5 722.6h4.9M1237.5 722.6h4.9M1272.1 722.6h4.9M1302.7 722.6h4.9M1141.7 723.9h4.9M1168.3 723.9h4.9M1184.3 723.9h4.9M1194.9 723.9h4.9M1202.9 723.9h4.9M1213.5 723.9h4.9M1216.2 723.9h4.9M1309.3 723.9h4.9M1312 723.9h4.9M1172.3 725.3h4.9M1183 725.3h4.9M1184.3 725.3h4.9M1188.3 725.3h4.9M1189.6 725.3h4.9M1196.3 725.3h4.9M1197.6 725.3h4.9M1201.6 725.3h4.9M1206.9 725.3h4.9M1221.5 725.3h4.9M1238.8 725.3h4.9M1245.5 725.3h4.9M1280 725.3h4.9M1173.7 726.6h4.9M1177.6 726.6h4.9M1213.5 726.6h4.9M1216.2 726.6h4.9M1222.9 726.6h4.9M1226.9 726.6h4.9M1229.5 726.6h4.9M1284 726.6h4.9M1116.5 727.9h4.9M1132.4 727.9h4.9M1148.4 727.9h4.9M1196.3 727.9h4.9M1202.9 727.9h4.9M1204.2 727.9h4.9M1210.9 727.9h4.9M1214.9 727.9h4.9M1217.5 727.9h4.9M1225.5 727.9h4.9M1297.3 727.9h4.9M1089.9 729.3h4.9M1181.6 729.3h4.9M1185.6 729.3h4.9M1192.3 729.3h4.9M1193.6 729.3h4.9M1197.6 729.3h4.9M1201.6 729.3h4.9M1234.8 729.3h4.9M1245.5 729.3h4.9M1210.9 730.6h4.9M1188.3 731.9h4.9M1201.6 731.9h4.9M1205.6 731.9h4.9M1217.5 731.9h4.9M1220.2 731.9h4.9M1222.9 731.9h4.9M1181.6 733.3h4.9M1198.9 733.3h4.9M1202.9 733.3h4.9M1120.5 734.6h4.9M1128.4 734.6h4.9M1176.3 734.6h4.9M1185.6 734.6h4.9M1198.9 734.6h4.9M1200.2 734.6h4.9M1201.6 734.6h4.9M1222.9 734.6h4.9M1228.2 734.6h4.9M1256.1 734.6h4.9M1272.1 734.6h4.9M1305.3 734.6h4.9M1149.7 735.9h4.9M1161.7 735.9h4.9M1193.6 735.9h4.9M1224.2 735.9h4.9M1276.1 735.9h4.9M1104.5 737.2h4.9M1115.1 737.2h4.9M1173.7 737.2h4.9M1205.6 737.2h4.9M1213.5 737.2h4.9M1226.9 737.2h4.9M1280 737.2h4.9M1127.1 738.6h4.9M1152.4 738.6h4.9M1185.6 738.6h4.9M1206.9 738.6h4.9M1156.4 739.9h4.9M1165.7 739.9h4.9M1167 739.9h4.9M1173.7 739.9h4.9M1176.3 739.9h4.9M1193.6 739.9h4.9M1237.5 739.9h4.9M1273.4 739.9h4.9M1284 739.9h4.9M1172.3 741.2h4.9M1183 741.2h4.9M1188.3 741.2h4.9M1196.3 741.2h4.9M1214.9 741.2h4.9M1229.5 741.2h4.9M1285.4 741.2h4.9M1121.8 742.6h4.9M1151 742.6h4.9M1181.6 742.6h4.9M1188.3 742.6h4.9M1192.3 742.6h4.9M1217.5 742.6h4.9M1252.1 742.6h4.9M1253.5 742.6h4.9M1097.8 743.9h4.9M1115.1 743.9h4.9M1137.7 743.9h4.9M1153.7 743.9h4.9M1160.4 743.9h4.9M1197.6 743.9h4.9M1202.9 743.9h4.9M1204.2 743.9h4.9M1208.2 743.9h4.9M1212.2 743.9h4.9M1218.9 743.9h4.9M1230.8 743.9h4.9M1153.7 745.2h4.9M1164.3 745.2h4.9M1165.7 745.2h4.9M1168.3 745.2h4.9M1177.6 745.2h4.9M1196.3 745.2h4.9M1220.2 745.2h4.9M1225.5 745.2h4.9M1305.3 745.2h4.9M1109.8 746.6h4.9M1116.5 746.6h4.9M1214.9 746.6h4.9M1217.5 746.6h4.9M1220.2 746.6h4.9M1222.9 746.6h4.9M1214.9 747.9h4.9M1217.5 747.9h4.9M1221.5 747.9h4.9M1282.7 747.9h4.9M1159 749.2h4.9M1167 749.2h4.9M1189.6 749.2h4.9M1198.9 749.2h4.9M1214.9 749.2h4.9M1225.5 749.2h4.9M1129.8 750.5h4.9M1173.7 750.5h4.9M1225.5 750.5h4.9M1298.7 750.5h4.9M1300 750.5h4.9M1325.3 750.5h4.9M1117.8 751.9h4.9M1189.6 751.9h4.9M1192.3 751.9h4.9M1193.6 751.9h4.9M1196.3 751.9h4.9M1202.9 751.9h4.9M1204.2 751.9h4.9M1205.6 751.9h4.9M1206.9 751.9h4.9M1216.2 751.9h4.9M1157.7 753.2h4.9M1201.6 753.2h4.9M1308 753.2h4.9M1164.3 754.5h4.9M1217.5 754.5h4.9M1226.9 754.5h4.9M1229.5 754.5h4.9M1274.7 754.5h4.9M1280 754.5h4.9M1152.4 755.9h4.9M1193.6 755.9h4.9M1200.2 755.9h4.9M1238.8 755.9h4.9M1155 757.2h4.9M1157.7 757.2h4.9M1173.7 757.2h4.9M1192.3 757.2h4.9M1213.5 757.2h4.9M1216.2 757.2h4.9M1222.9 757.2h4.9M1133.8 758.5h4.9M1171 758.5h4.9M1187 758.5h4.9M1204.2 758.5h4.9M1218.9 758.5h4.9M1220.2 758.5h4.9M1225.5 758.5h4.9M1240.2 758.5h4.9M1273.4 758.5h4.9M1167 759.9h4.9M1171 759.9h4.9M1179 759.9h4.9M1209.6 759.9h4.9M1213.5 759.9h4.9M1284 759.9h4.9M1148.4 761.2h4.9M1197.6 761.2h4.9M1212.2 761.2h4.9M1253.5 761.2h4.9M1278.7 761.2h4.9M1284 761.2h4.9M1297.3 761.2h4.9M1084.5 762.5h4.9M1097.8 762.5h4.9M1167 762.5h4.9M1193.6 762.5h4.9M1190.9 763.8h4.9M1197.6 763.8h4.9M1198.9 763.8h4.9M1092.5 765.2h4.9M1111.1 765.2h4.9M1177.6 765.2h4.9M1181.6 765.2h4.9M1188.3 765.2h4.9M1214.9 765.2h4.9M1237.5 765.2h4.9M1317.3 765.2h4.9M1089.9 766.5h4.9M1167 766.5h4.9M1188.3 766.5h4.9M1200.2 766.5h4.9M1202.9 766.5h4.9M1149.7 767.8h4.9M1189.6 767.8h4.9M1217.5 767.8h4.9M1159 769.2h4.9M1172.3 769.2h4.9M1187 769.2h4.9M1229.5 769.2h4.9M1304 769.2h4.9M1232.2 770.5h4.9M1252.1 770.5h4.9M1286.7 770.5h4.9M1298.7 770.5h4.9M1193.6 771.8h4.9M1197.6 771.8h4.9M1188.3 773.2h4.9M1204.2 773.2h4.9M1208.2 773.2h4.9M1213.5 773.2h4.9M1268.1 773.2h4.9M1288 773.2h4.9M1210.9 774.5h4.9M1212.2 774.5h4.9M1286.7 774.5h4.9M1141.7 775.8h4.9M1180.3 775.8h4.9M1181.6 775.8h4.9M1268.1 775.8h4.9M1288 775.8h4.9M1301.3 775.8h4.9M1185.6 777.1h4.9M1212.2 777.1h4.9M1285.4 777.1h4.9M1176.3 778.5h4.9M1179 778.5h4.9M1206.9 778.5h4.9M1270.7 778.5h4.9M1284 778.5h4.9M1316 778.5h4.9M1159 779.8h4.9M1193.6 779.8h4.9M1217.5 779.8h4.9M1242.8 779.8h4.9M1284 779.8h4.9M1285.4 779.8h4.9M1141.7 781.1h4.9M1300 781.1h4.9M1095.2 782.5h4.9M1202.9 782.5h4.9M1206.9 782.5h4.9M1196.3 783.8h4.9M1197.6 783.8h4.9M1201.6 783.8h4.9M1206.9 783.8h4.9M1277.4 783.8h4.9M1297.3 783.8h4.9M1200.2 785.1h4.9M1206.9 785.1h4.9M1218.9 785.1h4.9M1169.7 786.5h4.9M1198.9 786.5h4.9M1206.9 786.5h4.9M1260.1 786.5h4.9M1198.9 787.8h4.9M1222.9 787.8h4.9M1072.6 789.1h4.9M1282.7 789.1h4.9M1209.6 790.5h4.9M1222.9 790.5h4.9M1224.2 790.5h4.9M1284 790.5h4.9M1285.4 790.5h4.9M1193.6 791.8h4.9M1290.7 791.8h4.9M1200.2 793.1h4.9M1254.8 793.1h4.9M1277.4 793.1h4.9M1302.7 793.1h4.9M1117.8 794.4h4.9M1175 794.4h4.9M1201.6 794.4h4.9M1168.3 795.8h4.9M1187 795.8h4.9M1222.9 795.8h4.9M1240.2 795.8h4.9M1179 797.1h4.9M1196.3 797.1h4.9M1198.9 797.1h4.9M1218.9 797.1h4.9M1277.4 797.1h4.9M1300 797.1h4.9M1198.9 798.4h4.9M1202.9 798.4h4.9M1236.2 798.4h4.9M1248.1 798.4h4.9M1137.7 799.8h4.9M1198.9 799.8h4.9M1216.2 799.8h4.9M1288 799.8h4.9M1296 799.8h4.9M1297.3 799.8h4.9M1201.6 801.1h4.9M1214.9 801.1h4.9M1240.2 801.1h4.9M1153.7 802.4h4.9M1225.5 802.4h4.9M1097.8 803.8h4.9M1204.2 803.8h4.9M1205.6 803.8h4.9M1234.8 803.8h4.9M1298.7 803.8h4.9M1171 805.1h4.9M1188.3 805.1h4.9M1214.9 805.1h4.9M1237.5 805.1h4.9M1105.8 806.4h4.9M1197.6 806.4h4.9M1236.2 806.4h4.9M1237.5 806.4h4.9M1288 806.4h4.9M1136.4 807.7h4.9M1194.9 807.7h4.9M1216.2 807.7h4.9M1183 809.1h4.9M1202.9 810.4h4.9M1205.6 811.7h4.9M1131.1 813.1h4.9M1192.3 813.1h4.9M1208.2 813.1h4.9M1183 815.7h4.9M1206.9 815.7h4.9M1220.2 815.7h4.9M1159 817h4.9M1212.2 817h4.9M1284 817h4.9M1241.5 818.4h4.9M1248.1 818.4h4.9M1249.5 818.4h4.9M1167 819.7h4.9M1196.3 821h4.9M1224.2 821h4.9M1257.4 821h4.9M1218.9 822.4h4.9M1288 822.4h4.9M1188.3 823.7h4.9M1281.4 823.7h4.9M1289.4 823.7h4.9M1327.9 823.7h4.9M1236.2 825h4.9M1238.8 825h4.9M1248.1 825h4.9M1208.2 826.4h4.9M1216.2 826.4h4.9M1284 826.4h4.9M1308 826.4h4.9M1268.1 827.7h4.9M1200.2 829h4.9M1323.9 830.3h4.9M1238.8 831.7h4.9M1269.4 831.7h4.9M1177.6 833h4.9M1230.8 833h4.9M1282.7 833h4.9M1278.7 835.7h4.9M1177.6 837h4.9M1208.2 838.3h4.9M1265.4 838.3h4.9M1216.2 839.7h4.9M1317.3 839.7h4.9M1155 841h4.9M1214.9 841h4.9M1190.9 842.3h4.9M1264.1 843.6h4.9M1300 843.6h4.9M1281.4 845h4.9M1164.3 846.3h4.9M1209.6 850.3h4.9M1201.6 853h4.9" stroke="#0000ff" stroke-width="4.9" fill="none"/>
<path d="M1301.3 620.2h4.9M1216.2 624.2h4.9M1316 633.5h4.9M1226.9 646.8h4.9M1293.4 646.8h4.9M1192.3 648.1h4.9M1204.2 649.5h4.9M1314.6 650.8h4.9M1313.3 652.1h4.9M1210.9 656.1h4.9M1183 658.8h4.9M1214.9 662.8h4.9M1244.1 662.8h4.9M1189.6 664.1h4.9M1188.3 666.8h4.9M1202.9 666.8h4.9M1171 669.4h4.9M1193.6 669.4h4.9M1190.9 670.8h4.9M1210.9 672.1h4.9M1213.5 673.4h4.9M1281.4 673.4h4.9M1209.6 674.7h4.9M1221.5 674.7h4.9M1187 678.7h4.9M1197.6 678.7h4.9M1314.6 680.1h4.9M1177.6 681.4h4.9M1212.2 682.7h4.9M1208.2 685.4h4.9M1212.2 685.4h4.9M1212.2 688h4.9M1222.9 697.3h4.9M1208.2 698.7h4.9M1148.4 700h4.9M1190.9 702.7h4.9M1216.2 704h4.9M1206.9 710.6h4.9M1177.6 725.3h4.9M1210.9 726.6h4.9M1205.6 729.3h4.9M1217.5 733.3h4.9M1208.2 735.9h4.9M1208.2 737.2h4.9M1286.7 739.9h4.9M1221.5 749.2h4.9M1209.6 753.2h4.9M1212.2 753.2h4.9M1205.6 754.5h4.9M1198.9 761.2h4.9M1208.2 762.5h4.9M1169.7 769.2h4.9M1212.2 769.2h4.9M1213.5 770.5h4.9M1281.4 791.8h4.9M1308 795.8h4.9M1210.9 799.8h4.9M1202.9 831.7h4.9" stroke="#ff4500" stroke-width="4.9" fill="none"/>
<path d="M1212.2 717.3h4.9" stroke="#ff0000" stroke-width="4.9" fill="none"/>
<path d="M1254.3 517.8V856.4M1056.4 668.4H1397" stroke="#000" stroke-width="2.2" fill="none"/>
<path d="M1148.8 856.4v3.6M1150.2 856.4v3.6M1151.5 856.4v3.6M1152.6 856.4v3.6M1154.8 856.4v3.6M1155.7 856.4v3.6M1156.6 856.4v3.6M1157.5 856.4v3.6M1145.8 856.4v3.6M1144.4 856.4v3.6M1143.1 856.4v3.6M1142 856.4v3.6M1139.8 856.4v3.6M1138.9 856.4v3.6M1138 856.4v3.6M1137.1 856.4v3.6" stroke="#000" stroke-width="1.3" fill="none"/>
<path d="M1153.7 856.4v6.8M1191 856.4v6.8M1249.6 856.4v6.8M1305 856.4v6.8M1356.7 856.4v6.8M1140.9 856.4v6.8M1104.1 856.4v6.8" stroke="#000" stroke-width="1.7" fill="none"/>
<path d="M1158.3 856.4v9.5M1209.1 856.4v9.5M1267.6 856.4v9.5M1321.1 856.4v9.5M1372.1 856.4v9.5M1136.3 856.4v9.5M1086.4 856.4v9.5" stroke="#000" stroke-width="2.4" fill="none"/>
<path d="M1170.4 856.4v4.3M1179 856.4v4.3M1185.6 856.4v4.3M1195.6 856.4v4.3M1199.6 856.4v4.3M1203.1 856.4v4.3M1206.3 856.4v4.3M1226.2 856.4v4.3M1236.4 856.4v4.3M1243.8 856.4v4.3M1254.3 856.4v4.3M1258.3 856.4v4.3M1261.8 856.4v4.3M1264.8 856.4v4.3M1283.7 856.4v4.3M1293.1 856.4v4.3M1299.8 856.4v4.3M1309.2 856.4v4.3M1312.8 856.4v4.3M1315.9 856.4v4.3M1318.6 856.4v4.3M1336.4 856.4v4.3M1345.4 856.4v4.3M1351.8 856.4v4.3M1360.8 856.4v4.3M1364.2 856.4v4.3M1367.2 856.4v4.3M1369.8 856.4v4.3M1387.5 856.4v4.3M1124.4 856.4v4.3M1116 856.4v4.3M1109.5 856.4v4.3M1099.6 856.4v4.3M1095.7 856.4v4.3M1092.3 856.4v4.3M1089.2 856.4v4.3M1067.5 856.4v4.3" stroke="#000" stroke-width="1.2" fill="none"/>
<path d="M1147.3 856.4v8.5" stroke="#000" stroke-width="2.6" fill="none"/>
<text x="1086.4" y="880.4" font-size="13.4" font-weight="bold" text-anchor="middle">-10<tspan font-size="9" dy="-4">2</tspan></text>
<text x="1147.3" y="880.4" font-size="13.4" font-weight="bold" text-anchor="middle">0</text>
<text x="1209.1" y="880.4" font-size="13.4" font-weight="bold" text-anchor="middle">10<tspan font-size="9" dy="-4">2</tspan></text>
<text x="1267.6" y="880.4" font-size="13.4" font-weight="bold" text-anchor="middle">10<tspan font-size="9" dy="-4">3</tspan></text>
<text x="1321.1" y="880.4" font-size="13.4" font-weight="bold" text-anchor="middle">10<tspan font-size="9" dy="-4">4</tspan></text>
<text x="1372.1" y="880.4" font-size="13.4" font-weight="bold" text-anchor="middle">10<tspan font-size="9" dy="-4">5</tspan></text>
<path d="M1056.4 723.5h-8.5" stroke="#000" stroke-width="2.6" fill="none"/>
<path d="M1056.4 723.4h-3.6M1056.4 723.2h-3.6M1056.4 723.6h-3.6M1056.4 723.8h-3.6" stroke="#000" stroke-width="1.3" fill="none"/>
<path d="M1056.4 723.3h-6.8M1056.4 721.5h-6.8M1056.4 704.8h-6.8M1056.4 639.6h-6.8M1056.4 564.7h-6.8M1056.4 723.7h-6.8M1056.4 725.5h-6.8M1056.4 741.4h-6.8M1056.4 805h-6.8" stroke="#000" stroke-width="1.7" fill="none"/>
<path d="M1056.4 723.1h-9.5M1056.4 719.5h-9.5M1056.4 691.1h-9.5M1056.4 611.2h-9.5M1056.4 544h-9.5M1056.4 723.9h-9.5M1056.4 727.5h-9.5M1056.4 754.3h-9.5M1056.4 833h-9.5" stroke="#000" stroke-width="2.4" fill="none"/>
<path d="M1056.4 722.7h-4.3M1056.4 722.3h-4.3M1056.4 721.9h-4.3M1056.4 721.1h-4.3M1056.4 720.7h-4.3M1056.4 720.3h-4.3M1056.4 719.9h-4.3M1056.4 715.4h-4.3M1056.4 711.6h-4.3M1056.4 708h-4.3M1056.4 701.7h-4.3M1056.4 698.8h-4.3M1056.4 696.1h-4.3M1056.4 693.5h-4.3M1056.4 672.1h-4.3M1056.4 658.6h-4.3M1056.4 648.2h-4.3M1056.4 632.4h-4.3M1056.4 626.1h-4.3M1056.4 620.6h-4.3M1056.4 615.7h-4.3M1056.4 591.6h-4.3M1056.4 579.8h-4.3M1056.4 571.3h-4.3M1056.4 559.3h-4.3M1056.4 554.7h-4.3M1056.4 550.7h-4.3M1056.4 547.2h-4.3M1056.4 523.1h-4.3M1056.4 724.3h-4.3M1056.4 724.7h-4.3M1056.4 725.1h-4.3M1056.4 725.9h-4.3M1056.4 726.3h-4.3M1056.4 726.7h-4.3M1056.4 727.1h-4.3M1056.4 731.4h-4.3M1056.4 735h-4.3M1056.4 738.3h-4.3M1056.4 744.3h-4.3M1056.4 747h-4.3M1056.4 749.6h-4.3M1056.4 752h-4.3M1056.4 773h-4.3M1056.4 786.3h-4.3M1056.4 796.6h-4.3M1056.4 812.1h-4.3M1056.4 818.3h-4.3M1056.4 823.7h-4.3M1056.4 828.6h-4.3" stroke="#000" stroke-width="1.2" fill="none"/>
<text x="1045.8" y="546.5" font-size="13.4" font-weight="bold" text-anchor="end">10<tspan font-size="9" dy="-4">5</tspan></text>
<text x="1045.8" y="613.7" font-size="13.4" font-weight="bold" text-anchor="end">10<tspan font-size="9" dy="-4">4</tspan></text>
<text x="1045.8" y="693.6" font-size="13.4" font-weight="bold" text-anchor="end">10<tspan font-size="9" dy="-4">3</tspan></text>
<text x="1045.8" y="727.6" font-size="13.4" font-weight="bold" text-anchor="end">0</text>
<text x="1045.8" y="756.8" font-size="13.4" font-weight="bold" text-anchor="end">-10<tspan font-size="9" dy="-4">3</tspan></text>
<text x="1045.8" y="835.5" font-size="13.4" font-weight="bold" text-anchor="end">-10<tspan font-size="9" dy="-4">4</tspan></text>
<text x="1055.1" y="511.9" font-size="27.2">CCR2+</text>
<text x="1058.5" y="541.7" font-size="28.6">32.4</text>
<text x="1339.5" y="541.7" font-size="28.6">29.3</text>
<text x="1337.3" y="849.7" font-size="28.6">30.2</text>
<text x="1226.4" y="909.4" font-size="28" text-anchor="middle">MHC II - AF700</text>
<text x="1014.3" y="687.9" font-size="28" text-anchor="middle" transform="rotate(-90 1014.3 687.9)">Ly6C - PerCP/Cy5.5</text>
<rect x="1527.6" y="516.8" width="341.8" height="340.3" fill="#fff" stroke="#3c3c3c" stroke-width="1.15"/>
<path d="M1716.7 540.7h4.9M1720.7 542.1h4.9M1793.8 552.7h4.9M1654.2 555.4h4.9M1634.2 563.3h4.9M1644.8 576.6h4.9M1777.8 576.6h4.9M1730 578h4.9M1769.9 582h4.9M1767.2 584.6h4.9M1647.5 589.9h4.9M1787.2 592.6h4.9M1789.8 596.6h4.9M1716.7 599.3h4.9M1730 601.9h4.9M1684.7 603.2h4.9M1682.1 604.6h4.9M1708.7 604.6h4.9M1753.9 605.9h4.9M1755.2 605.9h4.9M1759.2 608.6h4.9M1765.9 609.9h4.9M1720.7 611.2h4.9M1648.8 612.6h4.9M1724.6 613.9h4.9M1789.8 613.9h4.9M1624.9 615.2h4.9M1745.9 615.2h4.9M1772.5 615.2h4.9M1719.3 616.5h4.9M1740.6 616.5h4.9M1743.3 616.5h4.9M1791.1 616.5h4.9M1670.1 617.9h4.9M1757.9 619.2h4.9M1663.5 621.9h4.9M1646.2 623.2h4.9M1747.3 623.2h4.9M1784.5 623.2h4.9M1799.1 625.9h4.9M1795.1 627.2h4.9M1775.2 629.8h4.9M1664.8 632.5h4.9M1759.2 632.5h4.9M1775.2 632.5h4.9M1792.5 633.8h4.9M1764.5 635.2h4.9M1655.5 636.5h4.9M1735.3 636.5h4.9M1788.5 637.8h4.9M1708.7 639.2h4.9M1780.5 639.2h4.9M1791.1 639.2h4.9M1777.8 640.5h4.9M1779.2 640.5h4.9M1788.5 640.5h4.9M1780.5 641.8h4.9M1788.5 641.8h4.9M1734 643.1h4.9M1799.1 643.1h4.9M1767.2 644.5h4.9M1787.2 644.5h4.9M1791.1 644.5h4.9M1777.8 645.8h4.9M1788.5 647.1h4.9M1747.3 648.5h4.9M1753.9 648.5h4.9M1761.9 648.5h4.9M1781.8 648.5h4.9M1748.6 649.8h4.9M1760.6 649.8h4.9M1780.5 649.8h4.9M1683.4 651.1h4.9M1684.7 651.1h4.9M1745.9 651.1h4.9M1776.5 652.5h4.9M1793.8 652.5h4.9M1710 653.8h4.9M1789.8 653.8h4.9M1747.3 655.1h4.9M1761.9 655.1h4.9M1765.9 655.1h4.9M1793.8 655.1h4.9M1787.2 656.4h4.9M1788.5 656.4h4.9M1796.5 656.4h4.9M1799.1 656.4h4.9M1745.9 657.8h4.9M1761.9 657.8h4.9M1792.5 657.8h4.9M1740.6 659.1h4.9M1748.6 659.1h4.9M1783.2 659.1h4.9M1793.8 659.1h4.9M1753.9 660.4h4.9M1763.2 660.4h4.9M1771.2 660.4h4.9M1678.1 661.8h4.9M1683.4 661.8h4.9M1779.2 661.8h4.9M1799.1 661.8h4.9M1743.3 664.4h4.9M1756.6 664.4h4.9M1757.9 664.4h4.9M1760.6 664.4h4.9M1768.5 664.4h4.9M1780.5 664.4h4.9M1784.5 664.4h4.9M1749.9 665.8h4.9M1765.9 665.8h4.9M1791.1 665.8h4.9M1634.2 667.1h4.9M1755.2 667.1h4.9M1759.2 667.1h4.9M1760.6 667.1h4.9M1777.8 667.1h4.9M1783.2 667.1h4.9M1745.9 668.4h4.9M1748.6 668.4h4.9M1788.5 668.4h4.9M1696.7 669.8h4.9M1744.6 669.8h4.9M1747.3 669.8h4.9M1752.6 669.8h4.9M1757.9 669.8h4.9M1760.6 669.8h4.9M1761.9 669.8h4.9M1780.5 669.8h4.9M1783.2 669.8h4.9M1787.2 669.8h4.9M1791.1 669.8h4.9M1796.5 669.8h4.9M1752.6 671.1h4.9M1775.2 671.1h4.9M1785.8 671.1h4.9M1759.2 672.4h4.9M1741.9 673.7h4.9M1748.6 673.7h4.9M1775.2 673.7h4.9M1699.4 675.1h4.9M1780.5 675.1h4.9M1784.5 675.1h4.9M1664.8 676.4h4.9M1753.9 676.4h4.9M1763.2 676.4h4.9M1781.8 676.4h4.9M1784.5 676.4h4.9M1781.8 677.7h4.9M1783.2 677.7h4.9M1741.9 679.1h4.9M1781.8 679.1h4.9M1788.5 679.1h4.9M1789.8 679.1h4.9M1736.6 680.4h4.9M1776.5 680.4h4.9M1783.2 680.4h4.9M1788.5 680.4h4.9M1800.5 680.4h4.9M1747.3 681.7h4.9M1783.2 681.7h4.9M1658.1 683h4.9M1756.6 683h4.9M1777.8 683h4.9M1788.5 683h4.9M1610.3 684.4h4.9M1757.9 684.4h4.9M1775.2 684.4h4.9M1783.2 684.4h4.9M1793.8 684.4h4.9M1636.9 685.7h4.9M1752.6 685.7h4.9M1753.9 685.7h4.9M1779.2 685.7h4.9M1797.8 685.7h4.9M1628.9 687h4.9M1744.6 687h4.9M1753.9 687h4.9M1769.9 687h4.9M1773.9 687h4.9M1783.2 687h4.9M1784.5 687h4.9M1785.8 687h4.9M1684.7 688.4h4.9M1772.5 688.4h4.9M1800.5 688.4h4.9M1608.9 689.7h4.9M1785.8 689.7h4.9M1792.5 689.7h4.9M1793.8 689.7h4.9M1652.8 691h4.9M1711.3 691h4.9M1775.2 691h4.9M1781.8 691h4.9M1671.4 692.4h4.9M1761.9 692.4h4.9M1777.8 692.4h4.9M1789.8 692.4h4.9M1797.8 692.4h4.9M1672.8 693.7h4.9M1761.9 693.7h4.9M1775.2 693.7h4.9M1777.8 693.7h4.9M1780.5 693.7h4.9M1785.8 693.7h4.9M1795.1 693.7h4.9M1636.9 695h4.9M1668.8 695h4.9M1703.4 695h4.9M1765.9 695h4.9M1783.2 695h4.9M1784.5 695h4.9M1618.2 696.3h4.9M1652.8 696.3h4.9M1748.6 696.3h4.9M1765.9 696.3h4.9M1772.5 696.3h4.9M1779.2 696.3h4.9M1788.5 696.3h4.9M1597 697.7h4.9M1623.6 697.7h4.9M1644.8 697.7h4.9M1659.5 697.7h4.9M1731.3 697.7h4.9M1759.2 697.7h4.9M1772.5 697.7h4.9M1787.2 697.7h4.9M1599.6 699h4.9M1691.4 699h4.9M1692.7 699h4.9M1749.9 699h4.9M1785.8 699h4.9M1787.2 699h4.9M1788.5 699h4.9M1789.8 699h4.9M1793.8 699h4.9M1623.6 700.3h4.9M1660.8 700.3h4.9M1678.1 700.3h4.9M1718 700.3h4.9M1743.3 700.3h4.9M1765.9 700.3h4.9M1775.2 700.3h4.9M1784.5 700.3h4.9M1612.9 701.7h4.9M1616.9 701.7h4.9M1634.2 701.7h4.9M1636.9 701.7h4.9M1745.9 701.7h4.9M1756.6 701.7h4.9M1768.5 701.7h4.9M1791.1 701.7h4.9M1575.7 703h4.9M1624.9 703h4.9M1659.5 703h4.9M1686.1 703h4.9M1768.5 703h4.9M1776.5 703h4.9M1784.5 703h4.9M1785.8 703h4.9M1805.8 703h4.9M1654.2 704.3h4.9M1668.8 704.3h4.9M1743.3 704.3h4.9M1745.9 704.3h4.9M1755.2 704.3h4.9M1775.2 704.3h4.9M1784.5 704.3h4.9M1787.2 704.3h4.9M1608.9 705.7h4.9M1622.2 705.7h4.9M1658.1 705.7h4.9M1660.8 705.7h4.9M1781.8 705.7h4.9M1604.9 707h4.9M1662.1 707h4.9M1670.1 707h4.9M1771.2 707h4.9M1785.8 707h4.9M1557.1 708.3h4.9M1619.6 708.3h4.9M1688.7 708.3h4.9M1747.3 708.3h4.9M1784.5 708.3h4.9M1787.2 708.3h4.9M1799.1 708.3h4.9M1666.1 709.6h4.9M1695.4 709.6h4.9M1764.5 709.6h4.9M1777.8 709.6h4.9M1579.7 711h4.9M1650.2 711h4.9M1663.5 711h4.9M1667.5 711h4.9M1765.9 711h4.9M1801.8 711h4.9M1593 712.3h4.9M1602.3 712.3h4.9M1651.5 712.3h4.9M1652.8 712.3h4.9M1655.5 712.3h4.9M1662.1 712.3h4.9M1670.1 712.3h4.9M1706 712.3h4.9M1718 712.3h4.9M1753.9 712.3h4.9M1796.5 712.3h4.9M1594.3 713.6h4.9M1698 713.6h4.9M1736.6 713.6h4.9M1759.2 713.6h4.9M1765.9 713.6h4.9M1767.2 713.6h4.9M1771.2 713.6h4.9M1789.8 713.6h4.9M1793.8 713.6h4.9M1619.6 715h4.9M1620.9 715h4.9M1662.1 715h4.9M1714 715h4.9M1773.9 715h4.9M1777.8 715h4.9M1674.1 716.3h4.9M1755.2 716.3h4.9M1764.5 716.3h4.9M1781.8 716.3h4.9M1792.5 716.3h4.9M1793.8 716.3h4.9M1683.4 717.6h4.9M1708.7 717.6h4.9M1739.3 717.6h4.9M1663.5 719h4.9M1743.3 719h4.9M1751.2 719h4.9M1756.6 719h4.9M1772.5 719h4.9M1775.2 719h4.9M1785.8 719h4.9M1787.2 719h4.9M1789.8 719h4.9M1606.3 720.3h4.9M1610.3 720.3h4.9M1632.9 720.3h4.9M1650.2 720.3h4.9M1676.8 720.3h4.9M1769.9 720.3h4.9M1784.5 720.3h4.9M1785.8 720.3h4.9M1792.5 720.3h4.9M1809.8 720.3h4.9M1558.4 721.6h4.9M1614.3 721.6h4.9M1638.2 722.9h4.9M1670.1 722.9h4.9M1687.4 722.9h4.9M1788.5 722.9h4.9M1648.8 724.3h4.9M1658.1 724.3h4.9M1699.4 724.3h4.9M1763.2 724.3h4.9M1773.9 724.3h4.9M1785.8 724.3h4.9M1626.2 725.6h4.9M1628.9 725.6h4.9M1643.5 725.6h4.9M1648.8 725.6h4.9M1650.2 725.6h4.9M1675.4 725.6h4.9M1765.9 725.6h4.9M1777.8 725.6h4.9M1791.1 725.6h4.9M1792.5 725.6h4.9M1614.3 726.9h4.9M1674.1 726.9h4.9M1704.7 726.9h4.9M1772.5 726.9h4.9M1773.9 726.9h4.9M1777.8 726.9h4.9M1780.5 726.9h4.9M1791.1 726.9h4.9M1799.1 726.9h4.9M1801.8 726.9h4.9M1571.7 728.3h4.9M1680.8 728.3h4.9M1682.1 728.3h4.9M1686.1 728.3h4.9M1768.5 728.3h4.9M1781.8 728.3h4.9M1795.1 728.3h4.9M1561.1 729.6h4.9M1579.7 729.6h4.9M1647.5 729.6h4.9M1740.6 729.6h4.9M1757.9 729.6h4.9M1784.5 729.6h4.9M1788.5 729.6h4.9M1624.9 730.9h4.9M1660.8 730.9h4.9M1751.2 730.9h4.9M1769.9 730.9h4.9M1784.5 730.9h4.9M1789.8 730.9h4.9M1620.9 732.3h4.9M1624.9 732.3h4.9M1663.5 732.3h4.9M1784.5 732.3h4.9M1787.2 732.3h4.9M1791.1 732.3h4.9M1732.6 733.6h4.9M1772.5 733.6h4.9M1662.1 734.9h4.9M1777.8 734.9h4.9M1780.5 734.9h4.9M1670.1 736.2h4.9M1749.9 736.2h4.9M1759.2 736.2h4.9M1763.2 736.2h4.9M1785.8 736.2h4.9M1787.2 736.2h4.9M1792.5 736.2h4.9M1779.2 737.6h4.9M1788.5 737.6h4.9M1791.1 737.6h4.9M1793.8 737.6h4.9M1797.8 737.6h4.9M1781.8 738.9h4.9M1781.8 740.2h4.9M1795.1 740.2h4.9M1800.5 740.2h4.9M1589 741.6h4.9M1764.5 741.6h4.9M1776.5 741.6h4.9M1785.8 741.6h4.9M1791.1 741.6h4.9M1792.5 741.6h4.9M1712.7 742.9h4.9M1735.3 742.9h4.9M1789.8 742.9h4.9M1791.1 742.9h4.9M1777.8 744.2h4.9M1781.8 744.2h4.9M1788.5 744.2h4.9M1792.5 744.2h4.9M1743.3 745.6h4.9M1755.2 745.6h4.9M1772.5 745.6h4.9M1777.8 745.6h4.9M1779.2 745.6h4.9M1784.5 745.6h4.9M1791.1 745.6h4.9M1796.5 745.6h4.9M1797.8 745.6h4.9M1749.9 746.9h4.9M1771.2 746.9h4.9M1796.5 746.9h4.9M1656.8 748.2h4.9M1771.2 748.2h4.9M1776.5 748.2h4.9M1779.2 748.2h4.9M1781.8 748.2h4.9M1784.5 748.2h4.9M1785.8 748.2h4.9M1777.8 749.5h4.9M1787.2 749.5h4.9M1744.6 750.9h4.9M1779.2 750.9h4.9M1785.8 750.9h4.9M1788.5 750.9h4.9M1795.1 750.9h4.9M1772.5 752.2h4.9M1776.5 752.2h4.9M1785.8 753.5h4.9M1789.8 753.5h4.9M1756.6 754.9h4.9M1787.2 754.9h4.9M1793.8 754.9h4.9M1797.8 754.9h4.9M1799.1 754.9h4.9M1781.8 756.2h4.9M1785.8 756.2h4.9M1788.5 756.2h4.9M1793.8 756.2h4.9M1772.5 757.5h4.9M1797.8 757.5h4.9M1736.6 758.9h4.9M1771.2 758.9h4.9M1780.5 758.9h4.9M1789.8 758.9h4.9M1771.2 760.2h4.9M1784.5 760.2h4.9M1787.2 760.2h4.9M1792.5 760.2h4.9M1785.8 761.5h4.9M1792.5 761.5h4.9M1797.8 761.5h4.9M1776.5 762.8h4.9M1779.2 762.8h4.9M1787.2 762.8h4.9M1792.5 762.8h4.9M1747.3 764.2h4.9M1753.9 764.2h4.9M1781.8 764.2h4.9M1773.9 765.5h4.9M1775.2 765.5h4.9M1787.2 765.5h4.9M1789.8 765.5h4.9M1797.8 765.5h4.9M1696.7 766.8h4.9M1776.5 766.8h4.9M1791.1 766.8h4.9M1722 768.2h4.9M1779.2 768.2h4.9M1788.5 768.2h4.9M1803.1 768.2h4.9M1760.6 769.5h4.9M1765.9 769.5h4.9M1779.2 769.5h4.9M1783.2 769.5h4.9M1788.5 769.5h4.9M1795.1 769.5h4.9M1796.5 769.5h4.9M1724.6 770.8h4.9M1779.2 770.8h4.9M1781.8 770.8h4.9M1777.8 772.2h4.9M1792.5 772.2h4.9M1662.1 773.5h4.9M1792.5 773.5h4.9M1800.5 773.5h4.9M1711.3 774.8h4.9M1777.8 774.8h4.9M1781.8 774.8h4.9M1788.5 774.8h4.9M1789.8 774.8h4.9M1791.1 774.8h4.9M1803.1 774.8h4.9M1704.7 776.1h4.9M1783.2 776.1h4.9M1688.7 777.5h4.9M1769.9 777.5h4.9M1795.1 777.5h4.9M1797.8 777.5h4.9M1799.1 777.5h4.9M1779.2 778.8h4.9M1781.8 778.8h4.9M1784.5 778.8h4.9M1785.8 778.8h4.9M1787.2 778.8h4.9M1788.5 778.8h4.9M1795.1 778.8h4.9M1783.2 780.1h4.9M1787.2 780.1h4.9M1788.5 780.1h4.9M1776.5 781.5h4.9M1779.2 781.5h4.9M1800.5 781.5h4.9M1776.5 782.8h4.9M1783.2 782.8h4.9M1784.5 782.8h4.9M1787.2 782.8h4.9M1789.8 782.8h4.9M1775.2 784.1h4.9M1781.8 784.1h4.9M1783.2 784.1h4.9M1710 785.5h4.9M1764.5 785.5h4.9M1780.5 785.5h4.9M1789.8 785.5h4.9M1792.5 785.5h4.9M1784.5 786.8h4.9M1789.8 786.8h4.9M1740.6 788.1h4.9M1755.2 788.1h4.9M1787.2 788.1h4.9M1789.8 788.1h4.9M1795.1 788.1h4.9M1704.7 789.5h4.9M1787.2 789.5h4.9M1789.8 789.5h4.9M1796.5 789.5h4.9M1724.6 790.8h4.9M1773.9 790.8h4.9M1781.8 790.8h4.9M1787.2 790.8h4.9M1788.5 790.8h4.9M1803.1 790.8h4.9M1680.8 792.1h4.9M1777.8 792.1h4.9M1783.2 792.1h4.9M1784.5 792.1h4.9M1797.8 792.1h4.9M1783.2 793.4h4.9M1785.8 793.4h4.9M1780.5 794.8h4.9M1788.5 794.8h4.9M1792.5 796.1h4.9M1696.7 797.4h4.9M1780.5 798.8h4.9M1680.8 800.1h4.9M1779.2 800.1h4.9M1772.5 801.4h4.9M1788.5 801.4h4.9M1783.2 802.8h4.9M1789.8 802.8h4.9M1795.1 804.1h4.9M1780.5 805.4h4.9M1784.5 805.4h4.9M1795.1 805.4h4.9M1776.5 806.7h4.9M1776.5 808.1h4.9M1789.8 808.1h4.9M1688.7 809.4h4.9M1781.8 809.4h4.9M1787.2 809.4h4.9M1797.8 809.4h4.9M1714 810.7h4.9M1711.3 813.4h4.9M1799.1 814.7h4.9M1792.5 816h4.9M1781.8 818.7h4.9M1788.5 818.7h4.9M1706 820h4.9M1796.5 820h4.9M1791.1 821.4h4.9M1780.5 822.7h4.9M1797.8 822.7h4.9M1795.1 825.4h4.9M1792.5 826.7h4.9M1797.8 828h4.9M1708.7 829.3h4.9M1789.8 830.7h4.9M1789.8 832h4.9M1776.5 833.3h4.9M1795.1 833.3h4.9M1783.2 834.7h4.9M1804.4 834.7h4.9M1773.9 836h4.9M1781.8 836h4.9M1783.2 837.3h4.9M1797.8 837.3h4.9M1783.2 841.3h4.9M1702 842.6h4.9M1791.1 842.6h4.9M1795.1 842.6h4.9M1796.5 845.3h4.9M1779.2 846.6h4.9M1797.8 849.3h4.9" stroke="#0000ff" stroke-width="4.9" fill="none"/>
<path d="M1708.7 624.5h4.9M1784.5 627.2h4.9M1755.2 645.8h4.9M1772.5 653.8h4.9M1785.8 676.4h4.9M1780.5 685.7h4.9M1785.8 685.7h4.9M1752.6 692.4h4.9M1772.5 695h4.9M1771.2 701.7h4.9M1784.5 701.7h4.9M1781.8 712.3h4.9M1783.2 713.6h4.9M1784.5 713.6h4.9M1670.1 715h4.9M1784.5 733.6h4.9M1783.2 752.2h4.9M1788.5 753.5h4.9M1785.8 776.1h4.9" stroke="#ff4500" stroke-width="4.9" fill="none"/>
<path d="M1783.2 768.2h4.9M1784.5 769.5h4.9" stroke="#ff0000" stroke-width="4.9" fill="none"/>
<rect x="1533.9" y="692.8" width="200.6" height="163.1" fill="none" stroke="#000" stroke-width="2.2"/>
<rect x="1741.2" y="692.8" width="123.2" height="163.1" fill="none" stroke="#000" stroke-width="2.2"/>
<path d="M1620.7 857.1v3.6M1622.1 857.1v3.6M1623.4 857.1v3.6M1624.5 857.1v3.6M1626.7 857.1v3.6M1627.6 857.1v3.6M1628.5 857.1v3.6M1629.4 857.1v3.6M1617.7 857.1v3.6M1616.3 857.1v3.6M1615 857.1v3.6M1613.9 857.1v3.6M1611.7 857.1v3.6M1610.8 857.1v3.6M1609.9 857.1v3.6M1609 857.1v3.6" stroke="#000" stroke-width="1.3" fill="none"/>
<path d="M1625.6 857.1v6.8M1662.7 857.1v6.8M1721.7 857.1v6.8M1776.5 857.1v6.8M1828.8 857.1v6.8M1612.8 857.1v6.8M1575.7 857.1v6.8" stroke="#000" stroke-width="1.7" fill="none"/>
<path d="M1630.2 857.1v9.5M1680.7 857.1v9.5M1740 857.1v9.5M1792.3 857.1v9.5M1844.5 857.1v9.5M1608.2 857.1v9.5M1557.8 857.1v9.5" stroke="#000" stroke-width="2.4" fill="none"/>
<path d="M1642.2 857.1v4.3M1650.7 857.1v4.3M1657.3 857.1v4.3M1667.3 857.1v4.3M1671.3 857.1v4.3M1674.8 857.1v4.3M1677.9 857.1v4.3M1698 857.1v4.3M1708.4 857.1v4.3M1715.9 857.1v4.3M1726.5 857.1v4.3M1730.6 857.1v4.3M1734.1 857.1v4.3M1737.2 857.1v4.3M1755.7 857.1v4.3M1764.9 857.1v4.3M1771.4 857.1v4.3M1780.7 857.1v4.3M1784.2 857.1v4.3M1787.2 857.1v4.3M1789.9 857.1v4.3M1808 857.1v4.3M1817.2 857.1v4.3M1823.7 857.1v4.3M1832.9 857.1v4.3M1836.4 857.1v4.3M1839.4 857.1v4.3M1842.1 857.1v4.3M1860.2 857.1v4.3M1596.2 857.1v4.3M1587.7 857.1v4.3M1581.1 857.1v4.3M1571.2 857.1v4.3M1567.2 857.1v4.3M1563.7 857.1v4.3M1560.6 857.1v4.3M1538.7 857.1v4.3" stroke="#000" stroke-width="1.2" fill="none"/>
<path d="M1619.2 857.1v8.5" stroke="#000" stroke-width="2.6" fill="none"/>
<text x="1557.8" y="881.1" font-size="13.4" font-weight="bold" text-anchor="middle">-10<tspan font-size="9" dy="-4">2</tspan></text>
<text x="1619.2" y="881.1" font-size="13.4" font-weight="bold" text-anchor="middle">0</text>
<text x="1680.7" y="881.1" font-size="13.4" font-weight="bold" text-anchor="middle">10<tspan font-size="9" dy="-4">2</tspan></text>
<text x="1740" y="881.1" font-size="13.4" font-weight="bold" text-anchor="middle">10<tspan font-size="9" dy="-4">3</tspan></text>
<text x="1792.3" y="881.1" font-size="13.4" font-weight="bold" text-anchor="middle">10<tspan font-size="9" dy="-4">4</tspan></text>
<text x="1844.5" y="881.1" font-size="13.4" font-weight="bold" text-anchor="middle">10<tspan font-size="9" dy="-4">5</tspan></text>
<path d="M1527.6 725.2h-8.5" stroke="#000" stroke-width="2.6" fill="none"/>
<path d="M1527.6 725.1h-3.6M1527.6 724.9h-3.6M1527.6 725.3h-3.6M1527.6 725.5h-3.6" stroke="#000" stroke-width="1.3" fill="none"/>
<path d="M1527.6 725h-6.8M1527.6 723.2h-6.8M1527.6 705.8h-6.8M1527.6 639.8h-6.8M1527.6 564.4h-6.8M1527.6 725.4h-6.8M1527.6 727.2h-6.8M1527.6 742.4h-6.8M1527.6 805.4h-6.8" stroke="#000" stroke-width="1.7" fill="none"/>
<path d="M1527.6 724.8h-9.5M1527.6 721.2h-9.5M1527.6 691.6h-9.5M1527.6 611.2h-9.5M1527.6 543.5h-9.5M1527.6 725.6h-9.5M1527.6 729.2h-9.5M1527.6 754.6h-9.5M1527.6 833.5h-9.5" stroke="#000" stroke-width="2.4" fill="none"/>
<path d="M1527.6 724.4h-4.3M1527.6 724h-4.3M1527.6 723.6h-4.3M1527.6 722.8h-4.3M1527.6 722.4h-4.3M1527.6 722h-4.3M1527.6 721.6h-4.3M1527.6 716.9h-4.3M1527.6 712.9h-4.3M1527.6 709.3h-4.3M1527.6 702.6h-4.3M1527.6 699.6h-4.3M1527.6 696.8h-4.3M1527.6 694.1h-4.3M1527.6 672.5h-4.3M1527.6 658.9h-4.3M1527.6 648.4h-4.3M1527.6 632.5h-4.3M1527.6 626.2h-4.3M1527.6 620.7h-4.3M1527.6 615.7h-4.3M1527.6 591.5h-4.3M1527.6 579.6h-4.3M1527.6 571h-4.3M1527.6 558.9h-4.3M1527.6 554.3h-4.3M1527.6 550.2h-4.3M1527.6 546.7h-4.3M1527.6 522.5h-4.3M1527.6 726h-4.3M1527.6 726.4h-4.3M1527.6 726.8h-4.3M1527.6 727.6h-4.3M1527.6 728h-4.3M1527.6 728.4h-4.3M1527.6 728.8h-4.3M1527.6 732.9h-4.3M1527.6 736.3h-4.3M1527.6 739.4h-4.3M1527.6 745.1h-4.3M1527.6 747.7h-4.3M1527.6 750.1h-4.3M1527.6 752.4h-4.3M1527.6 773.4h-4.3M1527.6 786.7h-4.3M1527.6 797h-4.3M1527.6 812.6h-4.3M1527.6 818.8h-4.3M1527.6 824.2h-4.3M1527.6 829.1h-4.3" stroke="#000" stroke-width="1.2" fill="none"/>
<text x="1517" y="546" font-size="13.4" font-weight="bold" text-anchor="end">10<tspan font-size="9" dy="-4">5</tspan></text>
<text x="1517" y="613.7" font-size="13.4" font-weight="bold" text-anchor="end">10<tspan font-size="9" dy="-4">4</tspan></text>
<text x="1517" y="694.1" font-size="13.4" font-weight="bold" text-anchor="end">10<tspan font-size="9" dy="-4">3</tspan></text>
<text x="1517" y="729.3" font-size="13.4" font-weight="bold" text-anchor="end">0</text>
<text x="1517" y="757.1" font-size="13.4" font-weight="bold" text-anchor="end">-10<tspan font-size="9" dy="-4">3</tspan></text>
<text x="1517" y="836" font-size="13.4" font-weight="bold" text-anchor="end">-10<tspan font-size="9" dy="-4">4</tspan></text>
<text x="1530.1" y="512.4" font-size="27.2">CD64+</text>
<text x="1539.4" y="846.4" font-size="28.6">17.3</text>
<text x="1806" y="846.4" font-size="28.6">50.9</text>
<text x="1698.3" y="910.6" font-size="28" text-anchor="middle">MHC II - AF700</text>
<text x="1486" y="688.5" font-size="28" text-anchor="middle" transform="rotate(-90 1486 688.5)">Ly6C - PerCP/Cy5.5</text>
<rect x="585.4" y="1039.8" width="339.8" height="339.3" fill="#fff" stroke="#3c3c3c" stroke-width="1.15"/>
<path d="M589.6 1069.1h4.9M830.3 1081h4.9M750.5 1083.7h4.9M737.2 1085h4.9M624.2 1086.3h4.9M632.2 1087.7h4.9M622.8 1089h4.9M646.8 1097h4.9M596.2 1099.6h4.9M626.8 1101h4.9M634.8 1101h4.9M637.5 1101h4.9M662.8 1103.6h4.9M641.5 1106.3h4.9M637.5 1107.6h4.9M628.2 1109h4.9M630.8 1109h4.9M637.5 1110.3h4.9M653.4 1110.3h4.9M614.9 1111.6h4.9M628.2 1111.6h4.9M660.1 1111.6h4.9M662.8 1113h4.9M644.1 1115.6h4.9M664.1 1115.6h4.9M632.2 1118.3h4.9M652.1 1118.3h4.9M617.5 1119.6h4.9M625.5 1119.6h4.9M632.2 1119.6h4.9M646.8 1119.6h4.9M626.8 1120.9h4.9M628.2 1120.9h4.9M649.4 1120.9h4.9M751.9 1122.3h4.9M641.5 1123.6h4.9M620.2 1124.9h4.9M626.8 1124.9h4.9M642.8 1124.9h4.9M648.1 1124.9h4.9M654.8 1124.9h4.9M715.9 1124.9h4.9M751.9 1126.2h4.9M638.8 1127.6h4.9M646.8 1127.6h4.9M648.1 1127.6h4.9M743.9 1127.6h4.9M746.5 1127.6h4.9M762.5 1127.6h4.9M637.5 1128.9h4.9M648.1 1128.9h4.9M650.8 1128.9h4.9M694.7 1128.9h4.9M743.9 1128.9h4.9M612.2 1130.2h4.9M617.5 1130.2h4.9M628.2 1130.2h4.9M634.8 1130.2h4.9M662.8 1130.2h4.9M718.6 1130.2h4.9M733.2 1130.2h4.9M747.9 1130.2h4.9M766.5 1130.2h4.9M633.5 1131.6h4.9M646.8 1131.6h4.9M689.3 1131.6h4.9M702.6 1131.6h4.9M708 1131.6h4.9M727.9 1131.6h4.9M731.9 1131.6h4.9M733.2 1131.6h4.9M738.6 1131.6h4.9M629.5 1132.9h4.9M685.4 1132.9h4.9M697.3 1132.9h4.9M702.6 1132.9h4.9M739.9 1132.9h4.9M753.2 1132.9h4.9M758.5 1132.9h4.9M625.5 1134.2h4.9M637.5 1134.2h4.9M638.8 1134.2h4.9M641.5 1134.2h4.9M689.3 1134.2h4.9M697.3 1134.2h4.9M698.7 1134.2h4.9M701.3 1134.2h4.9M709.3 1134.2h4.9M710.6 1134.2h4.9M726.6 1134.2h4.9M750.5 1134.2h4.9M625.5 1135.6h4.9M628.2 1135.6h4.9M645.5 1135.6h4.9M693.3 1135.6h4.9M730.6 1135.6h4.9M741.2 1135.6h4.9M771.8 1135.6h4.9M617.5 1136.9h4.9M624.2 1136.9h4.9M642.8 1136.9h4.9M648.1 1136.9h4.9M670.7 1136.9h4.9M686.7 1136.9h4.9M688 1136.9h4.9M697.3 1136.9h4.9M705.3 1136.9h4.9M750.5 1136.9h4.9M755.8 1136.9h4.9M757.2 1136.9h4.9M620.2 1138.2h4.9M621.5 1138.2h4.9M626.8 1138.2h4.9M628.2 1138.2h4.9M688 1138.2h4.9M698.7 1138.2h4.9M709.3 1138.2h4.9M718.6 1138.2h4.9M721.3 1138.2h4.9M723.9 1138.2h4.9M726.6 1138.2h4.9M741.2 1138.2h4.9M753.2 1138.2h4.9M762.5 1138.2h4.9M774.5 1138.2h4.9M616.2 1139.5h4.9M620.2 1139.5h4.9M622.8 1139.5h4.9M636.1 1139.5h4.9M638.8 1139.5h4.9M648.1 1139.5h4.9M670.7 1139.5h4.9M685.4 1139.5h4.9M705.3 1139.5h4.9M710.6 1139.5h4.9M722.6 1139.5h4.9M726.6 1139.5h4.9M741.2 1139.5h4.9M628.2 1140.9h4.9M637.5 1140.9h4.9M638.8 1140.9h4.9M656.1 1140.9h4.9M661.4 1140.9h4.9M665.4 1140.9h4.9M676 1140.9h4.9M684 1140.9h4.9M689.3 1140.9h4.9M717.3 1140.9h4.9M726.6 1140.9h4.9M766.5 1140.9h4.9M793.1 1140.9h4.9M620.2 1142.2h4.9M636.1 1142.2h4.9M642.8 1142.2h4.9M648.1 1142.2h4.9M657.4 1142.2h4.9M658.8 1142.2h4.9M668.1 1142.2h4.9M672.1 1142.2h4.9M723.9 1142.2h4.9M726.6 1142.2h4.9M730.6 1142.2h4.9M739.9 1142.2h4.9M743.9 1142.2h4.9M750.5 1142.2h4.9M753.2 1142.2h4.9M763.8 1142.2h4.9M646.8 1143.5h4.9M648.1 1143.5h4.9M660.1 1143.5h4.9M677.4 1143.5h4.9M694.7 1143.5h4.9M696 1143.5h4.9M698.7 1143.5h4.9M715.9 1143.5h4.9M719.9 1143.5h4.9M725.3 1143.5h4.9M727.9 1143.5h4.9M729.2 1143.5h4.9M735.9 1143.5h4.9M738.6 1143.5h4.9M741.2 1143.5h4.9M789.1 1143.5h4.9M613.5 1144.9h4.9M614.9 1144.9h4.9M625.5 1144.9h4.9M632.2 1144.9h4.9M637.5 1144.9h4.9M642.8 1144.9h4.9M656.1 1144.9h4.9M657.4 1144.9h4.9M668.1 1144.9h4.9M669.4 1144.9h4.9M670.7 1144.9h4.9M721.3 1144.9h4.9M753.2 1144.9h4.9M765.2 1144.9h4.9M633.5 1146.2h4.9M645.5 1146.2h4.9M654.8 1146.2h4.9M666.7 1146.2h4.9M677.4 1146.2h4.9M688 1146.2h4.9M717.3 1146.2h4.9M731.9 1146.2h4.9M753.2 1146.2h4.9M762.5 1146.2h4.9M773.1 1146.2h4.9M622.8 1147.5h4.9M628.2 1147.5h4.9M629.5 1147.5h4.9M636.1 1147.5h4.9M640.1 1147.5h4.9M641.5 1147.5h4.9M644.1 1147.5h4.9M648.1 1147.5h4.9M669.4 1147.5h4.9M717.3 1147.5h4.9M730.6 1147.5h4.9M735.9 1147.5h4.9M737.2 1147.5h4.9M738.6 1147.5h4.9M630.8 1148.9h4.9M636.1 1148.9h4.9M653.4 1148.9h4.9M660.1 1148.9h4.9M669.4 1148.9h4.9M670.7 1148.9h4.9M673.4 1148.9h4.9M694.7 1148.9h4.9M706.6 1148.9h4.9M710.6 1148.9h4.9M743.9 1148.9h4.9M745.2 1148.9h4.9M626.8 1150.2h4.9M669.4 1150.2h4.9M670.7 1150.2h4.9M685.4 1150.2h4.9M735.9 1150.2h4.9M738.6 1150.2h4.9M624.2 1151.5h4.9M626.8 1151.5h4.9M633.5 1151.5h4.9M644.1 1151.5h4.9M645.5 1151.5h4.9M661.4 1151.5h4.9M665.4 1151.5h4.9M686.7 1151.5h4.9M698.7 1151.5h4.9M729.2 1151.5h4.9M735.9 1151.5h4.9M626.8 1152.8h4.9M632.2 1152.8h4.9M652.1 1152.8h4.9M654.8 1152.8h4.9M661.4 1152.8h4.9M665.4 1152.8h4.9M668.1 1152.8h4.9M688 1152.8h4.9M706.6 1152.8h4.9M708 1152.8h4.9M737.2 1152.8h4.9M739.9 1152.8h4.9M628.2 1154.2h4.9M630.8 1154.2h4.9M638.8 1154.2h4.9M646.8 1154.2h4.9M700 1154.2h4.9M617.5 1155.5h4.9M641.5 1155.5h4.9M646.8 1155.5h4.9M677.4 1155.5h4.9M678.7 1155.5h4.9M685.4 1155.5h4.9M698.7 1155.5h4.9M730.6 1155.5h4.9M625.5 1156.8h4.9M642.8 1156.8h4.9M644.1 1156.8h4.9M658.8 1156.8h4.9M726.6 1156.8h4.9M761.2 1156.8h4.9M771.8 1156.8h4.9M606.9 1158.2h4.9M640.1 1158.2h4.9M657.4 1158.2h4.9M662.8 1158.2h4.9M677.4 1158.2h4.9M606.9 1159.5h4.9M617.5 1159.5h4.9M628.2 1159.5h4.9M637.5 1159.5h4.9M644.1 1159.5h4.9M668.1 1159.5h4.9M681.4 1159.5h4.9M698.7 1159.5h4.9M701.3 1159.5h4.9M616.2 1160.8h4.9M624.2 1160.8h4.9M628.2 1160.8h4.9M634.8 1160.8h4.9M637.5 1160.8h4.9M673.4 1160.8h4.9M676 1160.8h4.9M682.7 1160.8h4.9M613.5 1162.2h4.9M628.2 1162.2h4.9M632.2 1162.2h4.9M646.8 1162.2h4.9M649.4 1162.2h4.9M662.8 1162.2h4.9M735.9 1162.2h4.9M606.9 1163.5h4.9M609.5 1163.5h4.9M628.2 1163.5h4.9M641.5 1163.5h4.9M649.4 1163.5h4.9M658.8 1163.5h4.9M712 1163.5h4.9M719.9 1163.5h4.9M625.5 1164.8h4.9M694.7 1164.8h4.9M696 1164.8h4.9M616.2 1166.1h4.9M620.2 1166.1h4.9M624.2 1166.1h4.9M640.1 1166.1h4.9M645.5 1166.1h4.9M646.8 1166.1h4.9M649.4 1166.1h4.9M662.8 1166.1h4.9M668.1 1166.1h4.9M672.1 1166.1h4.9M746.5 1166.1h4.9M610.9 1167.5h4.9M622.8 1167.5h4.9M628.2 1167.5h4.9M632.2 1167.5h4.9M633.5 1167.5h4.9M648.1 1167.5h4.9M656.1 1167.5h4.9M681.4 1167.5h4.9M684 1167.5h4.9M705.3 1167.5h4.9M706.6 1167.5h4.9M829 1167.5h4.9M632.2 1168.8h4.9M633.5 1168.8h4.9M634.8 1168.8h4.9M642.8 1168.8h4.9M678.7 1168.8h4.9M605.6 1170.1h4.9M618.9 1170.1h4.9M621.5 1170.1h4.9M628.2 1170.1h4.9M630.8 1170.1h4.9M648.1 1170.1h4.9M650.8 1170.1h4.9M668.1 1170.1h4.9M700 1170.1h4.9M755.8 1170.1h4.9M609.5 1171.5h4.9M624.2 1171.5h4.9M628.2 1171.5h4.9M630.8 1171.5h4.9M637.5 1171.5h4.9M674.7 1171.5h4.9M750.5 1171.5h4.9M751.9 1171.5h4.9M604.2 1172.8h4.9M605.6 1172.8h4.9M612.2 1172.8h4.9M624.2 1172.8h4.9M634.8 1172.8h4.9M641.5 1172.8h4.9M648.1 1172.8h4.9M656.1 1172.8h4.9M708 1172.8h4.9M641.5 1174.1h4.9M725.3 1174.1h4.9M757.2 1174.1h4.9M616.2 1175.5h4.9M625.5 1175.5h4.9M726.6 1175.5h4.9M624.2 1176.8h4.9M629.5 1176.8h4.9M633.5 1176.8h4.9M636.1 1176.8h4.9M638.8 1176.8h4.9M641.5 1176.8h4.9M642.8 1176.8h4.9M645.5 1176.8h4.9M666.7 1176.8h4.9M640.1 1178.1h4.9M650.8 1178.1h4.9M652.1 1178.1h4.9M657.4 1178.1h4.9M673.4 1178.1h4.9M681.4 1178.1h4.9M721.3 1178.1h4.9M725.3 1178.1h4.9M614.9 1179.5h4.9M629.5 1179.5h4.9M644.1 1179.5h4.9M696 1179.5h4.9M712 1179.5h4.9M782.4 1179.5h4.9M621.5 1180.8h4.9M625.5 1180.8h4.9M638.8 1180.8h4.9M657.4 1180.8h4.9M677.4 1180.8h4.9M753.2 1180.8h4.9M771.8 1180.8h4.9M620.2 1182.1h4.9M628.2 1182.1h4.9M632.2 1182.1h4.9M636.1 1182.1h4.9M638.8 1182.1h4.9M645.5 1182.1h4.9M649.4 1182.1h4.9M650.8 1182.1h4.9M656.1 1182.1h4.9M657.4 1182.1h4.9M658.8 1182.1h4.9M708 1182.1h4.9M726.6 1182.1h4.9M741.2 1182.1h4.9M754.5 1182.1h4.9M811.7 1182.1h4.9M628.2 1183.4h4.9M630.8 1183.4h4.9M644.1 1183.4h4.9M654.8 1183.4h4.9M682.7 1183.4h4.9M692 1183.4h4.9M698.7 1183.4h4.9M725.3 1183.4h4.9M645.5 1184.8h4.9M649.4 1184.8h4.9M658.8 1184.8h4.9M723.9 1184.8h4.9M630.8 1186.1h4.9M644.1 1186.1h4.9M662.8 1186.1h4.9M668.1 1186.1h4.9M685.4 1186.1h4.9M741.2 1186.1h4.9M626.8 1187.4h4.9M630.8 1187.4h4.9M632.2 1187.4h4.9M642.8 1187.4h4.9M648.1 1187.4h4.9M649.4 1187.4h4.9M650.8 1187.4h4.9M684 1188.8h4.9M730.6 1188.8h4.9M733.2 1188.8h4.9M636.1 1190.1h4.9M645.5 1190.1h4.9M652.1 1190.1h4.9M680 1190.1h4.9M747.9 1190.1h4.9M751.9 1190.1h4.9M610.9 1191.4h4.9M620.2 1191.4h4.9M637.5 1191.4h4.9M664.1 1191.4h4.9M684 1191.4h4.9M700 1191.4h4.9M713.3 1191.4h4.9M722.6 1191.4h4.9M628.2 1192.8h4.9M630.8 1192.8h4.9M713.3 1192.8h4.9M754.5 1192.8h4.9M629.5 1194.1h4.9M633.5 1194.1h4.9M642.8 1194.1h4.9M645.5 1194.1h4.9M646.8 1194.1h4.9M653.4 1194.1h4.9M688 1194.1h4.9M709.3 1194.1h4.9M731.9 1194.1h4.9M626.8 1195.4h4.9M645.5 1195.4h4.9M649.4 1195.4h4.9M652.1 1195.4h4.9M672.1 1195.4h4.9M705.3 1195.4h4.9M636.1 1196.7h4.9M638.8 1196.7h4.9M661.4 1196.7h4.9M702.6 1196.7h4.9M712 1196.7h4.9M750.5 1196.7h4.9M633.5 1199.4h4.9M642.8 1199.4h4.9M644.1 1199.4h4.9M649.4 1199.4h4.9M669.4 1199.4h4.9M684 1199.4h4.9M697.3 1199.4h4.9M706.6 1199.4h4.9M717.3 1199.4h4.9M754.5 1199.4h4.9M757.2 1199.4h4.9M636.1 1200.7h4.9M641.5 1200.7h4.9M763.8 1200.7h4.9M618.9 1202.1h4.9M622.8 1202.1h4.9M634.8 1202.1h4.9M640.1 1202.1h4.9M686.7 1202.1h4.9M727.9 1202.1h4.9M751.9 1202.1h4.9M621.5 1203.4h4.9M634.8 1203.4h4.9M654.8 1203.4h4.9M686.7 1203.4h4.9M722.6 1203.4h4.9M798.4 1203.4h4.9M731.9 1204.7h4.9M785.1 1204.7h4.9M618.9 1206h4.9M625.5 1206h4.9M654.8 1206h4.9M658.8 1206h4.9M617.5 1207.4h4.9M622.8 1207.4h4.9M630.8 1207.4h4.9M646.8 1207.4h4.9M660.1 1207.4h4.9M665.4 1207.4h4.9M700 1207.4h4.9M710.6 1207.4h4.9M641.5 1208.7h4.9M649.4 1208.7h4.9M670.7 1208.7h4.9M692 1208.7h4.9M625.5 1210h4.9M626.8 1210h4.9M670.7 1210h4.9M618.9 1211.4h4.9M622.8 1211.4h4.9M654.8 1211.4h4.9M727.9 1211.4h4.9M746.5 1211.4h4.9M640.1 1212.7h4.9M642.8 1212.7h4.9M653.4 1212.7h4.9M656.1 1212.7h4.9M658.8 1212.7h4.9M633.5 1214h4.9M640.1 1214h4.9M665.4 1214h4.9M670.7 1214h4.9M737.2 1214h4.9M726.6 1215.4h4.9M817 1215.4h4.9M624.2 1216.7h4.9M637.5 1216.7h4.9M640.1 1216.7h4.9M649.4 1216.7h4.9M726.6 1216.7h4.9M739.9 1216.7h4.9M746.5 1216.7h4.9M648.1 1218h4.9M773.1 1218h4.9M621.5 1219.3h4.9M649.4 1219.3h4.9M672.1 1219.3h4.9M750.5 1219.3h4.9M652.1 1220.7h4.9M689.3 1220.7h4.9M621.5 1222h4.9M628.2 1222h4.9M650.8 1222h4.9M777.1 1222h4.9M625.5 1223.3h4.9M629.5 1223.3h4.9M640.1 1223.3h4.9M641.5 1223.3h4.9M642.8 1223.3h4.9M677.4 1223.3h4.9M709.3 1223.3h4.9M793.1 1223.3h4.9M829 1223.3h4.9M644.1 1224.7h4.9M702.6 1224.7h4.9M731.9 1224.7h4.9M845 1224.7h4.9M626.8 1226h4.9M696 1226h4.9M702.6 1226h4.9M652.1 1227.3h4.9M664.1 1227.3h4.9M755.8 1227.3h4.9M770.5 1227.3h4.9M626.8 1228.7h4.9M630.8 1228.7h4.9M634.8 1228.7h4.9M636.1 1228.7h4.9M650.8 1228.7h4.9M680 1228.7h4.9M644.1 1230h4.9M658.8 1230h4.9M725.3 1230h4.9M648.1 1231.3h4.9M649.4 1231.3h4.9M650.8 1231.3h4.9M664.1 1231.3h4.9M759.8 1231.3h4.9M771.8 1231.3h4.9M610.9 1232.7h4.9M625.5 1232.7h4.9M638.8 1232.7h4.9M645.5 1232.7h4.9M664.1 1232.7h4.9M799.7 1232.7h4.9M810.4 1232.7h4.9M887.5 1232.7h4.9M625.5 1234h4.9M633.5 1234h4.9M660.1 1234h4.9M686.7 1234h4.9M741.2 1234h4.9M630.8 1235.3h4.9M646.8 1235.3h4.9M672.1 1235.3h4.9M589.6 1236.6h4.9M637.5 1236.6h4.9M646.8 1236.6h4.9M717.3 1236.6h4.9M733.2 1236.6h4.9M785.1 1236.6h4.9M602.9 1238h4.9M632.2 1238h4.9M644.1 1238h4.9M660.1 1238h4.9M725.3 1238h4.9M742.5 1238h4.9M779.8 1238h4.9M612.2 1239.3h4.9M617.5 1239.3h4.9M637.5 1239.3h4.9M660.1 1239.3h4.9M672.1 1239.3h4.9M618.9 1240.6h4.9M637.5 1240.6h4.9M642.8 1240.6h4.9M646.8 1240.6h4.9M654.8 1240.6h4.9M657.4 1240.6h4.9M660.1 1240.6h4.9M662.8 1240.6h4.9M749.2 1240.6h4.9M757.2 1240.6h4.9M649.4 1242h4.9M686.7 1242h4.9M839.6 1242h4.9M630.8 1243.3h4.9M644.1 1243.3h4.9M773.1 1243.3h4.9M782.4 1243.3h4.9M622.8 1244.6h4.9M637.5 1244.6h4.9M649.4 1244.6h4.9M661.4 1244.6h4.9M734.6 1244.6h4.9M755.8 1244.6h4.9M613.5 1246h4.9M624.2 1246h4.9M640.1 1246h4.9M646.8 1246h4.9M657.4 1246h4.9M660.1 1246h4.9M673.4 1246h4.9M674.7 1246h4.9M689.3 1246h4.9M652.1 1247.3h4.9M681.4 1247.3h4.9M747.9 1247.3h4.9M617.5 1248.6h4.9M661.4 1248.6h4.9M666.7 1248.6h4.9M672.1 1248.6h4.9M733.2 1248.6h4.9M622.8 1249.9h4.9M634.8 1249.9h4.9M637.5 1249.9h4.9M640.1 1249.9h4.9M642.8 1249.9h4.9M648.1 1249.9h4.9M600.2 1251.3h4.9M614.9 1251.3h4.9M618.9 1251.3h4.9M621.5 1251.3h4.9M650.8 1251.3h4.9M653.4 1251.3h4.9M674.7 1251.3h4.9M708 1251.3h4.9M727.9 1251.3h4.9M628.2 1252.6h4.9M658.8 1252.6h4.9M731.9 1252.6h4.9M753.2 1252.6h4.9M618.9 1253.9h4.9M709.3 1253.9h4.9M727.9 1253.9h4.9M609.5 1255.3h4.9M610.9 1255.3h4.9M621.5 1255.3h4.9M641.5 1255.3h4.9M652.1 1255.3h4.9M657.4 1255.3h4.9M678.7 1255.3h4.9M730.6 1255.3h4.9M738.6 1255.3h4.9M641.5 1256.6h4.9M674.7 1256.6h4.9M637.5 1257.9h4.9M650.8 1257.9h4.9M661.4 1257.9h4.9M676 1257.9h4.9M813 1257.9h4.9M613.5 1259.2h4.9M618.9 1259.2h4.9M630.8 1259.2h4.9M641.5 1259.2h4.9M661.4 1259.2h4.9M668.1 1259.2h4.9M652.1 1260.6h4.9M658.8 1260.6h4.9M613.5 1261.9h4.9M641.5 1261.9h4.9M735.9 1261.9h4.9M613.5 1263.2h4.9M638.8 1263.2h4.9M644.1 1263.2h4.9M669.4 1263.2h4.9M674.7 1263.2h4.9M680 1263.2h4.9M710.6 1263.2h4.9M601.6 1264.6h4.9M614.9 1264.6h4.9M616.2 1264.6h4.9M640.1 1264.6h4.9M650.8 1264.6h4.9M672.1 1264.6h4.9M735.9 1264.6h4.9M640.1 1265.9h4.9M646.8 1265.9h4.9M650.8 1265.9h4.9M652.1 1265.9h4.9M677.4 1265.9h4.9M684 1265.9h4.9M621.5 1267.2h4.9M658.8 1267.2h4.9M746.5 1267.2h4.9M626.8 1268.6h4.9M634.8 1268.6h4.9M640.1 1268.6h4.9M630.8 1269.9h4.9M645.5 1269.9h4.9M646.8 1269.9h4.9M658.8 1269.9h4.9M676 1269.9h4.9M741.2 1269.9h4.9M629.5 1271.2h4.9M642.8 1271.2h4.9M648.1 1271.2h4.9M654.8 1271.2h4.9M658.8 1271.2h4.9M668.1 1271.2h4.9M674.7 1271.2h4.9M676 1271.2h4.9M734.6 1271.2h4.9M614.9 1272.5h4.9M649.4 1272.5h4.9M653.4 1272.5h4.9M743.9 1272.5h4.9M662.8 1273.9h4.9M665.4 1273.9h4.9M666.7 1273.9h4.9M674.7 1273.9h4.9M708 1273.9h4.9M626.8 1275.2h4.9M636.1 1275.2h4.9M641.5 1275.2h4.9M646.8 1275.2h4.9M674.7 1275.2h4.9M632.2 1276.5h4.9M650.8 1276.5h4.9M662.8 1276.5h4.9M739.9 1276.5h4.9M625.5 1277.9h4.9M633.5 1277.9h4.9M654.8 1277.9h4.9M630.8 1279.2h4.9M636.1 1279.2h4.9M649.4 1279.2h4.9M633.5 1280.5h4.9M658.8 1280.5h4.9M674.7 1280.5h4.9M745.2 1280.5h4.9M601.6 1281.9h4.9M642.8 1281.9h4.9M646.8 1281.9h4.9M660.1 1281.9h4.9M662.8 1281.9h4.9M645.5 1283.2h4.9M649.4 1283.2h4.9M650.8 1283.2h4.9M678.7 1283.2h4.9M652.1 1284.5h4.9M653.4 1284.5h4.9M660.1 1284.5h4.9M700 1284.5h4.9M753.2 1284.5h4.9M634.8 1285.8h4.9M805.1 1285.8h4.9M634.8 1287.2h4.9M636.1 1287.2h4.9M641.5 1287.2h4.9M657.4 1287.2h4.9M741.2 1287.2h4.9M605.6 1288.5h4.9M629.5 1288.5h4.9M637.5 1288.5h4.9M644.1 1288.5h4.9M646.8 1288.5h4.9M649.4 1288.5h4.9M658.8 1288.5h4.9M666.7 1288.5h4.9M712 1288.5h4.9M640.1 1289.8h4.9M737.2 1289.8h4.9M646.8 1291.2h4.9M653.4 1291.2h4.9M665.4 1291.2h4.9M682.7 1291.2h4.9M721.3 1291.2h4.9M730.6 1291.2h4.9M626.8 1292.5h4.9M641.5 1292.5h4.9M658.8 1292.5h4.9M700 1292.5h4.9M714.6 1292.5h4.9M759.8 1292.5h4.9M641.5 1293.8h4.9M642.8 1293.8h4.9M652.1 1293.8h4.9M610.9 1295.2h4.9M629.5 1295.2h4.9M636.1 1295.2h4.9M644.1 1295.2h4.9M648.1 1295.2h4.9M654.8 1295.2h4.9M626.8 1296.5h4.9M629.5 1296.5h4.9M640.1 1296.5h4.9M641.5 1296.5h4.9M642.8 1296.5h4.9M660.1 1296.5h4.9M758.5 1296.5h4.9M612.2 1297.8h4.9M634.8 1297.8h4.9M636.1 1297.8h4.9M641.5 1297.8h4.9M660.1 1297.8h4.9M661.4 1297.8h4.9M634.8 1299.2h4.9M637.5 1299.2h4.9M645.5 1299.2h4.9M650.8 1300.5h4.9M658.8 1300.5h4.9M743.9 1300.5h4.9M629.5 1301.8h4.9M645.5 1301.8h4.9M654.8 1301.8h4.9M782.4 1301.8h4.9M629.5 1303.1h4.9M633.5 1303.1h4.9M676 1304.5h4.9M618.9 1305.8h4.9M664.1 1305.8h4.9M684 1305.8h4.9M690.7 1305.8h4.9M642.8 1307.1h4.9M684 1307.1h4.9M652.1 1308.5h4.9M657.4 1308.5h4.9M653.4 1309.8h4.9M660.1 1309.8h4.9M666.7 1309.8h4.9M610.9 1311.1h4.9M624.2 1311.1h4.9M653.4 1311.1h4.9M654.8 1311.1h4.9M660.1 1311.1h4.9M672.1 1311.1h4.9M606.9 1312.5h4.9M620.2 1312.5h4.9M674.7 1312.5h4.9M657.4 1313.8h4.9M662.8 1313.8h4.9M674.7 1313.8h4.9M653.4 1315.1h4.9M601.6 1316.4h4.9M654.8 1316.4h4.9M622.8 1317.8h4.9M649.4 1317.8h4.9M661.4 1317.8h4.9M694.7 1317.8h4.9M642.8 1320.4h4.9M645.5 1320.4h4.9M649.4 1320.4h4.9M628.2 1321.8h4.9M646.8 1321.8h4.9M653.4 1321.8h4.9M597.6 1323.1h4.9M630.8 1323.1h4.9M649.4 1323.1h4.9M696 1323.1h4.9M610.9 1324.4h4.9M620.2 1325.8h4.9M626.8 1325.8h4.9M755.8 1325.8h4.9M613.5 1327.1h4.9M630.8 1327.1h4.9M636.1 1327.1h4.9M648.1 1327.1h4.9M630.8 1328.4h4.9M638.8 1328.4h4.9M646.8 1328.4h4.9M637.5 1329.7h4.9M743.9 1329.7h4.9M614.9 1331.1h4.9M617.5 1332.4h4.9M682.7 1332.4h4.9M625.5 1333.7h4.9M661.4 1333.7h4.9M642.8 1335.1h4.9M637.5 1336.4h4.9M641.5 1336.4h4.9M650.8 1337.7h4.9M649.4 1339h4.9M645.5 1340.4h4.9M676 1340.4h4.9M670.7 1343h4.9M661.4 1344.4h4.9M686.7 1344.4h4.9M632.2 1345.7h4.9M698.7 1348.4h4.9M665.4 1352.3h4.9M624.2 1353.7h4.9M680 1353.7h4.9M661.4 1355h4.9M646.8 1375h4.9" stroke="#0000ff" stroke-width="4.9" fill="none"/>
<path d="M660.1 1120.9h4.9M652.1 1130.2h4.9M684 1132.9h4.9M700 1135.6h4.9M746.5 1136.9h4.9M700 1139.5h4.9M694.7 1140.9h4.9M737.2 1140.9h4.9M743.9 1140.9h4.9M714.6 1144.9h4.9M637.5 1146.2h4.9M658.8 1148.9h4.9M715.9 1148.9h4.9M733.2 1148.9h4.9M642.8 1152.8h4.9M640.1 1154.2h4.9M625.5 1155.5h4.9M634.8 1159.5h4.9M650.8 1160.8h4.9M622.8 1172.8h4.9M616.2 1182.1h4.9M641.5 1190.1h4.9M633.5 1191.4h4.9M634.8 1207.4h4.9M636.1 1211.4h4.9M628.2 1214h4.9M625.5 1226h4.9M640.1 1227.3h4.9M644.1 1231.3h4.9M641.5 1253.9h4.9M673.4 1259.2h4.9M658.8 1283.2h4.9M656.1 1296.5h4.9M646.8 1309.8h4.9M648.1 1323.1h4.9" stroke="#ff4500" stroke-width="4.9" fill="none"/>
<path d="M730.6 1143.5h4.9" stroke="#ff0000" stroke-width="4.9" fill="none"/>
<rect x="591.4" y="1071.9" width="289" height="138" fill="none" stroke="#000" stroke-width="2.2"/>
<rect x="684" y="1215.3" width="195.1" height="143.2" fill="none" stroke="#000" stroke-width="2.2"/>
<path d="M755.3 1379.1v3.6M755.4 1379.1v3.6M755.6 1379.1v3.6M755.7 1379.1v3.6M755.1 1379.1v3.6M755 1379.1v3.6M754.8 1379.1v3.6M754.7 1379.1v3.6" stroke="#000" stroke-width="1.3" fill="none"/>
<path d="M755.5 1379.1v6.8M758 1379.1v6.8M778.8 1379.1v6.8M856.1 1379.1v6.8M754.9 1379.1v6.8M752.3 1379.1v6.8M731.2 1379.1v6.8M653.1 1379.1v6.8" stroke="#000" stroke-width="1.7" fill="none"/>
<path d="M755.8 1379.1v9.5M760.7 1379.1v9.5M795.5 1379.1v9.5M889.6 1379.1v9.5M754.6 1379.1v9.5M749.5 1379.1v9.5M714.1 1379.1v9.5M619.5 1379.1v9.5" stroke="#000" stroke-width="2.4" fill="none"/>
<path d="M756.4 1379.1v4.3M756.9 1379.1v4.3M757.5 1379.1v4.3M758.6 1379.1v4.3M759.1 1379.1v4.3M759.7 1379.1v4.3M760.2 1379.1v4.3M765.8 1379.1v4.3M770.5 1379.1v4.3M774.8 1379.1v4.3M782.5 1379.1v4.3M786.1 1379.1v4.3M789.4 1379.1v4.3M792.5 1379.1v4.3M817.9 1379.1v4.3M833.8 1379.1v4.3M846.1 1379.1v4.3M864.7 1379.1v4.3M872 1379.1v4.3M878.5 1379.1v4.3M884.3 1379.1v4.3M754 1379.1v4.3M753.4 1379.1v4.3M752.9 1379.1v4.3M751.7 1379.1v4.3M751.2 1379.1v4.3M750.6 1379.1v4.3M750.1 1379.1v4.3M744.4 1379.1v4.3M739.6 1379.1v4.3M735.2 1379.1v4.3M727.3 1379.1v4.3M723.7 1379.1v4.3M720.3 1379.1v4.3M717.1 1379.1v4.3M691.6 1379.1v4.3M675.6 1379.1v4.3M663.3 1379.1v4.3M644.6 1379.1v4.3M637.2 1379.1v4.3M630.6 1379.1v4.3M624.8 1379.1v4.3" stroke="#000" stroke-width="1.2" fill="none"/>
<path d="M755.2 1379.1v8.5" stroke="#000" stroke-width="2.6" fill="none"/>
<text x="619.5" y="1403.1" font-size="13.4" font-weight="bold" text-anchor="middle">10<tspan font-size="9" dy="-4">4</tspan></text>
<text x="755.2" y="1403.1" font-size="13.4" font-weight="bold" text-anchor="middle">0</text>
<text x="889.6" y="1403.1" font-size="13.4" font-weight="bold" text-anchor="middle">10<tspan font-size="9" dy="-4">4</tspan></text>
<path d="M585.4 1253.8h-3.6M585.4 1253.7h-3.6M585.4 1253.5h-3.6M585.4 1253.4h-3.6M585.4 1254h-3.6M585.4 1254.1h-3.6M585.4 1254.3h-3.6M585.4 1254.4h-3.6" stroke="#000" stroke-width="1.3" fill="none"/>
<path d="M585.4 1253.6h-6.8M585.4 1250.9h-6.8M585.4 1227.6h-6.8M585.4 1158.7h-6.8M585.4 1086.6h-6.8M585.4 1254.2h-6.8M585.4 1256.9h-6.8M585.4 1279.7h-6.8M585.4 1348h-6.8" stroke="#000" stroke-width="1.7" fill="none"/>
<path d="M585.4 1253.3h-9.5M585.4 1248h-9.5M585.4 1208.6h-9.5M585.4 1131.2h-9.5M585.4 1066.7h-9.5M585.4 1254.5h-9.5M585.4 1259.8h-9.5M585.4 1298.2h-9.5M585.4 1375.4h-9.5" stroke="#000" stroke-width="2.4" fill="none"/>
<path d="M585.4 1252.7h-4.3M585.4 1252.1h-4.3M585.4 1251.5h-4.3M585.4 1250.3h-4.3M585.4 1249.7h-4.3M585.4 1249.1h-4.3M585.4 1248.6h-4.3M585.4 1242.3h-4.3M585.4 1237h-4.3M585.4 1232.1h-4.3M585.4 1223.3h-4.3M585.4 1219.3h-4.3M585.4 1215.5h-4.3M585.4 1212h-4.3M585.4 1190.2h-4.3M585.4 1177.1h-4.3M585.4 1167h-4.3M585.4 1151.7h-4.3M585.4 1145.7h-4.3M585.4 1140.3h-4.3M585.4 1135.5h-4.3M585.4 1112.4h-4.3M585.4 1101.1h-4.3M585.4 1092.9h-4.3M585.4 1081.4h-4.3M585.4 1077h-4.3M585.4 1073.1h-4.3M585.4 1069.7h-4.3M585.4 1046.7h-4.3M585.4 1255.1h-4.3M585.4 1255.7h-4.3M585.4 1256.3h-4.3M585.4 1257.5h-4.3M585.4 1258.1h-4.3M585.4 1258.7h-4.3M585.4 1259.2h-4.3M585.4 1265.4h-4.3M585.4 1270.5h-4.3M585.4 1275.3h-4.3M585.4 1283.9h-4.3M585.4 1287.8h-4.3M585.4 1291.4h-4.3M585.4 1294.9h-4.3M585.4 1316.6h-4.3M585.4 1329.6h-4.3M585.4 1339.7h-4.3M585.4 1354.9h-4.3M585.4 1361h-4.3M585.4 1366.3h-4.3M585.4 1371.1h-4.3" stroke="#000" stroke-width="1.2" fill="none"/>
<path d="M585.4 1253.9h-8.5" stroke="#000" stroke-width="2.6" fill="none"/>
<text x="574.8" y="1069.2" font-size="13.4" font-weight="bold" text-anchor="end">10<tspan font-size="9" dy="-4">5</tspan></text>
<text x="574.8" y="1133.7" font-size="13.4" font-weight="bold" text-anchor="end">10<tspan font-size="9" dy="-4">4</tspan></text>
<text x="574.8" y="1211.1" font-size="13.4" font-weight="bold" text-anchor="end">10<tspan font-size="9" dy="-4">3</tspan></text>
<text x="574.8" y="1258" font-size="13.4" font-weight="bold" text-anchor="end">0</text>
<text x="574.8" y="1300.7" font-size="13.4" font-weight="bold" text-anchor="end">-10<tspan font-size="9" dy="-4">3</tspan></text>
<text x="574.8" y="1377.9" font-size="13.4" font-weight="bold" text-anchor="end">-10<tspan font-size="9" dy="-4">4</tspan></text>
<text x="584.6" y="1033.1" font-size="27.3">CD45.2 YFP+</text>
<text x="816.2" y="1099.6" font-size="28.6">50.5</text>
<text x="818.9" y="1349" font-size="28.6">14.6</text>
<text x="754.3" y="1429.9" font-size="28" text-anchor="middle">CD64 - BV711</text>
<text x="538.6" y="1209.7" font-size="28" text-anchor="middle" transform="rotate(-90 538.6 1209.7)">CCR2 - BV421</text>
<rect x="1057.1" y="1041.1" width="340.6" height="339" fill="#fff" stroke="#3c3c3c" stroke-width="1.15"/>
<path d="M1075.9 1070.4h4.9M1292.7 1091.6h4.9M1110.5 1094.3h4.9M1162.4 1098.3h4.9M1202.3 1099.6h4.9M1280.7 1102.3h4.9M1307.3 1110.3h4.9M1316.7 1112.9h4.9M1271.4 1114.2h4.9M1303.4 1114.2h4.9M1311.3 1114.2h4.9M1283.4 1115.6h4.9M1311.3 1115.6h4.9M1137.1 1118.2h4.9M1218.2 1118.2h4.9M1380.5 1118.2h4.9M1278.1 1119.6h4.9M1187.6 1120.9h4.9M1255.5 1120.9h4.9M1190.3 1122.2h4.9M1292.7 1122.2h4.9M1302 1122.2h4.9M1214.2 1123.6h4.9M1287.4 1123.6h4.9M1162.4 1124.9h4.9M1294 1124.9h4.9M1304.7 1124.9h4.9M1310 1124.9h4.9M1162.4 1126.2h4.9M1290.1 1126.2h4.9M1303.4 1126.2h4.9M1296.7 1127.5h4.9M1311.3 1127.5h4.9M1315.3 1127.5h4.9M1287.4 1128.9h4.9M1299.4 1128.9h4.9M1312.7 1128.9h4.9M1153.1 1130.2h4.9M1298 1130.2h4.9M1303.4 1130.2h4.9M1328.6 1130.2h4.9M1179.7 1131.5h4.9M1316.7 1131.5h4.9M1131.8 1132.9h4.9M1226.2 1132.9h4.9M1274.1 1132.9h4.9M1294 1132.9h4.9M1111.8 1134.2h4.9M1266.1 1134.2h4.9M1308.7 1134.2h4.9M1311.3 1134.2h4.9M1157.1 1135.5h4.9M1224.9 1135.5h4.9M1275.4 1135.5h4.9M1283.4 1135.5h4.9M1290.1 1135.5h4.9M1294 1135.5h4.9M1299.4 1135.5h4.9M1300.7 1135.5h4.9M1302 1135.5h4.9M1324.6 1135.5h4.9M1127.8 1136.9h4.9M1268.8 1136.9h4.9M1274.1 1136.9h4.9M1279.4 1136.9h4.9M1292.7 1136.9h4.9M1154.4 1138.2h4.9M1173 1138.2h4.9M1222.2 1138.2h4.9M1287.4 1138.2h4.9M1296.7 1138.2h4.9M1143.8 1139.5h4.9M1296.7 1139.5h4.9M1300.7 1139.5h4.9M1302 1139.5h4.9M1147.7 1140.8h4.9M1200.9 1140.8h4.9M1208.9 1140.8h4.9M1288.7 1140.8h4.9M1292.7 1140.8h4.9M1302 1140.8h4.9M1304.7 1140.8h4.9M1311.3 1140.8h4.9M1111.8 1142.2h4.9M1143.8 1142.2h4.9M1214.2 1142.2h4.9M1228.9 1142.2h4.9M1288.7 1142.2h4.9M1298 1142.2h4.9M1299.4 1142.2h4.9M1304.7 1142.2h4.9M1330 1142.2h4.9M1214.2 1143.5h4.9M1323.3 1143.5h4.9M1097.2 1144.8h4.9M1195.6 1144.8h4.9M1254.1 1144.8h4.9M1295.4 1144.8h4.9M1300.7 1144.8h4.9M1097.2 1146.2h4.9M1191.6 1146.2h4.9M1220.9 1146.2h4.9M1248.8 1146.2h4.9M1258.1 1146.2h4.9M1296.7 1146.2h4.9M1299.4 1146.2h4.9M1174.3 1147.5h4.9M1260.8 1147.5h4.9M1298 1147.5h4.9M1064 1148.8h4.9M1147.7 1148.8h4.9M1154.4 1148.8h4.9M1159.7 1148.8h4.9M1222.2 1148.8h4.9M1284.7 1148.8h4.9M1291.4 1148.8h4.9M1294 1148.8h4.9M1295.4 1148.8h4.9M1298 1148.8h4.9M1299.4 1148.8h4.9M1300.7 1148.8h4.9M1302 1148.8h4.9M1107.8 1150.2h4.9M1138.4 1150.2h4.9M1149.1 1150.2h4.9M1177 1150.2h4.9M1318 1150.2h4.9M1098.5 1151.5h4.9M1131.8 1151.5h4.9M1216.9 1151.5h4.9M1227.5 1151.5h4.9M1228.9 1151.5h4.9M1296.7 1151.5h4.9M1314 1151.5h4.9M1154.4 1152.8h4.9M1186.3 1152.8h4.9M1207.6 1152.8h4.9M1268.8 1152.8h4.9M1288.7 1152.8h4.9M1141.1 1154.1h4.9M1150.4 1154.1h4.9M1231.5 1154.1h4.9M1295.4 1154.1h4.9M1299.4 1154.1h4.9M1308.7 1154.1h4.9M1312.7 1154.1h4.9M1198.3 1155.5h4.9M1286.1 1155.5h4.9M1288.7 1155.5h4.9M1300.7 1155.5h4.9M1304.7 1155.5h4.9M1308.7 1155.5h4.9M1315.3 1155.5h4.9M1121.1 1156.8h4.9M1129.1 1156.8h4.9M1151.7 1156.8h4.9M1185 1156.8h4.9M1276.8 1156.8h4.9M1299.4 1156.8h4.9M1307.3 1156.8h4.9M1236.9 1158.1h4.9M1288.7 1158.1h4.9M1300.7 1158.1h4.9M1186.3 1159.5h4.9M1276.8 1159.5h4.9M1290.1 1159.5h4.9M1295.4 1159.5h4.9M1302 1159.5h4.9M1306 1159.5h4.9M1143.8 1160.8h4.9M1193 1160.8h4.9M1224.9 1160.8h4.9M1284.7 1160.8h4.9M1292.7 1160.8h4.9M1276.8 1162.1h4.9M1296.7 1162.1h4.9M1302 1162.1h4.9M1138.4 1163.5h4.9M1212.9 1163.5h4.9M1254.1 1163.5h4.9M1282.1 1163.5h4.9M1319.3 1163.5h4.9M1320.6 1163.5h4.9M1060 1164.8h4.9M1190.3 1164.8h4.9M1195.6 1164.8h4.9M1274.1 1164.8h4.9M1288.7 1164.8h4.9M1135.8 1166.1h4.9M1173 1166.1h4.9M1279.4 1166.1h4.9M1308.7 1166.1h4.9M1169 1167.4h4.9M1206.3 1167.4h4.9M1239.5 1167.4h4.9M1295.4 1167.4h4.9M1296.7 1167.4h4.9M1302 1167.4h4.9M1133.1 1168.8h4.9M1134.4 1168.8h4.9M1165 1168.8h4.9M1191.6 1168.8h4.9M1232.9 1168.8h4.9M1283.4 1168.8h4.9M1290.1 1168.8h4.9M1294 1168.8h4.9M1300.7 1168.8h4.9M1306 1168.8h4.9M1311.3 1168.8h4.9M1315.3 1168.8h4.9M1185 1170.1h4.9M1287.4 1170.1h4.9M1299.4 1170.1h4.9M1286.1 1171.4h4.9M1300.7 1171.4h4.9M1141.1 1172.8h4.9M1189 1172.8h4.9M1199.6 1172.8h4.9M1310 1172.8h4.9M1200.9 1174.1h4.9M1294 1174.1h4.9M1324.6 1174.1h4.9M1154.4 1175.4h4.9M1290.1 1175.4h4.9M1311.3 1175.4h4.9M1291.4 1176.8h4.9M1310 1178.1h4.9M1103.9 1179.4h4.9M1190.3 1179.4h4.9M1319.3 1179.4h4.9M1153.1 1180.8h4.9M1162.4 1180.8h4.9M1165 1180.8h4.9M1278.1 1180.8h4.9M1282.1 1180.8h4.9M1298 1180.8h4.9M1316.7 1180.8h4.9M1158.4 1182.1h4.9M1284.7 1182.1h4.9M1315.3 1182.1h4.9M1315.3 1183.4h4.9M1134.4 1186.1h4.9M1280.7 1186.1h4.9M1298 1187.4h4.9M1310 1187.4h4.9M1191.6 1188.7h4.9M1311.3 1188.7h4.9M1320.6 1188.7h4.9M1239.5 1190.1h4.9M1248.8 1190.1h4.9M1298 1190.1h4.9M1304.7 1190.1h4.9M1230.2 1192.7h4.9M1308.7 1192.7h4.9M1170.4 1194h4.9M1272.8 1194h4.9M1280.7 1195.4h4.9M1296.7 1195.4h4.9M1279.4 1196.7h4.9M1223.6 1198h4.9M1162.4 1199.4h4.9M1199.6 1199.4h4.9M1291.4 1199.4h4.9M1303.4 1199.4h4.9M1211.6 1202h4.9M1256.8 1202h4.9M1302 1204.7h4.9M1298 1206h4.9M1202.3 1207.3h4.9M1162.4 1208.7h4.9M1314 1210h4.9M1175.7 1212.7h4.9M1291.4 1214h4.9M1286.1 1215.3h4.9M1286.1 1216.7h4.9M1234.2 1218h4.9M1197 1223.3h4.9M1206.3 1224.6h4.9M1290.1 1235.3h4.9M1133.1 1237.9h4.9M1220.9 1237.9h4.9M1256.8 1237.9h4.9M1284.7 1239.3h4.9M1190.3 1243.3h4.9M1279.4 1243.3h4.9M1260.8 1244.6h4.9M1268.8 1244.6h4.9M1274.1 1244.6h4.9M1228.9 1245.9h4.9M1288.7 1245.9h4.9M1244.8 1247.2h4.9M1299.4 1247.2h4.9M1173 1248.6h4.9M1204.9 1249.9h4.9M1212.9 1252.6h4.9M1222.2 1252.6h4.9M1218.2 1253.9h4.9M1194.3 1255.2h4.9M1208.9 1255.2h4.9M1218.2 1255.2h4.9M1255.5 1255.2h4.9M1204.9 1256.6h4.9M1254.1 1257.9h4.9M1287.4 1257.9h4.9M1310 1257.9h4.9M1198.3 1259.2h4.9M1215.6 1261.9h4.9M1219.6 1261.9h4.9M1223.6 1261.9h4.9M1226.2 1264.5h4.9M1243.5 1264.5h4.9M1291.4 1264.5h4.9M1195.6 1265.9h4.9M1190.3 1267.2h4.9M1185 1268.5h4.9M1210.3 1269.9h4.9M1218.2 1269.9h4.9M1212.9 1271.2h4.9M1284.7 1271.2h4.9M1303.4 1271.2h4.9M1280.7 1272.5h4.9M1177 1273.8h4.9M1204.9 1273.8h4.9M1236.9 1273.8h4.9M1210.3 1275.2h4.9M1224.9 1275.2h4.9M1264.8 1275.2h4.9M1280.7 1276.5h4.9M1302 1276.5h4.9M1154.4 1277.8h4.9M1234.2 1277.8h4.9M1185 1279.2h4.9M1271.4 1279.2h4.9M1228.9 1280.5h4.9M1240.8 1280.5h4.9M1246.2 1280.5h4.9M1255.5 1280.5h4.9M1171.7 1281.8h4.9M1175.7 1281.8h4.9M1228.9 1281.8h4.9M1294 1281.8h4.9M1135.8 1284.5h4.9M1218.2 1284.5h4.9M1234.2 1284.5h4.9M1235.5 1285.8h4.9M1270.1 1285.8h4.9M1282.1 1285.8h4.9M1284.7 1285.8h4.9M1247.5 1287.1h4.9M1256.8 1287.1h4.9M1171.7 1288.5h4.9M1215.6 1288.5h4.9M1230.2 1288.5h4.9M1276.8 1289.8h4.9M1190.3 1291.1h4.9M1183.7 1292.5h4.9M1193 1293.8h4.9M1234.2 1293.8h4.9M1295.4 1293.8h4.9M1306 1293.8h4.9M1195.6 1295.1h4.9M1204.9 1295.1h4.9M1246.2 1295.1h4.9M1268.8 1295.1h4.9M1270.1 1295.1h4.9M1303.4 1295.1h4.9M1255.5 1296.5h4.9M1260.8 1296.5h4.9M1207.6 1297.8h4.9M1228.9 1297.8h4.9M1186.3 1299.1h4.9M1244.8 1299.1h4.9M1287.4 1301.8h4.9M1216.9 1303.1h4.9M1250.2 1303.1h4.9M1267.4 1303.1h4.9M1296.7 1303.1h4.9M1298 1303.1h4.9M1169 1304.4h4.9M1236.9 1304.4h4.9M1268.8 1304.4h4.9M1274.1 1304.4h4.9M1169 1305.8h4.9M1194.3 1305.8h4.9M1199.6 1305.8h4.9M1210.3 1305.8h4.9M1232.9 1305.8h4.9M1284.7 1305.8h4.9M1286.1 1305.8h4.9M1296.7 1305.8h4.9M1193 1307.1h4.9M1250.2 1307.1h4.9M1272.8 1307.1h4.9M1182.3 1308.4h4.9M1232.9 1309.8h4.9M1243.5 1309.8h4.9M1271.4 1309.8h4.9M1274.1 1309.8h4.9M1282.1 1309.8h4.9M1142.4 1311.1h4.9M1200.9 1311.1h4.9M1279.4 1311.1h4.9M1286.1 1311.1h4.9M1242.2 1312.4h4.9M1251.5 1312.4h4.9M1284.7 1312.4h4.9M1175.7 1313.8h4.9M1197 1313.8h4.9M1286.1 1313.8h4.9M1220.9 1315.1h4.9M1271.4 1315.1h4.9M1275.4 1316.4h4.9M1280.7 1319.1h4.9M1170.4 1320.4h4.9M1212.9 1320.4h4.9M1216.9 1320.4h4.9M1218.2 1320.4h4.9M1248.8 1320.4h4.9M1276.8 1320.4h4.9M1146.4 1321.7h4.9M1278.1 1321.7h4.9M1300.7 1323.1h4.9M1187.6 1324.4h4.9M1228.9 1324.4h4.9M1282.1 1324.4h4.9M1268.8 1325.7h4.9M1298 1325.7h4.9M1306 1327h4.9M1230.2 1328.4h4.9M1246.2 1328.4h4.9M1333.9 1328.4h4.9M1228.9 1329.7h4.9M1291.4 1331h4.9M1304.7 1331h4.9M1275.4 1332.4h4.9M1199.6 1335h4.9M1296.7 1335h4.9M1214.2 1337.7h4.9M1250.2 1337.7h4.9M1207.6 1339h4.9M1274.1 1339h4.9M1286.1 1339h4.9M1207.6 1340.3h4.9M1153.1 1341.7h4.9M1200.9 1341.7h4.9M1251.5 1341.7h4.9M1295.4 1343h4.9M1306 1343h4.9M1294 1344.3h4.9M1296.7 1344.3h4.9M1215.6 1345.7h4.9M1234.2 1345.7h4.9M1291.4 1345.7h4.9M1222.2 1348.3h4.9M1280.7 1348.3h4.9M1290.1 1348.3h4.9M1308.7 1348.3h4.9M1284.7 1351h4.9M1298 1351h4.9M1174.3 1352.3h4.9M1295.4 1356.3h4.9M1200.9 1359h4.9M1260.8 1359h4.9M1276.8 1359h4.9M1280.7 1359h4.9M1214.2 1360.3h4.9M1283.4 1360.3h4.9M1272.8 1361.6h4.9M1174.3 1363h4.9M1203.6 1364.3h4.9M1278.1 1364.3h4.9M1268.8 1365.6h4.9M1286.1 1365.6h4.9M1262.1 1370.9h4.9M1232.9 1372.3h4.9M1307.3 1372.3h4.9M1234.2 1374.9h4.9" stroke="#0000ff" stroke-width="4.9" fill="none"/>
<path d="M1189 1139.5h4.9M1302 1147.5h4.9M1299.4 1155.5h4.9M1212.9 1156.8h4.9M1290.1 1156.8h4.9M1299.4 1159.5h4.9M1185 1160.8h4.9M1308.7 1167.4h4.9M1306 1170.1h4.9M1298 1178.1h4.9M1215.6 1309.8h4.9" stroke="#ff2000" stroke-width="4.9" fill="none"/>
<path d="M1255 1041.1V1380.1M1057.1 1192.4H1397.7" stroke="#000" stroke-width="2.2" fill="none"/>
<path d="M1149.5 1380.1v3.6M1150.9 1380.1v3.6M1152.2 1380.1v3.6M1153.3 1380.1v3.6M1155.5 1380.1v3.6M1156.4 1380.1v3.6M1157.3 1380.1v3.6M1158.2 1380.1v3.6M1146.5 1380.1v3.6M1145.1 1380.1v3.6M1143.8 1380.1v3.6M1142.7 1380.1v3.6M1140.5 1380.1v3.6M1139.6 1380.1v3.6M1138.7 1380.1v3.6M1137.8 1380.1v3.6" stroke="#000" stroke-width="1.3" fill="none"/>
<path d="M1154.4 1380.1v6.8M1191.5 1380.1v6.8M1250.5 1380.1v6.8M1305.6 1380.1v6.8M1357.7 1380.1v6.8M1141.6 1380.1v6.8M1104.8 1380.1v6.8" stroke="#000" stroke-width="1.7" fill="none"/>
<path d="M1159 1380.1v9.5M1209.5 1380.1v9.5M1268.7 1380.1v9.5M1321.5 1380.1v9.5M1373.3 1380.1v9.5M1137 1380.1v9.5M1087 1380.1v9.5" stroke="#000" stroke-width="2.4" fill="none"/>
<path d="M1171 1380.1v4.3M1179.5 1380.1v4.3M1186.1 1380.1v4.3M1196.1 1380.1v4.3M1200.1 1380.1v4.3M1203.6 1380.1v4.3M1206.7 1380.1v4.3M1226.8 1380.1v4.3M1237.2 1380.1v4.3M1244.6 1380.1v4.3M1255.2 1380.1v4.3M1259.3 1380.1v4.3M1262.8 1380.1v4.3M1265.9 1380.1v4.3M1284.5 1380.1v4.3M1293.8 1380.1v4.3M1300.4 1380.1v4.3M1309.8 1380.1v4.3M1313.3 1380.1v4.3M1316.4 1380.1v4.3M1319.1 1380.1v4.3M1337.1 1380.1v4.3M1346.2 1380.1v4.3M1352.7 1380.1v4.3M1361.8 1380.1v4.3M1365.3 1380.1v4.3M1368.3 1380.1v4.3M1370.9 1380.1v4.3M1388.9 1380.1v4.3M1125.1 1380.1v4.3M1116.7 1380.1v4.3M1110.1 1380.1v4.3M1100.3 1380.1v4.3M1096.3 1380.1v4.3M1092.9 1380.1v4.3M1089.8 1380.1v4.3M1068 1380.1v4.3" stroke="#000" stroke-width="1.2" fill="none"/>
<path d="M1148 1380.1v8.5" stroke="#000" stroke-width="2.6" fill="none"/>
<text x="1087" y="1404.1" font-size="13.4" font-weight="bold" text-anchor="middle">-10<tspan font-size="9" dy="-4">2</tspan></text>
<text x="1148" y="1404.1" font-size="13.4" font-weight="bold" text-anchor="middle">0</text>
<text x="1209.5" y="1404.1" font-size="13.4" font-weight="bold" text-anchor="middle">10<tspan font-size="9" dy="-4">2</tspan></text>
<text x="1268.7" y="1404.1" font-size="13.4" font-weight="bold" text-anchor="middle">10<tspan font-size="9" dy="-4">3</tspan></text>
<text x="1321.5" y="1404.1" font-size="13.4" font-weight="bold" text-anchor="middle">10<tspan font-size="9" dy="-4">4</tspan></text>
<text x="1373.3" y="1404.1" font-size="13.4" font-weight="bold" text-anchor="middle">10<tspan font-size="9" dy="-4">5</tspan></text>
<path d="M1057.1 1247.7h-8.5" stroke="#000" stroke-width="2.6" fill="none"/>
<path d="M1057.1 1247.6h-3.6M1057.1 1247.4h-3.6M1057.1 1247.8h-3.6M1057.1 1248h-3.6" stroke="#000" stroke-width="1.3" fill="none"/>
<path d="M1057.1 1247.5h-6.8M1057.1 1245.7h-6.8M1057.1 1228.6h-6.8M1057.1 1163.8h-6.8M1057.1 1088.7h-6.8M1057.1 1247.9h-6.8M1057.1 1249.7h-6.8M1057.1 1265.1h-6.8M1057.1 1328.9h-6.8" stroke="#000" stroke-width="1.7" fill="none"/>
<path d="M1057.1 1247.3h-9.5M1057.1 1243.7h-9.5M1057.1 1214.6h-9.5M1057.1 1135.7h-9.5M1057.1 1067.7h-9.5M1057.1 1248.1h-9.5M1057.1 1251.7h-9.5M1057.1 1277.6h-9.5M1057.1 1357.2h-9.5" stroke="#000" stroke-width="2.4" fill="none"/>
<path d="M1057.1 1246.9h-4.3M1057.1 1246.5h-4.3M1057.1 1246.1h-4.3M1057.1 1245.3h-4.3M1057.1 1244.9h-4.3M1057.1 1244.5h-4.3M1057.1 1244.1h-4.3M1057.1 1239.5h-4.3M1057.1 1235.6h-4.3M1057.1 1232h-4.3M1057.1 1225.5h-4.3M1057.1 1222.5h-4.3M1057.1 1219.7h-4.3M1057.1 1217.1h-4.3M1057.1 1195.8h-4.3M1057.1 1182.5h-4.3M1057.1 1172.2h-4.3M1057.1 1156.6h-4.3M1057.1 1150.4h-4.3M1057.1 1145h-4.3M1057.1 1140.1h-4.3M1057.1 1115.9h-4.3M1057.1 1103.9h-4.3M1057.1 1095.3h-4.3M1057.1 1083.2h-4.3M1057.1 1078.5h-4.3M1057.1 1074.5h-4.3M1057.1 1070.9h-4.3M1057.1 1046.6h-4.3M1057.1 1248.5h-4.3M1057.1 1248.9h-4.3M1057.1 1249.3h-4.3M1057.1 1250.1h-4.3M1057.1 1250.5h-4.3M1057.1 1250.9h-4.3M1057.1 1251.3h-4.3M1057.1 1255.5h-4.3M1057.1 1258.9h-4.3M1057.1 1262.1h-4.3M1057.1 1267.9h-4.3M1057.1 1270.6h-4.3M1057.1 1273h-4.3M1057.1 1275.4h-4.3M1057.1 1296.5h-4.3M1057.1 1310h-4.3M1057.1 1320.4h-4.3M1057.1 1336.1h-4.3M1057.1 1342.3h-4.3M1057.1 1347.8h-4.3M1057.1 1352.7h-4.3" stroke="#000" stroke-width="1.2" fill="none"/>
<text x="1046.5" y="1070.2" font-size="13.4" font-weight="bold" text-anchor="end">10<tspan font-size="9" dy="-4">5</tspan></text>
<text x="1046.5" y="1138.2" font-size="13.4" font-weight="bold" text-anchor="end">10<tspan font-size="9" dy="-4">4</tspan></text>
<text x="1046.5" y="1217.1" font-size="13.4" font-weight="bold" text-anchor="end">10<tspan font-size="9" dy="-4">3</tspan></text>
<text x="1046.5" y="1251.8" font-size="13.4" font-weight="bold" text-anchor="end">0</text>
<text x="1046.5" y="1280.1" font-size="13.4" font-weight="bold" text-anchor="end">-10<tspan font-size="9" dy="-4">3</tspan></text>
<text x="1046.5" y="1359.7" font-size="13.4" font-weight="bold" text-anchor="end">-10<tspan font-size="9" dy="-4">4</tspan></text>
<text x="1055.8" y="1034.1" font-size="27.2">CCR2+</text>
<text x="1059.4" y="1066" font-size="28.6">13.8</text>
<text x="1341.2" y="1066" font-size="28.6">14.5</text>
<text x="1340" y="1373.4" font-size="28.6">18.2</text>
<text x="1227.3" y="1434.4" font-size="28" text-anchor="middle">MHC II - AF700</text>
<text x="1014.8" y="1211" font-size="28" text-anchor="middle" transform="rotate(-90 1014.8 1211)">Ly6C - PerCP/Cy5.5</text>
<rect x="1529.6" y="1041.1" width="341.1" height="339.8" fill="#fff" stroke="#3c3c3c" stroke-width="1.15"/>
<path d="M1743.9 1050.4h4.9M1714.7 1065h4.9M1544.4 1091.6h4.9M1761.2 1094.3h4.9M1721.3 1095.6h4.9M1759.9 1095.6h4.9M1759.9 1098.3h4.9M1610.9 1099.6h4.9M1696.1 1099.6h4.9M1617.6 1100.9h4.9M1673.4 1103.6h4.9M1742.6 1104.9h4.9M1597.6 1110.3h4.9M1583 1116.9h4.9M1685.4 1128.9h4.9M1638.9 1131.5h4.9M1794.5 1138.2h4.9M1673.4 1139.5h4.9M1787.8 1140.8h4.9M1700 1146.2h4.9M1633.5 1148.8h4.9M1640.2 1148.8h4.9M1755.9 1148.8h4.9M1762.6 1148.8h4.9M1771.9 1148.8h4.9M1706.7 1150.2h4.9M1688.1 1151.5h4.9M1750.6 1152.8h4.9M1837 1152.8h4.9M1688.1 1158.1h4.9M1741.3 1158.1h4.9M1758.6 1158.1h4.9M1781.2 1158.1h4.9M1666.8 1160.8h4.9M1750.6 1160.8h4.9M1794.5 1160.8h4.9M1805.1 1160.8h4.9M1724 1162.1h4.9M1648.2 1163.5h4.9M1713.3 1163.5h4.9M1786.5 1164.8h4.9M1802.5 1164.8h4.9M1713.3 1167.4h4.9M1775.9 1167.4h4.9M1818.4 1167.4h4.9M1761.2 1168.8h4.9M1825.1 1168.8h4.9M1712 1170.1h4.9M1765.2 1170.1h4.9M1754.6 1171.4h4.9M1645.5 1172.8h4.9M1577.7 1174.1h4.9M1634.9 1174.1h4.9M1685.4 1174.1h4.9M1700 1174.1h4.9M1597.6 1175.4h4.9M1646.8 1175.4h4.9M1759.9 1175.4h4.9M1660.1 1176.8h4.9M1729.3 1176.8h4.9M1746.6 1178.1h4.9M1769.2 1178.1h4.9M1786.5 1178.1h4.9M1769.2 1179.4h4.9M1700 1180.8h4.9M1721.3 1180.8h4.9M1763.9 1180.8h4.9M1637.5 1182.1h4.9M1725.3 1182.1h4.9M1726.6 1182.1h4.9M1728 1182.1h4.9M1739.9 1182.1h4.9M1758.6 1182.1h4.9M1810.4 1182.1h4.9M1583 1183.4h4.9M1697.4 1184.7h4.9M1738.6 1184.7h4.9M1718.7 1186.1h4.9M1725.3 1186.1h4.9M1755.9 1186.1h4.9M1617.6 1187.4h4.9M1628.2 1187.4h4.9M1646.8 1187.4h4.9M1717.3 1187.4h4.9M1834.4 1187.4h4.9M1620.2 1188.7h4.9M1661.5 1188.7h4.9M1763.9 1188.7h4.9M1583 1190.1h4.9M1610.9 1190.1h4.9M1658.8 1190.1h4.9M1716 1190.1h4.9M1729.3 1190.1h4.9M1754.6 1190.1h4.9M1770.5 1190.1h4.9M1773.2 1190.1h4.9M1790.5 1190.1h4.9M1618.9 1191.4h4.9M1593.6 1192.7h4.9M1618.9 1192.7h4.9M1673.4 1192.7h4.9M1709.4 1192.7h4.9M1720 1192.7h4.9M1770.5 1192.7h4.9M1618.9 1194h4.9M1625.6 1194h4.9M1630.9 1194h4.9M1648.2 1194h4.9M1654.8 1194h4.9M1717.3 1194h4.9M1743.9 1194h4.9M1745.3 1194h4.9M1797.1 1194h4.9M1628.2 1195.4h4.9M1668.1 1195.4h4.9M1696.1 1195.4h4.9M1720 1195.4h4.9M1765.2 1195.4h4.9M1781.2 1195.4h4.9M1572.4 1196.7h4.9M1676.1 1196.7h4.9M1753.2 1196.7h4.9M1762.6 1196.7h4.9M1610.9 1198h4.9M1617.6 1198h4.9M1648.2 1198h4.9M1693.4 1198h4.9M1722.7 1198h4.9M1742.6 1198h4.9M1750.6 1198h4.9M1802.5 1198h4.9M1698.7 1199.4h4.9M1721.3 1199.4h4.9M1726.6 1199.4h4.9M1746.6 1199.4h4.9M1782.5 1199.4h4.9M1829.1 1199.4h4.9M1565.7 1200.7h4.9M1591 1200.7h4.9M1640.2 1200.7h4.9M1642.9 1200.7h4.9M1654.8 1200.7h4.9M1670.8 1200.7h4.9M1730.6 1200.7h4.9M1758.6 1200.7h4.9M1759.9 1200.7h4.9M1766.5 1200.7h4.9M1771.9 1200.7h4.9M1774.5 1200.7h4.9M1777.2 1200.7h4.9M1545.8 1202h4.9M1717.3 1202h4.9M1743.9 1202h4.9M1762.6 1202h4.9M1767.9 1202h4.9M1770.5 1202h4.9M1794.5 1202h4.9M1662.8 1203.4h4.9M1714.7 1203.4h4.9M1737.3 1203.4h4.9M1775.9 1203.4h4.9M1782.5 1203.4h4.9M1597.6 1204.7h4.9M1658.8 1204.7h4.9M1693.4 1204.7h4.9M1729.3 1204.7h4.9M1743.9 1204.7h4.9M1754.6 1204.7h4.9M1773.2 1204.7h4.9M1779.8 1204.7h4.9M1786.5 1204.7h4.9M1787.8 1204.7h4.9M1621.6 1206h4.9M1644.2 1206h4.9M1689.4 1206h4.9M1698.7 1206h4.9M1762.6 1206h4.9M1765.2 1206h4.9M1809.1 1206h4.9M1584.3 1207.3h4.9M1621.6 1207.3h4.9M1674.8 1207.3h4.9M1725.3 1207.3h4.9M1767.9 1207.3h4.9M1769.2 1207.3h4.9M1782.5 1207.3h4.9M1805.1 1207.3h4.9M1579 1208.7h4.9M1601.6 1208.7h4.9M1646.8 1208.7h4.9M1713.3 1208.7h4.9M1722.7 1208.7h4.9M1761.2 1208.7h4.9M1771.9 1208.7h4.9M1778.5 1208.7h4.9M1787.8 1208.7h4.9M1795.8 1208.7h4.9M1801.1 1208.7h4.9M1661.5 1210h4.9M1673.4 1210h4.9M1713.3 1210h4.9M1733.3 1210h4.9M1736 1210h4.9M1749.3 1210h4.9M1580.3 1211.3h4.9M1612.3 1211.3h4.9M1668.1 1211.3h4.9M1673.4 1211.3h4.9M1726.6 1211.3h4.9M1728 1211.3h4.9M1730.6 1211.3h4.9M1741.3 1211.3h4.9M1742.6 1211.3h4.9M1751.9 1211.3h4.9M1753.2 1211.3h4.9M1791.8 1211.3h4.9M1641.5 1212.7h4.9M1657.5 1212.7h4.9M1668.1 1212.7h4.9M1716 1212.7h4.9M1589.7 1214h4.9M1592.3 1214h4.9M1628.2 1214h4.9M1644.2 1214h4.9M1673.4 1214h4.9M1698.7 1214h4.9M1775.9 1214h4.9M1599 1215.3h4.9M1633.5 1215.3h4.9M1634.9 1215.3h4.9M1645.5 1215.3h4.9M1658.8 1215.3h4.9M1718.7 1215.3h4.9M1737.3 1215.3h4.9M1741.3 1215.3h4.9M1758.6 1215.3h4.9M1787.8 1215.3h4.9M1540.4 1216.7h4.9M1581.7 1216.7h4.9M1599 1216.7h4.9M1636.2 1216.7h4.9M1654.8 1216.7h4.9M1673.4 1216.7h4.9M1722.7 1216.7h4.9M1734.6 1216.7h4.9M1737.3 1216.7h4.9M1738.6 1216.7h4.9M1765.2 1216.7h4.9M1773.2 1216.7h4.9M1798.5 1216.7h4.9M1799.8 1216.7h4.9M1592.3 1218h4.9M1599 1218h4.9M1614.9 1218h4.9M1629.6 1218h4.9M1632.2 1218h4.9M1672.1 1218h4.9M1714.7 1218h4.9M1722.7 1218h4.9M1733.3 1218h4.9M1747.9 1218h4.9M1753.2 1218h4.9M1606.9 1219.3h4.9M1657.5 1219.3h4.9M1668.1 1219.3h4.9M1698.7 1219.3h4.9M1712 1219.3h4.9M1743.9 1219.3h4.9M1581.7 1220.6h4.9M1599 1220.6h4.9M1609.6 1220.6h4.9M1614.9 1220.6h4.9M1622.9 1220.6h4.9M1630.9 1220.6h4.9M1641.5 1220.6h4.9M1668.1 1220.6h4.9M1670.8 1220.6h4.9M1672.1 1220.6h4.9M1676.1 1220.6h4.9M1722.7 1220.6h4.9M1741.3 1220.6h4.9M1822.4 1220.6h4.9M1543.1 1222h4.9M1557.7 1222h4.9M1575 1222h4.9M1600.3 1222h4.9M1653.5 1222h4.9M1657.5 1222h4.9M1662.8 1222h4.9M1676.1 1222h4.9M1698.7 1222h4.9M1763.9 1222h4.9M1765.2 1222h4.9M1728 1223.3h4.9M1596.3 1224.6h4.9M1644.2 1224.6h4.9M1648.2 1224.6h4.9M1725.3 1224.6h4.9M1730.6 1224.6h4.9M1743.9 1224.6h4.9M1745.3 1224.6h4.9M1766.5 1224.6h4.9M1831.7 1224.6h4.9M1575 1226h4.9M1624.2 1226h4.9M1629.6 1226h4.9M1632.2 1226h4.9M1641.5 1226h4.9M1666.8 1226h4.9M1674.8 1226h4.9M1725.3 1226h4.9M1732 1226h4.9M1741.3 1226h4.9M1778.5 1226h4.9M1545.8 1227.3h4.9M1592.3 1227.3h4.9M1609.6 1227.3h4.9M1641.5 1227.3h4.9M1660.1 1227.3h4.9M1690.7 1227.3h4.9M1718.7 1227.3h4.9M1728 1227.3h4.9M1738.6 1227.3h4.9M1761.2 1227.3h4.9M1575 1228.6h4.9M1587 1228.6h4.9M1595 1228.6h4.9M1650.8 1228.6h4.9M1743.9 1228.6h4.9M1747.9 1228.6h4.9M1782.5 1228.6h4.9M1802.5 1228.6h4.9M1591 1230h4.9M1599 1230h4.9M1648.2 1230h4.9M1653.5 1230h4.9M1654.8 1230h4.9M1681.4 1230h4.9M1724 1230h4.9M1730.6 1230h4.9M1749.3 1230h4.9M1603 1231.3h4.9M1633.5 1231.3h4.9M1634.9 1231.3h4.9M1685.4 1231.3h4.9M1709.4 1231.3h4.9M1742.6 1231.3h4.9M1759.9 1231.3h4.9M1790.5 1231.3h4.9M1575 1232.6h4.9M1597.6 1232.6h4.9M1605.6 1232.6h4.9M1628.2 1232.6h4.9M1654.8 1232.6h4.9M1713.3 1232.6h4.9M1714.7 1232.6h4.9M1717.3 1232.6h4.9M1742.6 1232.6h4.9M1746.6 1232.6h4.9M1770.5 1232.6h4.9M1588.3 1233.9h4.9M1625.6 1233.9h4.9M1628.2 1233.9h4.9M1649.5 1233.9h4.9M1700 1233.9h4.9M1705.4 1233.9h4.9M1722.7 1233.9h4.9M1729.3 1233.9h4.9M1745.3 1233.9h4.9M1749.3 1233.9h4.9M1757.2 1233.9h4.9M1763.9 1233.9h4.9M1790.5 1233.9h4.9M1810.4 1233.9h4.9M1616.3 1235.3h4.9M1617.6 1235.3h4.9M1626.9 1235.3h4.9M1629.6 1235.3h4.9M1652.2 1235.3h4.9M1654.8 1235.3h4.9M1662.8 1235.3h4.9M1692.1 1235.3h4.9M1714.7 1235.3h4.9M1745.3 1235.3h4.9M1577.7 1236.6h4.9M1612.3 1236.6h4.9M1621.6 1236.6h4.9M1628.2 1236.6h4.9M1642.9 1236.6h4.9M1668.1 1236.6h4.9M1680.1 1236.6h4.9M1685.4 1236.6h4.9M1716 1236.6h4.9M1734.6 1236.6h4.9M1817.1 1236.6h4.9M1567 1237.9h4.9M1652.2 1237.9h4.9M1732 1237.9h4.9M1734.6 1237.9h4.9M1571 1239.3h4.9M1613.6 1239.3h4.9M1652.2 1239.3h4.9M1661.5 1239.3h4.9M1678.8 1239.3h4.9M1697.4 1239.3h4.9M1717.3 1239.3h4.9M1722.7 1239.3h4.9M1749.3 1239.3h4.9M1778.5 1239.3h4.9M1580.3 1240.6h4.9M1624.2 1240.6h4.9M1625.6 1240.6h4.9M1641.5 1240.6h4.9M1645.5 1240.6h4.9M1650.8 1240.6h4.9M1738.6 1240.6h4.9M1747.9 1240.6h4.9M1769.2 1240.6h4.9M1831.7 1240.6h4.9M1633.5 1241.9h4.9M1640.2 1241.9h4.9M1646.8 1241.9h4.9M1657.5 1241.9h4.9M1712 1241.9h4.9M1736 1241.9h4.9M1575 1243.3h4.9M1597.6 1243.3h4.9M1600.3 1243.3h4.9M1608.3 1243.3h4.9M1609.6 1243.3h4.9M1616.3 1243.3h4.9M1626.9 1243.3h4.9M1638.9 1243.3h4.9M1641.5 1243.3h4.9M1704 1243.3h4.9M1745.3 1243.3h4.9M1761.2 1243.3h4.9M1763.9 1243.3h4.9M1770.5 1243.3h4.9M1616.3 1244.6h4.9M1621.6 1244.6h4.9M1644.2 1244.6h4.9M1648.2 1244.6h4.9M1682.8 1244.6h4.9M1693.4 1244.6h4.9M1696.1 1244.6h4.9M1714.7 1244.6h4.9M1716 1244.6h4.9M1720 1244.6h4.9M1724 1244.6h4.9M1773.2 1244.6h4.9M1596.3 1245.9h4.9M1600.3 1245.9h4.9M1604.3 1245.9h4.9M1613.6 1245.9h4.9M1625.6 1245.9h4.9M1637.5 1245.9h4.9M1743.9 1245.9h4.9M1552.4 1247.2h4.9M1617.6 1247.2h4.9M1654.8 1247.2h4.9M1670.8 1247.2h4.9M1697.4 1247.2h4.9M1698.7 1247.2h4.9M1704 1247.2h4.9M1716 1247.2h4.9M1737.3 1247.2h4.9M1592.3 1248.6h4.9M1640.2 1248.6h4.9M1654.8 1248.6h4.9M1702.7 1248.6h4.9M1721.3 1248.6h4.9M1729.3 1248.6h4.9M1746.6 1248.6h4.9M1767.9 1248.6h4.9M1569.7 1249.9h4.9M1593.6 1249.9h4.9M1609.6 1249.9h4.9M1669.5 1249.9h4.9M1674.8 1249.9h4.9M1690.7 1249.9h4.9M1698.7 1249.9h4.9M1704 1249.9h4.9M1596.3 1251.2h4.9M1599 1251.2h4.9M1617.6 1251.2h4.9M1692.1 1251.2h4.9M1718.7 1251.2h4.9M1746.6 1251.2h4.9M1628.2 1252.6h4.9M1670.8 1252.6h4.9M1674.8 1252.6h4.9M1678.8 1252.6h4.9M1666.8 1253.9h4.9M1681.4 1253.9h4.9M1593.6 1255.2h4.9M1626.9 1255.2h4.9M1634.9 1255.2h4.9M1660.1 1255.2h4.9M1612.3 1256.6h4.9M1616.3 1256.6h4.9M1656.2 1256.6h4.9M1688.1 1256.6h4.9M1705.4 1256.6h4.9M1721.3 1256.6h4.9M1724 1256.6h4.9M1551.1 1257.9h4.9M1652.2 1257.9h4.9M1654.8 1257.9h4.9M1721.3 1257.9h4.9M1617.6 1259.2h4.9M1633.5 1259.2h4.9M1694.7 1259.2h4.9M1630.9 1260.5h4.9M1710.7 1260.5h4.9M1767.9 1260.5h4.9M1629.6 1261.9h4.9M1634.9 1261.9h4.9M1701.4 1261.9h4.9M1753.2 1261.9h4.9M1610.9 1263.2h4.9M1636.2 1263.2h4.9M1656.2 1263.2h4.9M1660.1 1263.2h4.9M1700 1263.2h4.9M1709.4 1263.2h4.9M1577.7 1264.5h4.9M1626.9 1264.5h4.9M1642.9 1264.5h4.9M1732 1264.5h4.9M1753.2 1264.5h4.9M1809.1 1264.5h4.9M1661.5 1265.9h4.9M1669.5 1265.9h4.9M1692.1 1265.9h4.9M1706.7 1265.9h4.9M1632.2 1267.2h4.9M1634.9 1267.2h4.9M1637.5 1267.2h4.9M1693.4 1267.2h4.9M1704 1267.2h4.9M1713.3 1267.2h4.9M1738.6 1267.2h4.9M1753.2 1267.2h4.9M1612.3 1268.5h4.9M1630.9 1268.5h4.9M1645.5 1268.5h4.9M1678.8 1268.5h4.9M1694.7 1268.5h4.9M1725.3 1268.5h4.9M1604.3 1269.9h4.9M1629.6 1269.9h4.9M1636.2 1269.9h4.9M1613.6 1271.2h4.9M1680.1 1271.2h4.9M1688.1 1271.2h4.9M1690.7 1271.2h4.9M1694.7 1271.2h4.9M1734.6 1271.2h4.9M1734.6 1272.5h4.9M1739.9 1272.5h4.9M1773.2 1273.8h4.9M1754.6 1275.2h4.9M1765.2 1275.2h4.9M1714.7 1276.5h4.9M1732 1276.5h4.9M1662.8 1277.8h4.9M1685.4 1277.8h4.9M1783.8 1277.8h4.9M1668.1 1279.2h4.9M1745.3 1280.5h4.9M1765.2 1283.2h4.9M1809.1 1284.5h4.9M1610.9 1287.1h4.9M1728 1289.8h4.9M1826.4 1289.8h4.9M1664.1 1291.1h4.9M1650.8 1292.5h4.9M1698.7 1293.8h4.9M1742.6 1293.8h4.9M1753.2 1293.8h4.9M1757.2 1293.8h4.9M1799.8 1295.1h4.9M1704 1300.4h4.9M1759.9 1300.4h4.9M1770.5 1301.8h4.9M1721.3 1303.1h4.9M1730.6 1303.1h4.9M1790.5 1304.4h4.9M1673.4 1305.8h4.9M1705.4 1308.4h4.9M1709.4 1312.4h4.9M1762.6 1312.4h4.9M1693.4 1315.1h4.9M1657.5 1316.4h4.9M1733.3 1319.1h4.9M1708 1320.4h4.9M1722.7 1320.4h4.9M1708 1321.7h4.9M1742.6 1325.7h4.9M1745.3 1333.7h4.9M1782.5 1333.7h4.9M1689.4 1335h4.9M1721.3 1339h4.9M1712 1341.7h4.9M1762.6 1341.7h4.9M1736 1364.3h4.9" stroke="#0000ff" stroke-width="4.9" fill="none"/>
<path d="M1688.1 1179.4h4.9M1747.9 1195.4h4.9M1656.2 1208.7h4.9M1743.9 1210h4.9M1769.2 1211.3h4.9M1733.3 1216.7h4.9M1612.3 1220.6h4.9M1672.1 1222h4.9M1673.4 1226h4.9M1585.7 1231.3h4.9M1613.6 1233.9h4.9M1638.9 1233.9h4.9M1664.1 1235.3h4.9M1741.3 1239.3h4.9M1628.2 1240.6h4.9M1750.6 1247.2h4.9M1686.7 1248.6h4.9M1642.9 1251.2h4.9M1641.5 1256.6h4.9M1670.8 1260.5h4.9" stroke="#ff2000" stroke-width="4.9" fill="none"/>
<rect x="1534.8" y="1207.1" width="161.6" height="163.8" fill="none" stroke="#000" stroke-width="2.2"/>
<rect x="1704.4" y="1207.1" width="130.7" height="163.8" fill="none" stroke="#000" stroke-width="2.2"/>
<path d="M1622 1380.9v3.6M1623.4 1380.9v3.6M1624.7 1380.9v3.6M1625.8 1380.9v3.6M1628 1380.9v3.6M1628.9 1380.9v3.6M1629.8 1380.9v3.6M1630.7 1380.9v3.6M1619 1380.9v3.6M1617.6 1380.9v3.6M1616.3 1380.9v3.6M1615.2 1380.9v3.6M1613 1380.9v3.6M1612.1 1380.9v3.6M1611.2 1380.9v3.6M1610.3 1380.9v3.6" stroke="#000" stroke-width="1.3" fill="none"/>
<path d="M1626.9 1380.9v6.8M1664.5 1380.9v6.8M1723.2 1380.9v6.8M1778.6 1380.9v6.8M1830.8 1380.9v6.8M1614.1 1380.9v6.8M1577.7 1380.9v6.8" stroke="#000" stroke-width="1.7" fill="none"/>
<path d="M1631.5 1380.9v9.5M1682.7 1380.9v9.5M1741.2 1380.9v9.5M1794.7 1380.9v9.5M1846.3 1380.9v9.5M1609.5 1380.9v9.5M1560.2 1380.9v9.5" stroke="#000" stroke-width="2.4" fill="none"/>
<path d="M1643.7 1380.9v4.3M1652.3 1380.9v4.3M1659 1380.9v4.3M1669.1 1380.9v4.3M1673.1 1380.9v4.3M1676.7 1380.9v4.3M1679.8 1380.9v4.3M1699.8 1380.9v4.3M1710 1380.9v4.3M1717.4 1380.9v4.3M1727.9 1380.9v4.3M1731.9 1380.9v4.3M1735.4 1380.9v4.3M1738.4 1380.9v4.3M1757.3 1380.9v4.3M1766.7 1380.9v4.3M1773.4 1380.9v4.3M1782.8 1380.9v4.3M1786.4 1380.9v4.3M1789.5 1380.9v4.3M1792.2 1380.9v4.3M1810.2 1380.9v4.3M1819.3 1380.9v4.3M1825.8 1380.9v4.3M1834.8 1380.9v4.3M1838.3 1380.9v4.3M1841.3 1380.9v4.3M1843.9 1380.9v4.3M1861.8 1380.9v4.3M1597.8 1380.9v4.3M1589.5 1380.9v4.3M1583 1380.9v4.3M1573.3 1380.9v4.3M1569.4 1380.9v4.3M1566 1380.9v4.3M1563 1380.9v4.3M1541.5 1380.9v4.3" stroke="#000" stroke-width="1.2" fill="none"/>
<path d="M1620.5 1380.9v8.5" stroke="#000" stroke-width="2.6" fill="none"/>
<text x="1560.2" y="1404.9" font-size="13.4" font-weight="bold" text-anchor="middle">-10<tspan font-size="9" dy="-4">2</tspan></text>
<text x="1620.5" y="1404.9" font-size="13.4" font-weight="bold" text-anchor="middle">0</text>
<text x="1682.7" y="1404.9" font-size="13.4" font-weight="bold" text-anchor="middle">10<tspan font-size="9" dy="-4">2</tspan></text>
<text x="1741.2" y="1404.9" font-size="13.4" font-weight="bold" text-anchor="middle">10<tspan font-size="9" dy="-4">3</tspan></text>
<text x="1794.7" y="1404.9" font-size="13.4" font-weight="bold" text-anchor="middle">10<tspan font-size="9" dy="-4">4</tspan></text>
<text x="1846.3" y="1404.9" font-size="13.4" font-weight="bold" text-anchor="middle">10<tspan font-size="9" dy="-4">5</tspan></text>
<path d="M1529.6 1248.2h-8.5" stroke="#000" stroke-width="2.6" fill="none"/>
<path d="M1529.6 1248.1h-3.6M1529.6 1247.9h-3.6M1529.6 1248.3h-3.6M1529.6 1248.5h-3.6" stroke="#000" stroke-width="1.3" fill="none"/>
<path d="M1529.6 1248h-6.8M1529.6 1246.2h-6.8M1529.6 1228.8h-6.8M1529.6 1163.8h-6.8M1529.6 1088h-6.8M1529.6 1248.4h-6.8M1529.6 1250.2h-6.8M1529.6 1265.6h-6.8M1529.6 1329.4h-6.8" stroke="#000" stroke-width="1.7" fill="none"/>
<path d="M1529.6 1247.8h-9.5M1529.6 1244.2h-9.5M1529.6 1214.6h-9.5M1529.6 1135.7h-9.5M1529.6 1066.7h-9.5M1529.6 1248.6h-9.5M1529.6 1252.2h-9.5M1529.6 1278h-9.5M1529.6 1357.7h-9.5" stroke="#000" stroke-width="2.4" fill="none"/>
<path d="M1529.6 1247.4h-4.3M1529.6 1247h-4.3M1529.6 1246.6h-4.3M1529.6 1245.8h-4.3M1529.6 1245.4h-4.3M1529.6 1245h-4.3M1529.6 1244.6h-4.3M1529.6 1239.9h-4.3M1529.6 1235.9h-4.3M1529.6 1232.3h-4.3M1529.6 1225.6h-4.3M1529.6 1222.6h-4.3M1529.6 1219.8h-4.3M1529.6 1217.1h-4.3M1529.6 1195.8h-4.3M1529.6 1182.5h-4.3M1529.6 1172.2h-4.3M1529.6 1156.6h-4.3M1529.6 1150.4h-4.3M1529.6 1145h-4.3M1529.6 1140.1h-4.3M1529.6 1115.6h-4.3M1529.6 1103.5h-4.3M1529.6 1094.8h-4.3M1529.6 1082.4h-4.3M1529.6 1077.7h-4.3M1529.6 1073.6h-4.3M1529.6 1069.9h-4.3M1529.6 1045.3h-4.3M1529.6 1249h-4.3M1529.6 1249.4h-4.3M1529.6 1249.8h-4.3M1529.6 1250.6h-4.3M1529.6 1251h-4.3M1529.6 1251.4h-4.3M1529.6 1251.8h-4.3M1529.6 1256h-4.3M1529.6 1259.4h-4.3M1529.6 1262.6h-4.3M1529.6 1268.4h-4.3M1529.6 1271h-4.3M1529.6 1273.5h-4.3M1529.6 1275.8h-4.3M1529.6 1297h-4.3M1529.6 1310.4h-4.3M1529.6 1320.8h-4.3M1529.6 1336.6h-4.3M1529.6 1342.8h-4.3M1529.6 1348.3h-4.3M1529.6 1353.2h-4.3" stroke="#000" stroke-width="1.2" fill="none"/>
<text x="1519" y="1069.2" font-size="13.4" font-weight="bold" text-anchor="end">10<tspan font-size="9" dy="-4">5</tspan></text>
<text x="1519" y="1138.2" font-size="13.4" font-weight="bold" text-anchor="end">10<tspan font-size="9" dy="-4">4</tspan></text>
<text x="1519" y="1217.1" font-size="13.4" font-weight="bold" text-anchor="end">10<tspan font-size="9" dy="-4">3</tspan></text>
<text x="1519" y="1252.3" font-size="13.4" font-weight="bold" text-anchor="end">0</text>
<text x="1519" y="1280.5" font-size="13.4" font-weight="bold" text-anchor="end">-10<tspan font-size="9" dy="-4">3</tspan></text>
<text x="1519" y="1360.2" font-size="13.4" font-weight="bold" text-anchor="end">-10<tspan font-size="9" dy="-4">4</tspan></text>
<text x="1530.8" y="1036.1" font-size="27.2">CD64+</text>
<text x="1538.1" y="1366.4" font-size="28.6">43.7</text>
<text x="1776.2" y="1366.4" font-size="28.6">30.4</text>
<text x="1699.4" y="1434.4" font-size="28" text-anchor="middle">MHC II - AF700</text>
<text x="1487.3" y="1211.6" font-size="28" text-anchor="middle" transform="rotate(-90 1487.3 1211.6)">Ly6C - PerCP/Cy5.5</text>
<text x="1.3" y="1535.6" font-size="59" font-weight="bold">c</text>
<text x="141.6" y="1536.8" font-size="32.6" font-weight="bold">CD45.2 YFP+ cell population</text>
<path d="M155.2 1755.9H766" stroke="#000" stroke-width="4.6" stroke-linecap="round" stroke-dasharray="0 12.69" fill="none"/>
<path d="M142.6 1569.9V1768.2M132.4 1768.2H152.8M132.4 1799.8H152.8M142.6 1799.8V1997.8M140.3 1995.5H778.9M125.6 1572.2H142.6M125.6 1634.1H142.6M125.6 1694.8H142.6M125.6 1756.1H142.6M125.6 1843.4H142.6M125.6 1886.6H142.6M125.6 1929.6H142.6M125.6 1973.5H142.6M198.4 1995.5V2012.7M328.6 1995.5V2012.7M458.5 1995.5V2012.7M588 1995.5V2012.7M717.5 1995.5V2012.7" stroke="#000" stroke-width="4.6" fill="none"/>
<text x="120.3" y="1582.2" font-size="27" text-anchor="end" font-weight="bold">4</text>
<text x="120.3" y="1644.1" font-size="27" text-anchor="end" font-weight="bold">3</text>
<text x="120.3" y="1704.8" font-size="27" text-anchor="end" font-weight="bold">2</text>
<text x="120.3" y="1766.1" font-size="27" text-anchor="end" font-weight="bold">1</text>
<text x="120.3" y="1810.2" font-size="27" text-anchor="end" font-weight="bold">0.8</text>
<text x="120.3" y="1853.4" font-size="27" text-anchor="end" font-weight="bold">0.6</text>
<text x="120.3" y="1896.6" font-size="27" text-anchor="end" font-weight="bold">0.4</text>
<text x="120.3" y="1939.6" font-size="27" text-anchor="end" font-weight="bold">0.2</text>
<text x="120.3" y="1983.5" font-size="27" text-anchor="end" font-weight="bold">0.0</text>
<text x="56.8" y="1782.6" font-size="28" text-anchor="middle" font-weight="bold" transform="rotate(-90 56.8 1782.6)">Ratio</text>
<circle cx="626.6" cy="1587.3" r="8.3" fill="#0000ff"/>
<text x="642.2" y="1594.6" font-size="27.9" font-weight="bold">Corn Oil</text>
<rect x="619.3" y="1630.8" width="14.9" height="14.5" fill="#056839"/>
<text x="642.8" y="1644.6" font-size="27.9" font-weight="bold">Tamoxifen</text>
<path d="M175 1756V1866.4M158.7 1813.4H191.3M166.8 1756H183.2M166.8 1866.4H183.2" stroke="#0000ff" stroke-width="4.1" fill="none"/>
<circle cx="175" cy="1749.8" r="9" fill="#0000ff"/>
<circle cx="167" cy="1825.5" r="9" fill="#0000ff"/>
<circle cx="183" cy="1832.3" r="9" fill="#0000ff"/>
<circle cx="175" cy="1858.4" r="9" fill="#0000ff"/>
<rect x="207.2" y="1957.8" width="17.6" height="17.6" fill="#056839"/>
<rect x="212.2" y="1952.4" width="17.6" height="17.6" fill="#056839"/>
<rect x="222.7" y="1957.4" width="17.6" height="17.6" fill="#056839"/>
<rect x="216.2" y="1957.6" width="17.6" height="17.6" fill="#056839"/>
<path d="M304.7 1649.3V1935.8M288.4 1727.7H321M296.5 1649.3H312.9M296.5 1935.8H312.9" stroke="#0000ff" stroke-width="4.1" fill="none"/>
<circle cx="304.7" cy="1615.2" r="9" fill="#0000ff"/>
<circle cx="304.7" cy="1734.5" r="9" fill="#0000ff"/>
<circle cx="304.7" cy="1801.1" r="9" fill="#0000ff"/>
<circle cx="304.7" cy="1886.8" r="9" fill="#0000ff"/>
<rect x="336.7" y="1958.7" width="17.6" height="17.6" fill="#056839"/>
<rect x="341.2" y="1948.2" width="17.6" height="17.6" fill="#056839"/>
<rect x="352.6" y="1950" width="17.6" height="17.6" fill="#056839"/>
<rect x="346.9" y="1953.7" width="17.6" height="17.6" fill="#056839"/>
<path d="M434.2 1749V1840.5M417.9 1765H450.5M426 1749H442.4M426 1840.5H442.4" stroke="#0000ff" stroke-width="4.1" fill="none"/>
<circle cx="434.2" cy="1742.3" r="9" fill="#0000ff"/>
<circle cx="426.2" cy="1803.6" r="9" fill="#0000ff"/>
<circle cx="442.2" cy="1810.5" r="9" fill="#0000ff"/>
<circle cx="426.2" cy="1826.8" r="9" fill="#0000ff"/>
<rect x="466.2" y="1929.8" width="17.6" height="17.6" fill="#056839"/>
<rect x="475.2" y="1930" width="17.6" height="17.6" fill="#056839"/>
<rect x="482.2" y="1936.8" width="17.6" height="17.6" fill="#056839"/>
<rect x="466.2" y="1948.6" width="17.6" height="17.6" fill="#056839"/>
<path d="M564.1 1745.7V1875.2M547.8 1766.8H580.4M555.9 1745.7H572.3M555.9 1875.2H572.3" stroke="#0000ff" stroke-width="4.1" fill="none"/>
<circle cx="564.1" cy="1738.9" r="9" fill="#0000ff"/>
<circle cx="564.1" cy="1767.3" r="9" fill="#0000ff"/>
<circle cx="564.1" cy="1801.8" r="9" fill="#0000ff"/>
<circle cx="564.1" cy="1889.2" r="9" fill="#0000ff"/>
<path d="M613 1849.8V1975.4M596.7 1912.2H629.3M604.8 1849.8H621.2" stroke="#056839" stroke-width="4.1" fill="none"/>
<path d="M604.8 1975.4H621.2" stroke="#056839" stroke-width="1.6" fill="none"/>
<rect x="604.2" y="1810.1" width="17.6" height="17.6" fill="#056839"/>
<rect x="596.2" y="1925.8" width="17.6" height="17.6" fill="#056839"/>
<rect x="612.2" y="1934.9" width="17.6" height="17.6" fill="#056839"/>
<rect x="596.2" y="1944" width="17.6" height="17.6" fill="#056839"/>
<path d="M693.6 1747V1855.9M677.3 1762H709.9M685.4 1747H701.8M685.4 1855.9H701.8" stroke="#0000ff" stroke-width="4.1" fill="none"/>
<circle cx="685.3" cy="1746.8" r="9" fill="#0000ff"/>
<circle cx="701.7" cy="1746.8" r="9" fill="#0000ff"/>
<circle cx="693.6" cy="1761.8" r="9" fill="#0000ff"/>
<circle cx="693.6" cy="1889.2" r="9" fill="#0000ff"/>
<path d="M742.5 1930V1960" stroke="#056839" stroke-width="4.1" fill="none"/>
<rect x="733.7" y="1921.2" width="17.6" height="17.6" fill="#056839"/>
<rect x="733.7" y="1944" width="17.6" height="17.6" fill="#056839"/>
<rect x="725.7" y="1953.8" width="17.6" height="17.6" fill="#056839"/>
<rect x="741.7" y="1952.7" width="17.6" height="17.6" fill="#056839"/>
<text x="207" y="2030" font-size="28" font-weight="bold" text-anchor="end" transform="rotate(-45 207 2030)">Ly6C<tspan font-size="18" dy="-10.5">hi</tspan><tspan font-size="28" dy="10.5" dx="-2"> Mo</tspan></text>
<text x="337.5" y="2030" font-size="28" font-weight="bold" text-anchor="end" transform="rotate(-45 337.5 2030)">Ly6C<tspan font-size="18" dy="-10.5">mid</tspan><tspan font-size="28" dy="10.5" dx="-2"> Mo</tspan></text>
<text x="467" y="2030" font-size="28" font-weight="bold" text-anchor="end" transform="rotate(-45 467 2030)">Ly6C<tspan font-size="18" dy="-10.5">low</tspan><tspan font-size="28" dy="10.5" dx="-2"> Mo</tspan></text>
<text x="599.5" y="2031" font-size="28" font-weight="bold" text-anchor="end" transform="rotate(-45 599.5 2031)">MHC II<tspan font-size="18" dy="-10.5">neg</tspan><tspan font-size="28" dy="10.5" dx="-2"> M&#966;</tspan></text>
<text x="729.5" y="2031" font-size="28" font-weight="bold" text-anchor="end" transform="rotate(-45 729.5 2031)">MHC II<tspan font-size="18" dy="-10.5">pos</tspan><tspan font-size="28" dy="10.5" dx="-2"> M&#966;</tspan></text>
</svg>
</body></html>
